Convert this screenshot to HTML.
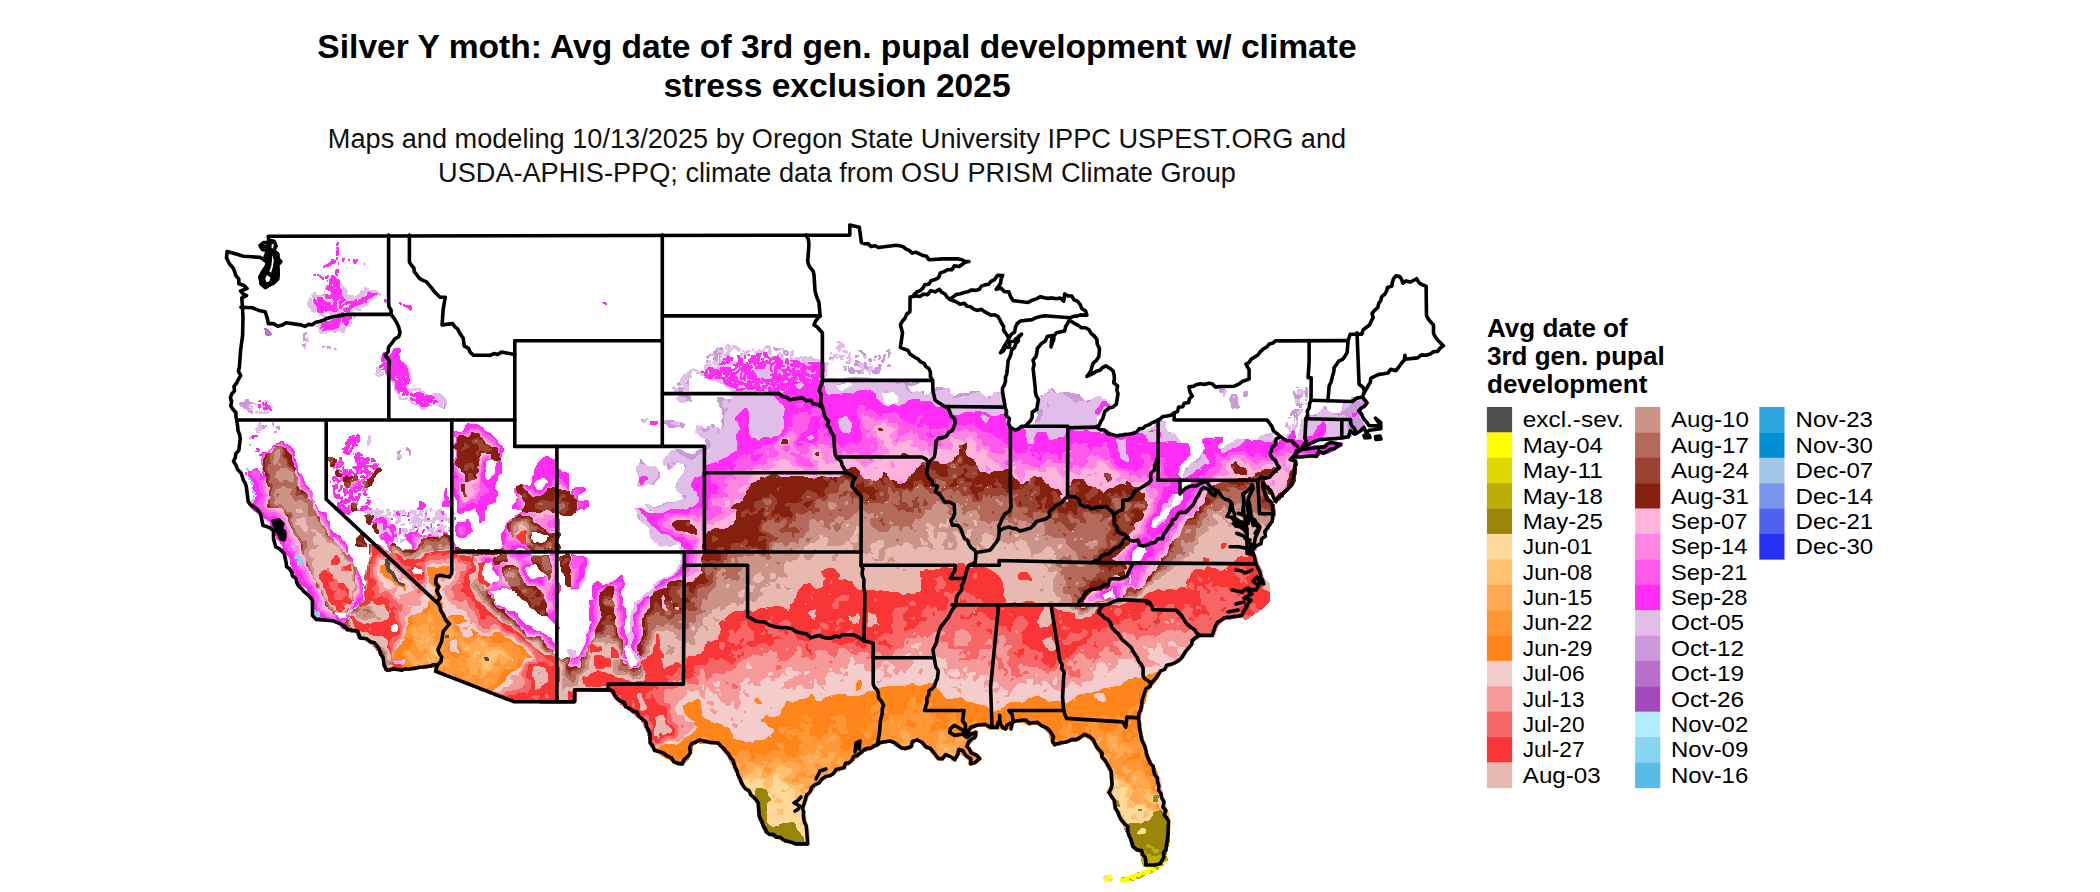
<!DOCTYPE html>
<html><head><meta charset="utf-8"><title>Silver Y moth</title>
<style>
html,body{margin:0;padding:0;background:#fff;}
body{width:2100px;height:892px;overflow:hidden;font-family:"Liberation Sans",sans-serif;}
svg{display:block;position:absolute;left:0;top:0}
text{font-family:"Liberation Sans",sans-serif;fill:#000}
.t{font-size:33.6px;font-weight:bold;text-anchor:middle}
.s{font-size:27.15px;text-anchor:middle;fill:#111}
.lt{font-size:26px;font-weight:bold}
.ll{font-size:21.4px}
.b{fill:none;stroke:#000;stroke-width:3.6;stroke-linejoin:round;stroke-linecap:round}
</style></head><body>
<svg width="2100" height="892" viewBox="0 0 2100 892">
<rect width="2100" height="892" fill="#fff"/>

<g transform="translate(0.5,0.5)" stroke-width="1.7" stroke-linejoin="round" shape-rendering="crispEdges">
<path fill="#CC98DB" stroke="#CC98DB" d="M638 514l-1 1l3 5zM401 510l2 0zM649 509l1 1l2 0zM675 502l-11 1l-2 2l-2 0l-4 2l-4 0l6 0l3 -2l2 0l2 -2zM682 494l1 3l1 -1l1 1l2 -1zM676 483l0 2zM658 471l0 5l-3 2l-3 6l1 0l1 -3l5 -5l-1 -1l1 -2zM1188 467l-3 2l0 2zM685 464l-1 1l1 1l0 2zM677 460l-1 0l-2 3l-2 -2l-3 2l-2 0l1 6l4 -3l-1 -1l1 -1l2 0zM669 463l1 -1l2 2l-2 1zM640 459l0 4l-1 1l3 -1l3 2l0 -1l-1 0zM397 456l1 2l-1 1l3 -1zM1200 455l0 2l-4 3l-1 2l2 0l3 -3zM400 450l-3 2l0 2l2 -1l0 -2zM406 447l0 2l3 2l0 4l1 -4zM711 444l-2 -2l0 -2l-4 -2l0 2l2 3l-1 1l1 2l-3 3l-6 1l-3 3l-4 2l-1 -1l-5 -1l-6 -4l-4 0l0 1l6 5l10 5l1 -1l2 0l9 -8l2 0l4 -3l0 -2l2 -1zM1271 433l-2 0l-1 2l-1 -1l-2 0l3 2l1 -2zM1168 432l1 1l1 0l-1 -1zM1358 432l-6 -1l0 1l-5 4l0 2l1 0l0 -1l2 -1l2 -3l3 2l2 -1zM275 431l-1 1l1 0l1 -1zM1364 429l-3 1l0 1zM718 428l-2 3l2 3l0 -3l1 -1zM1023 426l4 0zM700 426l2 2l0 3l5 0l3 -2l-2 -3l-2 3l-2 0zM276 426l0 2l2 0l1 1l0 -3zM265 425l1 1zM260 425l2 3l2 0l-1 -3zM261 426l1 -1l1 1l-1 1zM711 424l0 2l3 1l-1 -3zM1363 423l0 3l1 0zM1286 422l0 3l-1 1l2 -2zM1096 422l0 2zM272 422l0 1l1 1l0 2l0 -2l-1 -1zM1290 420zM1157 420l1 1l4 0zM663 421l0 1l3 1l3 4l4 0l1 -1l6 0l2 1l2 -3l-4 -2l0 2l-2 2l-1 -1l-3 0l-1 -1l3 -2l-2 0l-2 -2zM670 422l1 -1l2 0l1 2l-1 1l-2 0zM1288 419zM641 420l1 -1l2 0l-3 0zM1288 417l2 0zM1316 414l-5 2l-3 -1l-4 2l5 0l3 -2l4 1zM1302 409l-1 1l1 0zM1299 409l-4 0l-2 1l-3 4l0 1l1 -1l2 0l1 1l0 5l0 -3l1 -1l1 1l0 3l1 -1l0 -4l2 -1l-1 0l-2 -3zM1293 414l1 -1l2 0l1 1l-2 2zM1342 407l0 4l-4 3l-2 -1l-4 0l3 0l2 2l5 -1l-2 -1l2 -2zM1037 407l1 8l-3 6l0 4l0 -3l1 -1l3 0l1 -5l1 -1l2 0l0 -2l-1 -1l1 -2l-1 -1l-3 0zM1324 406l-1 2l2 0l1 1l0 -2zM1343 403l0 1l1 -1zM1305 403l1 0zM1296 405l3 -1l1 1l-1 2l2 0l-1 -2l1 -1l2 0l-4 0l-2 -1zM1365 402l0 4l1 -2zM1047 402l0 5l1 0l0 -4zM1038 402l0 3zM444 402l0 5l-1 1l2 -3zM1306 399l-1 1l1 0zM1092 399l-4 2l-1 -1l-1 2l2 0zM727 399l0 2l2 2l1 -4l-1 1zM240 402l-1 2l1 0l1 2l1 -1l3 3l1 -1l2 4l4 2l-1 -3l-1 1l-2 -1l1 -1l-2 -3l2 -1l0 -2l1 -1l1 1l2 0l-4 -1l-2 -2l1 -1l-2 0l-2 3zM244 404l1 -1l2 1l-1 1zM243 399zM717 397l1 2l-1 2l2 1l1 5l1 0l2 3l-1 3l2 3l0 1l-2 1l0 2l-1 1l1 1l0 4l-1 2l2 -1l1 -14l3 -3l0 -3l-1 0l-1 2l-4 -4l1 -1l0 -2l-1 -1l4 -2l-4 -2zM1360 397l-2 -1l-4 2l-1 -1l-1 1l-1 -1l0 2l3 1l3 -4l1 1zM991 396l-2 0l-2 3zM1042 395l-2 1l2 0zM681 395l0 1l2 0l3 3l-1 2l2 -1l3 0l1 1l-1 -1l-1 -5zM1231 394l0 2l-2 3l2 3l1 6l1 -1l3 0l1 1l-1 -1l1 -1l2 1l-2 -3l-1 -10zM1232 396l2 -1l1 2l-2 1zM1063 392l0 2l4 2l3 3l1 -1l1 2l3 2l2 0l1 -2l2 1l3 0l1 -1l-2 -1l-4 -5l-2 1l-3 -2l-1 1l-4 -2zM1001 392l-1 1l1 4l4 5l0 -2zM996 392l2 0zM1293 391l2 7l4 0l0 -1l3 -2l-6 0zM1296 397l1 -2l2 1l-2 2zM1247 391l-4 1l0 3l1 1l3 -1zM1047 392l3 0l-1 -1zM979 391l-8 0l-4 3l-7 -1l-1 1l-2 0l0 1l-3 2l-2 -1l0 2l10 -2l1 -1l6 0l2 -2zM922 391l-1 1l2 3l2 0l-2 0l-1 -1l1 -2zM887 391l-1 -1l-4 2l2 0l1 -1l2 1zM1051 388l0 2l4 3l-3 -5zM947 388l2 2l0 2l0 -3zM1305 387l1 1l0 2l-1 1l1 6l1 -1l0 -5l-1 -1l1 -2zM1296 387l2 0zM944 388l-2 0l-1 -1l-6 1l-3 2l-2 3l-1 0l3 0l1 -1l2 0l2 -2l6 -1zM683 387l-6 1l2 1l-1 2l5 -1l-1 -1zM1220 386l-1 5l3 1l2 -3l-1 -1l-2 0zM1303 385zM677 384l2 1l2 -1l-3 -2zM893 380l1 2l3 2l3 -2l3 0l2 3l0 2l4 5l3 0l-2 0l-4 -6l1 -1l4 0l8 -3l-9 1l-5 -2l-1 1l-3 0l-4 -2zM687 380l-2 4l2 -1l1 2l0 -5zM874 379l0 1l3 0l-1 -1zM868 379l1 -1l2 0l-3 0zM848 380l-2 0l-1 -1l1 -1l-1 0l-3 2l-3 0l2 0l1 1l-1 2l-5 1l3 0l1 -1l5 -1l1 -2zM851 377l2 1l5 -1zM871 374zM848 366l0 4l3 3l3 0l-1 -1l1 -1l3 0l2 2l2 0l-1 -1l1 -2l-4 1l-1 -1l-2 0l-3 -3l-2 2l-1 -1zM851 371l1 -1l2 1l-1 1zM845 366l-1 0l2 2l-2 1l0 1l2 -1l0 -2zM894 364zM887 365l0 1l3 0l-1 -2zM881 365l-3 -1l1 5l-2 1l-1 -1l1 -1l-1 -1l-2 1l1 1l-2 2l-1 -1l1 3l4 0l2 -1l0 -2l1 -1l-1 -3zM846 363l3 0zM864 362l0 5l-1 1l5 0l-3 -4l1 -1zM831 361zM704 361zM889 360zM855 360l1 1l-2 3l1 1l2 -1l1 2l0 -2l-1 -1l1 -1l2 0zM708 360l-2 0l0 2l0 -1zM869 358l-1 2l3 1l-1 -3zM829 359l4 -2l-4 0zM878 355l1 2l-1 2l2 -1l-1 -1l1 -1zM875 355l-1 2l2 0zM869 355zM855 357l3 -2l-3 0l1 1zM885 354l-1 0l-1 2l1 1l-1 2l-2 1l0 1l2 1l1 -7zM781 354l0 1l1 -1zM710 354l-4 3l2 1l0 -2l2 -1zM858 350l2 0l1 2l3 2l-1 1l2 0l0 -2l-2 0l-1 -2zM783 350l1 1l-1 1l1 2l2 1l2 -1l0 -3l-1 1l-1 -2l-2 1zM784 352l1 -1l2 2l-2 1zM889 349l-3 2l2 0l1 1l-1 5l0 -2l2 -3l-2 -1zM856 349zM716 348l0 2l-3 2l2 1l-1 1l1 2l-2 1l0 1l2 2l1 -1l1 1l-1 -5l3 -2l1 1l-1 1l0 6l0 -6l1 -1l-1 -2l1 -1l-3 2l-1 -1zM334 348l0 1l2 0zM304 348l1 0zM773 347l3 3l3 -2l-5 0zM718 349l5 -1l-2 0l-1 -1l0 1zM302 347zM327 346l0 2l1 -2l1 2l1 -1zM322 347l1 -1l2 0l-3 0zM305 343l-1 2l-1 -1l-1 1l3 1zM306 332l-3 2l0 2l1 1l-1 2l1 1l1 0l-2 -5zM322 294l0 1l1 -1z"/>
<path fill="#E1BEE7" stroke="#E1BEE7" d="M567 649l0 2l3 6l6 0l-1 -2l0 -5l-2 1l-3 -2zM587 557l-1 0l1 2l0 4l-2 5l-1 8l-1 2l-4 4l-1 0l1 2l-1 4l-1 1l-6 0l-1 -1l0 1l9 0l2 -4l-1 -2l5 -4l-1 -1l1 -1l0 -7l3 -6zM682 546l-1 1l-2 0l2 3l-1 4l2 4l-1 1l-1 5l-2 2l-2 5l-7 6l-4 0l-8 4l-1 2l-3 2l1 1l-5 6l-4 1l-1 2l-2 1l-2 4l-2 0l-3 3l-1 -1l1 1l-1 1l0 4l-3 4l-1 20l-2 1l-1 5l1 1l0 8l2 0l1 1l1 4l2 1l1 5l1 0l2 3l1 -1l-1 -5l-1 1l-1 -1l0 -2l-4 -3l-2 -5l2 -2l-1 -1l2 -3l0 -6l-2 -3l0 -3l2 -1l1 -4l-1 -1l-1 -6l4 -4l0 -6l5 -4l1 -3l2 -2l2 0l1 -1l1 1l3 0l2 -6l2 -1l-1 -2l2 -1l4 -5l4 -3l3 0l7 -3l1 -2l2 -1l0 -2l2 -1l1 -3l2 -2l1 -11l3 -4zM392 540l1 1l0 -1zM406 538l-3 2l-1 -1l-1 1l-1 -1l0 3zM396 537l0 4l1 0zM425 535l3 0zM394 530l0 4l2 -1l3 2l-1 -3zM402 528l0 3l2 1l0 2l-1 1l0 1l1 0l0 -2l2 -2l1 -3zM396 528l0 1l1 0l0 -1zM451 526l-1 1l-2 0l0 4l0 -2l1 -1l2 2zM453 523zM430 523l0 4l-3 2l1 2l3 0l1 1l-2 1l0 1l2 1l3 -1l3 2l3 0l1 -1l-4 0l-2 -2l1 -1l2 0l1 1l-3 -4l1 -1l4 4l2 -1l0 -2l-1 0l-1 -2l1 -1l1 1l2 -2l-1 0l-1 2l-1 -2l-3 -1l-2 4l-2 1l-1 3l-2 1l-1 -1l1 -1l-1 -1l2 -3l-2 2l-2 -2zM435 534l1 -1l1 1l-1 1zM423 523l0 2l2 0zM404 523l-4 2l3 0zM446 522zM453 520l0 1l1 0l0 -1zM1166 518l-1 1l-2 0l-4 3l-4 5l1 1l2 -3l2 -1l1 -2l3 -1zM1157 516l-5 3l0 2l0 -1l2 -2l2 0zM365 516l0 2zM432 510l1 0zM391 510zM451 520l-1 1l-1 -1l0 -2l-4 1l-1 -1l2 -2l-2 -3l-1 2l-3 -4l1 -1l-1 -1l-2 0l-1 2l-2 0l1 5l-3 2l-2 3l-1 -1l-2 0l-2 -2l0 -3l-2 1l0 3l-1 1l-3 -2l-3 4l-1 -1l2 -3l-1 -1l2 -3l3 2l0 -5l1 -1l-4 1l0 2l-2 2l-3 -2l2 -2l-1 -1l-2 0l-1 1l-2 -1l-1 6l1 -2l-1 -1l1 -1l2 0l2 2l0 2l-3 3l1 2l-3 2l2 -1l2 0l1 1l-2 3l0 2l-3 2l2 1l0 -2l1 -1l1 2l1 0l-1 -3l2 -1l-1 -2l2 -3l1 1l0 2l2 1l-2 1l0 2l1 1l0 2l-1 1l1 0l0 -6l1 -1l2 1l-1 -4l2 -2l10 1l1 2l1 0l-1 -2l2 -2l2 0l1 -1l2 2l0 2l0 -2l1 -1l1 1l2 -1l2 1l2 -1l1 1l-1 1l1 1l2 0zM441 517l1 -1l1 1l-1 1zM438 516l1 -1l1 2l-1 1zM414 516l1 -1l1 2l-1 1zM437 511l1 -1l1 1l-1 1zM427 509l-2 1l0 2l1 0l0 -2zM407 509zM404 509l-1 2l-4 -1l1 4l-2 2l-3 -2l1 -3l-1 -1l-2 0l1 1l0 3l-1 1l5 4l-2 1l-1 2l1 1l2 0l0 -1l2 -1l-1 -4l3 -3l3 0l1 -1l-2 -1zM395 516l1 -1l1 1l-1 1zM387 509l-1 1l2 2l-3 4l-2 -1l-3 1l2 0l4 3l1 2l-1 1l1 1l-1 2l2 1l-2 1l-2 3l-2 -1l1 -1l-1 -2l1 -1l-1 -3l-5 1l-1 3l1 1l0 2l2 2l0 3l4 -1l1 -2l3 0l1 1l0 2l2 2l2 0l-1 -1l0 -3l-2 -1l0 -3l-2 -1l2 -1l0 -3l-1 -1l2 -2l0 -2l-2 0l-3 -2l1 -1l3 0l1 -2l-3 -2l2 -2zM634 508l1 0l5 8l1 5l5 3l4 4l-1 1l1 1l-1 2l1 1l0 4l1 0l4 5l2 0l1 2l3 2l1 -1l6 0l1 1l6 -3l1 1l-1 -2l1 -1l2 0l-3 -1l-7 -6l-3 0l-1 -1l-2 1l-6 -6l-4 -2l-2 -3l-2 -1l-2 -3l0 -2l-6 -5l0 -2l-1 -1zM431 508l-2 0l1 1l0 2l0 -2zM364 512l5 1l1 2l2 0l0 -3l2 -1l1 2l-3 7l5 -5l1 1l2 -3l3 -1l0 -1l-1 -1l-2 1l-3 -2l1 -1l-2 0l1 1l-4 2l-2 -3l0 2l-1 1l-3 -2zM370 512l1 -1l1 2l-1 1zM375 511l1 -1l1 1l-1 1zM1173 493l-1 0l0 2l-2 1l-2 4l0 2l-1 1l-4 0l-1 1l0 4l-2 5l5 -6l4 -1l2 -2l0 -2l1 -1l-1 -1l3 -4l0 -2zM638 465l-2 3l0 2l2 3l1 4l5 -2l2 0l2 2l-6 8l-3 -2l-1 -2l1 -2l-2 4l1 3l3 0l6 -3l3 0l1 1l3 -6l3 -2l0 -7l-3 -3l-1 1l-2 0l-1 -1l-5 0l-3 -2zM398 454l-1 1l4 3l0 -3l-1 -1zM1205 454l-3 -2l-1 1l0 6l-4 4l-2 0l-1 -2l-3 2l-4 7l-3 2l-1 5l2 1l1 -2l2 0l2 -2l3 -1l3 -4l4 -1l5 -5l1 1l4 -1l-2 -2l0 -2l-2 -2zM1245 439l-7 0l-2 -1l2 1l-1 1l-2 0l-2 2l-7 3l-2 3l-2 0l-1 1l-1 5l2 -2l3 0l4 -3l2 0l1 -2l3 0l5 -2zM1115 439l3 7l0 4l1 1l1 7l8 4l0 -2l1 -1l-1 -1l0 -2l-3 -4l0 -12l1 -2l-5 1l-1 1l-1 -1zM370 435l-2 1l0 4l-1 1l0 3l1 1l2 -4zM812 434l-5 2l1 4l1 -1l5 -1zM1290 434l-1 -1l-3 2l1 1zM1272 431l0 2l-2 1l-2 3l-2 -2l-4 0l-2 1l-2 3l-1 0l3 0l4 2l8 0l1 -2l-1 -1zM1365 426l-2 1l2 2zM1287 425l0 2l2 2l0 2l1 0l0 -4zM1294 423zM671 422l0 1l2 0l1 1l3 0l1 1l1 -1l0 -2l-5 2l-1 -2zM259 422l-1 2l1 2l-4 3l2 1l-1 1l1 1l2 0l-2 -1l2 -2l2 1l0 -3l-2 -2l1 -2zM259 429l1 -1l1 1l-1 1zM1180 442l-6 -8l-2 -1l-3 1l-2 -2l-3 -6l1 -5l-2 0l-1 1l-4 0l-1 -1l-3 3l0 2l-9 5l-6 0l-1 1l-1 -1l-1 1l-11 0l-1 1l-4 0l-2 2l-6 0l4 1l1 -1l4 0l4 -2l8 0l1 -1l1 1l1 -1l5 0l5 4l0 2l2 2l-1 1l9 0l0 -3l2 -3l-1 -3l1 -1l1 1l1 -1l1 1l0 3l-2 3l0 3l1 1l3 0l5 -2l6 0l2 2zM1148 431l1 -1l2 0l1 1l-1 1l-2 0zM1151 430l1 -1l2 0l1 1l-1 1l-2 0zM1297 420l0 2l-3 4l-2 -2l1 2l-1 2l2 2l1 -3l2 -2zM647 418l-3 2l-2 0l0 2l3 0zM1359 416l0 2l1 1zM838 418l-1 2l1 1l1 7l3 4l2 1l2 -1l1 1l3 -1l2 -10l-2 -1l-3 -5l-4 0l-2 2zM981 414l-1 1l0 2l2 1l0 2l2 2l2 0l1 1l0 -2l3 -4l-2 0l-4 -3zM270 411zM1298 410l-1 2l1 1l2 0l1 -2l-1 -1zM255 413l2 -1l9 1l2 -1l0 -1l-1 1l-3 -2l1 1l-1 1l-2 0l-1 -2l-1 1l-5 1zM1352 430l-3 0l-2 -3l0 -2l-1 -1l1 -2l-1 -2l1 -1l-2 -4l-2 -1l-3 2l-3 0l-2 -2l-3 0l-1 -2l-2 0l-4 -3l-3 0l-2 3l-3 1l0 3l-1 1l-4 -1l-3 2l-5 0l-1 1l-2 0l0 5l-1 1l1 2l-3 8l0 2l1 1l-1 1l6 1l0 -1l-2 -1l1 -2l2 0l1 -1l1 1l1 -1l1 1l1 -1l3 0l0 -2l3 -4l0 -3l5 -3l2 -3l3 6l0 3l-1 1l1 1l-4 6l0 3l6 0l1 1l-1 1l1 2l10 -2l-3 0l-1 -1l1 -2l10 -1l0 -2l3 -2zM430 405l0 1l1 -1zM270 405l0 2l1 0l1 -1zM252 405l-2 0l0 4l-1 1l3 -2zM250 407l1 -1l1 1l-1 1zM434 403l-1 1l1 0zM254 403l1 1l2 0l-2 0zM408 400l2 1l1 2l1 -1l4 3l2 0l4 4l3 -1l0 -1l-3 0l-3 -3l-6 -1zM264 400l4 2l0 -1zM261 400zM1295 400l0 3l3 -2l1 2l2 0l-3 -2l1 -2l-3 0zM1295 400l2 -1l1 2l-2 1zM1363 398l-2 -1l-1 1l-2 0l-1 -1l-3 4l-4 -2l-1 2l-4 3l-3 1l1 2l0 4l0 -1l2 -1l1 -2l2 0l5 -6l7 -1l1 -1l2 1l1 2zM1233 396l0 1l1 0l0 -1zM676 398l1 0l1 2l3 2l3 0l1 -3l-2 -2l-2 0l-1 -2zM424 394l4 0zM431 395l3 0l2 4l1 -1l2 2l-1 2l2 1l-3 2l4 2l1 -1l0 -4l1 -1l3 2l-1 -4l-5 -5l-2 -1l-4 1l-1 -1l0 1zM440 401l1 -1l1 1l-1 1zM435 397l1 -1l1 1l-1 1zM439 396l1 -1l1 1l-1 1zM436 396l1 -1l1 1l-1 1zM1226 390l-2 0l-1 2l0 4l1 0l0 -3zM1297 390l1 1l-1 3l6 0l1 -3l-3 -2zM1011 428l0 2l4 0l4 -3l5 1l2 3l-1 5l2 3l-1 2l1 2l7 0l-1 -5l2 -5l2 -2l2 0l1 1l2 -1l2 1l1 -1l2 3l1 5l9 -1l2 -2l3 0l1 1l2 -3l2 -1l-1 -2l2 -2l4 0l1 1l11 0l1 -2l4 3l9 0l2 2l2 0l-1 -2l-5 -4l1 -1l-2 -2l0 -2l1 -1l0 -5l1 -2l-2 -1l-1 -2l4 -4l3 -6l5 -2l-4 0l-1 -2l-3 -1l-1 1l-3 0l-1 2l-5 4l-2 0l-1 -1l0 -2l-2 2l-5 -1l-1 2l-2 0l-2 -1l-2 -3l-1 1l-3 -3l-5 -3l0 -2l-8 2l-4 -4l0 -1l-1 0l-1 1l3 2l-1 1l-5 0l-2 3l-5 4l1 5l-2 1l2 2l3 0l2 2l-1 1l1 4l-1 1l-2 0l0 3l-2 3l-3 0l-1 5l-3 2l-4 -2l-5 0l-1 -1l-4 1l-3 2zM1047 401l2 2l0 4l-1 1l-2 -1l0 -5zM673 386l-1 2l1 -1l1 1l0 3l2 -1l1 1l1 -2l-3 -1zM1302 385zM790 385l-2 0l-1 3l-4 3l-2 0l-1 -2l-1 0l1 1l0 2l-1 1l4 -1l4 -3l0 -2l1 -1l2 0zM413 385l1 1zM393 384l1 1l0 4l1 2l2 1l2 6l1 1l1 -1l1 1l5 -1l-1 -1l-1 1l-5 0l-1 -1l1 -1l-1 1l-1 -1l0 -2l1 -1l-2 -1l0 -2l-1 0l-2 -3l1 -2zM736 382l0 2l2 4l2 0l1 -1l5 0l-4 -3l-5 1l-1 -1l1 -2zM814 381l-1 1l1 0l1 -1zM731 381l0 1l2 1l0 -1zM808 380l2 4l0 -2zM779 380l0 4zM788 381l-2 -2l-2 1l-1 3zM804 376l5 2l2 2l1 -1l-1 -2zM796 375l2 4l-1 1l-1 -1l-1 1l5 2l-4 2l-2 -1l0 1l2 1l-1 1l1 0l1 2l4 0l3 -4l-5 -4l-2 -5zM693 375zM793 376l-2 -1l1 -1l-2 0l0 1l-1 1l-2 0l0 1l4 0zM730 374l-1 0l-3 4l-2 -2l-2 0l0 1l1 -1l2 2l2 0zM385 373l0 2l2 1l0 2l6 4l1 -1l-4 -2l-3 -3l-1 -3zM786 371l1 2l1 -1l2 0l-1 -1zM734 374l0 1l4 2l-1 1l1 2l5 1l1 2l1 -1l2 1l-1 -2l6 -3l-5 1l-1 -1l1 -4l-2 1l1 2l0 3l-1 1l-3 -2l-2 1l-1 -1l0 -4l2 -5l1 1l0 6l1 -6l-2 -1l-2 0l0 2l-1 1zM806 369l0 3l4 2l2 -1l4 0l2 1l0 -1l2 -1l0 -1l-1 0l-2 3l-2 -2l1 -1l-2 0l-2 2l-1 -2zM702 370l-3 2l-2 -1l-1 -2l-1 1l-1 -2l-1 1l-2 0l-5 5l-2 0l-4 6l0 3l1 0l3 4l-1 2l1 1l4 0l0 -4l-1 -2l-2 1l-2 -2l1 -1l0 -2l2 -2l1 1l4 -3l-1 -2l1 -4l2 -1l4 3l-1 1l4 0l2 2l1 -1l-3 -2zM680 382l1 -2l2 1l-2 2zM686 375l1 -2l2 1l-2 2zM377 367l-1 1l0 5l-1 1l1 0l1 2l3 -2l2 1l1 -3l-1 0l-4 4l-1 -1l0 -2l3 -2l-1 -4zM872 366l-2 0l-1 1l1 1l-1 1l-4 1l3 -1l1 1l-1 1l2 3l-1 -2l2 -1l0 -2l1 -1l-1 -1zM868 371l1 -1l1 1l-1 1zM843 364l0 3l2 1l-2 -2zM776 373l1 1l0 -1l2 -1l1 2l2 1l1 -2l-1 -2l-2 -1l2 -2l4 0l2 -3l3 5l0 -2l1 -1l2 0l1 1l-1 1l4 0l2 2l-1 1l1 0l0 -2l-1 -1l3 -4l-1 -1l0 1l-3 2l-1 2l-1 -1l0 -2l-1 2l-1 -2l-1 1l-2 0l-2 -3l-1 1l-1 -1l-3 0l1 2l-1 1l-3 -1l-2 4l-2 -2l1 3zM760 364l0 2zM869 363l0 1l1 0zM858 363l1 1l0 2l2 1l0 2l2 1l-2 2l2 1l0 -4l-1 -1l1 -1l0 -4zM756 363l0 2l2 1zM404 363l0 1l2 1l1 4l2 2l-1 2l1 1l0 4l1 2l-1 2l-4 3l3 7l1 -1l2 1l1 -2l2 0l4 -2l1 1l0 2l5 1l-3 -1l-2 -3l-7 0l-1 2l-4 -2l-1 -2l4 -4l1 0l0 -4l-3 -8l0 -3zM843 362zM818 377l1 3l4 2l0 2l2 3l0 4l1 2l2 1l13 -1l1 -1l11 1l4 -3l2 0l1 -1l5 0l1 1l3 -1l4 2l3 3l-1 2l3 4l1 0l5 5l2 0l-2 0l-1 -1l0 -4l-3 -7l6 -4l2 3l1 -1l5 0l2 3l2 1l0 5l1 1l-2 3l-1 -1l-2 1l2 0l1 1l8 -2l4 -4l10 -1l1 1l0 2l2 0l1 -1l6 0l2 1l5 6l4 -1l0 -1l2 -1l2 4l5 3l1 2l3 2l2 0l1 -1l2 0l1 1l2 -2l5 -2l1 1l2 -1l5 1l2 -2l10 2l4 3l7 0l5 -2l4 0l1 1l0 3l-2 4l2 3l1 -1l-2 -1l3 -4l-1 -1l0 -3l-2 -5l0 -7l-1 1l-2 -3l-2 -1l-2 -7l-1 1l-2 0l-1 -1l-7 8l-2 -1l0 -2l-3 -1l-4 -4l-8 2l-2 2l-6 0l-1 1l-10 2l-1 -1l0 -2l1 -1l-4 -3l0 -2l-2 -2l-3 2l-6 1l-2 2l-7 1l-1 1l-1 -1l-1 2l-2 0l-3 -4l-2 0l-1 -1l-5 2l-3 0l-5 -6l-1 -4l-3 0l-3 2l-2 -1l-3 -4l-14 0l-1 1l-3 0l-1 -1l0 -2l-5 2l-1 -1l1 -2l-9 0l-4 2l-7 -2l-2 2l2 0l5 6l-1 1l-3 0l-1 2l-3 1l-4 3l-4 -3l-2 -4l1 -2l3 0l2 -1l0 -1l-5 0l-4 -3l-4 0l-3 3l-1 -1l0 -3l2 -3l0 -8l2 -3l-2 -1l-3 0l2 1l-1 2l1 1l0 4l-1 1l-1 9l-2 1l-1 -1l0 -3l-1 1zM776 363l-2 0l0 1l-2 1l0 4l1 1l-1 2l-3 -3l0 -4l1 -1l-5 0l1 1l-3 4l-2 0l-1 -1l-2 1l-1 -1l-1 2l-2 -5l-2 -1l1 -1l-1 -1l-6 6l2 0l-1 -1l2 -1l1 -2l3 2l-2 2l-1 3l1 0l1 -2l5 7l-1 1l3 0l1 1l-1 1l1 1l2 0l1 1l0 2l-2 1l-1 -2l-3 -2l-3 3l-1 -1l-2 1l0 1l3 0l2 -3l2 0l1 1l0 2l1 1l-1 1l1 1l2 0l-2 -1l3 -2l3 2l0 1l-3 2l2 1l-1 1l-4 0l-1 -1l-1 1l-2 0l-1 -1l1 -1l-1 -1l-3 2l-7 -1l-1 1l-7 1l-3 -4l-2 1l-6 -3l-4 -4l0 -2l-3 0l-1 -1l-1 1l-3 0l-1 -1l2 -3l2 0l-2 0l-4 4l-5 -1l10 2l3 2l4 1l3 3l4 2l5 6l-5 2l3 0l1 1l-1 1l-2 0l0 2l-2 4l-3 -3l0 -2l-4 2l1 1l0 2l-1 1l3 3l1 -2l2 1l0 3l-3 3l-1 14l-4 2l-1 5l-1 1l-3 -3l2 -4l-1 -1l-3 1l-4 -2l2 3l-4 3l-5 0l-1 -1l0 -3l-4 -3l-1 5l-1 1l7 6l2 1l1 -1l3 1l2 2l0 2l2 3l-2 1l0 2l-2 2l-8 4l-6 6l-4 1l-2 -2l-2 0l-2 -2l-3 -1l-7 -6l-4 1l-3 5l-2 0l0 2l-2 2l0 3l2 2l1 0l0 -2l1 -1l2 0l1 2l3 2l0 -1l-4 -3l3 -2l2 2l2 -3l1 0l2 3l6 1l1 1l0 4l-2 1l0 3l-6 8l-1 5l-2 1l2 4l6 4l3 0l2 2l-2 2l-2 0l-5 3l-1 -1l-2 1l-1 2l-10 1l-2 2l-2 0l-3 2l-6 0l-1 -2l-4 -2l-2 0l2 2l0 2l5 1l2 3l1 -1l1 1l7 0l9 -4l14 1l4 -3l3 0l5 -4l0 -6l-2 -2l1 -1l-7 -8l1 -1l0 -2l4 -6l1 1l5 -2l3 -8l3 -3l2 0l3 -2l5 -1l7 -4l2 0l6 -5l4 -1l0 -2l1 -1l0 -4l-1 -2l1 -1l-2 -3l0 -3l5 -7l-3 -5l0 -2l-2 -1l-1 -2l1 -2l10 -9l2 1l2 4l0 3l-1 1l0 3l1 1l-1 7l1 1l0 2l-1 1l1 1l1 5l4 0l3 3l2 0l1 -2l4 -2l2 1l1 -1l1 1l4 0l1 -1l6 -1l0 -1l2 -1l0 -2l2 -2l0 -2l1 -1l-1 -1l0 -6l-1 -1l2 -5l-1 -1l1 -1l0 -3l-2 -4l-3 -2l-5 -6l-3 0l-3 -2l3 -2l-1 -1l-1 2l-2 -3l0 -2l2 -3l5 6l-1 -3l1 -1l2 0l1 -5l-1 -1l-8 1l3 0l1 -1l1 1l2 -1l2 3l-2 1l-2 3l-1 -2l-3 -2l-3 2l-1 -1l1 -2l-1 0l-1 -2l-4 -3l1 -1l5 2l1 -1l4 0l1 -2l-2 0l-1 -2l5 -2l-1 -5zM712 362l6 4l-3 2l-2 -1l2 2l2 0l4 -3l10 0l2 -3l3 0l-1 -2l-1 2l-2 -1l-4 1l-2 3l-2 -1l1 -1l-4 2l-3 -2l2 -1l-4 -2l-1 1l-1 -1zM730 363l1 -1l2 1l-1 1zM709 360l-2 1l-1 2l1 1l-3 2l1 4l1 -2l5 -3l0 -1l-3 0l-1 -1l3 -2zM708 364l1 1l-3 2l-1 -1zM873 359l1 1l1 0l-1 -1zM833 358l-1 0l0 2zM783 358zM722 357l0 2l-1 1l-1 -1l0 2l2 -1zM866 356l-2 0l-1 1l2 1zM799 355zM783 355l-4 2l2 0zM833 354l2 3l2 1l-2 -2l1 -1l2 0l3 4l2 0l-1 0l-1 -2l1 -1l2 0l0 -1l-2 0l-1 1l-1 -1l-1 1l-1 -1zM711 353l0 2l1 -1l1 1l0 -2l-1 1zM831 352l-1 0l0 2zM785 352l0 1l1 0zM780 352l-2 2l2 0zM736 352zM850 351l-2 4l0 2l-1 1l-1 -1l1 1l2 -1l2 1l-3 3l-3 0l1 1l4 0l0 -2l1 -1l-2 -4zM835 351zM842 350l0 1l2 0l1 2l2 -2zM790 352l0 7l9 1l-1 -1l1 -1l2 0l1 1l-1 2l1 0l3 4l5 1l0 -2l-4 -3l1 -1l10 0l1 2l1 0l1 -2l-6 -1l-4 -3l-3 2l-1 -2l-2 0l-1 2l-1 -2l-1 0l-1 1l-5 0l-1 2l-2 0l-1 -1l0 -2l2 -2l0 -4zM750 351l-1 -1l-2 0l-2 1l-2 3l-1 -1l-1 1l-1 -1l0 1l1 1l1 -1l3 0l4 -4zM743 350l-1 1l1 0zM833 348zM778 350l4 -2l1 1l-1 -1l-2 0zM753 348l0 1l-1 1l1 -1zM831 347zM717 347l0 5l1 0l1 -2l3 2l-2 3l0 2l3 -4l0 -2l-1 -1l-4 0l-1 -1l1 -2zM833 345zM770 346l-4 -1l-3 5l-2 0l-1 1l-1 -2l-2 3l-1 -1l-2 0l0 1l10 -1l0 -3l1 -1l2 0l2 2l-1 3l1 0l1 1l-1 1l1 0l1 -2l-1 -1zM740 349l-6 -4l-2 0l1 1l-3 4l-1 -1l1 -4l-2 2l-1 5l-2 1l-1 2l1 1l2 -2l2 0l-1 -2l6 -5l1 0l4 4zM836 344zM728 344l-2 1l-1 4l0 -2zM836 342l3 0l1 2l-2 1l-2 3l-1 0l2 0l2 3l1 -2l-1 -1l2 -2l1 1l2 0l-1 -1l1 -2l-2 1l-1 -1l1 -1l-1 -1l-1 1l-1 -2zM839 346l1 -1l1 1l-1 1zM306 337l0 4l1 0l1 -1zM325 332l0 1l1 -1zM348 328zM346 326l-1 -1l-2 0l-1 2l-2 -3l-1 0l0 2l-4 3l-2 0l-2 2l-1 -1l-2 0l1 1l4 0l1 1l3 -2l3 0l1 2l1 -1l2 1l0 -2zM319 324l-3 2l1 -1l2 3l0 4l3 1l1 -2l-1 1l-2 -2l1 -1l-2 -1l2 -4zM324 321l-1 1l-2 0l3 0zM350 318l-2 4l0 4l1 0l2 -4zM349 320l1 -1l1 1l-1 1zM344 307l-2 0l-1 2l-1 -1l-1 1l-2 -1l1 1l-3 3l-7 -1l4 4l-3 2l-4 -1l-3 -3l-2 0l-1 2l4 0l2 2l4 1l1 1l-1 1l2 0l2 -3l0 -2l1 -1l4 1l2 -5zM361 309l-3 -1l-1 -1l1 -1l-1 1l-2 0l-1 2l-5 1l1 1l-1 1l-4 0l4 0l2 2l1 -2l1 1l0 5l2 -2l-1 -1l0 -2l-3 -2l2 -2l4 0l1 1zM355 308l1 -1l1 1l-1 1zM337 304l0 2l1 0zM339 300l-1 1l1 0zM369 299l-1 0l1 1l-3 3l-2 0l-1 1l-1 -1l-2 2l2 2l2 -2l2 0l2 -2zM325 298l2 2l-2 1l3 0l3 2l0 2l1 -2l1 2l1 0l-2 -2l1 -1l-1 -1l-3 0zM310 297l-3 6l1 1l0 2l4 3l-1 1l3 2l2 -4l0 -2l-2 -4l-2 3l-1 -1l0 -5zM329 294l1 1l0 -1zM311 294l2 4l3 -2l5 0l0 -1l-1 1l-4 -1l-2 -3l-1 0l0 2l-1 1zM324 290l0 4l-1 2l1 0zM325 285l0 2l1 0l0 -2zM340 283l3 6l-1 1l-1 5l1 1l1 -1l2 0l1 1l-1 1l2 1l-1 3l2 -3l2 0l1 1l-1 2l2 0l4 -3l2 0l1 1l5 -4l-1 -1l2 -2l1 1l3 -2l2 1l6 0l1 1l-2 2l-2 0l-3 2l4 -1l2 -2l2 0l1 1l0 -1l-3 -2l-1 -2l-1 1l-2 -1l-1 1l-1 -1l-3 1l-1 -1l1 -2l-2 1l-1 -2l-1 0l0 2l1 1l-1 1l-2 0l-1 -1l-2 4l-4 2l-2 0l-1 -1l-3 1l-4 -3l2 -3l-1 0zM352 298l1 -2l2 0l1 1l-2 2zM358 296l1 -1l1 1l-1 1z"/>
<path fill="#FF2CF5" stroke="#FF2CF5" d="M637 663l0 2l-1 1l-3 0l0 1l1 -1l2 0l1 -1zM626 661l1 1l0 -1zM577 657l-1 1l-4 0l2 1l1 -1l2 0zM638 653l-1 0l0 2zM624 650l0 6l1 2l1 0l-2 -3zM319 612l1 1l0 2l-3 2l2 3l3 -2l4 0l3 2l6 -1l4 4l2 4l3 2l0 -1l-1 0l-3 -4l1 -2l-1 -1l3 -2l2 1l2 -2l-7 1l-2 -1l-2 -3l0 2l-1 1l-6 1l-8 -7zM357 606zM497 606l5 1l1 2l2 0l2 3l3 2l2 -1l6 7l1 3l7 6l3 0l5 3l2 0l1 -1l3 1l9 9l0 2l5 3l1 3l1 -4l-1 0l-4 -4l0 -2l-2 -2l-2 0l-1 -2l-3 -1l-4 -3l-3 0l-4 -2l-2 -3l-5 -1l-8 -8l0 -3l-4 -3l-4 1l-6 -5l-2 0l-3 -2zM647 596l-1 1l-2 0l-2 4l-5 4l0 6l-4 4l1 6l1 1l-1 4l-2 1l0 3l2 3l0 6l-2 3l1 1l-2 2l2 5l0 -4l3 -6l0 -5l-1 -1l0 -2l-2 -2l3 -4l-1 -9l4 -4l0 -6l5 -4l-1 -1l2 -3l4 -2zM362 594l0 1l-2 2l-2 0l-1 1l0 2l-3 2l-1 6l0 -1l2 -1l3 -4l1 1l1 -1l-1 -1l1 -2l2 1zM358 602l1 -1l1 1l-1 1zM362 588l0 2zM497 589l2 0l2 -2l5 0l-6 0zM1118 586l-6 -1l-3 4l-7 2l-3 4l4 3l-3 -4l11 -5l0 -2l1 -1l1 1l0 6l2 1l0 2l2 2l1 -2l-1 -1l-1 -6zM496 582l-4 1l2 1zM1131 581l0 2zM621 575l-1 0l0 1l-4 4l-2 0l-1 2l-2 0l-2 2l-3 0l-3 2l-1 0l-1 -2l-4 -3l-4 3l-1 2l0 9l1 1l0 2l2 1l-1 1l-4 0l-1 1l0 2l1 1l0 3l-1 1l1 1l-1 2l1 2l-1 1l0 5l4 3l-3 3l-1 6l-3 4l1 2l-1 2l1 1l-7 14l2 -1l0 -2l2 -2l0 -2l3 -4l0 -2l1 -1l-1 -1l1 -1l-1 -4l3 -3l1 -2l0 -4l3 -4l-1 -8l-1 -1l1 -2l0 -6l-1 -2l4 -3l0 -8l3 -3l7 -2l1 -2l3 0l6 -3l3 0l3 3l0 1l-2 1l-2 3l0 3l2 2l-1 2l0 2l1 1l0 5l-1 1l0 2l1 1l0 2l3 2l-1 9l2 2l-3 4l-1 5l2 4l4 4l-2 5l2 0l1 -6l-4 -8l1 -1l-1 -1l0 -4l1 -1l0 -4l2 -4l-1 -1l0 -6l-4 -4l1 -7l-3 -5l2 -5l2 -1l0 -2l1 -1l-2 -5l0 -3zM595 586l2 -1l1 2l-1 1zM1132 571l-4 2l0 10l0 -4l1 -1l-1 -1l0 -2l2 -2l1 1l0 4l0 -3l2 -3zM356 569l2 4l-1 1l2 2l-1 1l0 2l2 2l0 3l2 1l1 -1l-2 -1l0 -3l-2 -2l1 -1zM524 564l-2 3l0 3l6 11l4 0l1 1l3 -1l3 2l3 0l0 -4l2 -2l-2 1l-1 -1l-3 0l-5 3l-1 -1l-2 0l-4 -4l-1 -4l-2 -2l2 -3l3 0l2 -2l3 0l-2 -1zM484 558l1 4l5 -1l1 -1l2 3l-1 1l1 2l-1 2l1 2l2 1l1 3l2 1l-1 -6l-2 0l-1 -1l0 -2l-1 -1l0 -2l1 -1l-2 -3l-2 -1zM571 554l0 1l3 0l3 2l3 0l4 2l-5 6l-1 12l-3 3l3 5l-4 3l-2 0l-1 -1l0 1l6 0l1 -2l-1 -4l2 -1l4 -5l1 -8l2 -5l0 -4l-1 -2l-9 -1zM348 554l0 2l2 4l2 1l-1 -2l1 -1l-1 0zM556 552l2 1l-2 2l0 7l-1 1l0 2l1 1l-1 2l1 2l0 8l-1 1l0 5l-1 1l0 2l-2 2l1 2l-2 2l3 4l1 12l-8 6l12 13l-3 -5l0 -5l1 -1l0 -5l1 -1l-1 -16l3 -6l0 -3l-3 -5l0 -6l-1 -1l0 -18l3 -4zM509 553l1 1l4 0l3 2l2 -1l5 0l1 -1l5 0l-5 -2zM508 550l3 0l7 -3l5 0l1 1l8 2l-1 -1l-3 0l-4 -3l-2 0l-3 -2l-2 0l-3 2l-2 0l-1 -1l-1 4zM428 534l1 1l2 0zM443 532l0 2l2 -1l2 1l0 -1zM418 533l-8 -1l-2 2l-2 0l-1 1l2 3l-1 1l1 0l6 7l-1 1l1 1l-1 1l-4 0l2 1l1 -1l2 0l0 -3l1 -1l-2 -2l-1 -9l1 -1l1 1l3 0l1 -1l2 2l2 0l-2 0zM449 530l0 1l2 1l0 -1zM438 530l1 1l1 0l-1 -1zM424 529l-1 0l-1 4zM417 529l0 1l-2 1l2 0zM400 528l-1 1l0 4l1 0zM434 526zM426 526l0 1l2 1l0 -1zM416 526l-2 1l2 0zM505 525l0 4l-4 5l1 1l-1 1l1 2l-1 1l2 3l-1 1l1 2l0 -2l2 -1l-1 -4l2 -4l-2 -3l2 -4zM437 525l2 -1l-2 0zM431 523l0 4zM441 520l0 1l1 0zM468 519l-1 0l-2 3l-6 0l-1 1l-1 -1l0 2l-2 3l0 3l1 1l0 3l2 2l5 1l2 -1l3 -4l2 1l-1 -1l2 -2l1 1l-3 -6l1 -1l-2 -3zM460 525l3 0l3 3l-2 3l0 2l1 1l-1 1l-5 -1l-1 -1l-1 -5zM408 519l0 1l1 -1zM450 518l0 1l1 -1zM427 518l1 1l1 0l-1 -1zM404 518zM391 518l0 1l1 0zM454 517l1 1l-1 1l1 -1zM379 517l-1 2l-1 -1l-3 3l-3 1l2 0l1 1l2 -3l3 -1l1 1l-2 2l4 -1l2 3l-1 2l1 2l-1 1l1 0l2 -3l4 2l0 3l2 1l0 3l1 1l-1 1l-2 0l-3 -3l0 -2l-3 0l-1 2l-2 0l3 2l-1 1l-3 0l2 2l2 0l3 5l0 -3l1 -1l3 0l2 -2l0 -2l1 -1l1 1l1 -1l0 -1l-1 1l-2 -1l0 -4l1 -1l1 1l-1 -5l-4 -1l0 2l-1 1l-3 -1l-1 -1l1 -2l-1 -1l1 -1l-1 -2l-3 -2zM389 539l1 -1l1 1l-1 1zM558 516l-1 5l-1 1l-3 -1l0 2l4 0l1 1l1 6zM429 516zM402 515l3 0zM518 514l-1 1l-2 0l3 0zM453 513l1 0zM426 513l-1 1l1 0zM408 512l0 3l-1 1l1 0zM441 511l2 3l0 -3zM397 511l-1 3l2 1l1 -1zM317 510l9 8l0 4l2 2l1 6l3 6l6 1l3 3l0 2l5 4l0 6l1 0l-1 -1l1 -1l-1 -5l-2 -3l-3 -2l-1 -3l-2 -2l-2 0l-1 -2l-1 1l-4 -4l-1 -2l0 -6l-3 -2l0 -4l-1 -1l1 -1l-1 -2l-5 0zM370 508l-2 0l-2 -3l-1 1l-3 0l-2 3l1 1l2 0l3 -2l3 0l1 1zM424 503l-4 -2l-1 1l1 1l-1 4l-2 2l4 0l4 -4zM367 499l0 3l-2 1l3 0l1 1l-1 -2l1 -1l1 1l0 -1zM367 500l1 -1l1 2l-1 1zM517 498l0 2l-2 3l-2 1l-1 4l5 0l1 1l2 0l-4 -4l1 -1l-1 -1zM367 497l2 0zM516 494l1 2l0 -2zM362 492zM365 490l-2 4l2 1l2 -1l-2 -1zM445 488l0 3l-1 1l1 8l-3 3l0 3l7 0l0 -5l-1 -1l0 -3l-2 -1l0 -8zM576 487l-4 3l-1 5l0 -2l4 -4l4 1l1 1l-3 2l-1 7l7 4l-1 2l-4 1l-2 3l3 -2l4 0l1 1l0 -1l4 -3l-1 -5l-2 0l-1 1l-6 0l-2 -4l2 -4l2 0l2 -2l2 0l1 -2l-3 -2l-2 1l-1 -1l-1 1zM578 488l1 -1l1 1l-1 1zM341 485l-1 1l0 3l-2 2l2 -1l2 -4zM359 481l-5 6l-2 0l1 1l0 2l-1 1l-2 -2l-2 3l-1 -2l-1 1l-2 -3l-1 1l1 1l-1 1l2 2l-1 2l2 -1l1 -2l2 1l0 4l-2 3l-1 -2l-3 3l-1 -1l0 -4l0 1l-2 1l-2 -2l1 -1l-1 -1l-2 1l-3 -4l0 -1l4 -3l0 -2l-1 -1l-3 2l-1 -1l1 2l0 4l1 1l-1 1l2 3l-1 1l7 1l1 1l-3 4l-2 -1l0 4l-2 2l0 2l1 -2l2 2l-1 1l5 -1l3 3l2 0l1 1l2 -3l-2 -3l0 -3l0 2l-1 1l-4 -3l0 -2l1 -1l1 1l1 -1l3 0l2 -4l2 1l-1 1l2 0l2 -2l1 1l0 2l3 -8l-2 0l0 2l1 1l-1 1l-2 -1l-2 3l-2 -3l0 -3l-1 -1l2 -2l1 2l1 0l2 -2l2 0l3 -4l-4 -3zM347 510l1 -1l1 1l-1 1zM341 504l2 2l0 2l-1 1l-3 -2zM340 502l2 -1l1 1l0 2l-1 1zM343 491l1 -1l1 1l-1 1zM354 489l2 -2l3 2l-1 1l-3 0zM356 484l1 -1l2 3l-2 1l-1 -1zM330 481l0 1zM1157 480l0 1l4 0l-1 -1zM646 476l-6 1l-1 1l1 1l-1 2l2 3l1 0l2 -4l3 -2zM333 476l-1 3l2 -1l2 1l-3 2l3 -2l2 4l-1 -2l1 -1l2 1l-4 -3l0 -2zM333 477l1 -1l1 1l-1 1zM364 476l-2 -1l-2 1l0 1zM246 472l-1 1l1 1l-1 -1zM1212 470l1 1l0 -1zM340 470l0 1l1 0zM249 471l-1 1l0 4l2 1l1 3l2 1l0 2l1 1l-2 4l1 0l2 3l2 1l-2 2l1 -1l1 1l0 2l-2 2l0 2l-5 6l5 5l3 1l4 5l2 0l6 4l1 7l2 3l2 1l0 2l2 2l-1 1l5 6l2 4l-1 2l1 1l0 2l1 1l2 0l4 5l1 7l2 4l-1 1l3 3l0 2l1 1l-1 1l2 2l-1 1l1 3l3 2l2 0l4 2l2 2l-1 1l4 5l3 7l0 6l-1 1l0 2l0 -2l1 -1l1 1l0 2l2 0l-1 -1l1 -1l-1 -2l0 -5l-2 -2l0 -7l-3 -3l0 -4l-3 -1l-4 -5l0 -2l-2 -2l0 -3l-4 -4l-1 -4l-3 -4l-1 -7l-2 -2l-3 -1l-2 -2l1 -1l-3 -3l0 -3l3 -3l-1 -5l-2 -2l1 -2l-3 -1l-2 -2l1 -1l-3 -3l-2 -7l-6 0l-2 1l-1 -2l-6 -5l0 -1l-6 -3l4 -8l3 -2l-1 -4l-3 -3l1 -6l-2 -2l1 -1l5 -1l2 -4l-2 -2l0 -2l-1 0l2 5l-2 1l-6 -9l-5 3zM300 579l2 -1l1 2l-2 1zM255 469l1 0l4 5l0 3l-3 4l-4 -4l0 -1l-3 -2l0 -1zM378 463l0 1zM500 460l-3 2l-1 2l0 2l-1 1l0 6l-1 2l-3 2l-1 2l-4 2l-2 -5l0 -5l1 -1l-1 -1l0 -2l1 -1l-1 -5l4 -2l-3 0l-2 2l0 9l-2 4l0 7l1 2l7 6l0 2l-2 2l-3 0l-1 2l-3 1l0 3l-2 1l0 3l-1 1l-3 -2l-4 0l-2 2l-3 0l0 1l-4 3l-3 -2l0 -12l-2 -2l0 -3l-3 -4l0 -5l2 -2l2 0l1 -1l-5 -7l0 -7l0 8l1 1l0 2l-2 5l0 7l1 1l0 6l4 7l0 12l2 0l1 1l5 -3l6 -1l3 -2l2 0l1 1l-1 2l3 6l0 5l1 1l2 -3l1 1l1 -1l0 -3l-1 -1l1 -1l0 -4l2 -2l0 -3l3 -2l2 0l4 -2l0 -3l2 -4l0 -2l-3 -3l0 -5l1 -1l0 -2l2 -2l-1 -2l2 -3l3 -2zM371 459l0 2l4 0l-3 -3zM340 457l-1 0l0 4l-1 1l3 2l-2 2l-4 1l4 0l4 -4l-2 -2l0 -3zM340 462l1 -1l1 1l-1 1zM339 461l1 -1l1 1l-1 1zM524 485l4 3l4 -1l2 4l2 0l1 1l5 0l2 -3l2 -1l0 -2l1 -1l4 0l1 -2l-1 -2l3 -4l4 0l4 2l0 2l4 4l2 4l0 -15l-1 -1l-6 -1l-2 -3l-2 -1l0 -2l-2 -1l0 -3l-1 -1l1 -1l-6 -2l-1 -2l-2 0l-1 1l-2 0l0 1l-6 6l-2 4l-1 7l-2 2l0 5l-2 4l-2 1l-2 -2zM544 476l5 6l-3 2l-5 7l-1 -1l-4 0l-3 -6l0 -2l5 -4zM353 453l0 1zM377 466l-2 -3l-4 3l-2 -1l-4 0l-1 -1l1 -1l3 0l-1 -2l2 -1l-1 -3l-2 0l2 2l-1 1l-5 -3l-3 0l-1 -2l1 -1l3 1l0 -1l-1 1l-1 -2l-2 -1l-3 2l0 2l-1 1l1 1l0 2l2 2l0 4l-1 1l-1 -1l-3 1l4 2l0 4l-2 1l-4 -5l-1 0l0 2l-1 1l-1 -1l0 -2l-1 1l-4 -2l1 -2l-1 2l1 1l0 3l-1 1l-2 0l1 0l1 2l1 -2l1 2l1 0l1 -2l1 2l4 1l1 -1l-2 0l-1 -1l2 -2l5 3l-1 -1l1 -1l4 0l2 -2l2 0l1 2l2 1l0 2l-2 2l-2 0l4 -1l1 -4l1 -1l1 1l0 -1l-5 -4l2 -2l3 0l4 3l2 -1zM344 471l1 -1l1 2l-1 1zM359 469l2 2l-3 2l-1 -2zM359 466l1 -1l1 2l-1 1zM364 464l1 1l-2 2l1 1l0 2l-2 1l-1 -1l0 -4zM362 461l2 -1l1 2l-2 1zM356 460l2 -1l2 2l-2 2zM359 459l1 -1l2 0l1 2l-1 1l-2 0zM268 452l-5 0l-2 2l-2 0l0 1l3 0l2 -3l1 2zM259 449l-2 -1l-1 1l2 1l-1 1l-2 0l2 0l2 -1zM859 447l0 2l1 0l1 -1zM274 445l-2 1l0 1l1 0zM865 441l2 0zM276 443l4 0l2 -1l2 3l5 2l2 2l2 4l0 7l3 4l0 3l1 1l0 6l5 4l0 3l2 5l2 2l3 1l-4 -4l-4 -10l-4 -3l-1 -9l-1 -1l0 -2l-2 -2l0 -3l1 -1l-1 -4l-5 -5l-4 -1l-2 -3l-2 0l-1 2zM456 439l0 2zM346 438zM251 437l2 1l1 -2l3 0l-1 -1l-4 0zM357 434l-2 5l-2 -2l1 -1l-1 -1l-1 0l-1 2l-1 -1l-2 1l2 1l-2 1l-2 3l-1 0l1 3l-1 2l-3 2l2 0l1 1l-2 2l5 2l7 -10l1 1l1 -1l-2 0l-1 -1l1 -1l-1 -1l2 -2l2 3l1 -2l0 -4zM352 443l1 1l-1 1l1 1l-2 1l-1 3l-2 2l-2 -3l2 -1l1 -4l1 -1zM347 442l1 -1l1 1l-1 1zM352 440l1 -1l1 1l-1 1zM937 433l2 3l-1 1l6 -1l0 -2l-3 1zM1152 430l-1 1l-2 0l2 0l1 -1l2 0zM454 431l0 4l1 2l0 -2l-1 -1l0 -2l1 -1l1 1l6 0l1 -1l5 -1l3 -3l6 0l6 5l10 5l1 2l2 1l-1 3l1 1l2 0l2 3l0 5l1 1l-1 4l1 -5l2 -1l0 -2l-2 -3l-4 -3l-1 -4l-1 0l-1 -2l-1 0l-4 -4l-5 -2l-2 -3l-6 -4l-7 0l-1 -1l-3 3l0 2l-3 4l-5 0l-1 -1zM650 424l1 -1l5 1l1 -3l-3 0l-1 1l-2 -1l-1 1zM1360 411l-4 0l-2 2l-2 -1l-1 1l1 1l-1 2l4 0l1 -2zM260 404l-2 0l1 4zM262 402l0 1l4 3l-1 2l-2 -1l0 2l3 0l2 -2l3 3l-2 -3l0 -2l-2 0l-1 -1l0 -2l-1 0l1 1l-2 2l-1 -1l0 -2zM266 407l1 -1l1 1l-1 1zM1106 401l-4 0l-3 6l-4 4l0 1l3 2l5 -9l3 0l1 1l1 -1l1 1l0 -1l-4 -3zM260 400l-1 1l-1 0l1 0zM410 394l3 2l3 0l1 2l-2 2l-5 -3l0 1l2 2l3 0l2 3l2 0l3 3l1 -1l3 1l3 -2l-2 -1l1 -2l3 1l1 -2l1 1l0 2l1 -1l3 0l-1 -2l-2 0l-1 1l-2 -2l1 -1l2 0l-1 -2l-8 -1l-1 2l-2 -3l1 -1l-2 1l-1 -2l-5 1l-2 2l-2 -2zM424 401l1 -1l1 1l-1 1zM416 401l1 -1l1 1l-1 1zM429 400l1 -1l2 1l-1 1zM420 400l1 -1l4 3l-2 1l-2 -1zM426 399l1 -1l1 1l-1 1zM425 398l1 -1l1 1l-1 1zM431 397l1 -1l1 1l-1 1zM702 371l-1 1l1 0l1 -1zM787 358l-2 1l1 1l-1 1l1 1l-1 1l2 0l1 1zM744 355l0 2l1 1l0 -3zM733 358l-4 -1l-2 -2l0 2l-1 1l-3 0l0 3l-4 3l4 0l3 -2l1 1l2 -3l3 0l-1 -1zM723 359l1 -1l3 3l-1 1l-2 0l-1 -1zM749 354l-2 1l2 0zM738 353zM736 353zM638 508l1 0l2 2l0 2l6 5l0 2l5 6l4 2l6 6l1 -1l5 1l7 6l5 2l1 1l0 3l6 4l-3 4l-1 11l-2 2l-1 3l-2 1l0 2l-2 1l-2 3l-7 3l-3 0l-4 3l-1 2l-4 3l1 2l3 -4l4 -1l2 -4l2 0l2 -2l7 -2l5 -4l2 0l6 -6l-1 -10l2 -1l1 -2l0 -9l-2 -2l-3 -1l-2 -3l-2 -1l-6 0l-6 -3l-1 -2l-4 0l-2 -2l-1 1l-2 -2l-1 -3l-3 -4l2 -5l5 0l0 -2l4 -3l3 0l1 1l2 0l1 -1l4 0l1 1l1 -1l2 1l6 0l4 -5l3 0l1 -1l1 1l4 -1l2 2l5 1l1 -1l-2 -3l1 -2l-1 -4l3 -3l0 -2l2 -2l2 1l1 -1l2 0l1 1l0 -2l-2 -2l3 -3l0 -1l-3 -2l-5 -1l-1 -1l1 -2l-2 -2l2 -4l2 -1l0 -3l2 -1l6 4l1 -1l3 0l2 -4l3 2l3 0l0 -2l3 -2l-3 -4l3 -2l4 -5l2 0l3 -3l2 4l2 -3l2 2l-1 3l1 0l1 2l6 1l0 -3l1 -1l2 0l2 -4l-1 -1l-2 2l-1 -1l-2 0l-2 2l-2 0l-1 -2l5 -5l2 0l1 1l2 -3l-1 -1l1 -1l2 1l4 -2l3 0l1 -2l5 -1l0 -2l6 -4l4 -4l0 -2l2 -2l3 0l1 -1l-1 -1l-1 -7l2 -1l-1 -2l1 -1l5 0l1 -1l6 -1l3 3l3 0l1 -3l-2 -2l4 -2l8 2l2 3l-1 2l-3 0l-2 2l-5 -1l-4 3l1 3l-2 3l0 4l-2 3l-6 2l-2 6l-2 1l0 5l6 0l0 -2l-3 0l-1 -1l1 -2l2 1l2 0l1 -1l5 3l5 -1l3 -2l2 -3l-2 -3l0 -4l1 -1l2 0l0 -4l1 -1l2 4l2 0l2 2l0 2l-4 2l0 2l3 -2l1 2l3 2l3 5l4 -1l3 5l3 0l7 -6l2 2l2 0l3 2l0 -1l3 -2l0 -2l1 -1l0 -8l-1 -1l-1 -12l-2 -2l-1 -7l4 -5l2 0l4 3l-1 1l0 2l2 0l2 -2l2 0l1 2l4 3l0 1l1 -1l2 1l0 3l1 0l2 -3l3 -2l5 0l2 1l2 -2l6 5l0 2l1 1l1 -2l1 1l0 2l2 0l3 3l3 0l1 1l2 0l1 -1l2 -6l4 -3l1 1l0 2l-2 1l0 4l-1 1l-2 0l0 2l-1 1l7 1l-1 -2l2 -2l2 1l3 3l0 4l-3 2l0 2l3 2l5 0l1 -1l0 -1l-2 0l-4 -5l2 -2l1 1l2 -1l4 0l2 1l2 -2l6 1l0 -3l-1 -1l2 -2l3 0l4 3l2 0l1 -1l7 1l1 -2l2 0l2 2l1 -1l-1 -1l3 -2l1 1l-1 1l0 2l3 4l2 -1l4 4l-2 1l0 1l4 -3l5 1l7 6l5 1l2 4l7 2l2 2l0 2l2 4l11 -1l1 -2l0 -4l1 -1l2 0l1 1l0 2l-2 1l0 2l3 2l-1 2l3 1l5 5l2 -1l0 -4l4 -3l1 -2l2 0l2 2l-2 2l2 0l1 -2l3 0l4 3l0 4l1 0l3 -2l-1 -3l3 -4l6 -1l0 -3l4 -6l4 3l8 -2l2 2l-2 2l4 4l2 0l-1 -2l2 -2l2 1l2 -1l4 1l2 -2l-1 -3l4 -2l1 1l-1 6l3 2l-1 3l2 1l-1 4l2 0l4 3l-1 2l1 2l3 3l2 0l1 1l5 0l1 1l4 0l4 3l3 -3l4 -1l2 -9l-2 -1l-2 -3l3 -3l2 1l4 0l1 1l-1 1l2 1l0 2l-2 2l6 0l2 -2l2 0l2 -2l2 0l2 2l-2 4l0 3l1 1l0 7l1 2l3 2l-1 4l1 0l2 3l-3 3l-2 0l-2 -2l-1 1l1 1l0 2l-1 1l0 6l-5 6l0 2l-1 1l0 3l1 1l-6 7l-5 9l0 2l1 1l0 6l4 3l-2 2l-3 -3l-5 2l0 1l-2 1l0 3l-1 1l-2 0l-4 3l0 2l-3 3l0 2l-1 1l0 2l2 2l0 5l3 2l7 0l3 -2l1 -3l4 -4l3 0l3 -2l-1 -3l2 -3l-2 0l-1 -1l0 -2l2 -2l0 -3l-2 0l-1 -1l0 -2l1 -1l2 0l0 -1l4 -3l4 0l2 1l-2 -2l2 -3l1 1l5 -1l1 -2l3 -2l0 -4l3 -6l3 -3l5 -1l2 -2l-2 -3l1 -5l5 -4l-1 -3l1 -2l3 -2l-1 -1l3 -3l3 0l2 -3l0 -2l-2 0l-1 -1l1 -2l-1 -3l1 -1l2 0l2 3l1 -1l0 -4l5 -3l3 -3l2 1l1 -1l0 -4l-1 -1l0 -2l2 -2l0 -1l-2 -1l0 -2l1 -1l3 0l2 4l6 0l4 -5l10 1l2 -2l2 0l4 5l2 0l1 1l3 0l4 -4l2 0l1 1l-1 2l3 2l4 0l-1 -2l1 -2l2 0l1 -1l5 0l3 -3l1 1l3 -1l3 -6l3 -3l2 0l1 1l1 6l2 1l7 0l3 4l4 0l5 4l3 0l4 -2l7 -1l6 -3l2 -2l5 -2l2 -2l-2 -2l-1 1l-3 0l-5 2l-2 0l-1 -2l-2 0l-3 2l-9 0l-1 1l-3 0l-1 -1l10 -5l2 0l0 -3l4 -6l-1 -1l1 -1l0 -3l-2 -5l-2 3l-4 2l0 3l-2 2l-2 5l-3 0l-1 1l-1 -1l-1 1l-1 -1l-1 1l-2 0l0 1l2 1l-1 2l-2 0l-1 -1l-7 0l-1 -1l2 -3l-1 -1l-1 -5l-2 1l0 3l-4 4l-7 2l-2 3l-4 0l-1 -1l0 -2l-1 2l-8 0l-4 -2l-9 1l-5 -2l-6 7l-5 2l-3 0l-1 2l-2 0l-4 3l-3 0l-2 2l-1 -1l1 -4l-3 -2l-1 -3l3 -3l2 0l1 -5l-7 0l-1 1l-12 1l0 2l3 3l-1 1l1 1l0 3l-2 1l0 2l3 2l1 3l2 2l0 2l2 2l-4 2l-2 -1l-5 5l-4 1l-3 4l-3 1l-2 2l-2 0l-1 2l-1 -1l-2 1l-5 -4l0 -2l2 -4l-1 -2l3 -5l4 -3l4 -5l1 0l-1 -2l0 -5l-2 -4l-11 0l-2 -2l-6 0l-1 1l-7 1l-2 -2l0 -3l2 -3l0 -3l-1 1l-1 -1l1 3l-2 3l0 3l-1 1l-9 0l-1 -1l1 -1l-2 -2l0 -2l-4 -3l-5 0l-1 1l-1 -1l-1 1l-8 0l-4 2l-7 1l-2 -1l-3 -5l-2 -1l-3 1l-2 3l-2 0l-2 -2l-9 0l-4 -3l-1 2l-11 0l-1 -1l-4 0l-1 1l1 2l-2 1l-3 4l-1 -1l-3 0l-2 2l-3 0l-1 1l-5 0l-3 -8l-1 1l-2 -1l-1 1l-4 -1l-3 6l1 5l-1 1l-7 0l-2 -2l1 -3l-2 -3l0 -2l1 -1l-1 -4l-5 -1l-4 3l-4 0l-1 -1l0 -4l-2 0l-4 -5l2 -4l0 -3l-4 0l-5 2l-7 0l-4 -3l-10 -2l-2 2l-2 0l-1 -1l-4 1l-1 -1l-5 2l-2 2l-1 -1l-5 1l-3 -2l-1 -2l-5 -3l-2 -4l-1 0l-1 2l-4 1l-5 -6l-2 -1l-6 0l-1 1l-2 0l-1 -1l0 -2l-10 1l-4 4l-2 0l-4 2l-2 0l-4 -2l-3 2l-6 0l-8 -7l-2 -3l1 -2l-6 -4l-2 1l-2 -1l-5 0l-1 1l-2 0l-4 3l-11 -1l-1 1l-13 1l-2 -1l-2 -3l0 -4l-2 -3l0 -2l-2 0l-3 -4l1 -2l1 1l1 -1l1 1l0 3l1 0l0 -4l1 -1l0 -4l1 -1l0 -4l-1 -1l1 -2l-1 0l-1 -2l-3 2l-2 -1l-9 0l3 2l0 2l-2 1l-1 -1l-3 0l-3 -3l-2 0l-1 -2l-9 -1l4 2l-2 2l-2 -1l1 3l2 0l1 -1l1 2l-1 1l-2 0l0 2l-1 1l-2 -2l-1 -3l-2 3l-4 0l-1 1l1 0l2 3l-1 2l-2 1l-2 -3l-1 0l-1 2l-2 -2l2 -2l-1 -2l1 -2l2 2l2 -4l3 1l-3 -2l1 -1l-1 -1l1 -2l-2 0l-1 -1l1 -1l-1 0l-2 -3l-1 2l-2 -1l-3 2l-2 0l-2 -2l-1 -3l-1 -1l-2 0l0 2l2 3l2 -1l3 4l-1 1l-2 0l-1 -1l-1 1l-2 0l-1 -1l1 -2l-1 1l-1 -1l1 2l-1 2l-2 1l-3 -4l1 -1l2 2l0 -4l2 -3l-2 0l-1 1l-2 -1l0 2l-1 1l-1 -1l-2 0l-1 1l1 1l-4 3l2 2l-1 1l-2 0l-1 -1l0 2l-2 1l-2 -2l0 -5l-2 0l-2 -3l-1 1l2 3l-1 1l0 2l-2 2l-3 0l0 1l1 -1l1 1l0 3l-1 1l-5 1l-1 -1l2 -2l-9 0l-2 2l-4 1l-4 -3l-1 1l-1 -1l-4 4l-1 4l2 1l-2 1l3 -1l2 2l2 0l3 -4l3 -1l1 2l-1 1l-2 0l-1 2l3 0l1 -1l1 1l3 0l1 1l0 2l3 3l6 3l2 -1l3 4l3 0l5 -2l7 1l2 -2l3 2l-1 1l2 0l1 -1l1 1l4 0l-2 -1l3 -2l2 -3l2 -1l3 2l3 6l-1 1l-5 -6l-1 2l0 2l2 3l-1 1l5 1l5 5l0 1l4 3l2 4l0 3l-1 1l1 1l-2 4l1 2l0 6l1 1l-1 1l0 2l-2 2l0 2l-2 1l-1 2l-6 1l-1 1l-4 0l-1 -1l-1 1l-2 -1l-4 2l-1 2l-2 0l-3 -3l-4 0l-3 -7l1 -1l0 -2l-1 -1l0 -4l1 -1l-1 -6l1 -1l0 -3l-2 -4l-1 0l-8 8l-1 0l-1 3l3 2l0 2l3 5l-5 7l0 3l2 3l-1 1l1 2l-1 7l-5 2l-6 5l-2 0l-7 4l-10 3l-2 2l-3 8l-3 2l-2 0l-1 1l-1 -1l-1 1l-3 7l3 4l3 2l1 2l-1 1l2 2l0 6l-6 5l-3 0l-4 3l-14 -1l-9 4l-8 0l-1 1l-7 -1l-5 -4zM1143 542l2 4l0 3l2 1l0 2l-3 2l-2 5l-4 4l-5 0l-2 1l-1 -1l0 -2l1 -1l0 -7l2 -4l4 -4l2 0zM1191 479l1 1l-1 1l0 5l-7 6l-1 7l-3 5l-6 3l-4 4l-1 4l-2 2l1 1l-4 4l-3 1l0 1l-2 1l-3 4l-1 -1l-2 0l-1 1l-3 -4l2 -2l0 -4l5 -4l2 0l1 -1l0 -2l2 -4l0 -4l2 -2l4 0l0 -2l2 -4l2 -1l0 -2l1 -1l2 1l4 -1l0 -7l2 -4l-1 -2l1 -1l2 1zM1164 464l1 -1l2 2l-2 1zM1039 452l2 -1l1 1l0 2l-1 1zM1032 452l1 -1l2 0l2 3l2 0l1 1l-2 2l-2 0l-4 -4zM1138 444l1 -2l2 1l-2 2zM1115 438l4 0l1 1l5 -2l2 1l-1 2l0 12l3 4l0 2l1 1l-2 4l-5 -2l-4 -3l0 -3l-2 -5l0 -4l-3 -7zM812 433l3 5l-3 2l-3 0l-1 1l-2 -3l0 -2zM823 417l1 2l-1 2l-3 2l-1 -1l0 -3l2 -2zM838 417l3 0l2 -2l4 0l4 6l2 1l-1 2l0 4l-1 1l1 1l-2 3l-2 1l-2 -1l-2 1l-3 -2l-3 -4l0 -3l-2 -5zM981 413l3 0l4 3l2 0l1 1l-2 2l-2 5l-1 -1l-2 0l-3 -3l0 -2l-2 -1l0 -2zM795 405l2 -3l1 1l3 0l1 -1l1 1l0 2l-2 3l-2 0zM809 402l2 -1l2 1l1 2l-1 1l-3 0l-1 -1zM802 402l0 -1l4 -3l3 2l-2 3l-4 0zM769 391l1 -1l2 2l-2 1zM788 387l0 2l-7 5l-2 0l-1 -1l1 -1l0 -2l-1 -1l1 -1l1 0l1 2l2 0l3 -2l1 -2zM787 385l1 -1l2 0l1 2l-1 1l-2 0zM775 384l2 1l0 2l-1 1l-2 0l-1 -1zM736 385l1 -1l5 -1l5 4l-1 1l-5 0l-1 1l-2 0zM767 382l1 -1l3 0l1 1l-1 1l-3 0zM750 384l0 -1l3 -2l1 1l1 -1l1 1l-2 3l-3 0zM737 381l1 1l-2 3l-1 -1l0 -2zM815 380l1 1l-3 2l-1 -1zM771 381l1 -1l4 0l2 2l0 2l-1 1l-2 -3l-2 1zM764 380l1 2l2 1l-2 3l-2 -1l-2 1l2 1l-1 1l-2 0l-2 -2l1 -1l-1 -1l0 -2l2 -1l1 2l1 0l0 -2zM730 381l2 -1l2 3l-2 1zM808 379l3 3l0 2l-1 1l-3 -4zM779 379l1 1l0 4l-1 1l-1 -1l0 -4zM755 381l2 -2l2 2l-1 1l-2 0zM786 378l3 3l-2 2l-3 0l-1 1l-1 -2l1 -2zM803 376l1 -1l4 0l1 1l2 0l2 3l-2 2l-2 -2l-4 -1zM709 376l1 -1l1 1l-1 1zM796 374l2 1l2 5l5 4l-4 5l-4 0l-1 -2l-2 -1l1 -1l-2 -1l1 -2l2 1l1 -1l2 0l-3 0l-2 -2l2 -2l1 1l-2 -3zM786 377l0 -1l1 -1l2 0l1 -2l2 0l1 1l-1 1l2 1l-3 2l-4 0zM818 372l1 2l-2 1l-1 -1zM717 373l1 -1l1 1l-1 1zM720 373l2 -2l1 2l3 2l-1 1l1 1l3 -4l2 1l-4 5l-2 0l-2 -2l-1 1l-1 -1l0 -3zM711 372l2 -1l1 2l-1 1zM818 371l2 -1l1 2l-2 1zM785 371l1 -1l3 0l2 2l-4 2zM743 370l1 1l0 3l-2 4l-1 -1l0 -6zM710 371l1 -1l1 1l-1 1zM733 374l5 -2l0 -2l1 -1l2 0l1 1l-2 5l0 4l2 -1l3 2l-1 -5l3 -2l1 1l-1 4l3 0l1 -1l2 1l-2 2l-4 1l1 1l-1 2l-1 -1l-2 1l-1 -2l-5 -1l-2 -2l1 -2l-3 -1zM805 369l2 -1l4 2l1 2l2 -2l2 0l1 1l-1 1l1 1l-1 1l-4 0l-2 1l-5 -3zM725 369l1 -1l1 1l-1 1zM708 368l2 4l-1 1l1 1l-1 1l-2 -1l0 -5zM745 368l2 -2l2 2l-1 1l-2 0zM743 366l-1 1l-2 0l-4 5l-3 0l-1 1l-2 -1l1 -2l3 0l1 -2l4 -3l3 0zM745 365l1 -1l1 1l-1 1zM801 363l2 3l-3 3l1 1l0 2l-2 1l-1 -1l1 -1l-1 -1l-4 0l-1 -1l3 -4l1 1l0 2l0 -1l2 -1zM760 363l1 1l0 2l-1 1l-1 -1l0 -2zM755 363l1 -1l3 4l-2 1l-2 -2zM796 362l1 -1l1 2l-1 1zM777 362l1 -1l1 1l-1 1zM747 364l5 -3l2 2l-1 1l2 1l1 4l1 -2l1 1l2 -1l1 1l2 0l2 -3l-1 -1l1 -1l5 0l1 1l-1 1l0 4l2 2l-1 -2l0 -4l2 -1l1 -2l2 0l1 1l-3 4l1 5l-3 2l-2 0l0 1l2 0l1 1l-2 3l-4 0l-1 1l-5 -2l2 2l-1 1l-2 0l-2 -2l1 -1l-3 0l-1 -1l1 -1l-4 -6l-1 2l-2 -1l1 -3l2 -2l-2 -1l0 1l-2 1l-1 -1l1 -1zM778 360l1 -1l1 1l-1 1zM776 360l-4 3l-2 0l-1 -1l0 -1l4 -3zM753 356l1 2l-2 1l-1 -1zM757 355l1 1l-2 3l-1 -1l0 -2zM383 352l-2 9l2 0l1 1l-3 3l-2 0l0 1l1 1l4 -3l1 1l-1 3l-1 1l-2 0l2 0l1 -1l1 1l0 3l2 1l1 3l5 4l2 0l1 1l-1 1l0 2l1 1l-1 2l1 2l2 1l0 2l4 -2l1 1l0 2l-1 1l1 1l2 -1l2 1l1 -2l-4 -8l4 -3l1 -3l-1 -1l-1 -8l-2 -5l-1 0l-1 -2l-5 -4l1 -1l-1 -1l1 -1l-1 -2l2 -4l-2 -2l-5 1l0 2l-4 5zM401 385l2 -1l1 1l0 2l-1 1zM403 379l1 1l0 3l-2 1l-1 -2zM402 377l1 -1l1 1l-1 1zM398 377l2 -1l3 3l-2 1zM407 374l1 2l-3 3l-2 -3zM400 375l1 -1l2 2l-2 1zM397 375l1 -1l1 1l-1 1zM395 374l3 5l-1 2l-1 0l-3 -4zM400 373l1 -1l1 1l-1 1zM398 373l1 -1l1 1l-1 1zM397 372l1 -1l1 1l-1 1zM402 371l1 -1l1 1l-1 1zM396 371l1 -1l1 1l-1 1zM402 366l1 -1l1 2l-1 1zM401 365l1 -1l1 1l-1 1zM387 364l1 2l-3 3l-1 -2zM384 364l1 -1l1 1l-1 1zM387 364l2 -2l2 0l1 1l-2 2l-2 0zM396 362l2 -1l1 2l-1 1zM387 362l1 -1l1 1l-1 1zM383 361l1 -1l2 0l1 1l-1 1l-2 0zM351 315l-3 -2l1 2l-2 2l-2 0l-1 -1l1 -2l-3 -2l-3 2l1 2l-2 2l-1 -2l-2 0l1 1l-1 2l-2 0l-2 2l-6 0l-1 2l-3 0l1 2l-2 3l1 -1l2 0l1 1l-2 1l0 1l1 -1l2 1l1 -1l6 0l1 -1l2 0l3 -2l0 -2l2 -3l0 -3l1 -1l1 1l0 5l1 -2l1 1l0 2l2 1l1 -1l1 -5l3 -2zM331 328l1 -1l1 1l-1 1zM344 321l1 -1l1 1l-1 1zM342 320l1 -2l2 1l-2 2zM403 304l6 4l1 2l1 -3l-2 -2l-4 1zM602 302l4 2l-1 -2zM400 302l-1 1l2 1zM384 299l1 3l1 -2zM327 280l0 1zM338 277zM313 300l4 6l0 5l5 1l2 -3l1 2l1 -1l6 0l1 1l2 0l2 -2l-2 -2l1 -2l0 -4l1 -2l3 -2l1 2l-1 2l-2 1l2 1l-1 1l0 4l1 -1l1 1l0 -2l2 -2l2 0l2 -2l1 1l2 -1l1 1l-3 5l-1 -1l-4 2l1 2l5 0l-1 -1l5 -4l3 -1l2 -2l1 1l5 -3l2 1l0 -3l1 -1l2 0l3 -3l5 -2l-6 0l-2 -1l-2 1l0 2l-3 3l-1 -1l-2 2l-3 1l-1 2l-2 -1l1 -2l-4 3l-5 -1l-6 5l-2 -2l6 -5l-1 0l-4 -4l1 -6l-1 0l-2 -3l1 -1l0 -4l-1 -2l-1 1l-4 -4l0 -1l-1 0l-1 1l0 2l-2 2l0 5l-1 1l-1 -1l0 2l-2 1l3 1l4 3l-2 4l-5 -2l0 3l5 1l-1 -1l2 -1l2 2l0 2l1 -1l1 1l-2 3l2 2l-1 1l-2 -1l-1 1l-1 -1l0 -2l-5 -1l-4 -5l-4 0l0 2l2 2l-2 2l-3 -5zM350 306l1 -1l1 1l-1 1zM327 306l1 -1l1 1l-1 1zM328 305l1 -1l1 1l-1 1zM322 305l1 -1l2 0l1 1l-1 1l-2 0zM355 304l1 -1l1 1l-1 1zM353 303l1 -1l1 1l-1 1zM319 301l1 -1l1 1l-1 1zM361 300l1 -1l1 1l-1 1zM317 299l2 -1l1 2l-1 1zM337 295l1 -1l1 1l-1 1zM334 291l2 -1l1 2l-1 1zM332 290l1 -1l1 1l-1 1zM331 289l1 -1l1 1l-1 1zM334 285l2 1l0 3l-1 1l-2 -3zM334 283l1 -1l1 2l-1 1zM332 282l1 1l0 3l-1 1l-1 -1l0 -3zM331 279l1 -1l1 2l-1 1zM328 275l-3 2l1 1zM317 274l6 5l0 -1zM313 274l1 0l1 1l-1 -1zM338 269l-2 0l-1 2l1 4l1 0l-2 -3l1 -1l1 1l1 -1zM364 263l0 1zM338 262l0 2zM346 260zM357 259l-2 1l-2 -1l1 1l-1 1l1 2l1 0zM348 259l0 1l1 -1zM335 261l-3 -2l-4 5l-5 2l0 1l1 -1l5 -1l2 -2l4 -1zM344 258l-1 1l-1 -1l0 3zM340 258zM336 257l0 1l1 1l0 -1zM340 256zM337 247l-1 1l2 1l-2 1l0 5l2 -2l0 -2l-1 -1l1 -2zM336 253l1 -1l1 1l-1 1zM338 242l-2 1l0 2l2 -1z"/>
<path fill="#FF59EC" stroke="#FF59EC" d="M638 662l0 3l-1 1l1 0zM624 660l0 1l3 2l1 3l1 0l-4 -6zM639 654l0 3l1 0zM343 620l-2 1l1 1l-1 2l2 0l-1 -1l2 -1zM349 614l-1 1l-2 0l0 1l2 1zM507 613l0 1l2 1l3 0l5 6l1 4l1 1l2 0l8 7l10 0l6 6l3 5l6 5l-1 1l1 0l-1 -4l-3 -1l-2 -2l0 -2l-8 -8l-2 -1l-4 1l-5 -3l-3 0l-8 -7l-1 -3l-5 -6l-2 1zM352 605l-1 1l0 2l1 0zM494 603l0 2l5 3l3 0l-5 -1zM648 598l-2 1l-2 3l1 1l-5 4l0 6l-4 4l1 9l-3 3l3 6l0 5l-3 6l0 4l2 2l-1 -5l-1 -1l5 -6l0 -4l-1 -1l0 -6l1 -2l-1 -1l-1 -8l3 -4l1 -6l4 -3l1 -3l2 -2zM1109 597l1 2l3 0l0 -1l-3 0zM654 590l-1 3l1 -1zM605 587l-1 1l-3 0l-4 3l0 8l-4 3l1 2l0 6l-1 2l1 1l1 8l-3 4l0 4l-1 2l-3 3l1 2l-1 7l-2 2l-1 4l-2 2l0 2l-2 2l-2 0l-2 4l-2 0l-1 1l-3 -2l0 4l1 1l-1 2l2 -2l5 0l-1 -3l2 -1l0 -3l1 -1l3 0l0 -3l2 -2l0 -2l2 -1l1 -2l2 -12l3 -3l0 -3l3 -5l0 -13l-1 -1l0 -3l1 -1l0 -3l2 -3l-1 -5l5 -5l3 0zM596 586l1 1l0 -1zM616 582l-3 2l-6 1l8 -1l2 2l-1 1l0 5l1 1l0 3l2 5l-1 5l-1 1l0 3l3 4l-1 4l2 5l-2 5l0 5l3 4l0 2l2 1l-1 9l-1 1l1 1l0 7l1 0l-1 -2l0 -12l2 -4l-4 -4l-2 -4l1 -5l3 -4l-2 -2l1 -9l-3 -2l0 -2l-1 -1l0 -2l1 -1l0 -5l-1 -1l0 -2l1 -2l-2 -2l0 -3l1 -2l3 -2l0 -1l-2 -2zM510 588l-2 -2l-3 0l-1 -1l-7 1l-1 -1l2 -4l-4 4l-1 -1l-2 0l3 3l-1 1l-3 0l-2 4l5 5l0 1l0 -3l-4 -3l0 -2l1 -1l1 1l5 0l0 -1l4 -3l6 0l1 2l2 0l1 1zM301 579l0 1l1 0l0 -1zM356 571l1 8l2 3l0 6l1 1l0 3l-4 4l0 4l0 -2l2 -2l2 0l2 -3l0 -2l-1 -1l0 -3l1 -1l-3 -2l0 -3l-2 -2l0 -2l1 -1l-2 -2zM299 565l-1 2l5 6l0 3l2 2l0 2l3 4l4 2l0 4l3 3l0 7l2 2l0 5l1 1l-1 2l4 1l8 7l6 -1l0 -3l-2 3l-5 -1l-4 -5l-3 0l-2 -2l-2 -4l0 -3l2 -2l-1 -5l-2 -4l-3 -3l0 -3l-5 -5l-1 -5l-2 -1l0 -4l-4 -2zM494 564l1 4l2 0l1 1l1 8l1 -2l0 -2l-1 -1l0 -5l1 -1l0 -2l-2 2l-2 0zM353 563l0 2zM297 558l-2 1l0 2l1 1l0 -1l2 -1zM481 560l3 2l0 -2l-1 -1l1 -2l6 0l1 1l0 -1l-9 0l-1 1zM574 556l-2 0l0 4l-3 4l4 5l1 0l1 -2l1 0l1 2l-2 3l0 4l-2 2l1 6l-2 2l-2 0l0 1l1 -1l1 1l2 0l3 -2l-3 -5l3 -3l1 -12l5 -6l-6 -1zM506 553l4 3l4 0l3 4l5 2l-1 1l0 8l1 1l0 2l3 3l1 4l3 2l7 0l2 2l3 0l1 1l3 -2l-1 -5l2 -3l-1 0l-2 3l0 4l-1 1l-3 0l-3 -2l-2 1l-2 -1l-4 0l-2 -2l-5 -10l0 -3l3 -4l6 -1l-3 -2l-2 0l-1 1l-3 -2l2 -2l2 0l3 -2l8 0l-11 0l-1 1l-5 0l-2 1l-3 -2l-4 0l-2 -2zM555 552l-6 3l3 0l2 2l-1 1l0 2l1 1l0 9l1 1l0 2l-1 1l0 7l-3 4l-1 4l-2 2l0 8l4 3l1 6l-2 2l-3 0l-1 1l1 2l6 -4l-1 -12l-3 -4l2 -2l-1 -2l2 -2l0 -2l1 -1l0 -5l1 -1l0 -8l-1 -1l1 -3l-1 -1l0 -2l1 -1l0 -7l2 -2zM405 549l-1 1l-2 0l2 0l1 -1l2 0zM391 541l1 1l0 -1zM389 541l-1 0l0 3l-1 1l1 1l0 2l1 -2l-1 -4zM452 539l0 2l2 3l0 7l0 -4l1 -2zM334 537l9 8l2 5l0 -4l-5 -4l0 -2l-2 -2zM437 536l0 1l3 0l-2 0zM379 535l1 1l3 0l-1 -1zM414 548l1 -2l0 -3l-2 -4l0 -2l1 -1l21 0l-10 0l-1 -1l-1 1l-4 0l-2 -2l-1 1l-3 0l-1 -1l1 9l2 2l-1 1zM330 533l0 3l1 0zM506 528l0 2l-1 1l2 2l-2 5l1 4l-2 1l0 2l-2 2l1 1l2 -3l1 1l0 2l-1 1l2 1l2 -1l2 -5l1 1l2 0l3 -2l2 0l3 2l2 0l4 3l2 0l-3 -1l-1 -2l-4 -1l-6 -4l-3 0l-1 1l-4 -1l-2 -2l2 -2l0 -3l-2 -3zM460 526l-2 2l1 5l5 1l-1 -1l0 -2l2 -3l-2 -2zM379 520l-3 1l-1 2zM511 519l-5 4l0 2l0 -1l4 -4l1 0zM559 531l-1 -1l-1 -6l-4 0l-1 -1l0 -2l1 -1l3 1l1 -5l-2 2l-3 0l-2 2l-2 0l-1 1l0 2l-3 2l2 0l2 3l6 -1l2 4zM514 517l3 -1l-3 0zM519 513l7 1l-1 0l-1 -2zM318 512l0 1l4 4l6 12l-1 -5l-2 -2l0 -4zM357 508l0 2l2 0l-1 0zM349 505l0 3l1 2l1 0l-2 -3zM315 504l0 3l1 2l1 0zM577 502l1 1l0 3l4 -1l0 -1zM356 502l1 2l0 -2zM352 503l2 -1l-2 0zM579 491l-4 -1l-3 3l0 1l1 -1l2 1l0 4l1 -5zM514 488l1 5l2 0l1 1l0 6l-1 1l0 2l1 1l-1 1l4 4l0 1l1 -1l-2 -5l1 -3l-2 -1l-2 -9l-2 -3zM362 490l5 -1l-2 0l-1 1l-1 -2zM347 488l-2 1l1 1zM522 484l2 3l3 2l4 1l2 4l1 -1l8 1l3 -2l0 -3l-3 4l-5 0l-1 -1l-2 0l-2 -2l0 -2l-4 1l-4 -3l-1 -2zM547 486l5 0l4 -2l2 -3l2 1l7 8l1 0l-2 -2l-1 -3l-4 -4l0 -2l-2 0l-1 -1l-4 0l-2 3l1 2l-2 3zM345 476l-5 1l1 3l2 0l-1 0l-1 -2l2 -2zM299 476l2 4l0 7l2 2l3 0l3 2l2 9l1 2l2 0l-3 -4l0 -2l1 -1l-1 -1l1 -1l-2 -3l-4 -1l-3 -3l-2 -5l0 -3zM372 472l-4 3l0 2l-3 2l-4 0l-1 2l-2 -2l-7 8l-1 -2l-1 2l2 1l1 -2l2 0l4 -6l2 1l-1 2l1 0l0 -2l1 -1l2 1l1 -2l2 0zM360 471l-1 -1l-1 2zM255 470l-2 1l-2 3l1 0l8 9l-1 6l4 5l0 2l-3 2l-4 8l2 0l3 2l1 2l6 5l0 1l2 -1l6 0l1 1l1 5l4 5l-1 1l5 3l-1 2l2 2l1 5l-3 3l0 3l3 3l-1 1l4 2l3 3l0 3l0 -4l1 -2l-3 -1l-1 -1l2 -1l-2 0l-1 -1l1 -1l-1 -2l2 -4l-4 -4l-2 -10l-2 -2l-1 -3l-3 -2l0 -3l-5 -5l-2 1l-4 -1l-1 2l-3 -3l0 -3l-2 -2l0 -3l1 -1l0 -3l2 -3l-3 -4l0 -5l-1 -1l0 -2l2 -4l2 -1l-1 -2l0 2l-2 2l-5 1l-1 -2l2 -2l0 -3l-2 -3zM336 468l0 1l2 0l1 1l0 2l0 -2zM377 467l3 0zM262 467l0 2l1 0zM1165 464l0 1l1 0zM340 464l-3 -2l-2 0l1 1l-4 4l2 1l-1 -2l1 -1l5 0zM864 461l-1 0l0 3l1 -1zM498 460l-2 1l2 0zM1242 458l0 1l2 0zM264 454l-1 0l0 2l-2 3l1 6l1 0l0 -1l-2 -2l0 -2l2 -1l0 -4zM1040 452l1 2l0 -2zM1033 452l3 4l2 0l1 -1l-2 0l-2 -3zM455 449l1 1l0 6l-2 4l0 10l5 7l-2 2l-2 0l-1 1l0 5l3 4l0 3l2 2l0 12l2 1l2 -1l2 -3l3 0l2 -2l4 0l3 2l0 -3l2 -1l0 -3l4 -2l1 -2l3 0l1 -1l0 -2l-2 -1l-6 -7l0 -7l2 -4l0 -9l3 -3l8 1l-3 0l-2 -3l-2 0l-4 3l0 4l-2 3l1 4l-2 3l0 2l1 1l-1 11l1 2l-2 2l-2 5l-3 3l-2 0l-6 4l-3 0l-3 -6l0 -4l-1 -1l0 -10l1 -1l3 0l0 -3l-5 -6l-3 -6l0 -4l2 -4l0 -5l1 -1l-1 -3zM272 448l-4 3l1 1zM879 446l0 1l2 1l0 -1zM285 446l0 2l2 0l5 6l0 7l3 4l1 7l-1 -8l-3 -4l0 -7l-2 -4zM790 446l-2 -1l-1 1l-4 0l-2 2l1 0l2 3l3 1l3 -3zM1139 443l0 1l1 -1zM282 443l-2 1l-5 0l0 1l2 -1l5 0zM456 442l-1 0l-1 2l1 0zM455 432l1 6l1 -1l-1 -1l0 -2l1 -1l11 0l3 -4l6 0l4 3l0 2l1 1l1 0l6 6l3 0l1 1l0 2l1 1l2 0l3 3l0 2l-1 1l2 3l-1 1l0 2l0 -2l1 -1l-1 -2l0 -5l-1 -2l-2 0l-2 -2l1 -3l-1 0l-1 -2l-10 -5l-4 -4l-2 -1l-6 0l-5 4l-3 0l-1 1l-6 0zM823 418l-2 0l-1 1l0 3l2 -1zM657 588l3 -2l4 -1l2 -4l6 -3l6 -1l4 -3l4 0l3 -3l1 -4l2 -2l1 -9l2 -2l0 -2l-2 -2l0 -2l1 -1l0 -2l3 -4l0 -1l-2 0l-1 -1l-5 1l-4 -3l-2 -3l-2 -1l-1 1l-2 0l-1 -2l-2 1l-3 -4l-3 0l-1 -1l-5 -1l-1 -1l0 -3l2 -2l2 0l1 -1l0 -3l1 -1l4 0l3 -2l2 1l7 0l1 1l3 0l2 -2l4 0l2 3l3 0l2 -2l4 0l1 1l-1 3l3 2l5 -4l2 0l1 -2l2 0l2 -2l2 0l-2 -3l2 -1l0 -1l-1 -1l-2 0l-1 -2l-1 1l-2 0l-4 -3l0 -3l2 -2l6 0l1 -1l4 0l1 -1l2 1l1 -1l-1 -1l0 -3l-3 0l-2 -2l5 -5l1 0l-1 -2l-2 0l-1 -1l0 -2l3 -3l2 0l1 -1l2 0l1 1l0 2l2 0l1 -2l-2 0l-1 -1l0 -2l4 -4l2 1l0 2l2 0l1 1l5 -6l2 0l2 3l1 -4l2 -2l2 0l3 -2l2 2l2 0l1 -2l3 0l1 -1l-2 -1l0 -2l1 -1l2 0l1 -1l3 1l2 -2l2 0l1 -1l0 -4l-2 0l-2 -2l0 -2l-1 -1l5 -5l3 -5l2 0l4 -2l3 -4l1 0l2 3l2 0l2 2l0 1l-5 5l1 1l-1 2l5 7l2 -1l1 2l-3 2l-5 -3l-2 1l-1 2l5 2l2 2l0 3l-1 1l5 4l2 -1l3 0l3 2l5 0l1 -1l0 -2l-5 -4l0 -2l-1 -1l-1 1l-3 0l-1 -1l5 -6l0 -3l4 -4l3 2l2 0l2 -3l5 1l1 1l2 -1l2 3l3 0l4 4l-1 1l1 4l5 -1l0 -4l1 -1l3 0l1 1l0 2l2 1l1 -1l3 1l2 -3l2 0l1 2l2 0l1 1l0 2l1 1l3 -2l2 0l3 4l0 1l-3 2l1 1l2 -3l2 1l1 -2l-2 -4l4 -4l3 -1l0 -5l2 -3l-3 -2l0 -2l-2 0l-2 -2l0 -2l-3 -3l2 -2l-1 -2l-2 3l-2 0l-3 -3l-1 -6l-1 -1l1 -1l-1 -2l0 -2l1 -1l3 2l2 -1l2 2l5 1l1 1l0 2l2 0l2 -2l5 0l1 -1l2 0l2 5l6 -1l4 5l-1 2l0 7l-1 2l-2 1l0 2l1 1l2 -2l0 -2l2 -3l2 0l4 -3l3 0l2 -3l2 2l-2 4l5 -3l2 4l-1 1l3 3l2 -1l3 1l3 3l0 3l2 0l1 -1l3 2l0 -3l1 -1l1 0l1 2l5 1l1 -1l-3 -3l4 -4l1 0l5 -6l4 1l2 -3l7 1l0 -2l1 -1l3 0l1 1l0 2l3 0l1 1l2 -1l3 3l0 3l-1 1l3 0l3 3l1 5l1 -1l3 0l3 3l0 3l1 1l4 0l2 2l2 -1l3 1l3 -2l-2 -4l1 -1l2 0l6 6l0 2l-4 4l-3 1l-2 2l0 1l3 2l7 -3l2 -2l1 1l4 -3l2 4l-3 3l4 -2l3 0l3 2l2 0l2 2l2 0l1 -1l2 1l1 2l0 -4l1 -1l3 0l2 -2l1 -3l2 -1l2 1l2 3l4 0l1 1l3 0l1 -1l1 1l1 -1l2 0l1 2l3 2l0 2l3 0l0 -3l1 -1l5 0l1 1l0 2l2 0l1 -1l2 0l4 -4l-2 -4l2 -1l2 -3l2 0l1 2l4 -2l6 5l6 0l1 1l-1 2l6 7l2 0l3 2l5 -1l4 3l0 3l1 0l1 -2l4 0l3 4l2 0l2 -3l2 -1l2 3l3 2l-2 3l1 4l1 1l4 0l2 1l3 4l0 2l-1 2l-2 1l0 3l-2 2l1 7l-2 4l-2 1l-4 5l0 2l-2 3l0 7l-1 2l-3 2l-3 0l-1 1l1 2l-1 4l-6 5l-3 4l0 2l-2 2l0 2l-1 1l2 3l2 1l0 2l1 1l0 4l-2 2l0 2l-2 4l0 4l-4 2l-2 0l-1 -1l-7 1l-3 5l-6 1l-3 3l-4 2l0 3l4 0l4 3l2 0l-1 -1l-2 0l-4 -4l1 -2l3 -3l7 -2l3 -4l6 1l1 1l-2 3l1 6l1 1l-2 3l2 1l0 -9l1 -1l0 -4l2 -3l2 1l7 0l4 3l2 -3l0 -3l2 -2l0 -4l3 -4l2 1l0 -3l2 -2l-1 -3l1 -1l3 0l2 -2l5 -1l-2 -2l2 -2l0 -2l5 -4l2 0l1 -6l3 -2l2 -3l-1 -2l0 -2l2 -1l-1 -2l1 -1l2 0l0 -1l5 -5l0 -2l4 -5l0 -3l1 -1l4 0l3 -2l0 -2l2 -2l-2 -2l2 -2l2 0l0 -2l2 -1l-1 -6l4 -2l-1 -3l1 -1l5 -1l1 -5l1 -1l2 2l1 -1l0 -3l6 -6l1 0l1 -2l3 0l2 -5l2 0l-3 -5l2 -3l7 0l0 -2l3 -3l2 0l1 1l9 -1l2 4l2 0l6 5l3 0l1 -1l3 0l-1 -2l1 -1l2 0l4 2l2 -1l2 1l2 -4l3 1l2 -3l6 1l-1 -3l3 -2l4 2l2 0l1 -1l4 3l3 -2l2 2l4 -1l4 3l2 0l0 -1l-4 -3l-4 0l-3 -4l-7 0l-2 -1l-2 -4l0 -3l-2 0l-2 2l-2 5l-4 3l-2 -1l-3 3l-5 0l-1 1l-2 0l1 2l-1 2l-4 0l-4 -3l1 -2l-2 0l-4 4l-3 0l-1 -1l-2 0l-4 -5l-2 0l-2 2l-10 -1l-4 5l-6 0l-2 -4l-3 0l0 2l2 1l-2 3l1 7l-2 2l-2 -1l-3 3l-4 2l0 4l-2 2l-2 -3l-2 0l1 2l-1 3l2 0l1 1l0 2l-3 4l-3 0l-2 2l1 1l-3 2l-1 2l1 3l-3 2l-1 2l-1 0l-1 5l2 3l-3 3l-5 1l-2 2l-3 6l0 4l-3 2l-2 3l-2 0l-1 1l-2 0l-1 -1l-1 2l2 2l-1 1l-2 -1l-4 0l-2 1l-2 3l-2 0l0 2l2 0l1 1l0 3l-2 2l0 2l2 0l1 1l-2 3l1 3l-4 3l-3 0l-6 8l-2 1l-7 0l-4 -3l0 -5l-2 -2l1 -5l3 -3l0 -2l5 -4l2 0l0 -3l2 -1l1 -2l4 -2l4 3l1 -1l-4 -3l0 -6l-1 -1l0 -2l5 -9l6 -7l-1 -1l1 -6l5 -6l0 -6l1 -1l0 -2l-1 -1l2 -2l2 2l2 0l2 -2l0 -1l-3 -2l1 -4l-2 -1l-2 -3l0 -7l-1 -1l0 -3l2 -3l-1 -2l-2 0l-6 4l-6 0l-1 -1l2 -2l0 -2l-2 -1l1 -1l-4 0l-2 -1l-2 2l1 2l3 2l-2 9l-5 2l-3 3l-4 -3l-4 0l-1 -1l-5 0l-1 -1l-2 0l-4 -4l-1 -2l1 -2l-6 -3l1 -2l0 -2l-2 -1l1 -3l-3 -2l1 -6l-3 1l1 3l-3 3l-2 0l-1 -1l-3 1l-2 -1l-1 1l1 2l-1 1l-2 0l-5 -5l2 -2l-1 -1l-8 2l-4 -3l-3 5l0 3l-1 1l-6 1l-2 3l1 3l-4 3l-2 -1l0 -4l-3 -2l-3 0l-1 2l-2 0l-1 -1l2 -2l-1 -1l-2 0l0 1l-4 3l0 4l-3 2l-5 -5l-4 -2l1 -2l-3 -2l0 -2l2 -1l0 -2l-2 0l0 4l-2 3l-11 1l-3 -5l0 -2l-8 -3l-2 -2l0 -2l-5 -1l-7 -6l-3 0l-1 -1l-3 1l-4 -4l-2 1l-4 -5l0 -2l1 -1l-2 1l1 1l-2 2l-2 -2l-2 0l-1 2l-4 0l-1 -1l-5 1l-4 -3l-3 0l-1 1l1 1l0 3l-1 1l-3 0l-1 -1l-2 0l-2 2l-2 -1l-4 0l-2 1l-1 -1l-1 1l3 4l2 0l1 2l-2 2l-5 0l-4 -3l0 -2l3 -2l0 -4l-4 -3l-1 1l1 1l-1 2l-7 -1l-1 -1l1 -1l0 -2l1 -1l2 0l0 -4l2 -1l0 -2l-3 2l-2 6l-2 2l-2 0l-1 -1l-3 0l-3 -3l-2 0l-1 -1l0 -2l-1 2l-2 -2l0 -2l-1 0l-4 -4l-2 2l-2 -1l-5 0l-2 1l-3 4l-1 0l-1 -1l0 -3l-2 1l-1 -2l-4 -3l0 -1l-2 0l-2 2l-2 0l-1 -1l0 -2l1 -1l-3 -2l-2 0l-3 4l1 7l2 2l1 12l1 1l0 8l-1 1l0 2l-3 2l-1 2l-3 -2l-2 0l-2 -2l-7 6l-3 0l-3 -5l-4 1l-4 -6l-3 -2l0 -1l-1 0l-1 2l-2 -1l0 -2l4 -2l0 -2l-1 -1l-2 0l-2 -4l0 4l-1 1l-2 0l0 4l2 3l-3 4l-3 2l-3 0l-1 1l-6 -3l-1 1l-4 -1l0 1l3 0l1 1l0 2l-1 1l-6 0l-1 -1l0 -5l2 -1l1 -4l2 -3l6 -2l1 -2l0 -4l2 -3l-1 -3l5 -4l5 1l2 -2l3 0l-1 -3l-8 -2l-1 1l-2 0l2 2l-2 4l-3 0l-3 -3l-6 1l-1 1l-5 0l1 2l-2 1l0 3l2 5l-2 2l-3 0l-1 1l0 2l-5 5l-5 3l0 2l-1 1l-5 1l-1 2l-3 0l-4 2l-2 -1l1 1l-3 4l-1 -1l-2 0l-4 4l0 1l2 0l2 -2l2 0l1 1l2 -2l2 2l-1 3l-2 2l-2 0l0 3l-1 1l-6 -1l-1 -2l-2 -1l1 -3l-1 -1l-2 3l-2 -2l0 -2l-3 3l-2 0l0 1l-6 5l3 4l-3 2l0 2l-1 1l-3 0l-3 -2l-2 4l-3 0l-1 1l-7 -4l0 3l-2 1l-2 4l2 2l-1 2l3 0l6 4l-3 4l2 2l0 2l-1 1l-1 -1l-2 0l-1 1l-2 -1l-1 1l0 2l-3 3l0 2l1 1l-1 3l2 3l-2 2l-5 -1l-2 -2l-2 1l-2 0l-1 -1l-1 1l-3 0l-4 5l-6 0l-1 -1l-2 1l-1 -1l-7 1l-1 -1l-3 0l-3 2l0 2l-1 1l-5 0l0 3l-1 1l5 8l1 -1l2 2l4 0l1 2l6 3l6 0l2 1l2 3l3 1l3 3l0 9l-1 2l-2 1l1 10l-7 7l-2 0l-5 4l-2 0l-3 2l-2 0l-2 2l-2 0l-2 4l-4 1zM1132 570l2 2l-2 3l0 3l-1 1l1 4l-1 1l-3 0l-1 -1l0 -10l2 -2l2 0zM1156 480l1 -1l3 0l2 2l-1 1l-4 0zM1211 470l2 -1l1 2l-1 1zM1152 465l5 -1l4 4l0 2l-3 6l-6 -1l-3 -2l-1 -3zM1068 457l2 -1l4 3l-3 2zM800 455l2 -2l2 1l-1 2l-2 0zM767 450l2 1l0 4l-1 1l-2 -1l0 -2l-1 -1zM858 449l0 -2l1 -1l3 2l-2 2zM871 444l2 1l0 3l-1 1l-2 -2l0 -2zM864 441l1 -1l2 0l1 1l-1 1l-2 0zM980 434l1 -2l2 1l-2 2zM936 433l1 -1l4 2l3 -1l1 1l0 2l-1 1l-6 1l-1 -1l1 -1zM867 432l4 3l0 1l-3 2l-2 0l-1 -1l0 -3zM810 402l0 2l3 0l0 -1zM808 400l-2 -1l-2 1l-3 4l-3 0l-1 -1l-1 2l3 2l2 0l1 -4l1 -1l4 0z"/>
<path fill="#FF85E2" stroke="#FF85E2" d="M629 667l0 1l3 0l0 -1zM639 661l0 5l-1 1l-4 0l5 0l0 -2l1 -1zM401 662l-1 -1l-2 1l-5 0l1 1l1 -1zM568 666l6 0l1 -2l4 0l0 -4l-1 0l1 2l-1 2l-5 0l-2 2l-1 -1l1 -2l-1 -1l0 -4l0 5zM622 653l0 5l1 1l0 2l1 -2l-2 -1zM586 648l0 2l-2 2l0 3l-1 1l-3 0l0 2l1 -2l3 0l1 -1l0 -2l2 -2l-1 -1zM623 640l0 3zM520 627l0 1l2 1l2 3l2 0l2 3l11 -1l5 6l0 3l2 1l0 2l2 0l2 3l3 0l-6 -5l-3 -5l-5 -5l-10 0l-8 -7zM505 610l0 3l4 4l3 0l3 3l2 4l-1 -3l-4 -5l-3 0l-3 -2l0 -3zM353 603l-3 2l0 5l-1 2l-3 2l4 -1l-1 -2l2 -2l2 0l-2 0l-1 -1l0 -2l3 -2zM1114 599l1 2l1 -1l2 0zM649 598l0 2l-2 2l-1 3l-4 3l-1 6l-3 4l1 8l1 1l-1 2l1 11l-5 6l1 1l1 5l1 0l0 -1l-2 -2l1 -1l-1 -2l3 -3l2 -5l0 -4l-1 -1l1 -2l0 -2l-1 -1l1 -2l-2 -5l2 -2l-1 -2l2 -1l-1 -1l0 -3l5 -5l1 -4l2 -3zM491 596l0 1l1 1l0 -1zM488 593l0 1l1 0zM1099 591l-1 -1l-2 2l-3 1l0 2l-1 1l-4 0l-1 5l1 -1l4 1l5 -3l1 1l3 0l-2 -1l-4 0l-1 -1l0 -3zM603 589l-1 0l-4 4l1 5l-2 3l0 3l-1 1l0 3l1 1l0 13l-3 5l0 3l-3 3l-2 11l1 0l0 -6l2 -2l0 -3l3 -2l0 -3l2 -3l0 -5l1 -1l-1 -1l2 -3l0 -4l-2 -5l0 -5l2 -2l0 -6zM611 585l2 0l1 1l-1 2l2 1l-2 1l0 1l2 1l0 2l-1 1l3 6l0 4l-2 5l2 3l0 3l1 1l-1 5l2 3l-1 2l0 4l-1 1l1 2l-1 1l4 3l-3 -5l0 -5l2 -5l-2 -5l1 -4l-3 -4l0 -3l2 -5l-1 -5l-1 -1l0 -3l-1 -1l0 -5l1 -1l-1 -1zM490 584l1 2l-1 1l3 0zM356 575l0 4l2 4l0 5l1 2l-4 6l0 5l0 -5l4 -4l-1 -10l-2 -3zM569 565l0 2l2 4l-1 1l0 3l2 1l0 7l-1 1l0 1l1 0l1 -1l-1 -6l2 -2l0 -4l2 -4l-3 2l-2 -3l-2 -1zM500 562l-4 3l2 0l2 -2l1 1l0 2l-1 1l0 5l1 1l0 2l-2 4l0 3l-2 3l2 0l1 -1l7 1l-4 -2l-2 -4l1 -2l-1 -10l2 -1l2 -3l1 0l-5 0zM552 556l-3 0l2 0l1 1l0 4l1 1l0 8l1 1l-1 2l0 4l-1 1l0 4l-1 1l-3 0l-2 -3l1 -4l-2 3l1 5l-3 3l-5 -1l-2 -2l-7 0l-4 -3l-2 -5l2 6l3 2l2 0l1 1l1 -1l2 0l2 2l2 0l8 4l0 10l1 0l4 4l-1 1l0 2l-4 3l0 2l1 1l-1 -2l2 -2l3 0l1 -1l-1 -6l-4 -3l0 -8l2 -2l1 -4l3 -4l0 -7l1 -1l0 -2l-1 -1l0 -9l-1 -1l0 -2l1 -1zM522 559l2 1l1 -1l2 0l5 4l-1 -3l-2 -1l0 -2l1 -1l3 0l-5 0zM537 555l6 0zM508 555l0 1l6 3l1 2l3 2l2 4l0 5l1 2l0 -2l-1 -1l0 -8l1 -1l-4 -1l-3 -4l-4 0zM477 557l3 3l1 3l1 -2l-2 -1l0 -2l2 -2l9 0l1 2l2 -1l0 -1l-1 -1l-5 1l-1 -2l-5 0zM500 553l-1 1l1 0l1 -1zM505 546l-1 1l0 2l1 -1zM341 545l1 1l0 -1zM390 541l-1 1l0 2l2 -1zM335 539l3 3l0 -1zM426 537l-12 0l0 2l2 4l0 3l-2 3l2 0l-1 -2l1 -1l0 -4l1 -1l-1 -2l1 -1l2 1l2 -2zM436 536l-1 1l-3 0l4 0zM328 530l1 6l0 -5zM507 528l0 2l2 3l0 3l-2 2l3 2l6 -1l4 3l-3 -4l-4 -1l-2 -2l-1 -3l-3 -2zM318 515l3 3l0 2l4 5l-4 -8zM521 514l0 1l10 0l2 1l2 3l0 2l1 1l2 0l2 2l0 2l5 1l1 1l0 3l1 1l4 -2l3 1l2 2l2 -1l-2 0l-2 -4l-6 1l-2 -3l-2 0l-1 -1l3 -2l0 -2l2 -2l2 0l2 -2l3 0l3 -2l0 -1l-2 1l-2 -1l-1 1l-4 0l-3 -2l-3 2l1 1l-1 2l-6 -1l-1 2l-2 -2l1 -1l-1 -4l-2 1l-3 0l-1 -1l-2 1l-1 -1l0 1l2 1l-1 1l-4 0zM350 504l0 3zM577 503l-1 5l1 -1zM573 494l1 1l0 3l0 -4zM1272 493l0 1l2 0zM518 493l1 1l1 6l2 1l-1 2l1 5l2 -2l-1 -1l0 -3l1 -1l-3 -4l-2 -1l0 -3zM523 487l0 1l7 5l0 2l2 2l4 -2l5 0l-3 0l-1 -1l-3 0l-1 1l-2 -2l0 -2l-4 -1zM344 487l2 1l0 -1zM363 486l0 1l4 1l-1 -1l-1 1zM1286 484l-1 0l-1 4l2 -1zM1103 483l-1 -1l-2 0l-2 3l2 1zM567 491l-2 -3l-7 -6l-2 3l-4 2l-5 0l-1 3l1 0l-1 -1l2 -2l4 0l1 -1l2 1l2 -2l3 -1l2 3l2 1l2 3zM354 482l-4 2l1 2zM300 480l-1 7l3 2l1 2l4 0l2 3l0 3l0 -4l-1 -2l-5 -1l-3 -3zM1275 479l-2 1l-1 -1l-1 1l1 1l-2 2l0 2l1 1l3 -1l0 -4zM265 479l-2 4l0 2l1 1l0 5l3 4l-2 3l0 3l-1 1l0 3l2 2l0 3l2 2l1 -2l2 0l1 1l3 -1l6 6l0 3l3 2l1 3l2 2l2 10l4 4l-2 5l2 -1l2 1l0 3l-1 1l-2 0l4 2l0 3l1 1l1 -1l3 5l-2 2l2 2l-1 3l6 4l0 4l2 1l1 5l5 5l0 3l3 3l2 4l1 5l-2 2l0 3l3 5l3 0l4 4l0 1l5 1l1 -2l-3 0l-2 -2l-2 0l-1 -2l-5 -3l1 -5l-1 -1l0 -3l-2 -3l0 -2l-2 -3l1 -2l-2 -1l-1 -4l-1 0l-2 -3l-2 -1l-2 -7l-3 -6l-2 -2l0 -2l-1 1l-2 -1l1 -4l-3 -4l1 -5l-1 -1l0 -2l-4 -3l1 -1l0 -2l-2 -3l-4 -3l0 -4l-4 -9l0 -4l-1 0l-2 -3l-8 -5l-6 0l-1 -1l0 -2l-2 -1l0 -5l2 -3l0 -4l-2 -3l0 -3l1 -1l-1 -1l0 -5l1 -1zM901 478l-1 0l-2 6l2 0l2 -2zM370 476l-1 0l-2 3l1 0zM1091 474l-3 -1l-2 4l3 -2l2 1zM1093 472l0 1l3 2l1 -2zM264 471l0 2zM899 470l0 1l1 0l0 -1zM876 466l-2 1l0 2l1 0zM1152 466l-3 4l1 3l8 2l2 -7l-3 -3zM985 465l0 3l1 1l0 2l-1 1l1 0l1 -2l4 0l0 -1l-4 -4zM294 465l0 2zM913 460l-1 0l-1 2l2 -1zM889 460l2 2l-1 5l5 0l-2 -3l1 -2zM262 460l0 2zM1069 457l2 3l2 -1zM490 455l-7 0l-1 1l-2 7l-2 3l1 4l-2 2l0 2l2 4l-4 5l-2 0l-3 2l0 1l5 5l-1 1l0 2l-10 8l-4 -6l0 -4l-1 -1l0 -2l2 -2l-1 -1l0 -2l4 -2l0 -4l-2 -4l-3 -2l-3 -4l1 -2l-1 0l-1 -2l1 5l7 9l0 3l-1 1l-3 0l0 10l1 1l0 4l2 3l0 2l3 0l2 -2l4 -2l2 0l2 -2l2 -5l2 -2l-1 -2l0 -4l1 -1l0 -6l-1 -1l0 -2l2 -3l-1 -4l2 -3l0 -4l5 -4l2 0l2 3zM265 455l-1 0l0 2zM803 454l-2 1l2 0zM1309 457l-3 -2l-4 1l-2 -2l-3 2l-4 -3l-1 1l-2 0l-4 -2l-2 1l1 2l-1 2l-6 -1l-2 3l-3 -1l0 2l-2 2l-2 -1l-2 1l-1 -1l-5 -1l1 2l-5 2l-3 0l-6 -5l-2 0l-2 -4l-4 0l-1 1l-7 -1l-2 2l0 2l-1 1l-7 0l-1 2l3 5l-1 1l-2 0l0 2l-2 3l-3 0l0 1l-7 6l0 3l-2 2l-2 -2l-1 5l-1 1l-5 1l1 3l-4 2l1 6l-2 1l0 2l-1 1l-2 0l-1 1l2 2l-2 2l0 2l-4 3l-4 0l0 3l-4 5l0 2l-6 7l-2 0l1 2l-2 1l1 4l-1 2l-4 3l-1 6l-1 1l-2 0l-4 3l0 2l-2 2l2 2l-1 1l-5 1l-2 2l-3 0l1 3l-2 2l0 3l-1 1l-2 -1l-2 3l0 4l-2 2l0 3l-3 4l-4 -3l-7 0l-2 -1l-1 2l0 4l-1 1l0 8l0 -3l1 -1l1 -7l3 -2l7 0l2 3l2 0l1 -2l2 0l0 -3l4 -3l-1 -4l3 -2l1 -5l5 -6l2 0l1 2l1 0l1 -2l3 -2l-1 -7l1 -1l3 0l5 -8l2 -1l1 -5l3 -4l-1 -2l4 -2l0 -4l2 -2l0 -2l6 -5l0 -2l1 -1l3 0l1 -1l2 0l1 1l0 -4l1 -1l3 0l2 -3l0 -2l-2 -2l1 -1l0 -2l2 -2l0 -2l2 -2l-1 -3l2 -2l5 0l2 -2l1 -7l2 -2l2 1l0 -3l1 -1l2 0l2 -2l2 2l1 -1l4 0l2 -1l0 -3l-3 -2l0 -5l6 -3l0 -2l2 -2l2 0l1 1l2 -1l2 3l5 4l2 -2l2 2l0 2l2 3l2 0l1 1l3 -2l3 2l2 0l-1 -4l1 -1l3 0l1 -2l6 1l2 -2l2 1l2 0l1 -1l4 5l0 2l4 4l2 0l0 -5l-2 0l-2 -2l0 -2l1 -1l0 -4l3 -3l3 -1l7 3l2 -1zM1241 458l2 -1l2 2l-1 1l-2 0zM767 451l-1 1l1 1l0 2l1 0l0 -4zM287 449l0 2l4 4zM871 445l0 2l1 1l0 -3zM281 445l3 2l-1 -2zM866 434l0 3l4 -1l-2 -3zM457 434l0 2l3 -2l1 1l1 -1l1 1l4 0l2 1l2 -5l5 0l4 3l-1 2l4 1l3 4l3 1l2 3l5 1l2 3l-1 2l1 2l-1 -2l1 -1l0 -2l-2 -2l-2 0l-2 -2l0 -2l-3 0l-6 -6l-1 0l-2 -2l0 -2l-3 -2l-6 0l-3 4zM655 590l2 0l3 -2l3 0l0 -1l2 -1l0 -2l7 -5l4 0l1 -1l2 0l2 -2l1 1l2 -1l4 0l4 -3l2 1l2 -3l3 0l-1 -1l0 -2l-3 -4l2 -8l4 -3l-1 -1l0 -2l-3 0l-1 -1l1 -1l0 -4l1 -1l1 -5l-3 -1l-4 -3l-1 1l-3 0l-6 -4l-6 -1l-4 -4l0 -1l-3 -2l2 -1l0 -2l-1 -1l1 -1l2 0l1 -1l10 0l1 1l5 0l2 2l2 0l1 2l2 0l3 -2l1 1l-1 9l2 1l1 -4l2 -1l2 -3l5 1l1 1l3 -5l1 1l2 0l2 -2l1 1l1 -2l2 0l3 -3l2 0l2 -3l2 0l0 -3l-3 0l-1 -1l5 -5l1 0l-1 -1l-1 1l-2 -1l3 -4l3 0l2 2l2 -1l3 -5l-2 -3l-4 2l-2 -4l1 -1l2 0l1 -2l2 0l1 -2l3 0l1 1l-3 4l1 2l2 -2l2 -5l2 -1l-3 0l-2 -3l3 -4l2 0l2 -2l-1 -3l3 -3l4 0l2 1l2 3l0 -2l1 -1l5 0l3 -3l2 0l1 -1l0 -1l-3 0l-1 -1l2 -3l5 0l2 -2l4 0l1 2l2 0l2 2l0 2l1 1l9 2l5 5l7 0l2 5l-1 1l1 0l1 -5l4 -3l-2 -2l0 -4l2 -3l-5 -1l-3 -4l0 -2l1 -1l-1 -1l0 -3l1 -1l8 0l1 1l0 4l2 2l-2 3l4 3l1 4l6 -4l4 1l3 -4l5 0l4 -2l8 4l8 7l2 0l4 -4l2 0l1 -1l0 -4l2 -2l1 0l4 4l3 -2l0 -2l3 -3l3 1l0 -2l-1 -1l1 -2l-2 -2l-2 0l-1 -1l0 -2l-1 -1l1 -3l-3 0l-2 -3l-3 -2l0 -4l-2 0l-1 -1l0 -2l3 -3l5 -1l2 -2l5 4l2 0l5 3l-1 2l-2 0l-1 1l1 1l-1 1l-2 0l0 3l3 2l1 7l4 -1l3 -4l6 1l2 -3l2 0l3 2l-2 3l-2 0l1 2l6 0l4 5l5 -1l1 -1l2 2l2 5l2 -5l1 -1l2 1l2 -3l2 1l2 -1l4 0l1 1l4 0l1 1l0 -2l1 -1l0 -5l-3 -3l0 -2l1 -1l2 0l1 2l4 0l3 2l1 -1l4 4l1 -1l-1 -4l1 -1l2 1l0 -1l2 -1l4 4l0 1l2 1l0 3l-1 1l1 5l2 1l2 -1l2 -3l1 1l4 0l1 1l0 2l-3 3l3 3l2 0l4 4l4 0l1 1l0 3l4 4l3 -2l4 0l4 -3l2 2l-2 2l0 4l4 2l-1 2l3 2l0 2l2 0l0 -3l2 -1l0 -3l1 -1l-1 -2l2 -2l9 0l4 3l1 -1l5 1l0 -3l3 -3l1 1l5 -1l3 2l0 2l3 5l4 2l5 -6l2 0l2 2l2 0l3 2l2 -1l1 -5l1 -1l5 -1l5 3l0 -1l4 -3l0 -2l1 -1l-1 -1l3 -3l6 4l4 6l6 1l5 5l-5 4l1 2l4 0l2 -3l3 0l2 3l5 0l1 1l9 -1l4 3l-2 3l2 2l0 3l3 2l-1 1l0 2l5 2l-3 3l0 3l1 1l-1 1l0 4l-3 2l0 2l-4 4l1 1l-3 4l-1 7l-2 2l-2 0l-3 2l0 6l-5 4l1 2l-3 2l-6 7l-4 2l1 1l2 0l5 4l2 0l2 3l0 2l-2 2l0 2l-2 4l-4 4l-2 0l-1 -1l-4 1l-1 2l-2 0l0 2l1 -2l3 0l1 -1l3 0l1 1l5 -1l0 -4l1 -1l1 -5l2 -2l-1 -7l-1 0l-3 -4l1 -1l0 -2l2 -2l0 -2l3 -4l6 -5l0 -2l1 -1l-1 -3l2 -2l5 -1l1 -2l0 -7l2 -3l0 -2l2 -3l4 -3l2 -4l-1 -7l2 -2l0 -3l2 -1l1 -4l-2 -3l-2 -1l-4 0l-2 -2l-1 -4l2 -3l-1 0l-3 -4l-1 0l-3 4l-2 0l-3 -4l-4 0l0 1l-2 1l-1 -1l0 -3l-3 -2l-5 1l-3 -2l-2 0l-7 -8l1 -2l-6 0l-6 -5l-3 2l-1 0l-1 -2l-2 0l0 1l-3 2l2 4l-5 5l-2 0l-1 1l-2 0l-1 -1l0 -2l-5 0l0 3l-1 1l-3 0l-1 -1l0 -2l-1 0l-2 -3l-2 0l-1 1l-1 -1l-1 1l-8 -1l-1 -2l-3 -2l-1 0l-1 3l-3 3l-3 0l0 4l-1 1l-1 -2l-2 -1l-1 1l-2 0l-2 -2l-2 0l-3 -2l-3 0l-4 2l-1 -1l3 -3l-1 -3l-1 0l-1 2l-2 1l-1 -1l-2 2l-7 3l-3 -2l-1 -2l9 -7l0 -2l-5 -5l-2 0l2 4l-4 3l-2 -1l-3 1l-2 -2l-4 0l-2 -2l0 -3l-2 -2l-3 0l-1 1l-2 -3l0 -3l-2 -2l-3 0l-1 -1l1 -1l0 -3l-2 -2l-2 1l-1 -1l-3 0l-1 -1l0 -2l-3 0l0 2l-1 1l-7 -1l-2 3l-4 -1l0 1l-9 8l3 3l-2 2l-5 -1l-1 -2l-1 0l0 3l-2 1l-2 -2l-1 1l-2 0l-1 -1l0 -3l-4 -3l-3 1l-4 -4l1 -1l-1 -1l0 -2l-5 3l-1 -1l2 -3l-1 -2l-2 3l-3 0l-4 3l-2 0l-1 4l-3 3l-2 -2l0 -2l2 -1l1 -2l0 -7l1 -2l-3 -4l-6 1l-2 -2l0 -3l-2 0l-1 1l-5 0l-2 2l-2 0l-1 -1l0 -2l-5 -1l-2 -2l-2 1l-3 -2l0 2l1 1l-1 2l1 1l1 6l2 2l2 0l2 -3l2 2l-2 3l3 3l0 2l1 1l2 0l1 1l0 2l3 2l-2 3l0 5l-4 2l-3 3l2 4l-2 3l-3 -2l-2 -4l-2 0l-3 2l-2 -2l0 -2l-2 0l-1 -2l-2 0l-2 3l-2 -1l-2 1l-3 -2l0 -2l-3 0l0 4l-3 2l-3 0l-2 -3l0 -2l1 -1l-3 -3l-3 0l-2 -3l-2 1l-1 -1l-5 -1l-2 3l-2 0l-3 -2l-3 3l0 3l-5 6l3 0l1 -1l2 2l0 2l5 4l0 2l-2 2l-5 0l-3 -2l-5 1l-6 -5l1 -1l0 -3l-7 -4l0 -1l4 -3l5 3l2 -1l0 -1l-2 1l-6 -8l1 -2l-1 -1l5 -5l0 -1l-1 -1l-2 0l-2 -3l-1 0l-3 4l-4 2l-2 0l-2 4l-5 5l1 1l0 2l4 2l0 4l-2 2l-2 0l-2 2l-2 -1l-4 1l0 2l2 1l-2 2l-3 0l-1 2l-2 0l-2 -2l-3 2l-2 0l-3 6l-2 -3l-2 0l0 1l-5 5l-1 -1l-2 0l-1 -1l0 -2l-1 0l-3 3l0 2l2 0l1 1l-2 3l-2 0l-1 -1l0 -2l-5 1l-2 2l0 2l2 0l2 3l-6 5l1 1l3 0l2 5l-2 2l-2 -1l-1 1l-11 1l-1 1l0 3l3 2l2 0l1 -1l1 2l2 0l2 2l0 1l-2 1l2 2l-1 2l-2 0l-2 2l-2 0l-1 2l-2 0l-5 4l-4 -3l1 -3l-4 0l-2 2l-3 0l-2 -3l-4 0l-2 2l-3 0l-1 -1l-7 0l-1 -1l-4 2l-4 0l0 3l-2 2l-2 0l-1 1l0 3l5 1l1 1l3 0l3 4l1 -1l1 0l1 2l2 0l1 -1l8 7l5 -1l4 2l-4 8l0 2l2 2l0 2l-2 2l-1 9l-2 2l-1 4l-4 4l-4 0l-4 3l-6 1l-6 3l-2 4l-4 1l-2 2zM728 499l2 2l0 2l-3 4l-2 0l-1 -1l1 -2l-1 -2zM1062 468l2 -1l2 2l-2 1zM868 460l1 2l-2 2l-2 -2zM864 460l1 1l0 2l-2 2l-1 -1l0 -3zM830 453l2 -1l1 1l0 2l-1 1zM878 446l2 -1l2 3l-1 1l-2 -1zM788 444l3 2l0 3l-4 4l-1 0l-6 -5l3 -3l4 0zM790 438l-1 1l0 3l-2 2l-4 0l-1 1l-2 0l-1 -1l1 -5l2 -2l5 0l1 -1z"/>
<path fill="#FFB3DD" stroke="#FFB3DD" d="M623 662l1 2l2 -1zM580 660l0 4l-1 1l-4 0l3 2l2 0zM569 660l0 2l-1 1l0 2l0 -1l1 -1zM404 664l0 -5l-1 1l-10 1l5 0l2 -1l2 2l-1 1l-6 0zM621 654l0 3l-1 1l2 1l-1 -1zM587 648l0 2zM547 647l1 1l0 -1zM541 638l0 1l1 0zM525 633l2 3l2 0l1 1l3 0l3 -2l3 0l-11 1l-2 -3zM594 632l-1 1l0 3l-2 2l0 3l3 -4zM641 620l-1 1l2 5l-1 2l1 1l0 2l-1 1l1 3l0 -5l1 -1l-2 -5l1 -2zM512 618l0 1l1 0zM675 606l0 3l2 0l1 1l0 -2l1 -1zM349 605l-1 6l-2 2l1 0l2 -3l1 2l2 -2l-2 1l-1 -1zM649 601l-2 6l-5 5l0 3l1 1l-2 1l0 1l2 -1l0 -2l7 -9zM598 601l0 5l2 5l0 4l-2 3l1 1l-1 1l0 3l0 -2l3 -5zM663 594l-2 3l1 11l2 1l0 2l1 -1l1 1l1 -1l0 -2l-2 -1l0 -3l-2 -2l1 -2zM614 592l-2 7l3 5l0 2l-1 1l0 6l2 4l-2 3l1 1l-1 2l3 4l0 4l0 -4l1 -2l-2 -3l1 -5l-1 -1l0 -3l-2 -3l2 -5l0 -4l-3 -6l1 -1zM1102 600l-4 0l-1 -1l-5 3l-2 -1l-2 0l-1 1l-1 -1l1 -5l1 -1l4 0l0 -2l4 -2l-1 -1l-1 1l-3 0l0 1l-4 3l-4 7l0 2l-3 3l4 0l7 -4l3 0l1 -2zM318 589l5 13l-1 5l4 2l1 2l2 0l3 2l-1 -3l-2 0l-1 -1l0 -2l-4 -3l0 -5l-3 -4l-1 -6zM1131 587l1 1l1 0l-1 -1zM1129 587l-4 0l-2 1l0 4l-2 4l0 3l1 -3l3 -2l0 -3l2 -3zM536 587l1 0l4 4l0 1l2 1l2 8l2 3l-1 5l2 -1l2 -4l-5 -4l0 -10l-4 -1l-3 -2zM532 585l2 0zM489 585l-1 3l1 0l1 -2zM667 583l-1 1l0 2l-2 1l2 1zM571 576l0 7zM503 576l-1 2l1 4l3 1l3 3l-2 -3l0 -2l-3 -2l1 -1l-1 0zM1123 575l-2 2l-2 -2l-5 -1l-4 7l-1 -1l-1 2l1 2l0 -2l1 -1l2 0l1 -2l2 -1l5 1zM355 574l-1 5l1 1l0 3l1 1l1 5l-3 2l-1 2l0 3l1 1l-1 1l1 2l-2 1l0 1l2 -1l0 -5l4 -6l-1 -2l0 -5l-2 -4zM1126 564l-2 0l3 2l0 2l-3 2l1 2l0 -2l2 -2zM530 557l0 2zM548 556l0 1l2 1l0 4l2 4l0 3l-1 1l1 1l-1 1l-1 7l-1 1l-2 -2l0 2l1 2l3 0l0 -4l1 -1l0 -4l1 -1l-1 -2l0 -8l-1 -1l0 -4l-2 0zM507 555l1 6l-1 1l-1 -1l-1 1l-1 -1l-2 0l-1 1l5 0l1 1l-2 1l-1 2l2 -2l1 1l1 -1l4 0l7 4l-1 2l2 3l0 2l2 2l1 4l3 4l2 1l2 -1l-2 0l-4 -3l-2 -7l-1 0l-2 -3l0 -5l-2 -4l-1 0l-2 -3l-6 -3zM488 555l2 0zM473 556l5 5l0 1l2 1l-1 -3l-3 -3l3 -2zM498 554l-4 1l2 1l2 -1zM437 550l4 0l1 1l2 -1zM1168 546l-4 7l-2 2l-3 0l1 7l-2 1l-3 4l-1 0l-1 -2l-2 0l-4 5l-1 5l-3 2l1 4l-4 3l0 3l-1 1l-2 0l5 -1l2 -2l3 -8l3 -2l3 -5l2 0l5 -8l0 -3l6 -5l2 -5zM1127 545l-2 1l-1 2l-10 9l-3 1l3 2l5 0l1 2l2 0l-3 -2l-2 0l-2 -2l2 -2l3 -1l3 -4l5 -4zM423 538l-2 0l-2 2l-2 -1l1 2l-1 1l0 4l-1 1l2 -1l-1 -1l2 -1l1 -4zM331 537l3 4l6 5l0 2l3 2l1 3l1 1l2 0l0 -1l-2 -1l-2 -5l-1 0l-9 -10zM549 532l4 0l2 1l-3 -2zM543 528l2 1l0 -1zM320 518l0 4l2 3l3 2l3 6l0 2l-1 -7l-7 -8zM529 516l4 2l0 2l-1 1l1 1l4 1l2 2l-1 -2l-2 0l-2 -2l-1 -4zM1195 512l-2 0l0 4l-1 1l-1 -1l-6 1l0 2l-6 5l0 2l-2 2l0 4l-4 2l1 2l-2 2l-2 6l1 -1l0 -2l4 -3l3 -1l2 -3l0 -2l2 -2l-1 -1l2 -2l-1 -1l2 -4l2 -1l2 -3l5 -1zM529 512l3 0zM535 517l1 1l1 -2l6 1l-1 -2l4 -3l3 2l4 0l1 -1l2 1l-8 -4l-4 0l-5 3l-4 -1l1 2l0 2zM736 509l-1 0l0 3l-1 1l-2 0l-2 3l-2 0l-3 3l-2 0l-1 2l-1 -1l-2 2l-2 0l-1 -1l-1 3l-2 2l-1 -1l-5 -1l-1 2l-2 1l0 2l-2 3l-3 -2l1 -9l-3 2l-2 0l-1 -2l-2 0l-2 -2l-5 0l-1 -1l-10 0l-1 1l-2 0l1 1l0 2l-2 1l1 1l2 -3l5 -2l10 0l2 2l0 2l7 6l0 5l-1 1l-3 -2l-2 1l-3 -2l-5 -1l5 3l3 0l1 -1l8 5l0 2l-2 4l0 4l-1 1l3 0l2 4l-4 3l-1 5l-1 1l0 2l3 4l0 2l1 1l-1 1l-3 0l-2 3l-2 -1l-4 3l-4 0l-1 1l-2 -1l-2 2l-7 1l-1 1l9 -2l6 3l2 -1l2 0l1 1l2 -1l7 -8l2 0l0 -2l-2 -2l0 -3l1 -1l0 -4l-1 -2l2 -5l0 -6l-1 -1l1 -7l2 -1l0 -2l4 -7l1 1l6 -4l9 2l2 -2l2 0l3 -3l2 0l0 -2l2 -2l0 -8l1 -1zM268 508l6 0l8 5l2 3l2 1l0 4l4 9l0 4l3 2l3 4l0 2l-1 1l4 3l0 2l1 1l-1 5l2 2l1 4l2 2l0 2l2 2l3 6l2 7l4 3l0 -2l-3 -2l-2 -7l-2 -1l0 -2l-3 -4l0 -7l-1 -2l-2 -1l-2 -4l0 -8l-7 -9l-2 -4l0 -2l-3 -4l-1 -7l-1 0l-3 -4l-1 -4l-1 -1l-1 1zM312 503l1 6l2 1l2 5l1 -1l-1 -1l0 -2l-3 -4l0 -4zM524 502l0 3l1 -1zM728 500l-3 2l1 1l-1 3l2 0l2 -3l0 -2zM733 502l2 -1l1 1l4 0l0 -1l1 -1l1 1l0 -1l-2 1l-2 -2l-3 0zM520 494l0 2l1 0zM528 492l0 1l1 1l0 -1zM306 492l2 3l0 3l2 1l0 -1l-2 -1l-1 -5zM747 485l-3 0l-1 2l-2 0l-1 2l-2 0l1 1l0 2l4 -2l2 3l0 -3l-1 -1zM556 487l0 1l8 1l-1 0l-3 -4zM1142 482l-3 0l-1 1l-9 -1l2 3l2 1l4 0l2 2l1 4l2 1l1 -1l2 2l-1 4l3 4l0 2l1 1l-2 4l-3 2l0 3l1 1l-1 2l-4 4l-4 1l0 1l-2 1l2 4l-6 5l0 3l1 1l0 5l-1 1l3 -2l0 -6l4 -3l2 0l1 -1l1 -7l3 -4l-1 -1l4 -4l0 -2l3 -2l0 -4l1 -1l-1 -1l0 -3l3 -3l-2 0l-3 -2l0 -2l1 -1l-3 -2l0 -3l-2 -2l2 -3zM266 482l0 3l1 1l-1 1l0 3l2 3l0 4l-2 3l0 5l1 -1l0 -3l2 -2l0 -5l-1 -2l2 -5l-2 0l-1 -1zM353 481l-1 1l-1 0l2 0l1 -1l1 0zM476 473l-1 1l0 1l2 1l0 2l-3 2l-4 0l-3 2l-4 1l2 1l-1 4l3 8l-1 1l-2 0l-1 -1l1 -1l-2 -1l-1 -6l-1 1l1 7l3 5l9 -7l0 -2l1 -1l-5 -5l0 -1l2 -2l4 -1l2 -2l1 -3zM295 470l0 4l3 4l-1 1l1 1l-2 1l2 1l-1 1l1 2l-1 1l1 2l2 1l-2 -2l1 -9l-3 -4zM1063 468l1 1l1 0l-1 -1zM457 467l2 4l4 3l1 3l1 -1l-1 -1l0 -2l-4 -3l0 -2l-2 0zM477 466l0 2zM1279 463l-1 1l-4 -1l-2 2l-6 -1l-1 2l-3 0l0 2l1 1l2 -1l1 1l1 -1l1 1l1 -1l1 1l3 -3l3 0l2 2l0 4l-1 1l-4 0l-4 2l-1 -1l-4 5l2 5l1 0l4 5l-1 1l1 1l-1 1l3 8l1 0l0 -2l3 -4l7 -5l-1 -1l0 -2l2 -3l2 0l-1 -2l2 -3l0 -4l-1 0l-5 -5l0 -2zM1271 493l2 -1l2 2l-1 1l-2 0zM1275 478l1 1l-1 2l0 4l-4 2l-2 -2l0 -2l2 -2l-1 -1l2 -2l1 1zM1126 480l-1 -1l-3 0l-2 3l-4 0l-2 -3l5 -4l-4 -4l-6 -1l-2 -2l-1 -3l-7 -5l-2 2l1 1l-1 1l0 2l-4 3l-1 2l-5 -3l-2 0l-1 1l-2 0l-1 5l-3 2l-3 -2l-2 0l-2 -2l-2 0l0 1l-5 5l-1 -1l-2 0l-2 -2l-3 -5l0 -2l-2 -1l-3 0l-1 1l-2 -1l-2 2l0 3l-1 1l-2 -1l-3 0l-1 1l-4 -3l-9 0l-1 1l1 1l-1 5l-2 1l0 3l-1 1l-2 0l-1 -1l0 -2l-3 -2l1 -2l-2 0l-2 -2l0 -4l2 -2l-1 -1l-3 2l1 1l-1 1l1 1l0 4l2 3l4 2l2 4l4 -1l1 -2l3 -1l4 -3l1 -2l7 1l5 7l2 0l3 4l2 0l3 2l1 -1l3 1l3 4l-1 2l-1 -1l1 5l1 0l1 2l1 -1l4 2l-1 -2l0 -5l1 -2l-3 -5l2 -3l3 0l0 -3l3 -4l9 0l5 7l7 1l4 2l5 5l5 -5l6 -1l1 -2l2 0l1 -1l7 -1l0 -2zM1097 485l3 -4l2 0l2 2l-4 4zM1103 473l1 -1l5 1l2 2l0 2l1 1l-4 4l-3 -3l0 -2l-2 -1zM1092 474l0 2l-1 1l-2 -1l-2 2l-2 -1l1 -3l2 -2zM1092 472l2 -1l4 2l-2 3l-3 -2zM813 477l-1 -1l0 -3l-7 0l-5 -5l-9 -2l-2 -2l0 -2l-1 -1l-2 0l-1 -2l-4 0l-2 2l-5 0l-1 2l3 0l1 2l-2 2l-2 0l-3 3l-5 0l0 2l-1 1l-2 -3l-2 -1l-4 0l-2 2l1 3l-3 3l-2 0l-2 4l1 1l4 0l1 -1l2 0l1 -2l2 1l0 -3l1 -1l4 1l8 -4l2 1l2 -1l3 2l1 2l2 -1l4 0l1 1l5 -2l5 0l1 1l4 -1l1 1l3 0l3 2l2 -1l1 1zM1261 471l-3 -2l-3 2l-4 -1l-3 -4l0 -2l-1 -1l-2 2l-4 -3l-3 -4l-1 1l-4 -1l-2 4l-5 2l0 5l3 2l0 3l-3 2l-4 0l-1 1l-2 -2l-2 2l-2 0l0 3l-1 1l-1 -1l-2 1l-1 7l-3 3l-5 0l-1 1l1 3l-4 6l0 2l-1 1l2 2l0 2l-2 2l1 1l1 -5l1 -1l2 0l3 -3l0 -2l-1 -1l1 -5l9 -10l7 -2l5 -3l2 0l1 1l1 -1l1 1l4 0l4 -3l9 0l1 -1l4 0l1 -2l4 -3l1 1zM1230 465l4 -3l1 -2l2 2l0 2l4 3l1 -1l4 3l1 4l-2 2l-10 -1zM1298 458l-7 -2l-4 3l-1 7l4 2l0 3l2 -3l1 -4l4 -3l-1 -2zM831 453l1 2l0 -2zM490 453l-1 1l-3 0l-3 -2l-1 1l-2 0l1 1l-2 3l1 2l-2 3l1 1l1 -5l3 -4l7 0zM275 447l-1 0l-4 5l1 0zM277 445l3 0zM482 438l4 6l3 0l1 2l2 0l-1 0l-2 -3l-3 -1l-3 -4zM966 438l1 2l0 7l-2 4l1 4l3 2l2 0l5 6l3 8l2 1l1 -1l3 0l0 -2l-1 -1l0 -3l1 -1l2 0l5 5l-1 2l-4 0l1 2l2 0l1 -2l2 0l1 -1l2 1l2 -1l4 0l-4 -4l0 -3l-4 0l-4 -4l-2 0l-4 -4l3 -3l0 -2l-4 0l-1 -1l-2 3l-3 1l-2 -2l0 -3l-1 -1l1 -5l-1 0l-4 -5l-1 0l-1 2zM789 438l-1 -1l-1 1l-5 0l-1 1l-1 5l2 0l-2 -1l2 -5l4 0l2 4l0 -3zM465 436l3 1l-1 -1zM473 432l3 0zM964 443l-3 -3l-1 1l-3 -2l-4 0l-1 -2l-2 0l0 2l3 3l0 5l-1 1l0 2l-1 1l-1 -1l-4 0l-1 -1l-4 0l-1 1l-3 -1l-2 3l-2 -1l-1 4l-2 2l-2 -2l0 -2l-2 -3l-1 1l-5 1l-4 -4l0 -1l-6 0l-2 -2l1 -2l2 0l1 -1l0 -1l-2 -1l-2 0l-2 3l-6 -1l-3 4l-4 1l-2 -4l0 -4l-3 -2l0 -3l1 -1l2 0l-1 -1l2 -2l2 0l0 -1l-4 -2l-2 0l-5 -4l-2 2l-5 1l-2 2l0 2l2 0l1 1l0 4l2 1l2 3l3 0l1 1l-1 2l1 4l2 0l3 3l-1 2l1 1l0 2l-1 1l-3 -1l-2 2l0 2l-4 3l-4 -4l-1 0l-1 1l0 4l-2 2l-2 0l-4 4l-2 0l-8 -7l-8 -4l-4 2l-5 0l-3 4l-4 -1l-6 4l-2 -3l0 -2l-4 -3l2 -3l-2 -2l0 -4l-8 0l0 3l1 1l-1 1l0 2l2 3l3 0l3 2l-2 3l0 4l2 2l-4 3l-1 4l2 0l4 -2l9 1l1 1l2 0l1 -1l6 0l1 -2l1 1l4 -3l-1 -2l2 -2l2 0l3 -2l2 1l1 -1l5 6l1 4l3 2l6 0l2 2l1 -1l1 2l1 -1l2 0l2 -3l2 1l1 -2l0 -4l2 -1l6 8l5 1l2 3l2 -5l2 -1l2 4l-1 2l1 0l4 -3l1 -2l-1 -1l2 -2l3 -1l2 -2l1 -3l5 -4l0 -2l3 -2l5 3l6 -4l1 1l1 -1l5 4l2 -1l1 1l6 -3l2 0l2 -3l-1 -1l1 -1l2 0l1 -2l1 1l0 -2l1 -1l-1 -2l1 -1l-1 -4l1 -1zM898 470l2 -1l1 2l-2 1zM876 465l1 2l-1 2l-2 1l-1 -1l0 -2zM913 459l1 2l-3 2l-1 -2zM888 460l1 -1l4 1l2 2l-1 2l2 3l-1 1l-5 0l-1 -1l1 -5zM900 455l3 -3l5 2l1 1l0 2l-1 1l-4 0l-1 -1l-2 0zM817 451l2 2l0 2l-1 1l-2 0l-2 -3zM877 428l1 -1l3 0l2 3l-1 1l-2 0z"/>
<path fill="#86200E" stroke="#86200E" d="M631 669l7 -1l-5 0zM567 664l0 5l1 1l2 0l7 -3l-2 -1l-1 1l-6 0l-1 -1zM581 658l1 -1l2 0l-3 0zM379 654l1 2l1 0l0 -1zM543 642l1 4l2 1l-1 -1l0 -2l-1 0zM621 640l1 2l0 4l0 -6zM538 636l2 2l0 -1zM522 630l1 3l1 0zM616 627l-1 2l1 1l0 6l2 0l-2 -1l1 -1l-1 -1zM1082 608l2 0zM684 607l-1 -1l-2 2l-2 0l0 2l3 -1zM678 602l-3 0l-4 2l2 2l-1 3l1 0l2 -4l2 1zM491 602l4 6l5 3l2 0l3 5l2 2l2 0l-5 -5l0 -3l-5 -1l-4 -2l-2 -2l0 -4zM543 598l-3 4l-1 3l-2 1l-3 -2l0 3l-1 1l2 1l3 4l1 0l0 -2l3 -2l3 4l-4 2l3 0l1 -1l1 1l1 -1l-2 -2l0 -5l1 -1l0 -2zM686 597l-1 1l0 3l1 1l3 0l0 -2l-2 -3zM531 597l0 1l2 1l0 -2zM487 593l0 3l1 1l2 0l0 -2l-2 0zM1137 589l-1 1l-2 0l3 0l1 -1l1 0zM511 587l2 3l1 -1l2 2l-1 1l1 -1l1 1l0 2l3 2l1 2l3 1l4 3l2 5l0 -4l1 -1l-4 -4l0 -2l-3 0l-1 -2l-2 0l-1 -1l0 -3l-2 -1l-1 -2zM613 586l-6 0l-1 2l-6 5l-1 11l1 1l0 4l1 1l1 6l-6 12l-1 5l3 -2l3 0l1 -1l0 -2l2 -3l-2 0l-2 -3l1 -1l2 0l1 -2l2 1l-1 -3l2 -2l2 0l1 -1l2 1l0 2l-2 2l-1 -1l2 4l0 -1l2 -1l2 -3l-2 -4l0 -6l-1 1l-1 -1l-4 0l-3 -2l-3 -4l3 -6l2 1l2 -1l4 2l0 -3l1 -1l-1 -3l2 -1l-2 -1zM524 583l0 3l2 1l6 0l1 1l-1 3l3 -2l2 1l-2 3l0 3l6 0l-1 -5l-4 -3l-1 -2l-6 0l-1 1l-2 -1zM1107 582l-1 1l-1 -1l0 -2l-4 0l-1 -1l0 -2l-1 0l-3 4l-5 0l-3 3l1 3l-2 3l-3 -2l-2 1l0 4l1 1l-1 10l0 -2l2 -4l7 -8l3 0l1 -1l1 1l2 -1l2 1l2 -2l6 -1l1 -2zM1087 590l1 -1l2 2l-2 1zM546 573l0 1l2 1l0 -1zM1154 571l-1 0l-2 4l-3 2l-2 4l0 2l4 -3l1 -2l0 -4l2 -1zM1123 571l-5 1l0 2l3 2l3 -2l0 -2zM701 566l0 3l2 2l0 2l-1 1l-2 0l0 1l-2 1l0 1l-2 1l-3 4l-2 1l-1 -1l-4 1l-6 -3l-11 2l-2 3l1 1l-2 3l-2 -1l-1 1l-3 0l-3 2l-2 0l-3 5l-2 1l0 7l1 2l-7 9l0 2l-2 1l0 2l1 1l-1 3l2 5l-1 1l0 5l-3 8l-3 3l1 2l-1 1l2 2l1 4l1 0l0 -10l-1 -2l2 -3l2 -1l-1 -2l2 -1l0 -5l1 -1l-3 -2l1 -2l1 -10l2 -2l2 0l5 -6l-1 -1l0 -4l3 -2l3 3l0 2l2 1l-1 -10l3 -4l2 4l0 3l-1 1l7 -1l0 -3l-3 -3l0 -2l2 -3l0 -3l1 -1l2 0l1 1l4 -1l0 -3l1 -1l6 4l2 0l2 2l0 4l5 2l-1 -2l3 -6l4 -2l5 0l4 -3l-1 0l-4 -5l0 -2l-3 -5zM502 572l0 -2l2 -2l2 0l4 -2l5 1l-3 -2l-4 0l-1 1l-1 -1l-2 2l-2 0zM531 558l2 5l3 0l4 7l2 1l-2 -4l0 -3l-3 -2l-3 0zM493 558l0 2l2 2l-1 1l1 1l2 0l5 -4l2 0l1 1l1 -1l-1 -1l1 -1l-1 0l-2 2l-8 1l-1 -1l1 -3zM1165 556l-4 3l0 3l-4 6l2 -1l3 -8zM501 554l-2 1l2 0zM567 553l-4 3l-4 1l2 0l1 1l-2 3l0 2l1 1l-1 1l1 1l0 4l4 5l0 3l1 1l-1 4l1 2l3 1l1 -1l0 -9l-1 -1l0 -3l1 -1l-3 -7l2 -3l-2 -1l0 1l-2 1l-2 3l-2 -2l2 -2l0 -2l3 -2l4 2l0 -2l-2 -4zM402 551l11 1l2 -1l0 -1l-4 0l-1 1l-1 -1l-4 0l-1 1zM736 548l0 1l1 0l0 -1zM455 551l5 -1l1 -1l16 1l1 1l6 -1l2 2l-1 1l-5 0l1 1l1 -1l12 1l-5 0l-1 -1l1 -2l4 0l1 1l3 -2l1 1l0 2l1 0l1 -1l-1 -2l3 -2l-2 1l-5 0l-3 2l-5 -2l-2 1l-1 -1l-2 1l-1 -1l-2 1l-1 -1l-2 1l-7 0l-1 -1l-8 0l-3 -2l-2 0zM527 546l3 1l3 4l0 -2l-2 -2zM301 545l0 2zM391 544l4 1l-2 -2zM1173 541l-1 0l0 2l-3 3l0 3l2 -2l1 -5zM1129 541l-1 1l-5 0l-1 -1l-2 1l-1 -1l-3 5l-5 1l-2 2l-5 0l-1 1l0 2l-3 3l0 2l-4 4l0 2l6 4l4 -1l2 2l0 3l2 0l0 -2l1 -1l2 1l-1 1l0 1l1 0l0 -2l-1 -1l1 -2l5 0l1 -1l2 0l3 4l2 -1l0 -2l-2 -1l-1 -2l-3 0l-1 -2l-5 0l-4 -3l4 -2l8 -8l1 0l2 -3l3 -1zM427 537l1 2l1 0l1 -2l5 1l1 1l2 0l1 -1zM531 534l-1 1l0 3l0 -3zM443 535l1 1l2 0l7 8l0 5l0 -5l-2 -3l1 -4l-3 -2l-3 0l-1 -1zM361 534l-5 5l0 4l-1 2l9 1l-3 -1l-2 -2l-1 1l-2 -2l0 -1l2 -1l5 3l2 0l1 1l0 2l0 -2l-3 -4l0 -6zM1068 524l0 1l2 1l0 -1zM373 524l-1 2l2 2l1 4l3 1l0 -2l-2 -2l0 -2l-1 -1l1 -3l-1 1zM511 521l-4 3l0 3l2 4l-1 -2l1 -1l-1 -4zM672 524l4 5l12 2l3 2l2 -1l3 2l0 -5l-1 0l-1 -2l-4 -3l-2 2l-2 0l-1 -1l0 -3l1 -1l3 0l-1 -1l-10 0l-5 2zM530 521l3 3l4 1l2 3l2 0l3 3l-1 1l-4 -2l-2 0l-1 1l5 1l3 2l4 0l2 2l-3 2l0 2l-4 3l-5 0l-1 -1l-3 2l-2 -2l0 -2l0 3l2 1l2 -1l2 2l3 0l5 -4l4 -1l0 -2l1 -1l3 0l1 1l-1 9l2 2l4 -1l-1 -3l-3 -4l4 -7l-1 -2l-2 2l-5 -1l-3 2l-1 -1l1 -1l-2 0l-3 -4l-4 -2l-3 -3l-4 -1l-2 -2l1 -1zM556 535l1 2l-2 1l-1 -1zM1121 516l0 1l1 -1zM778 516l-2 2l0 2l2 0zM364 515l2 1l1 7l3 1l0 -2l3 -7l-1 1l-2 0l-1 -1l-2 2l-1 -2zM286 515l1 0l1 2l0 -2zM1117 514l-1 3l-2 1l-3 4l1 5l2 2l0 2l-3 3l3 2l3 -3l2 1l4 -1l1 2l-1 2l-2 1l1 1l1 -2l4 -1l1 -2l-2 -2l-3 -1l-5 -6l-4 -2l2 -2l1 1l1 -1l0 -1l-2 -1l1 -1l2 0l0 -3zM515 518l10 -1l1 -1l3 2l3 0l-4 -2l-7 0l-1 -2l-1 0l0 1zM1141 510l-4 -2l-2 1l-4 0l-1 1l0 2l-2 2l1 1l0 -2l1 -1l3 0l1 1l0 3l-1 1l-2 -1l0 3l1 1l-3 3l0 2l1 1l3 -1l-1 -1l2 -1l1 -2l4 -1l3 -3l1 -2zM1114 508l-1 0l-2 3l2 0l1 -1zM909 508l-2 2l2 0zM551 508l0 3l6 2l-3 -3l0 -2zM802 507l-2 3l2 -1zM351 505l1 6l1 -1l3 0l0 -2l-3 0zM1146 504l0 1l1 0zM268 504l-1 1l1 2l2 0zM1027 503l-1 1l1 1zM1033 502l-1 2l1 0zM1019 499l-1 1l1 4l-2 1l1 1l4 -2l-2 -2zM813 499l-4 2l-3 0l-4 3l4 3l2 0l2 -2zM1211 499l-3 -1l-2 -2l-1 2l1 4l-4 4l-2 0l-1 5l-1 1l-1 -1l-2 2l-1 4l-1 1l-5 1l-3 4l2 -1l0 -2l1 -1l2 1l2 -2l2 1l2 -2l0 -3l2 -2l3 0l1 -2l-1 -1l0 -2l4 -3l3 0l2 -2zM1272 502l-3 -3l-2 -4l-5 4l0 2l-2 3l2 -2l2 0l1 -1l4 0l1 1l-1 1l1 1l1 0zM1027 494l-1 1l-2 0l0 1l1 1zM998 490l1 1l1 -1zM994 490l0 1l1 -1zM1032 489l-2 0l-1 2l2 0zM297 487l0 3l2 0l2 3l4 0l0 -1l-2 0l-1 -2l-3 0zM1220 487l-3 2l-1 2l-1 -1l-1 -5l-7 8l2 0l1 -1l3 0l1 2l1 -1l2 0zM935 485l0 1l1 0l0 -1zM516 487l0 2l2 3l3 2l4 -2l1 1l-1 2l2 1l-1 2l-4 -1l4 6l-1 3l-3 4l1 1l2 0l1 1l1 -1l9 0l1 1l2 0l3 -2l-3 0l-5 -4l0 -2l2 -2l3 -1l2 -2l5 0l1 2l2 -1l3 2l3 -4l4 -1l3 -4l2 0l2 3l-2 2l-3 0l-1 1l1 1l7 1l1 1l-2 4l2 3l-1 1l-2 0l0 2l-3 2l-2 -2l-2 1l4 2l7 0l5 -4l1 -10l-1 -2l-2 -1l0 -3l-2 1l-2 -2l0 -2l-1 -1l-2 1l-1 -2l-5 0l-1 -1l-3 0l-3 -2l-1 1l-4 0l-1 1l1 1l-7 6l-5 0l-4 2l-5 -5l0 -1l-5 -4l-1 -4zM461 484l1 7l2 1l0 -3l-1 -1l1 -4zM855 484l1 1l0 2l-2 2l0 3l2 3l4 1l1 -2l3 -2l1 1l2 0l2 2l-1 3l-2 1l-1 2l3 -1l2 -2l3 2l2 0l1 -2l-2 -4l4 -3l1 -3l-3 2l-2 -3l-3 0l-1 -1l-6 1l-1 -1l1 -2l-1 -3l-2 0l-3 3zM1106 478l2 3l-1 -3zM1252 477l-3 0l-1 1l-9 0l-4 3l-4 0l-1 -1l-1 1l-1 -1l-2 0l0 2l4 2l4 -1l3 2l1 2l1 0l2 -3l3 2l-1 -2l2 -2l2 1l2 -1l1 -4zM1033 481l2 3l-1 2l2 -1l3 0l1 1l-1 9l-1 1l-1 -1l-2 1l-1 3l2 0l1 1l0 3l3 3l-1 1l-2 0l-1 2l2 -1l4 0l-1 -1l0 -5l-1 -1l5 -5l1 0l1 1l-2 2l1 1l0 2l-1 1l0 4l-1 1l3 0l2 2l3 0l1 -2l2 -1l3 3l0 2l1 1l5 -1l1 1l-1 2l1 0l4 -5l3 1l2 4l1 -1l2 0l1 -2l-2 -2l0 -2l4 -2l-1 -2l0 -2l1 -1l3 2l0 2l2 0l2 -3l2 4l-2 2l3 0l1 1l2 -1l2 3l5 0l0 -2l2 -2l6 1l3 -4l-2 -8l1 -1l3 0l0 -2l1 -1l4 2l1 2l2 0l1 -1l-1 -2l0 -2l1 -1l2 1l3 5l2 -2l2 0l1 -2l2 0l1 1l-1 1l0 3l-4 2l0 1l10 0l1 1l3 -1l-1 -2l1 -4l-1 -1l-1 1l-2 -1l-3 -6l-4 0l-2 -1l-2 -3l-3 -2l0 2l-1 1l-7 1l-1 1l-2 0l-1 2l-6 1l-5 5l-5 -5l-1 0l1 2l-2 3l-2 1l-1 2l-3 0l0 1l-3 2l-3 -6l1 -1l2 0l5 -6l-5 -1l-5 -7l-9 0l-2 4l3 0l3 -2l2 0l1 1l-1 2l-4 1l0 1l3 2l1 3l-2 1l-1 -2l-1 1l1 1l-2 2l0 1l2 0l4 4l0 2l-1 1l-5 -1l-2 -3l0 -3l-3 -2l-1 2l0 5l1 2l-1 1l-2 -1l0 3l-3 3l-2 -4l-3 0l-1 -2l-2 0l-1 1l-2 -3l0 -6l-2 -1l4 -3l1 2l3 2l-1 3l2 -1l0 -2l1 -1l1 1l-2 -4l-2 -1l-2 1l-3 -2l-2 0l-3 -4l-2 0l-5 -7l-4 0l-2 -1l1 1l0 2zM1097 509l1 -2l2 1l-2 2zM1099 499l3 2l-2 3l-2 -1l0 -3zM1108 492l2 0l1 1l-2 3l-2 0l-1 -1zM343 477l0 2l1 1l-1 1l5 0l1 1l1 0l0 -1l-2 -1l4 -2l0 -2l-1 1l-4 0l-1 -2l-1 2zM836 477l-2 0l-1 1l-2 0l-1 -1l0 2l-2 2l-4 -1l-2 -4l-8 3l-2 0l-1 -1l-2 1l-3 -2l-3 0l-1 -1l-2 0l-1 1l-2 -1l-5 0l-5 2l-1 -1l-4 0l-2 1l-1 -2l-3 2l-1 -1l1 -3l-2 1l-2 -1l-8 4l-4 -1l0 3l-1 1l-2 -1l-1 2l-2 0l-3 2l-2 5l-3 3l0 2l-3 5l0 2l-1 1l-1 -1l-1 2l-5 1l-4 4l5 0l1 1l0 2l-1 1l0 8l-2 2l0 2l-1 1l-2 0l-3 3l-2 0l-2 2l-9 -2l-6 4l-1 -1l-3 6l0 2l-2 1l0 4l-1 1l0 2l1 1l0 6l-2 5l4 1l2 2l4 -3l2 0l1 1l6 0l1 -2l0 -3l-1 -1l1 -3l-1 -1l-3 0l-1 -1l1 -2l5 -1l2 2l0 2l1 1l1 -1l2 0l1 2l2 -1l-2 -2l2 -2l-1 -1l0 -2l1 -1l10 -1l2 -1l0 -2l1 -1l4 3l-3 5l2 1l2 -2l3 2l2 0l1 -1l3 2l2 0l3 4l2 -2l0 -3l1 -1l0 -2l-1 -1l1 -4l-2 -1l-2 2l-2 0l-1 1l-2 -2l3 -4l6 0l3 2l0 -1l-2 0l-1 -2l-2 0l-6 -4l1 -5l1 -1l0 -3l2 -2l1 1l2 0l1 -1l0 -2l-4 -2l0 -2l2 -3l0 -2l-1 -1l-4 2l-3 5l-4 0l-1 1l-2 0l-1 -1l0 -2l1 -1l1 1l3 0l2 -2l0 -2l-2 -1l0 -4l3 -3l3 0l5 -4l4 1l1 -1l-1 -1l3 -2l5 6l1 5l-1 1l-2 0l1 3l-3 2l0 2l-2 3l1 1l2 0l1 -2l4 -1l3 4l7 -1l3 2l2 -4l-4 -5l0 -2l1 -1l-4 1l-2 -2l1 -2l2 -1l4 0l1 1l7 -1l4 -3l-3 -2l7 -8l4 1l1 2l3 -1l3 5l5 1l2 -2l-2 -4l5 -5l1 -5l2 -2l2 0l1 1l0 2l2 0zM710 540l2 -1l-1 -2l1 -2l2 0l2 2l2 0l1 1l-6 4zM747 508l2 3l-4 3l0 2l-1 1l-3 0l-1 -1l0 -3l3 -3l2 0l0 -1zM779 486l1 2l-3 3l-1 -1l0 -2zM883 472l0 4l-2 3l-2 -1l0 1l2 1l-1 1l3 4l2 0l1 -1l-4 -3l1 -2l-1 -1l2 -2l3 2l1 0l0 -1l-1 0l-1 -1l0 -2zM954 470l0 1l1 0l0 -1zM336 470l-1 4l1 0l1 2l4 0l0 -1l-3 -2l0 -3zM948 485l2 2l7 -2l-1 -5l3 -3l5 1l1 1l-1 2l3 0l1 1l2 -1l2 2l-3 3l0 3l2 2l-1 1l4 2l0 2l2 3l3 0l-2 -5l3 -3l2 1l2 -5l3 -1l2 -2l2 0l1 1l0 2l-1 1l2 -1l4 1l0 -2l-4 -2l0 -1l2 -1l0 -3l1 -1l2 2l0 2l4 3l0 3l2 1l2 3l2 0l4 -3l5 0l1 -1l1 1l2 0l4 -5l2 0l0 -3l-2 1l-1 2l-4 1l-3 -5l-3 -1l-3 -4l0 -4l-1 -1l1 -1l-5 0l-3 2l-5 0l-1 1l-3 -1l-1 1l-2 0l-1 2l-2 0l-4 -2l-2 0l-1 1l-2 -1l-2 -4l0 5l1 1l-3 2l-2 3l-1 0l-2 -2l-2 1l-4 -2l0 -2l3 -2l0 -3l-1 -1l-3 0l0 2l1 1l-9 8l-2 0l-1 1l1 1zM1019 486l2 -1l1 2l-1 1zM974 485l1 -1l6 -1l2 3l-1 1l-7 0zM380 468l-2 0l-4 4l-3 5l-4 3l1 1l0 5l3 -2l2 -4l0 -2l3 -5l2 -2l3 -1zM1274 467l-4 3l-1 -1l-1 1l-1 -1l-1 1l-1 -1l-6 4l-1 -1l-3 2l0 2l2 -1l2 1l0 2l-1 1l7 5l1 3l2 2l0 3l2 2l-1 -2l1 -1l-1 -1l1 -1l-2 -3l-3 -2l-2 -5l5 -6l1 1l4 -2zM855 467l-1 1l-2 -1l-3 2l-2 0l-1 1l1 2l-4 3l0 1l2 2l3 0l3 3l1 -1l3 0l4 -4l0 -4l-4 -4zM1297 462l-3 2l-1 4l-4 6l0 4l-2 3l1 1l-1 5l-5 5l-3 1l-4 6l1 -2l3 -2l1 0l1 2l12 -13l2 -5l-2 -2l2 -1l0 -2l-1 -1l2 -2l0 -3l-1 0l-1 -2l1 -1l2 0zM1231 465l3 0l1 1l-2 3l2 4l5 0l1 1l4 0l1 -1l-1 -4l-3 -2l-1 1l-4 -3l-2 -4l0 1zM949 468l-3 -4l-5 1l-5 -4l-1 1l-1 -1l-2 2l-2 0l-1 2l-5 -2l1 1l-2 1l-2 -2l0 2l-5 4l-1 3l-4 3l0 2l-3 2l-3 4l-7 2l-3 -4l-5 -1l3 2l0 2l2 2l0 2l2 0l1 -1l7 1l2 -1l3 3l4 -5l-2 -3l2 -2l4 0l1 -1l3 2l3 6l3 0l4 -3l-1 -2l0 -4l-2 -3l-3 -2l0 -3l2 -2l7 2l2 4l6 3l3 0l1 -1l1 -4l-2 -3l1 -1l2 1zM924 465l2 -1l3 3l-1 1l-3 0l-1 -1zM333 458l-1 1l2 3l-1 1l-2 0l-1 3l2 0l2 -2l0 -2l2 -2zM266 454l-3 6l0 3l1 1l-1 2l0 2l1 1l-1 1l2 1l0 3l2 4l-1 3l2 3l0 2l1 0l-2 -3l0 -7l1 -1l0 -2l-1 0l-3 -4l0 -2l1 -1l-1 -1l0 -6l3 -4l0 -1zM901 455l0 1l2 0l1 1l4 0l0 -2l-5 -2zM817 452l-2 1l1 2l2 0l0 -2zM282 447l3 4l0 2l-2 2l4 3l1 6l3 2l3 4l1 -2l-2 -1l0 -3l-2 -3l0 -5l-5 -5l0 -2zM489 445l0 2l2 1l1 2l-1 1l-3 0l-2 1l0 1l3 0l1 -1l1 1l0 5l2 0l1 2l2 0l1 -1l2 1l1 -2l-2 -1l0 -2l1 -1l-3 -2l1 -2l-1 -3l-6 0zM966 443l-4 2l0 3l-3 2l1 1l-1 4l-1 1l-1 -1l-1 2l-2 0l1 1l-3 4l4 -1l3 -6l3 1l1 1l0 6l-1 1l-4 0l2 3l3 -3l2 0l1 -1l2 2l3 0l1 1l1 -1l2 0l0 -2l-3 -4l-5 -2l-2 -2l-1 -4l2 -4zM782 439l0 3l-1 1l6 0l-1 -4zM472 432l-1 0l0 3l-3 3l-6 -3l-1 1l-1 -1l-2 1l-1 2l0 5l-2 2l-2 0l1 3l2 0l2 3l-1 2l0 5l-2 5l1 2l1 0l1 2l2 0l1 1l0 2l4 3l0 2l1 1l-1 1l0 4l2 0l1 -1l-1 -1l0 -6l1 -1l2 0l3 3l0 2l3 1l0 -2l-1 0l-1 -2l4 -4l0 -1l-2 -1l0 -2l2 -1l0 -2l-1 -1l1 -1l-1 -2l3 -5l-1 -1l4 -2l1 1l-1 -2l-4 1l-1 -1l0 -5l-1 -1l-4 0l-2 -3l1 -2l5 -2l2 3l2 -1l2 2l-1 2l2 0l1 1l-3 -5l-4 -3l1 -2l-2 -1l-4 0zM463 466l5 -4l5 1l1 1l0 5l-1 1l-3 -4l0 1l-4 4l-3 -3zM476 450l2 0l1 1l0 4l-1 1l-3 -3l0 -2zM464 442l5 4l-2 2l-2 0l-4 3l-1 -2l3 -2l0 -4zM878 428l2 2l2 0l-1 -2z"/>
<path fill="#9B4331" stroke="#9B4331" d="M640 665l0 2l-2 2l-4 0l-1 1l-5 -1l3 2l3 0l5 -2l1 -1zM622 660l0 5l5 1l-1 -2l-2 1l-2 -2zM585 656l-1 2l-4 1l1 1l0 7l-1 1l-4 0l-6 3l-2 0l-2 -2l0 -5l2 -2l1 -5l-4 1l-3 2l3 -2l2 0l1 1l0 2l-2 2l0 8l5 6l-1 -5l3 -2l3 0l3 -2l2 0l0 -2l1 -1l-1 -4l4 -3zM378 651l0 1l4 3l0 6l1 -7l-2 -2zM542 643l0 2l3 4l8 2l-6 -3l-2 0l-2 -2zM543 641l0 -1l-2 0l-4 -4l-4 2l-6 -1l2 1l5 0l1 -1l2 0l4 4zM524 634l1 1l0 -1zM347 620l-3 4l2 0l1 1l0 2l0 -3l-2 -1l2 -1zM508 619l4 1l2 4l3 3l2 0l-4 -4l-1 -3l-2 0l-1 -2zM607 616l-1 1l1 3l-1 1l-2 -1l-1 2l-2 0l1 2l2 0l1 1l-2 3l0 2l-2 2l-3 0l-3 2l0 2l4 -3l1 1l3 0l0 -2l2 -2l0 -5l1 -1l5 0l2 2l1 7l1 1l-3 2l0 1l3 0l6 6l0 4l1 2l-1 -7l-1 -1l1 -2l-6 -3l0 -6l-1 -1l1 -1l0 -2l-2 -3l1 -2l-2 0l-1 2l-3 -4l1 -2l1 1l1 -1l0 -2zM334 612l-1 1l1 0zM544 612l-2 -2l-2 1l0 2l-1 1l3 0l2 -1zM495 609l2 2l2 0l4 3l-1 -2l-2 0zM357 608l-4 2l2 0zM1096 602l-1 0l-1 2l-2 0l3 0zM611 601l0 1l2 1l0 -1zM325 601l0 3l2 2l-2 -3zM604 596l0 2l-2 2l1 3l4 3l4 0l1 1l2 -1l0 -1l-1 1l-7 -1l-3 -3l3 -4l3 2l2 -1l0 -1l-3 -2l-1 1zM486 591l0 3l-1 1l1 1l0 2l4 3l0 3l2 2l-2 -4l2 -2l2 0l-3 -2l-3 0l-2 -2l0 -3l1 -1l0 -1zM1141 588l-4 3l-3 0l-1 -2l-3 -2l-2 1l-2 3l0 3l-3 2l3 -1l2 -4l2 0l3 2l3 0l2 -3l3 0zM1070 586l-2 0l0 2l1 1l1 -1zM316 582l1 5l0 -4zM1068 577l0 2l3 0l0 -2zM309 569l0 1l1 0zM504 569l-1 1l0 5l0 -3l4 -3l3 0l1 -1l4 1l3 3l-1 1l0 3l2 2l1 5l-3 3l-4 -1l-1 1l-2 0l0 1l1 -1l6 0l1 2l3 2l0 3l2 0l1 2l3 0l1 1l0 2l4 4l-1 1l0 4l1 1l2 -5l4 2l1 -3l4 -5l-1 -4l-1 0l1 2l-1 2l-6 0l-1 -1l0 -3l2 -3l-4 2l-1 -1l1 -3l-6 0l-3 -2l0 -4l-6 -12l1 -2l-2 -1l-1 1l-5 -1l-1 1zM530 597l1 -1l2 0l1 1l0 2l-1 1l-2 -1zM521 590l2 -2l2 0l2 2l0 2l-1 1l-2 0zM306 563l1 3l0 -2zM506 559l1 2l0 -2zM570 560l-4 -2l-2 1l0 2l-2 2l1 1l0 -1l3 -2l1 -2l1 1zM561 558l-2 0l0 2l1 0zM1082 555l0 2l1 1l3 0l1 -1l0 -1l-2 1zM531 557l3 4l3 0l4 3l0 3l2 3l0 2l2 1l2 -1l2 2l-1 2l0 2l1 1l1 -7l1 -1l-2 -2l-1 0l-1 2l-4 -3l0 -2l1 -1l2 0l3 -3l2 5l-2 -5l0 -4l-2 -1l1 -2l-4 0l-1 1l-9 0l-1 1zM546 555l3 5l-2 3l-4 3l-2 -3l0 -5l2 -2zM402 552l5 0l2 2l2 -1l-2 0l-1 -1zM497 551l-3 2l-1 -1l-4 0l0 1l5 0l2 1l1 -1zM461 550l16 1l1 1l-3 3l-2 0l7 -1l-1 -1l1 -1l5 0l-1 -1l-6 1l-1 -1zM503 549l-3 1l0 1l2 0l1 1l-1 1l0 2l-1 1l-4 0l-2 4l8 -1l3 -2l0 -3l-4 -3l2 -1zM1177 548l0 1l1 0l0 -1zM1077 547l0 2l1 0zM390 545l0 1l1 -1l2 0l8 5l-1 -2l-4 -2zM370 544l-1 0l0 10l0 -9zM357 541l1 2l1 -1l6 4l0 -2l-2 0zM1175 539l-2 3l-1 5l-4 3l0 2l-2 4l-3 3l-3 8l-3 2l-4 5l-1 0l0 2l0 -1l2 -1l2 -3l4 -2l2 -3l1 1l1 -1l-1 -1l0 -4l2 -3l3 -2l0 -4l1 -1l2 0l2 2l-2 -4l4 -4l-2 -2zM298 538l0 1l2 1l2 5l-1 5l1 -1l0 -6zM711 540l2 1l5 -3l-2 0l-2 -2l-2 0l1 3zM556 536l-2 2l-3 0l0 2l-1 1l-4 1l-5 4l-3 0l-2 -2l-1 1l-3 -1l-1 -1l0 -4l0 4l2 2l-1 1l-5 -1l4 1l3 3l0 2l2 1l15 -1l4 -2l-2 -2l0 -5l1 -1l0 -3l2 -1zM534 547l2 -2l2 1l5 0l1 1l0 2l-2 2l-4 1zM550 541l2 2l0 2l-2 2l-4 1l-1 -1l1 -3zM452 544l-6 -7l-2 0l-1 -1l-1 0l-4 4l-6 -1l-1 -1l-3 2l-2 -2l-2 0l-3 2l0 2l-1 2l-2 1l1 1l-3 4l1 0l0 -1l6 -5l2 -5l2 0l2 2l1 -1l1 1l2 0l1 -1l5 1l4 -4l3 0l2 3l0 2l4 3l0 3zM529 535l0 3zM1061 534l2 1l3 0l1 -1l-2 0l-1 -1l-2 0zM550 533l-1 1l1 0l1 -1zM327 533l0 2zM1061 528l-3 1l0 2l1 0zM1054 528l0 1l1 -1zM1106 527l-2 2l2 0zM1093 524l0 1l1 0l0 -1zM686 522l0 3l2 0l1 -1l0 -2zM882 518l-1 1l-2 0l0 2l3 2l0 2l1 1l2 -3l-1 -1l-1 1l-1 -1l0 -2l1 -1l0 -1zM509 524l0 2l1 1l-1 2l1 2l0 -6l4 -5l4 0l1 -1l7 -1l3 2l0 3l1 1l7 3l-2 3l-4 0l0 1l1 -1l3 1l2 -2l2 0l4 2l-2 -2l-2 0l-2 -3l-4 -1l-4 -4l3 -2l-3 0l-2 -2l-2 1l-5 0l-1 1l-7 -1l0 3zM317 516l2 4l0 -3zM367 514l0 2l2 -2zM830 512l0 4zM845 511l-1 1l1 0zM284 511l2 3l2 0l1 1l-1 5l5 10l-5 -10l2 -4l0 -2l-3 0zM992 510l-1 3l2 1l0 -4zM1007 509l-2 2l-2 5l3 -1l4 4l1 -7l2 -2zM1098 508l0 1l1 -1zM843 508l-5 1l-1 1l4 0zM351 503l2 4l3 0l-1 -4l-2 0l-1 1zM1123 501l1 2l0 6l2 -4l-2 -2l0 -2zM1099 500l0 3l1 0l1 -2zM268 501l0 2l3 4l7 0l-7 -1l-2 -4l1 -1l0 -2zM1280 496l-3 1l0 1l-4 3l1 1l2 -2l2 0l2 -2zM922 496l0 1l2 1l0 2l-2 2l1 1l-1 1l0 2l5 -1l0 -2l1 -1l-1 0l-2 -4zM1229 495l0 2l1 0l0 -2zM950 494l0 3l2 0zM568 502l-4 0l-1 -1l-2 0l-2 -2l2 -2l3 0l1 -1l-1 -2l-2 0l-3 4l-4 1l-3 4l-3 -2l-2 1l-1 -2l-5 0l-2 2l-3 1l-1 1l0 2l2 2l5 1l1 1l1 -1l4 0l2 1l0 -2l1 -1l3 0l1 1l0 2l3 3l2 -2l3 2l2 -1l0 -2l1 -1l2 0l-2 -3zM565 504l0 2l-3 3l-2 0l-1 2l-2 0l-1 -1l0 -5l2 -2l3 0l1 -1zM537 504l2 -2l3 0l1 1l-2 2l-3 0zM521 495l5 2l0 -1l-2 -1l1 -2zM463 493l0 1l2 1l-1 1l2 0l-1 -1l0 -2zM1051 493l2 1l0 6l1 2l1 -1l2 0l1 2l3 0l2 4l2 -2l0 -3l-1 -1l-1 1l-1 -2l-2 -1l0 -2l-2 0l-1 1l-1 -1l1 -3l-2 -1l-1 -2zM1096 488l-3 -1l-6 7l-2 0l2 3l0 2l1 0l2 -3l3 0l0 -1l2 -1l2 -3zM779 487l-2 1l0 2zM1020 486l1 1l0 -1zM296 485l0 2l-1 1l1 2l-1 5l2 1l2 -2l2 0l3 3l2 0l1 1l-1 -5l-1 1l-4 0l-2 -3l-2 0l-1 -1l0 -4l1 -1zM982 485l-1 -1l-2 0l-1 1l-3 0l0 1l7 0zM344 482l0 2l3 3l2 -1l-1 -1l2 -2l-2 -1zM364 481l2 2l0 2l-2 1l1 1l1 -1l1 1l0 -6zM1294 477l1 1l0 -1zM1274 505l-1 -1l-3 1l-2 -2l1 -1l-4 0l-1 1l-2 0l-2 2l-1 -1l2 -3l0 -2l5 -4l1 -6l-2 -2l-1 -3l-7 -5l1 -1l0 -2l-2 1l-2 -1l-3 2l0 2l-2 3l-2 1l-2 -1l-1 1l1 1l-1 2l-3 -2l-2 3l-1 0l-1 -2l-3 -2l-4 1l-6 -4l-3 2l-2 0l-4 2l1 5l0 -1l4 -3l1 1l-2 5l-2 2l-2 0l-1 1l-1 -2l-7 1l2 3l4 2l-1 3l-3 3l-3 0l-3 2l0 2l1 1l-2 3l-3 0l-1 1l0 3l-3 3l-1 -1l-3 2l-2 -1l0 2l-4 2l0 1l1 1l3 -2l2 1l3 0l1 -1l2 1l1 -1l-1 -1l0 -3l1 -1l1 2l0 -4l1 -2l4 -3l1 -2l-1 -1l4 -4l4 -1l5 -6l2 0l2 -4l0 -3l1 -1l3 0l3 2l3 -1l-1 -2l-2 0l-1 -1l1 -2l2 1l2 -1l5 1l1 1l-1 2l2 -1l5 1l1 -2l2 0l0 -3l1 -1l2 1l3 -2l-1 -1l2 -2l2 1l0 2l4 -1l8 9l-1 1l-2 0l-1 1l0 2l-4 2l0 3l-2 4l0 5l1 1l2 0l2 -3l1 1l3 0l4 3l4 -3zM910 476l-2 1l1 1zM823 476l1 3l2 0l1 1l2 -1l0 -2l-4 0zM778 476l-1 -1l-1 2zM357 477l-2 -2l-2 1l0 2l-1 1l-3 1l2 1l6 -2zM1104 473l0 3l3 1l2 3l2 -2l-1 -1l0 -2l-1 -1zM468 473l0 6l1 1l1 -1l4 0l0 -1l-2 -1l0 -2l-2 -2zM1296 472l-1 1l1 1zM1275 467l-1 5l3 0l0 -4zM1295 466l0 1l1 0l0 -1zM1231 466l2 2l1 -1l0 -1zM464 466l0 2l2 2l4 -5l3 4l0 -5l-5 -1zM922 463l3 2l0 2l3 0l-3 -2l-2 -3zM478 459l0 1l1 -1zM329 457l-1 1l0 2l2 1l0 2l1 -1l2 0l-2 -3l1 -2l-1 1zM1146 502l-1 -1l-2 0l-1 1l-2 -1l-10 0l-1 -2l4 -2l0 -3l1 -1l-2 0l-1 2l-2 0l-2 2l-4 -6l-1 0l1 4l-2 2l-2 0l-1 -2l-3 -2l-1 0l0 2l-1 1l-3 0l-1 -1l1 -2l-2 0l-1 2l2 0l2 3l0 4l1 1l-2 4l-2 2l-6 -1l-2 4l-5 0l-2 -3l-2 1l-5 -2l2 -2l-1 -1l0 -2l-2 3l-2 0l-1 -1l0 -2l-3 -2l0 -2l-3 -3l-2 0l-1 -1l2 -3l-1 -1l2 -2l1 2l1 0l-1 -3l-3 -2l1 -2l4 -1l0 -1l-2 0l-3 2l-3 0l-1 2l-3 0l-1 2l2 4l5 3l1 5l2 0l4 2l1 4l-4 2l0 2l2 2l-2 3l-2 0l-1 1l-2 -2l0 -2l-3 -1l-2 3l-3 2l-1 -1l1 -2l-5 1l-4 -6l-1 0l-2 3l-3 0l-2 -2l-3 0l-1 -1l1 -1l0 -4l1 -1l0 -2l-1 -1l2 -2l-1 0l-4 4l1 1l0 5l1 1l-1 1l-4 0l-2 1l-1 -2l2 -2l2 0l-3 -3l0 -3l-2 0l-1 -2l2 -3l2 -1l1 1l1 -9l-3 0l-1 1l-2 -1l1 -1l-2 -3l2 -3l0 -2l-1 -1l0 1l-3 2l1 1l0 4l-1 1l-2 -2l0 -2l0 3l-1 1l-2 0l-4 5l-2 0l-1 -1l-1 1l-5 0l-4 3l-2 0l-2 -3l-3 -2l0 -3l-4 -3l0 -2l-1 -1l0 3l-2 1l0 1l2 0l2 2l0 2l-1 1l-2 -1l-4 1l-1 -1l1 -1l0 -2l-2 0l-2 2l-3 1l0 3l-2 2l-2 -1l-2 2l2 5l-1 1l-3 0l-2 -2l-1 -4l-4 -2l1 -1l-2 -2l0 -3l3 -3l-1 -1l-1 1l-5 -1l-1 -1l1 -2l-5 -1l-2 2l0 2l1 1l0 2l-1 1l-7 2l-3 -3l5 -4l-1 -1l2 -2l2 0l8 -7l-1 -1l0 -2l1 -1l3 0l2 2l0 3l-3 2l0 2l2 0l1 1l2 -1l3 2l1 -2l3 -2l-1 -1l0 -5l1 -1l-1 -2l-4 2l-1 -1l-3 0l-2 -2l-1 1l-2 0l-3 3l-3 -3l1 -2l4 0l0 -6l-3 -1l-3 6l-2 1l-4 -1l-3 2l2 2l1 3l-1 1l-2 -1l2 4l-1 1l0 2l-2 2l-6 -1l-5 -4l0 -2l-7 -2l-1 1l0 3l1 0l4 5l0 4l1 2l-3 3l-5 1l-2 -2l0 -2l-3 -4l-2 1l-4 0l-1 1l2 3l-5 6l-3 -3l-2 1l-4 0l-1 -1l-5 1l-1 -1l0 -2l-2 -2l0 -2l-2 -1l-1 -2l-2 0l-2 -2l-2 1l1 1l-1 2l4 3l-2 2l-2 0l-4 -5l1 -1l-2 0l-4 2l-1 -2l0 2l-2 1l-1 -2l-2 0l-1 -1l1 -1l2 0l-6 0l-2 -1l-2 -3l0 1l-5 5l-3 0l-1 1l-3 -3l-3 0l-4 -4l-1 2l-3 0l0 5l-1 1l-2 0l-1 -1l0 -2l-2 0l-1 1l-1 5l-5 5l2 4l-3 3l-5 -1l-2 -2l-1 -3l-3 1l-1 -2l-4 -1l-6 7l3 2l-5 4l-3 0l-1 1l-8 -1l-2 1l1 2l2 -1l2 0l1 1l-1 1l0 2l4 5l-3 5l-3 -2l-7 1l-3 -4l-4 1l-1 2l-2 0l-2 -2l2 -3l0 -2l3 -2l-1 -3l1 -1l2 0l-1 -5l-4 -4l0 -1l-1 0l-1 1l1 1l-2 2l-4 -1l-5 4l-3 0l-2 2l0 4l2 1l0 2l-3 3l-3 0l-3 -4l-6 4l0 3l3 0l0 -2l2 -1l1 -2l2 1l0 2l2 0l1 -1l4 0l1 -3l5 -4l3 2l-2 7l3 1l1 1l0 2l-2 2l-2 0l-1 -1l-1 1l0 3l-1 1l-1 5l5 3l2 0l1 2l-1 1l-6 0l-2 3l1 1l1 -1l2 0l2 -2l3 2l0 2l-1 1l1 2l-1 6l-3 3l-3 -4l-2 0l-3 -2l-1 1l-2 0l-3 -2l-2 2l-3 -2l3 -4l0 -1l-3 -2l0 2l-3 2l-10 1l0 2l1 1l-2 2l2 2l-3 2l-1 -2l-2 0l-1 1l-2 -2l0 -2l-1 -1l-5 1l0 1l3 0l2 2l-1 2l1 5l-2 3l-6 0l-1 -1l-2 0l-4 3l-2 -2l-4 -1l1 1l0 7l3 5l0 2l2 3l3 2l-5 4l-5 0l-4 2l0 2l-2 3l1 2l-1 1l-4 -1l-2 -2l0 -4l-1 -1l-2 0l-5 -4l-1 0l0 3l-1 1l-2 0l-1 1l-4 -1l0 3l-2 3l0 2l3 3l0 3l-1 1l-7 1l2 2l0 3l1 0l1 2l3 2l0 2l-2 2l-4 0l-1 -1l-1 -5l-3 -1l-4 -6l-2 1l0 4l1 1l-6 7l-2 0l-1 1l0 4l-1 1l0 5l-1 2l3 2l-1 1l0 5l-2 1l1 2l-2 1l-2 3l1 2l0 9l2 -2l-1 -1l1 -10l2 -2l0 -2l1 -1l1 -14l-2 -2l0 -2l2 -2l2 0l2 -2l2 0l3 -3l2 0l1 1l-1 3l2 1l1 -1l2 0l4 5l4 -2l3 -5l4 0l2 1l4 -4l1 0l1 -2l1 1l0 2l2 -1l3 0l1 1l4 -3l-4 -3l1 -4l-3 1l-2 -2l4 -4l3 2l-1 -2l0 -2l1 -1l-1 -1l0 -2l2 -2l5 -2l2 2l2 -3l2 1l3 -3l0 -7l1 -1l-1 -5l1 -1l4 0l-1 -3l-3 -2l1 -1l5 -1l1 2l2 0l0 -2l3 -3l1 1l1 -1l-1 -2l3 -4l5 0l3 -2l3 0l1 -2l1 0l1 2l3 1l5 -4l4 0l4 3l2 3l4 0l1 -2l3 -2l-1 -7l5 -3l3 0l2 -2l0 -2l-3 1l-3 -3l-2 0l-1 -2l-6 -1l-2 -2l1 -5l2 -2l2 0l3 -3l2 1l1 -2l2 1l0 3l2 0l1 1l1 -1l2 0l4 -4l3 4l-2 1l0 2l-5 4l-2 0l1 2l3 2l1 -1l6 -1l3 2l0 4l2 0l-1 -4l1 -1l4 0l1 1l1 -1l-2 -3l1 -1l3 0l-1 -2l-3 3l-1 0l-2 -3l-5 1l-1 1l-1 -1l0 -3l1 -1l2 0l2 -3l1 1l2 0l0 -1l-2 -1l2 -1l-1 -5l1 -1l3 2l2 0l1 -1l3 0l3 -3l6 4l0 -2l1 -1l1 1l2 0l1 -1l0 -3l-1 -1l-2 0l-1 1l-1 -1l0 -2l1 -1l-1 -3l2 -1l1 -2l3 0l1 2l5 0l2 -3l-1 -2l1 -2l4 1l1 -2l5 0l0 -4l2 -2l-1 -2l1 -1l2 0l1 1l0 -3l2 -2l2 0l2 4l2 2l2 0l1 1l-1 1l0 2l-2 3l-3 -2l-2 0l-1 1l-1 -1l-3 4l-2 0l-1 5l1 0l2 -3l5 -1l2 -3l2 2l0 3l2 2l-1 2l1 4l1 -1l-1 -5l2 -2l4 1l3 3l0 2l1 -1l3 3l1 0l2 -3l11 0l4 3l-1 -2l6 -4l0 -5l-1 -1l1 -3l-1 -1l0 -2l2 -1l2 2l1 4l3 0l1 -2l3 2l0 1l-2 1l3 3l-2 4l2 3l-1 1l-3 0l-5 -2l4 3l2 3l0 2l-1 1l-2 -2l1 2l6 -3l2 0l3 3l2 0l1 -1l4 1l0 -3l2 -2l2 0l1 1l0 4l2 1l0 -2l1 -1l-1 -2l-2 -1l0 -2l2 -1l0 -1l-1 0l-3 -4l2 -1l0 -2l-2 0l-3 4l-1 -1l-1 1l2 4l0 2l-1 1l-2 0l-2 -3l-3 -2l0 -1l-2 1l-2 -1l1 -11l1 -1l4 0l1 2l4 1l1 -4l4 -2l0 -2l2 -1l2 1l4 5l2 0l2 4l3 0l0 -3l1 -1l3 0l2 -2l0 -3l-3 -2l0 -3l2 -1l3 2l3 0l3 3l0 2l-2 2l-3 1l-2 3l-3 0l-2 2l3 3l1 0l0 -1l3 -2l3 -4l3 0l1 -1l3 0l2 2l0 2l5 -3l4 7l1 -1l2 0l1 1l2 -2l2 0l3 8l1 -1l7 0l0 -2l2 -2l-1 -1l1 -2l2 1l0 2l4 -3l1 1l0 3l1 0l2 -3l6 0l2 -1l3 2l2 0l0 -1l3 -2l1 1l7 -1l1 1l-3 2l-3 4l2 0l1 1l1 5l4 2l3 -2l2 0l3 3l-1 1l0 2l-1 1l-3 -1l0 2l3 1l2 2l2 0l2 2l2 0l-2 -2l0 -5l1 -1l5 0l1 -1l2 3l1 -1l3 0l3 2l1 -1l1 1l0 4l2 0l2 3l-1 2l3 0l1 -2l3 0l9 10l3 -1l4 -6l0 -2l-5 1l-2 -2l0 -2l-2 -2l2 -4l1 2l4 3l3 0l3 3l0 2l1 -1l2 0l2 2l0 -4l1 -1l-4 -4l2 -4l4 0l2 2l6 0l1 1l3 -1l3 4l-2 1l-3 4l3 -1l4 -3l4 -1l2 -2l1 1l0 2l-4 4l0 2l3 4l-3 3l0 2l-2 1l0 5l-1 1l2 5l-4 3l-2 0l-1 -1l0 1l-3 2l1 1l0 3l-1 1l-4 0l0 4l2 3l0 2l4 4l1 3l-4 2l0 2l-6 5l-3 0l-3 -4l-1 1l-2 0l2 3l2 0l1 1l0 4l-1 1l-3 0l-5 2l0 1l3 2l0 3l1 1l-2 2l-4 -4l-2 1l0 1l4 3l0 2l2 0l2 3l-2 4l1 2l5 0l2 -2l0 -1l-2 1l-1 2l-2 0l-3 -2l2 -2l0 -6l1 -1l-1 -9l2 -2l6 4l-2 -2l1 -2l-1 -3l4 -4l5 0l0 -1l4 -3l1 1l0 2l4 0l1 1l0 2l2 -1l1 -2l1 1l2 -3l0 -2l2 -2l3 1l0 -2l1 -1l5 -1l0 -2l-1 0l-1 -2l-2 0l-1 1l-5 0l0 1l-2 1l0 2l-1 1l-2 0l-2 -5l-4 1l-7 -5l0 -2l4 -4l0 -2l3 -3l0 -2l2 -2l5 0l2 -2l5 -1l1 -3l2 -2l1 1l1 -1l2 1l5 0l1 -1l0 -3l-1 -1l-5 2l-1 -1l1 -3l-2 1l-4 -1l-4 3l-1 -2l-2 -1l3 -3l0 -2l-2 -2l-1 -5l2 -3l3 -2l1 -3l2 -1l2 2l0 3l-1 1l-2 0l1 0l1 2l-2 2l-1 -1l-1 1l3 1l5 5l0 1l3 1l2 2l6 -5l-1 -2l-3 1l-2 -2l0 -2l3 -3l-1 -1l0 -3l1 -1l2 1l0 -3l-3 0l-1 -1l0 -2l2 -2l4 0l1 -1l7 3l2 -1l1 -2l-1 -2zM666 605l2 -1l1 2l-1 1zM670 604l2 -2l6 -1l1 1l-1 4l3 1l2 -2l2 2l-5 4l-5 -1l-1 -2l0 1l-2 1l-1 -1l1 -3zM686 596l1 0l3 4l0 2l-1 1l-3 0l-2 -2l0 -3zM684 588l2 -1l1 2l-2 1zM681 585l2 2l-1 1l3 2l0 2l2 0l1 1l-1 1l-4 0l0 2l1 1l-1 2l-4 -3l0 -2l-2 0l-1 -1l0 -2l4 -3l0 -2zM1100 570l1 -1l2 0l1 1l-2 2zM1113 568l1 1l0 2l-2 1l-1 -2zM706 563l3 0l4 4l0 2l-5 6l-1 0l-3 -4l0 -3zM735 548l2 -1l1 2l-2 1zM739 545l1 -1l2 0l1 2l-1 1zM1109 540l2 -1l3 2l1 -2l1 1l0 2l-5 4l-1 -1l1 -2zM1120 538l2 -1l1 2l-1 1zM766 536l1 -1l2 0l1 2l-2 1zM1067 524l1 -1l2 1l1 2l-2 1zM1120 517l1 -2l2 1l-2 2zM778 515l1 1l0 4l-1 1l-2 0l-1 -1l0 -2zM1125 513l2 3l3 2l0 2l-1 1l-5 -2l0 -3l-1 -1zM1129 512l1 1l0 2l-1 1l-2 -2zM1052 514l4 -2l2 3l0 2l-1 1l-5 0l-1 -1zM766 511l2 0l1 1l-2 3l-2 0l-1 -1zM1114 507l1 1l0 2l-2 2l-2 0l-1 -2zM909 507l1 1l0 2l-1 1l-2 0l-1 -1zM802 506l1 1l0 2l-3 2l-1 -2zM765 507l2 -1l1 1l0 2l-1 1zM1133 505l2 -2l3 -1l1 1l4 0l2 3l-2 2l-3 0l-2 -2l-4 1zM1027 502l1 1l0 2l-1 1l-2 -2zM1033 501l1 1l0 2l-2 1l-1 -2zM1019 498l4 6l-5 3l-2 -2l2 -1l-1 -4zM814 499l-3 6l-3 3l-2 0l-5 -4l5 -4l3 0l3 -2zM762 500l2 -2l2 1l1 -1l2 0l2 1l1 2l-4 4l-2 0l-4 -4zM1111 500l3 -3l3 0l3 2l5 -1l3 4l2 0l1 1l0 2l-5 6l-6 0l-1 1l-2 0l-2 -5l-2 -2l1 -1zM1029 498l1 -1l2 2l-2 1zM806 497l2 -2l3 2l-1 1l-3 0zM1027 493l1 2l-3 3l-2 -3zM1032 492l2 2l-3 2l-1 -2zM881 491l3 2l-2 3l-2 0l-1 -1l0 -2zM1033 491l2 -1l2 2l-1 1l-2 0zM997 490l1 -1l2 0l1 1l-2 2zM993 491l1 -2l2 1l-2 2zM1030 488l2 0l1 1l-2 3l-2 0l-1 -1zM1067 490l2 -3l2 1l-2 3zM962 487l1 -1l2 0l2 3l-3 2l-2 -2zM934 485l2 -1l1 2l-2 1zM868 484l1 -2l2 1l-2 2zM959 482l2 -2l2 2l-1 1l-2 0zM854 484l1 -1l3 0l3 -3l2 0l2 3l-1 3l6 -1l1 1l3 0l2 3l3 -2l1 1l-1 3l-4 3l2 4l-2 3l-2 0l-3 -2l-2 2l-3 1l-1 -2l3 -2l1 -3l-5 -2l-3 4l-4 -1l-3 -4l0 -3l2 -2l0 -2zM951 477l3 -4l3 2l-3 3l-2 0zM972 473l1 -1l2 0l1 1l-1 1l-2 0zM953 470l2 -1l1 2l-2 1zM955 463l1 2l-2 2l-3 1l-2 -2l3 -3zM960 457l1 1l0 3l-1 1l-2 0l-1 -1zM268 453l0 2l-3 4l0 6l1 1l-1 1l0 2l1 2l3 2l0 2l-1 1l0 7l3 4l-2 5l1 4l1 -8l3 -4l2 0l-2 0l-1 1l-5 -4l1 -1l0 -7l-2 -2l-1 -3l1 -1l0 -3l1 -1l2 1l-1 -8l2 -3zM275 446l5 0l3 4l0 2l-2 3l1 2l4 3l1 2l0 4l1 1l2 0l2 3l1 0l-1 -2l-5 -4l-1 -6l-4 -3l2 -2l0 -2l-2 -2l-1 -3zM959 445l0 2l2 1l0 -3zM468 446l-4 -3l0 4l-2 1l-1 2l4 -3l2 0zM473 439l-1 2l1 2l4 0l2 2l0 5l-1 1l-2 0l0 2l2 2l0 -4l1 -1l4 -1l2 3l3 -2l3 0l0 -1l-3 -2l0 -2l-6 -1l-1 -1l1 -2l-1 -1l-2 1l-2 -3l-1 1zM474 440l1 -1l2 2l-2 1z"/>
<path fill="#B46A5B" stroke="#B46A5B" d="M393 664l-1 -3l-4 2zM617 665l1 2l-1 2l1 0l1 2l2 -1l4 2l3 -1l2 3l3 2l5 -1l3 -3l0 -6l0 2l-2 2l-5 2l-3 0l-4 -3l1 -2l-6 -1l-1 -1l0 -5l-1 -1l0 4zM372 645l2 1l3 4l4 1l3 3l0 4l-1 2l1 -1l0 -4l1 -1l-1 -3l-3 -2l-4 -1l-1 -2zM345 629l2 2zM622 652l-2 -5l0 -4l-5 -5l-3 0l-1 -1l0 -1l3 -2l-1 -1l-1 -7l-1 -1l-5 0l0 5l-2 2l0 2l-1 1l-3 0l-1 -1l-2 1l-6 7l0 2l-3 2l0 5l-2 2l0 5l-4 3l0 2l1 1l-1 4l-6 3l-5 1l0 2l1 1l0 2l-1 1l-6 -7l0 -8l2 -2l0 -2l-2 0l-2 2l-3 -1l-5 -5l0 -1l-2 0l-2 -3l-6 -1l-4 -5l0 -2l1 -1l-1 0l-4 -4l-2 0l-1 1l-5 0l-7 -6l-1 -3l-2 -2l-2 0l10 11l10 0l4 4l0 3l3 4l2 1l4 0l2 3l2 0l1 2l4 3l0 1l4 1l2 2l-1 11l3 4l6 5l1 0l1 -7l3 -3l3 -1l2 -3l3 -2l0 -1l-2 -1l0 -3l3 -3l0 -7l1 -1l0 -3l7 -10l2 -1l3 1l2 -2l2 1l4 -3l2 2l0 2l1 0l2 3l2 -1l4 3l0 4l2 4l-1 4zM348 619l0 3l-2 1l2 1l0 3l-1 1l2 3l4 1l-4 -5l0 -3l-1 -1l1 -2zM670 611l-2 -1l-2 2l-1 -1l0 3l4 0l1 -1zM362 608l0 2l3 0l2 2l-1 2l-2 0l-1 1l1 2l1 -2l4 -3l3 1l0 -1l-4 -4l-2 0l-1 1zM359 608l-1 -1l-3 4l-3 0l-1 2l3 -2l1 1l2 0l2 -2zM348 606l0 2l-1 1l0 2l0 -2l1 -1zM667 605l1 1l0 -1zM326 601l0 2l2 2l1 4l2 0l2 3l1 -1l2 0l-3 0l-1 -1l0 -2l-2 1l-1 -1l-2 -7zM604 602l2 2l4 0l1 1l2 0l1 -1l-4 -2l0 -1l2 -1l-4 1l-2 -2zM353 599l-1 1l1 0zM1114 601l-1 -1l-3 0l-2 -2l-2 1l-1 2l-7 0l-2 2l2 0l2 -2l5 0l1 -1l4 0l3 2l1 0zM1140 591l-2 0l-2 3l-3 0l-3 -2l-2 0l0 2l-2 2l-3 1l-2 3l-5 1l0 1l5 -1l2 -3l3 -2l2 0l1 -1l8 0zM321 590l0 2l2 4zM522 590l2 2l2 0l0 -2l-1 -1l-2 0zM681 586l0 2l-4 3l0 2l2 0l1 1l0 2l3 2l-1 -4l1 -1l4 0l-2 0l-1 -1l0 -2l2 -1l0 -1l-3 2l-2 -2l1 -1zM365 585l-1 2l1 1l0 3zM474 584l6 8l1 3l3 3l0 2l4 3l0 1l7 7l0 1l4 1l2 2l0 2l3 2l2 0l4 2l4 4l0 1l1 0l-2 -2l-1 -3l-4 -1l-4 -4l0 -1l-2 0l-1 -2l-4 -1l-3 -4l-5 -4l0 -3l-4 -3l0 -2l-1 -1l1 -1l0 -3l1 -1l2 0l0 -1l-4 2l-3 0l-5 -7zM318 584l0 3zM1060 582l-1 2l2 1l0 -2zM743 578l-1 1l1 1zM313 576l0 2zM747 576l2 -1l-2 0zM364 575l0 3l2 2zM1101 570l1 1l1 -1zM504 572l0 5l2 1l-1 1l3 2l0 2l2 2l2 0l1 -1l4 1l2 -2l-1 -5l-2 -2l0 -3l1 -1l-2 -2l-4 -1l-1 1l-3 0zM504 574l1 -1l2 0l1 -2l4 0l3 2l-2 5l-3 -2l-1 1l-3 0zM367 565l0 4l1 -1l0 -2zM352 565l2 4l0 4l-1 1l0 6l1 2l-1 -5l1 -1l1 -7l1 -1zM774 560l2 3l2 1l2 -1l0 -1l-3 0zM306 560l0 2l2 2l0 3l3 3l0 3l0 -4l-2 -2l-1 -4zM543 557l-1 1l0 5l2 3l0 2l3 2l1 -2l3 1l-2 -3l0 -3l-3 3l-2 0l-1 -1l3 -2l2 -3l-2 -4zM787 552l-1 1l0 2l1 -1zM343 552l0 2l2 3l4 3l-2 -5l-2 0zM454 553l3 1l4 -3l9 1l1 1l1 5l2 1l-2 -4l1 -1l2 0l2 -2l-20 -1l-1 1l-2 0zM790 547l-1 1l1 2l1 0l0 -3zM535 547l3 4l2 0l3 -2l0 -2l-5 0l-1 -1zM740 545l2 1l0 -1zM380 545l-9 -1l-1 1l0 8l0 -8l1 -1zM862 542l-2 0l-2 4l3 0zM551 543l-2 -1l-2 2l-1 3l4 -1l1 -1zM1110 540l2 3l-1 2l4 -3l0 -2l-1 2zM1044 538l1 1l2 0l1 -1zM896 538l0 3l2 0l1 -2l-1 -1zM451 545l-4 -3l-1 -4l-3 0l-4 4l-3 0l-1 -1l-2 1l-2 0l-1 -1l-1 1l-2 -2l-2 0l-1 4l-4 3l-3 4l-8 4l-2 -2l-5 0l-1 -2l-8 -5l-4 1l0 2l3 2l-1 -3l2 -2l2 2l3 1l5 6l8 0l2 -2l4 -1l4 -4l3 0l2 -4l4 0l3 4l1 3l3 -2l6 0l-4 0l-2 -2l2 -4l2 0l1 1l-1 1l1 2l1 -1l2 0l2 -2l4 4zM975 537l1 2l2 0zM805 541l4 0l3 -4l-2 1l-3 0l-1 -1zM845 536l0 1l1 0l0 -1zM906 534l0 1l1 0l0 -1zM1203 527l0 2zM991 526l-1 0l-1 2l2 0zM963 522l-1 2l1 1l5 1l0 -2l-2 0zM957 519l-2 0l0 3l1 0zM514 521l-3 4l0 8l2 3l0 -2l-1 -1l0 -7l2 -1l2 -3l8 -2l3 2l2 4l0 3l-1 1l1 1l-1 2l0 6l2 2l-1 2l-4 0l0 1l5 0l2 1l-2 -2l0 -4l-2 -1l0 -3l3 -2l-1 -1l0 -2l1 -1l4 0l1 -2l-2 0l-4 -2l-2 -2l0 -3l-2 -1l-3 0l-5 2zM864 516l0 2l2 0l1 -1l-1 -1zM1125 514l-1 1l1 1l0 3l4 1l0 -2l-2 -1zM1056 513l-3 1l-1 3l5 0zM768 512l-2 0l-1 2l2 0zM1240 508l-2 0l0 2l1 0zM766 507l1 2l0 -2zM1134 505l0 1l4 -1l2 2l3 0l1 -1l-1 -2l-4 0l-1 -1zM564 504l-2 -1l-1 1l-3 0l-1 1l0 5l2 0l1 -2l2 0l2 -2zM538 504l3 0l1 -1l-3 0zM1277 501l-1 0l-1 2zM763 500l3 4l2 0l3 -3l0 -1l-2 -1l-2 0l-1 1l-2 -1zM1112 500l3 4l-1 1l2 2l1 4l2 0l1 -1l6 0l4 -5l0 -2l-2 0l-3 -4l-5 1l-3 -2l-3 0zM1123 500l2 1l0 2l2 2l-1 3l-2 2l-1 -1l0 -6l-1 -1zM1030 498l0 1l1 0zM807 497l3 0l-2 -1zM1033 494l-1 -1l-1 2zM883 493l-2 -1l-1 1l0 2l2 0zM1034 491l0 1l2 0zM1070 488l-1 0l-1 2l1 0zM963 487l0 2l2 1l1 -2l-1 -1zM362 482l1 2l2 1l0 -2l-1 -1zM1265 489l-2 -1l-4 -4l0 -1l-4 1l-1 -1l0 -2l-1 0l-1 1l1 1l-4 3l-2 -1l0 3l-1 1l-2 0l-1 2l-2 -1l-5 1l-1 -1l1 -2l-3 0l-1 -1l-2 1l-3 -1l0 1l2 0l2 2l0 1l-3 2l-4 -2l-3 0l0 3l-3 5l-2 0l0 1l-5 5l-4 1l-3 3l1 1l-1 2l-3 2l-2 3l0 4l-1 1l-1 -2l0 3l1 1l-2 2l-2 -1l-1 1l-5 -1l-2 2l-3 -1l1 1l-2 2l1 1l-2 2l0 2l-2 3l-3 2l-2 4l2 2l-4 4l2 4l-1 1l-2 -2l-2 0l0 4l-2 1l-3 4l0 4l1 1l-2 2l-1 -1l-2 3l-4 2l-1 2l-2 1l-2 5l-6 4l-3 5l9 -8l0 -2l6 -7l4 -1l3 -2l2 0l1 -2l5 -4l-1 -1l0 -2l3 -2l2 0l-1 -2l3 -3l2 0l2 2l2 0l1 -4l-1 1l-2 -1l1 -4l-3 -3l0 -3l2 -2l3 4l1 0l3 -2l4 0l1 -1l0 -3l1 -1l0 -7l2 -2l2 1l0 -1l3 -2l0 -2l-1 -1l1 -3l4 -2l1 1l0 2l2 0l0 -1l-3 -2l2 -2l-2 -3l0 -2l2 -2l8 3l1 -1l3 0l0 -2l2 -1l0 -2l2 -1l2 4l3 2l0 -2l5 -4l2 1l1 -2l5 -1l1 -1l3 3l0 3l2 2l4 2l2 0l1 2l5 -1l1 1l0 2l2 0l1 2l4 -3l6 1l1 -1l0 -4l-1 -1l-4 3l-4 -3l-3 0l-1 -1l-2 3l-2 0l-2 -2l0 -5l2 -4l0 -3l4 -2l0 -2l3 -2zM1176 548l2 -1l1 2l-2 1zM1191 529l0 2l-1 1l-3 0l-1 1l-2 -1l3 -4l3 0zM1222 495l2 0l2 2l0 2l-2 2l-4 -4zM1228 495l2 -1l1 1l0 2l-2 1l-1 -1zM1246 491l2 1l0 3l-1 1l-2 -2l0 -2zM961 481l-1 1l2 0zM1029 480l0 3l1 1l0 -4zM868 480l2 0l1 1l-2 3l3 -2l-1 -2zM1111 516l-2 2l-4 1l-4 3l-3 1l-1 -2l4 -4l1 0l-2 -3l-3 1l-1 -1l-6 0l-2 -2l-4 0l-1 3l4 4l-1 1l0 4l-1 1l-2 -2l-2 0l-1 1l-1 -1l0 -2l-2 -2l-3 0l-3 -2l-2 -3l-1 3l2 2l0 2l1 1l2 0l1 -1l2 0l1 1l0 2l-2 4l-3 3l-3 1l-4 -4l0 -1l-1 0l-1 -2l-3 -2l0 -1l-3 0l-1 2l-3 0l-1 -1l1 -2l-1 -2l-2 0l-1 -1l0 -4l-1 1l-3 -2l-3 0l-1 1l-2 -3l-1 1l-5 0l0 5l2 2l-1 1l-2 0l-2 -2l-2 0l-2 -2l-3 -1l-1 -1l0 -2l1 -1l3 1l0 -2l1 -1l-2 -2l-2 0l-2 2l-5 -2l-2 -3l0 -3l-2 0l-1 -1l0 -1l6 -5l-2 0l-1 1l-4 0l-1 -1l-2 1l-1 2l-2 0l-3 -2l-2 1l-6 0l-2 3l-2 -1l0 -3l-4 3l-1 -1l0 -2l-1 0l1 2l-2 2l0 2l-1 1l-7 0l-1 1l-2 -2l-1 -6l-2 0l-2 2l-1 -1l-2 0l-1 1l-2 -2l-2 -5l-5 3l-2 -4l-3 0l-1 1l-3 0l-1 2l-3 2l-2 3l-1 0l-4 -4l3 -3l3 0l2 -3l4 -2l0 -2l-2 -2l-3 0l-3 -2l-1 0l0 3l3 2l0 3l-3 3l-3 0l0 3l-1 1l-3 0l-2 -4l-2 0l-4 -4l0 -1l-3 -1l0 2l-1 1l-3 1l-2 5l-4 -1l-1 -2l-4 0l-1 11l3 -1l5 6l2 0l0 -2l-2 -4l2 -2l1 1l3 -4l2 0l1 1l0 2l-2 1l2 3l2 1l0 1l-2 1l0 2l1 0l2 3l-2 4l-3 -2l0 -4l-2 0l-1 1l0 3l-1 1l-2 0l-1 -1l-4 1l-3 -3l-2 0l-4 2l-2 -5l-1 0l-4 -4l2 -1l4 2l3 0l0 -1l-2 -1l2 -5l-3 -3l2 -1l0 -1l-2 -1l-1 2l-3 0l-3 -6l-1 0l0 2l1 1l-1 2l1 2l0 5l-3 3l-3 1l1 2l-1 1l-4 -3l-11 0l-1 2l-2 1l-3 -3l-1 1l-1 -1l0 -2l-4 -3l-2 0l-1 1l1 5l-2 2l-2 -3l1 -4l-2 -2l0 -3l-1 -1l-2 3l-5 1l-2 3l-2 -1l1 -5l1 -1l2 0l3 -4l1 1l1 -1l2 0l2 2l1 0l1 -2l0 -2l1 -1l-2 0l-3 -3l-1 -3l-2 0l-2 5l-1 -1l-2 0l1 2l-2 2l0 4l-1 1l-5 0l-1 2l-4 -1l1 3l-3 4l-5 0l-1 -2l-3 0l0 1l-2 1l1 2l-1 4l1 -1l2 0l2 2l0 3l-2 2l-2 0l-1 -1l0 2l-1 1l-5 -4l-4 3l-3 0l-1 1l-2 0l-3 -2l1 5l-2 1l1 0l1 2l-1 1l-2 0l-1 -1l-2 3l-2 0l0 3l1 -1l5 -1l6 7l-2 2l-1 -1l-4 0l0 2l1 1l-1 2l-2 0l-1 -1l0 -4l-2 -1l-6 1l-1 1l-4 -3l-1 -2l7 -4l0 -2l2 -1l-2 -3l-4 4l-2 0l-1 1l-1 -1l-2 0l-1 -1l0 -3l-1 0l-1 2l-2 -1l-3 3l-2 0l-2 3l0 3l4 2l3 0l1 2l2 0l3 3l3 -1l1 1l0 2l-3 3l-3 0l-4 2l1 7l-3 2l-2 3l-4 0l-1 -2l-5 -4l-4 0l-5 4l-3 -1l-1 -2l-1 0l-1 2l-3 0l-3 2l-5 0l-2 3l1 2l-2 2l-1 -1l-2 2l0 2l-1 1l-2 0l-1 -2l-5 1l3 2l1 2l-1 2l-4 0l-1 -1l0 -2l-3 -3l-3 0l-1 7l2 3l1 0l4 -5l1 1l0 2l1 1l0 2l-1 1l0 7l-4 4l-2 -1l-2 3l-2 -2l-5 2l-1 1l0 2l1 1l-1 1l0 2l1 2l-2 1l-2 -2l-3 3l1 1l3 -1l1 1l-1 4l4 3l-5 4l-1 -1l-5 1l-1 -1l0 -2l0 1l-6 5l-2 -1l-4 0l-2 4l-5 3l-4 -5l-2 0l-1 1l-3 -2l1 -3l-2 0l-3 3l-2 0l-2 2l-2 0l-1 1l0 2l2 2l-1 14l-1 1l0 2l-2 2l0 3l-1 1l0 6l1 1l-4 4l0 1l5 -5l-1 -5l3 -3l0 -3l3 -4l-1 -2l1 -4l4 -3l0 -2l2 -2l1 1l3 0l1 2l1 0l1 -2l4 -3l1 1l0 2l4 -1l1 1l0 3l2 -1l1 2l4 0l0 -2l2 -1l4 3l1 -1l0 -3l1 -1l-1 -2l1 -1l5 2l1 -1l0 -7l1 -1l2 1l2 -2l2 0l2 -2l2 0l-1 -1l-3 0l-2 -2l0 -2l2 -3l-1 -1l0 -2l2 -2l3 2l1 -5l5 -5l0 -1l3 -2l1 -2l-1 -5l3 -2l-3 -3l1 -1l0 -2l2 -2l2 0l2 3l-1 3l3 -2l2 1l-1 2l-2 0l1 2l2 0l3 -2l2 3l2 -1l3 2l3 -2l0 -4l-1 0l-1 -2l4 -3l0 -2l1 -1l-1 0l-3 -4l0 -2l-2 -3l1 -2l6 0l1 -2l2 1l7 0l3 -3l4 4l3 0l3 3l4 0l-1 -5l4 -3l0 -2l-2 -2l3 -2l-2 -2l1 -1l7 0l1 -1l2 2l0 2l2 0l1 1l1 0l3 -5l3 0l3 2l2 0l0 -4l2 -2l3 0l2 -4l4 -3l0 -2l-1 -1l0 -5l4 -4l1 0l4 4l1 0l2 -3l2 0l1 1l1 5l-1 1l-2 0l0 1l2 -1l3 2l1 -1l1 2l2 0l2 -3l4 6l4 -4l1 0l-1 -3l5 -6l3 0l13 -11l5 5l2 0l1 1l3 -2l2 2l0 2l-2 2l-3 0l0 2l1 1l1 5l4 2l3 3l10 0l1 -3l3 -3l6 0l1 1l0 4l2 1l0 -3l6 -3l3 4l3 0l1 1l0 2l1 0l1 -2l-1 -1l-1 1l-3 -5l3 -5l2 -2l2 3l0 -2l1 -1l2 0l3 -4l0 -3l2 -2l5 1l0 -3l3 -4l1 1l0 -3l1 -1l2 0l2 3l4 1l4 3l1 2l-2 2l0 2l4 3l1 -1l0 -2l-1 -1l1 -4l-1 -2l2 -1l1 -2l4 -1l2 2l-2 1l1 1l2 -2l2 1l0 1l-2 1l0 2l2 1l-2 2l2 3l1 0l1 -2l4 -3l2 0l1 1l2 -2l2 0l1 1l0 2l3 4l-2 3l1 1l6 1l3 3l1 0l3 -4l2 1l2 -1l2 1l4 0l2 -2l2 0l2 3l3 0l3 3l0 1l-2 1l0 2l-4 3l1 3l2 0l0 -4l2 -2l0 -2l1 -1l3 0l0 -2l1 -1l-1 -1l0 -2l1 -1l3 2l1 -1l4 0l1 1l-2 3l2 2l1 -1l-1 -1l1 -2l6 5l1 0l0 -2l4 -6l5 5l0 2l1 1l-1 2l1 3l-2 2l0 2l4 -2l6 3l12 1l1 1l0 5l6 6l3 1l2 3l1 4l-4 4l-2 -1l0 -2l-2 -2l0 -3l-1 0l-2 3l-2 -2l-3 1l-3 2l0 2l-5 4l1 1l2 0l1 2l3 0l1 1l0 1l-3 2l2 3l-1 2l3 -2l1 1l0 3l-1 1l3 2l0 3l-3 2l-1 6l3 2l1 -1l2 0l3 3l1 2l-1 8l4 2l2 0l4 4l3 -2l3 0l1 -3l2 -2l4 0l-2 0l-1 -1l-2 1l-4 5l-5 0l-2 -2l2 -5l-1 -2l-2 0l-1 -1l0 -2l-1 0l-3 -4l3 -2l4 4l1 -1l-1 -1l0 -3l-1 0l-2 -3l2 -2l7 -1l0 -4l-2 0l-3 -3l1 -2l2 0l1 -1l3 4l3 0l5 -4l0 -2l1 -1l3 -1l-1 -3l-4 -4l0 -2l-2 -3l0 -4l1 -1l4 0l0 -3l-1 -1l3 -2l1 -2l1 1l2 0l3 -2l-2 -5l1 -1l0 -5l2 -1l0 -2l3 -3l-3 -4l0 -2l4 -4zM683 621l1 -1l2 0l1 1l-1 1l-2 0zM677 622l2 -2l3 0l1 1l-4 2zM1067 586l1 -1l2 0l1 1l0 2l-2 2l-2 -2zM1075 582l1 -1l2 0l1 2l-2 2zM1067 577l1 -1l3 0l1 1l0 2l-1 1l-3 0l-1 -1zM720 569l3 -2l3 4l-2 1l-1 -1l-2 0zM1061 565l2 -2l2 0l3 3l-1 1l-2 -1l-2 1zM728 563l2 -1l1 1l0 2l-2 1l-1 -1zM1085 564l-3 3l-4 0l-3 -4l1 -1l5 0l2 -1zM734 557l1 1l0 3l-3 2l-2 -2l0 -2l2 -2zM1081 555l1 -1l3 2l2 -1l1 2l-2 2l-3 0l-2 -2zM1076 547l1 -1l2 3l-2 1l-1 -1zM1098 541l-1 4l-1 1l-3 -1l1 2l-2 2l-2 0l-2 -2l1 -2l-3 1l-2 -2l1 -2l2 1l1 -2l6 -1l1 -1zM1082 537l1 1l-3 2l-1 -1zM1073 538l1 -1l2 0l1 1l0 2l-1 1l-2 0l-1 -1zM1060 534l2 -2l2 0l4 2l-2 2l-3 0zM1061 527l1 1l-2 3l-2 1l-1 -1l0 -2zM1053 529l1 -2l2 1l-2 2zM1106 526l1 1l0 2l-1 1l-2 0l-1 -1zM801 525l2 3l-1 1l-3 0l-1 -1zM1092 524l2 -1l1 2l-2 1zM829 526l0 -2l2 -3l1 1l2 -1l1 1l0 2l-1 1l-2 0l-2 2zM888 521l2 -1l3 4l-2 1zM1013 518l2 -1l2 3l-3 2l-1 -1zM882 517l2 1l-1 4l1 -1l2 2l-3 4l-2 -2l0 -2l-3 -2l0 -2zM839 515l2 2l1 -1l2 1l0 2l-3 2l-2 3l-3 -3l-1 1l-1 -1l0 -2zM875 517l0 -2l1 -1l2 2l-2 2zM879 512l1 -1l2 0l1 2l-1 1l-2 0zM830 511l1 1l0 4l-1 1l-1 -1l0 -4zM845 510l1 2l-2 1l-1 -1zM992 509l2 1l0 4l-1 1l-3 -2zM893 510l1 -1l3 3l-2 1zM1007 508l6 1l1 1l-2 2l0 3l-2 5l-4 -4l-2 1l-2 -1l2 -5zM844 508l-3 3l-4 0l-1 -1l2 -2l3 0l1 -1zM977 506l2 -1l1 1l0 2l-1 1zM964 503l2 -1l1 2l-2 1zM998 502l1 -1l3 0l1 1l0 2l-3 2zM827 503l4 -2l1 1l2 0l3 4l-6 4l-3 -3zM847 500l1 2l-1 2l-2 1l-1 -1l0 -2zM994 499l2 -1l2 1l1 2l-1 1l-2 0zM965 499l2 -1l1 2l-2 1zM925 497l2 4l2 1l-2 4l-5 1l-1 -1l0 -2l1 -1l-1 -1l2 -2l0 -2zM921 496l2 -1l1 2l-2 1zM949 494l1 -1l3 4l-1 1l-2 0l-1 -1zM956 475l-2 -1l-2 3l2 0zM973 473l2 0zM955 464l-3 0l-2 2l2 1l2 -1zM960 458l-2 3l2 0zM276 447l-3 3l-3 6l1 8l-1 1l-2 -1l0 3l-1 1l1 3l2 2l0 7l-1 1l5 4l-2 3l0 3l-1 1l0 4l-1 1l1 4l-1 1l1 1l0 2l7 1l1 1l2 -1l6 7l3 0l1 1l0 2l-2 4l5 9l-1 2l1 2l9 10l0 6l-1 1l1 4l1 -5l2 -1l1 -5l-1 -1l0 -2l-3 1l-1 -2l-5 -4l-2 -4l0 -2l-3 -4l0 -2l-2 -3l2 -3l0 -5l-2 -1l-1 1l-2 0l-2 -3l-2 -1l-1 -3l-1 0l-1 -2l-4 2l-3 -3l1 -3l5 -4l0 -2l-2 -1l-1 1l0 4l-1 1l-2 -3l1 -4l3 -3l2 0l4 -3l4 3l2 0l1 -1l2 2l0 1l-2 1l0 4l3 3l1 3l7 -2l2 3l2 0l3 2l-1 1l0 2l1 1l0 8l2 1l2 -2l2 0l2 2l1 4l4 4l0 2l2 0l2 2l0 2l-1 1l1 4l7 5l1 0l0 -1l-3 -3l-4 -2l0 -4l-2 -4l-3 -2l-5 -8l0 -3l-2 -4l-2 -1l-1 -8l-5 -3l-2 0l-3 -3l-2 0l-2 2l-3 -2l0 -3l1 -1l-1 -3l3 -6l-2 -1l2 -1l-1 -1l1 -1l-3 -4l0 -3l-2 0l-2 -3l-2 0l-2 -2l0 -4l-1 -2l-4 -3l-1 -2l2 -3l0 -2l-2 -3zM273 484l1 -1l2 0l1 1l-1 1l-2 0zM274 476l2 -5l1 -1l2 0l0 -2l1 -1l5 0l8 6l1 7l-2 2l-2 0l-2 -2l-5 -1l-2 3l-2 0l-1 -1l0 -2l-1 -1l-2 0zM279 462l2 2l-1 2l-3 -2zM279 448l1 1l-1 10l-2 4l-3 2l-2 -3l1 -2l0 -6l1 -1l0 -2l2 -2l2 0zM475 440l0 1l1 0z"/>
<path fill="#CC9488" stroke="#CC9488" d="M539 681l0 2l1 0l1 -1zM540 672l-2 0l0 2l1 0zM398 664l2 0zM588 652l0 7l-3 3l0 3l1 0l1 2l-3 2l-3 4l-3 1l-2 2l0 3l-2 5l-4 -2l-7 -8l1 -11l-5 -2l-1 -2l-1 0l1 2l5 4l0 3l-1 1l0 6l1 1l-1 2l0 11l1 2l0 -2l4 -3l5 1l2 -2l3 0l0 -3l2 -1l-1 -1l1 -4l4 -4l6 -4l-1 -2l0 -2l1 -1l-1 -2l1 -1l1 -5l-2 -1zM589 648l0 2zM680 646l0 1l2 0l0 -1zM667 645l-1 1l4 2l-1 1l-2 0l-1 2l0 4l1 -2l4 2l0 -2l1 -1l2 0l-1 -1l0 -2l2 -1l0 -1l-1 -1l-2 1l-2 -2zM699 641l2 2l0 -1zM528 640l1 1l7 0l3 3l1 4l3 3l4 2l2 0l6 4l-1 -2l-2 0l-2 -3l-4 0l-2 -1l-3 -3l-1 -5l-3 -3zM366 640l5 4l5 1l1 2l4 1l4 3l1 2l-1 2l0 4l-3 3l1 5l1 -1l1 1l2 -2l3 0l1 -1l-3 0l-1 -1l4 -3l12 -1l-7 0l-1 1l-6 0l-3 -2l0 -4l1 -2l-4 -5l-4 -1l-2 -2l-3 0l-2 -2l-2 0zM359 639l4 0zM593 642l9 -1l3 3l2 0l2 -2l1 1l5 0l5 9l-2 -5l0 -4l-3 -2l-2 1l-2 -3l-2 -1l0 -2l-1 -1l-4 3l-1 -1l-3 2l-3 -1l-2 1zM520 632l0 2l4 4l1 0zM684 621l2 0zM678 622l4 -1l-3 0zM349 618l0 2l1 1l-1 2l1 1l0 3l1 2l5 4l0 2l0 -2l-5 -6l0 -3l-1 -1zM712 617l3 4l2 0l3 -2l-2 -1l-2 1l-2 -3zM351 614l0 1l3 -2l2 2l-1 1l1 1l3 0l2 2l2 0l1 1l2 0l3 -2l2 1l1 -2l2 0l6 3l0 -3l-2 0l-3 -3l-1 -3l-3 -3l0 -2l-7 0l-1 -1l-3 2l-1 -2l-1 0l2 3l0 2l-3 3l-2 0l-1 -1zM361 608l1 -1l2 1l4 -1l5 5l0 1l-1 1l-3 -1l-3 2l-2 3l-2 -3l2 -2l2 0l0 -1l-1 -1l-3 0l-1 -1zM329 604l1 4l2 -1l1 1l0 2l3 0l2 2l8 0l0 -3l0 1l-3 2l-5 0l-1 -2l-2 0l-1 -2zM349 604l2 -1l-2 0zM1054 600l-2 1l-4 0l0 3l4 -1zM364 600l-3 2l2 0zM322 590l2 5l0 3l1 2l1 0l-2 -3l-1 -6zM1043 588l-4 1l1 2l2 0l1 -1zM783 586l3 4l2 0l3 -2l0 -1l-4 1l-2 -2zM1040 584l-2 1l1 1zM776 583l-1 4l1 1l5 1l0 -1l-2 -1l0 -4zM1078 582l-2 0l0 1l1 1zM887 581l-1 0l0 2zM316 581l3 3l0 4l0 -4l-1 -2zM367 579l-1 2l1 1l-1 1l0 7l0 -5l2 -2zM474 579l-3 4l0 3l5 6l6 10l2 0l2 3l3 2l5 7l4 1l4 6l5 2l3 0l3 4l2 1l0 1l3 1l-2 -3l-2 0l-4 -5l-4 -2l-2 0l-4 -3l0 -2l-1 -1l-4 -1l-8 -9l0 -1l-4 -3l0 -2l-3 -3l-1 -3l-6 -8l1 -1l2 0l5 7l3 0l3 -2l-3 1l-1 -1l1 -4l-1 -1l-5 -1l-1 -1l0 -3zM1043 575l0 2l1 1l0 -3zM1173 573l2 1l0 -1zM1011 573l-3 3l2 0zM1040 572l0 1l1 0l0 -1zM505 574l1 2l3 0l1 -1l3 2l1 -4l-2 -1l-4 0l-1 2zM477 570l-2 4l1 0zM366 570l-1 1l0 2l1 0zM1043 569l2 0zM353 569l0 4l-2 3l1 1l-1 2l3 4l1 3l-3 5l0 8l1 -2l-1 -1l0 -3l1 -2l3 -2l-1 -5l-3 -4zM905 568l-3 1l0 1l2 1zM898 565l-2 3l1 1l3 -2zM1062 565l1 1l2 -1l2 1l-2 -2l-2 0zM729 563l0 2l1 0l0 -2zM1084 564l-1 -2l-2 1l-5 0l2 3l4 0zM368 562l0 3l1 -2zM473 559l1 2l2 -1l-1 -1l-1 1zM734 558l-2 0l-1 1l0 2l1 1l2 -1zM893 557l-2 0l-1 -1l-2 2l0 2l-2 3l2 0l0 -1l3 -2l2 3l1 -1zM370 556l-1 4l1 0zM838 554l-4 0l-3 2l1 2l-1 2l4 1l1 -1l-1 -2l3 -2zM458 554l2 0l3 -2l1 1l5 1l2 3l-1 -4l-9 -1zM901 549l1 1l0 -1zM815 548l-6 4l-1 2l-1 0l-1 -2l-3 1l1 5l2 2l2 -1l2 1l1 -2l3 -2l-1 -3l3 -2l0 -2zM845 547l2 3l1 -1zM371 547l0 5zM1006 546l-3 1l0 1l2 0zM380 546l3 4l4 2l2 0l-3 -1l-3 -2l-2 -3zM433 551l-3 -6l-4 0l-2 4l-3 0l-4 4l-2 0l-4 3l-8 0l-5 -5l0 -1l-3 -1l-2 -2l-1 1l1 4l2 -2l2 0l4 6l8 3l1 -1l5 1l0 -1l8 -7l6 0l1 -1l2 0zM438 546l1 2l4 0l2 3l2 -3l2 0l2 2l2 0l-6 -5l-2 2l-2 0l-1 1l-2 -2l1 -2l-2 0zM1097 541l-2 -1l-1 1l-6 1l-1 2l-2 -1l0 1l1 1l3 -1l1 1l-1 2l1 1l2 0l1 -1l-1 -2l1 -1l3 1zM1081 538l-1 1l1 0l1 -1zM1074 538l0 2l2 0l0 -2zM1190 529l-3 0l-2 3l5 -1zM889 521l0 1l3 2l0 -1zM516 523l-1 2l-2 1l0 7l1 1l0 2l0 -3l1 -1l2 0l2 -2l-2 -5l2 -2l2 0l3 2l3 4l0 3l-1 1l1 2l0 6l-2 1l4 0l-2 -3l0 -6l1 -1l-1 -2l1 -1l0 -3l-2 -4l-4 -1l-1 1zM1014 518l0 3l1 0l1 -1l-1 -2zM843 517l-2 1l-2 -2l-4 3l0 2l-2 2l-2 -1l-1 4l2 -2l2 0l0 -2l2 -2l3 3l1 -2l3 -2zM876 515l0 2l1 -1zM880 512l0 1l2 0l0 -1zM978 506l1 2l0 -2zM965 503l0 1l1 0l0 -1zM1274 516l-6 -1l-4 3l-1 -2l-2 0l-1 -1l0 -2l-5 1l-1 -2l-2 0l-4 -2l-3 -3l0 -3l-2 -2l-1 1l-5 1l-1 2l-2 -1l-4 3l0 2l-1 1l-4 -3l-1 -3l-1 0l0 2l-2 1l0 2l-1 1l-5 1l-7 -3l-1 1l0 2l2 3l-3 3l-3 1l-1 2l1 4l-3 2l-1 2l-2 -1l-1 1l0 7l-1 1l0 3l-2 2l-4 0l-3 2l-1 0l-3 -4l-1 1l0 3l3 3l-1 4l2 -1l1 1l0 2l-2 3l-2 0l-2 -2l-2 0l-2 2l1 2l-5 2l0 2l1 1l-4 4l-1 0l-2 3l-2 0l-3 2l-4 1l-5 6l0 2l-3 2l-11 11l-1 2l-8 0l-1 1l-2 0l-7 6l-3 0l-1 -1l-2 1l-3 -2l-7 1l5 -1l3 2l10 0l7 -5l4 0l1 2l1 -1l2 0l0 -1l4 -3l6 -8l4 -3l2 0l1 -1l0 -3l1 -1l4 0l2 -1l0 -2l1 -1l3 0l4 -4l3 -1l3 -4l7 -1l0 -2l2 -3l-1 -1l5 -3l2 0l2 -3l2 0l1 -1l-1 -5l2 -1l1 -2l2 0l1 -1l-2 -3l0 -2l2 -1l3 -4l2 0l1 -2l2 1l1 -1l0 -3l-1 -1l2 -2l3 1l3 -2l2 0l0 -4l-5 -4l0 -2l1 -1l3 0l2 2l3 0l1 1l0 3l2 1l1 2l2 0l1 1l-1 2l1 1l3 0l1 -1l0 -3l-3 0l-4 -4l0 -4l2 -2l2 1l1 -1l1 1l1 3l-1 1l-1 -1l0 2l2 0l1 -1l3 0l1 -1l0 -2l1 -1l2 0l2 -2l5 0l4 3l0 3l-4 2l2 3l4 -5l2 1l3 4l4 1l2 3l2 0l1 -2l3 2zM1188 552l2 -1l1 2l-2 1zM1203 526l1 1l0 2l-1 1l-1 -1l0 -2zM1206 518l2 -1l2 3l-1 1l-2 0l-1 -1zM1237 510l0 -2l1 -1l2 0l1 1l-2 3zM828 503l1 4l2 2l5 -3l-2 -3l-2 0l-1 -1zM1097 604l-3 2l-4 0l-3 5l-3 0l-3 2l-4 -4l-2 0l-5 -3l0 -4l1 -1l-1 -5l-2 -2l-2 0l-1 1l-4 -3l1 -6l3 -2l0 -3l-3 -2l1 -1l0 -3l-2 2l-2 -1l1 -2l-2 -3l2 -1l1 -2l-3 0l-1 -2l-2 0l-2 -2l5 -4l0 -2l6 -4l3 2l2 -3l2 1l0 3l2 2l0 2l1 0l3 -3l-2 -6l-3 -1l-7 -7l0 -5l-12 -1l-6 -3l-4 2l-1 -1l0 -2l2 -2l-1 -2l1 -3l-1 -1l0 -2l-4 -4l-4 8l-3 -1l-2 -3l-2 -1l1 2l-2 2l-3 -3l2 -3l-4 0l-1 1l-2 -2l-1 0l0 2l1 1l-2 4l-3 0l-3 -4l-3 0l-2 -3l-2 0l-2 2l-4 0l-1 -1l-3 1l-2 -1l0 1l-4 3l-3 -3l-6 -1l-2 -2l2 -3l-3 -4l0 -2l-2 0l-2 2l-1 -1l-2 0l-2 1l-3 4l-1 0l-3 -4l2 -2l-2 -1l0 -2l2 -1l0 -1l-3 2l-2 -2l2 -1l-2 -1l-1 1l-2 0l0 1l-2 1l1 2l0 2l-1 1l1 4l-2 2l-5 -4l0 -2l2 -2l-1 -2l-3 -2l-4 -1l-2 -3l-2 0l0 3l-1 1l-1 -1l-2 3l0 3l-1 1l-5 -1l-1 1l0 3l-4 5l-2 0l0 2l-1 1l-2 -3l-4 6l2 3l-1 2l-3 0l-2 -3l-2 -1l-4 2l0 3l-2 1l-2 -2l0 -4l-6 0l-4 6l-10 0l-3 -3l-3 -1l-3 -4l-1 -6l1 -1l3 0l1 -1l0 -2l-1 -1l-3 2l-1 -1l-2 0l-5 -5l-13 11l-3 0l-4 5l1 3l-6 5l-3 -3l0 -2l-1 -1l-2 3l-2 0l-1 -2l-1 1l-3 -2l-2 1l-1 -2l1 -1l2 0l-1 -5l-2 0l0 1l-3 2l-4 -4l-1 0l-3 3l0 5l1 1l0 2l-4 3l-1 3l-2 2l-3 0l-1 1l0 4l-1 1l-2 0l-3 -2l-3 0l-2 4l-2 1l-1 -1l-2 0l-2 -4l-1 1l-7 0l2 2l-3 2l2 2l0 2l-4 3l1 2l0 3l-1 1l-4 0l-3 -3l-3 0l-4 -4l-3 3l-7 0l-2 -1l-1 2l-6 0l3 8l3 2l-1 1l0 2l-4 3l0 1l2 1l0 4l-4 3l-2 -2l-3 1l-2 -3l-3 2l-2 0l-2 -3l1 -1l2 0l0 -1l-4 2l-1 -1l1 -2l-1 -3l1 -1l4 1l-1 -2l-2 -1l-2 3l-2 0l-2 4l3 3l-3 2l1 2l-1 5l-2 1l-6 7l0 3l-2 3l-3 -2l-1 1l0 2l1 1l-2 3l0 2l1 1l3 0l2 2l-1 1l-2 0l-2 2l-2 0l-2 2l-2 -1l0 7l-2 2l-5 -2l1 2l-1 1l0 3l-2 2l-4 -3l-1 0l0 2l-1 1l-4 0l-1 -2l-2 1l-1 -1l0 -3l-4 1l-1 -1l0 -2l-1 0l0 1l-2 1l-2 3l-1 0l-1 -2l-3 0l-1 -1l-1 1l0 2l-4 3l0 2l-1 1l1 3l-3 4l0 3l-3 3l1 5l-6 6l-1 0l0 4l2 4l0 6l-4 4l-5 1l-2 -1l-3 -4l-2 1l-4 -2l-3 1l-1 -2l-2 -1l1 -1l-1 -3l3 -2l0 -5l-2 2l-4 0l-1 1l0 3l1 1l-1 5l3 4l6 0l1 1l1 -1l4 0l4 3l1 2l9 -1l2 -4l0 -7l-3 -5l0 -3l5 -2l0 -1l5 -5l-2 -3l3 -4l0 -2l2 -3l0 -5l4 -4l5 1l4 -2l3 2l4 0l1 1l0 2l2 0l1 1l-2 1l0 2l4 2l3 0l3 3l3 -2l1 1l0 2l6 0l1 -1l-2 -2l1 -2l-2 -2l3 -3l-1 -2l1 -1l2 0l-1 -2l4 -4l1 0l4 4l0 2l2 -1l-1 -1l0 -3l-2 0l-3 -2l1 -2l-1 -1l0 -2l3 -3l2 0l2 -3l2 0l1 -1l-1 -1l3 -3l2 1l0 -1l3 -2l1 1l0 2l-2 2l1 0l3 -2l2 0l0 -1l2 -2l3 -1l2 -3l5 1l1 1l0 2l1 0l2 -3l2 1l1 -1l0 -2l2 -1l1 -2l6 3l4 0l4 -6l2 0l0 -3l-2 0l-1 -1l2 -4l2 -1l4 1l2 -2l0 -2l-1 -1l1 -1l5 1l2 -2l0 -2l3 -2l2 1l2 0l1 -1l1 1l2 0l0 -2l-2 -3l-2 -1l0 -5l2 -5l1 -1l2 1l4 0l2 -2l3 0l3 -6l4 -4l-1 -2l6 -3l2 -2l1 1l4 -2l1 -2l2 0l1 -1l-2 -2l1 -2l2 0l2 2l0 2l2 -2l3 3l0 2l-2 4l14 0l1 -1l2 1l0 -1l5 -4l1 2l4 3l0 3l-1 1l4 3l4 -1l6 3l3 -2l3 2l0 -2l-2 -2l0 -3l-1 -1l3 -4l3 1l2 -3l5 -1l1 1l1 5l-4 4l-1 0l-1 2l1 1l0 2l-2 3l2 1l-1 1l-3 0l-4 -2l3 4l1 -1l2 0l1 1l1 -1l4 0l1 -4l2 -2l-2 -2l2 -4l2 0l3 -2l2 1l4 -3l4 2l1 -1l0 -2l4 -2l6 4l2 4l2 0l3 -3l3 1l2 -2l2 0l1 2l3 0l1 1l-1 1l0 2l3 -3l2 0l-3 -2l0 -3l-1 0l-4 -5l1 -1l0 -3l-1 -1l0 -2l-2 -2l1 -1l3 1l0 -1l-4 -3l0 -2l1 -1l2 0l3 3l3 0l1 1l-2 4l0 2l1 1l0 5l1 1l1 0l0 -3l2 -5l7 1l2 2l0 2l-3 3l-2 6l2 1l0 4l2 -1l2 0l1 1l1 -1l2 0l2 1l2 -2l0 -3l2 -1l0 -1l-2 -2l0 -3l-4 -6l2 -2l1 0l4 4l3 0l1 -1l4 1l-1 -1l0 -2l4 -3l2 0l1 1l-3 2l1 4l-2 1l0 2l1 1l-1 2l1 1l0 2l3 0l2 3l-2 2l2 3l-2 1l0 2l2 0l2 -3l0 -3l1 -1l2 0l1 1l4 -1l0 -1l-6 -4l0 -1l2 -1l1 -7l3 -2l2 0l1 2l2 0l4 2l0 1l-4 2l0 1l2 -1l5 0l1 1l2 0l2 2l3 0l2 2l4 -2l3 3l0 2l4 3l2 0l-6 -5l0 -2l2 -3l3 0l-1 -1l2 -1l3 2l2 0l2 2l0 3l3 4l0 2l1 1l0 2l-1 1l2 3l0 -3l2 -2l3 0l1 1l4 -4l1 0l4 -5l1 1l2 0l2 3l3 2l-2 3l3 2l0 2l-2 2l-3 -2l-3 0l2 2l1 6l-2 1l-4 -4l-2 0l5 6l-1 1l0 2l2 -1l3 1l3 -2l2 2l-4 6l0 7l-1 1l1 5l2 2l1 3l3 0l2 2l0 1l-2 1l-2 3l2 1l3 0l1 -1l4 2l4 4l4 0l3 3l0 3l1 -1l4 0l3 -2l2 0l3 -4l2 0zM692 625l3 3l0 2l-1 1l-4 -2l0 -2zM744 588l1 1l0 3l-2 1l1 3l-2 2l-4 -1l-1 -1l0 -3l3 -2l1 -2l2 0zM765 584l2 -1l1 2l-2 1zM744 584l1 -1l3 2l4 -1l2 1l1 2l-2 1l0 2l-2 2l-2 0l-1 -1l1 -1l0 -2l-4 -1l-1 -1zM729 583l1 1l-3 4l-2 -2l2 -3zM1060 581l2 2l0 2l-1 1l-3 -2zM743 577l1 1l0 2l-1 1l-2 -2zM746 576l1 -2l2 0l1 1l-2 2zM769 573l1 -1l3 0l3 3l0 2l-5 2l-2 -2zM760 571l1 1l0 3l2 1l1 2l-6 5l-4 -1l-2 -3l2 -3l0 -2l1 -1l3 0l0 -1zM765 564l2 -1l1 2l-2 1zM773 560l2 -1l2 2l3 0l1 2l-3 2l-2 -1zM787 551l1 1l0 2l-2 2l-1 -1l0 -2zM798 548l1 2l-3 2l-1 -2zM790 546l2 1l0 3l-1 1l-1 0l-2 -3zM977 544l1 1l0 3l-1 1l-1 -1l0 -3zM1061 543l1 1l0 2l-4 3l-1 -1l0 -2l2 -3zM948 541l3 2l1 -1l1 1l-1 3l-2 2l-1 0l-2 -3l0 -3zM862 541l1 1l-1 4l-1 1l-3 0l-1 -1l1 -3l2 -2zM1043 538l1 -1l4 0l1 1l-2 2l-2 0zM921 537l2 2l0 2l2 0l3 2l-2 2l-4 0l-2 -2l1 -2l-2 -2zM895 538l1 -1l2 0l2 3l-2 2l-2 0l-1 -1zM1034 537l1 -1l1 1l2 0l1 2l-1 1l-3 0l-1 -1zM974 537l2 -1l3 3l-1 1l-2 0zM804 541l0 -2l2 -3l1 1l3 0l1 -1l2 1l0 1l-2 1l-2 3l-4 0zM844 536l2 -1l1 2l-2 1zM1036 534l2 -1l1 2l-2 1zM1013 535l1 -2l4 0l1 1l-3 3zM905 534l2 -1l1 2l-2 1zM915 528l2 2l-1 2l-2 1l-1 -1l0 -2zM1013 526l1 1l0 2l-2 2l0 4l-1 1l-2 0l-2 -4l4 -3l0 -2zM990 525l2 1l0 2l-1 1l-2 0l-1 -1zM861 526l1 2l-3 4l-3 2l0 1l2 1l0 5l-3 2l-4 -1l-2 -3l4 -5l0 -3l2 -1l0 -4l1 -1l1 0l1 2zM845 526l0 -2l1 -1l2 0l1 1l-3 3zM961 524l1 -2l2 -1l2 2l2 0l1 1l0 2l-1 1l-2 0l-1 -1l-2 0zM973 519l2 0l2 4l-2 3l-1 -1l0 -2l-2 -2zM955 518l2 0l1 1l-2 4l-2 -1l0 -3zM952 519l-1 4l-3 2l0 2l-1 1l-2 -1l-4 0l-2 1l-1 -1l0 -2l3 -3l4 2l1 -1l0 -4l1 -1l4 0zM863 518l0 -2l1 -1l2 0l2 2l-2 2l-2 0zM971 513l1 2l-2 1l-1 -1zM847 501l-2 1l0 2l1 0zM995 499l1 2l2 0l1 1l1 3l2 -1l0 -2l-3 0l-1 -2zM966 499l0 1l1 0l0 -1zM1222 496l-1 1l3 3l1 -1l0 -2l-1 -1zM1246 492l0 2l1 1l0 -3zM277 489l-2 2l0 2l-1 1l2 4l-2 4l2 2l4 -2l7 9l2 0l1 -1l3 2l0 5l-2 2l2 4l0 2l3 4l0 2l2 4l2 1l3 4l2 -1l2 1l1 5l-1 1l0 2l-2 1l-1 5l2 3l0 2l3 4l1 4l2 2l0 6l2 1l0 3l-1 -11l-2 -4l0 -2l3 -4l-2 0l-1 -2l-3 -2l0 -2l2 -3l6 -1l0 -1l2 -1l0 -2l-1 1l-2 0l-3 -4l0 -4l4 -2l-1 -2l1 -2l4 1l2 2l0 3l3 2l1 3l3 0l7 3l4 4l1 5l3 3l0 2l3 2l3 0l1 1l0 3l1 -1l0 -2l-4 -1l-4 -4l-2 -3l0 -4l-3 -2l0 -2l-5 -4l-2 0l-2 -2l-3 -1l-3 -3l0 -2l-1 -1l1 -4l-4 -2l0 -2l-4 -4l-1 -4l-1 -1l-2 0l-3 2l-2 -2l0 -8l-1 -1l0 -2l1 -1l-4 -1l-2 -3l-7 2l-2 -4l-3 -3l0 -4l2 -1l-1 -2l-1 1l-2 0l-4 -3l-4 3zM310 530l2 -2l3 0l1 1l0 2l-1 1l-2 0zM296 518l4 0l3 -2l3 3l0 6l2 2l0 2l-3 3l-3 -2l-3 -6l-2 1l-2 0l-1 -1l0 -1l3 -2l-2 -2zM295 509l1 -1l4 0l3 4l-1 1l-4 0l-3 -2zM278 491l2 2l0 2l-4 3l-1 -1l0 -4zM277 471l-2 6l2 0l2 2l0 2l2 0l2 -3l5 1l2 2l2 0l1 -1l-1 -7l-7 -5l-5 0l0 2l-1 1zM279 463l-1 1l2 1zM279 449l-4 2l0 2l-1 1l0 6l-1 1l1 3l2 -1l2 -4z"/>
<path fill="#E8B9B0" stroke="#E8B9B0" d="M664 715l-5 0l-5 2l2 4l0 3l-2 3l0 9l1 -1l3 2l0 3l0 -3l1 -1l-1 -2l2 -2l2 3l1 0l5 -3l3 0l1 -1l-2 -4l-1 0l-1 -2l-3 -2l-1 -2l1 -1zM637 693l-1 2l3 6l1 9l1 1l3 -2l2 0l0 -3l-5 -10l0 -3zM543 666l-2 1l-1 -1l-7 0l-1 6l-1 1l0 3l3 2l0 2l1 1l0 5l-1 1l1 1l-2 2l7 -2l2 -3l5 -3l0 -5l1 -1l-1 -1l0 -3zM538 683l0 -2l1 -1l3 2l-2 2zM537 674l0 -2l1 -1l2 0l1 1l-2 3zM393 665l-6 1l-2 2l-1 -1l-1 1l7 -1zM590 647l0 2zM644 670l0 4l-1 1l0 2l-2 2l-9 1l-1 -2l-4 -3l-4 0l-1 1l-1 -1l-6 0l-4 -5l1 -2l-1 -7l2 -2l4 0l3 -2l-2 -8l-2 -2l-1 -3l-5 0l-1 -1l-2 2l-2 0l-3 -3l-10 1l4 3l3 0l1 -1l2 3l0 2l-4 2l-6 0l-1 1l-1 0l-1 -2l0 3l2 1l0 2l-2 4l1 2l-1 1l1 4l-10 8l-1 2l0 2l1 1l-2 1l0 3l-1 1l-3 0l-2 2l-5 -1l-3 2l0 2l-1 1l-2 -3l0 -11l1 -1l-1 -2l0 -6l1 -1l0 -3l-5 -4l-1 -3l-1 0l3 4l1 5l1 1l0 12l-1 1l-1 10l-1 1l1 8l1 2l8 0l0 -11l1 -1l5 2l3 0l1 -1l11 0l4 -2l10 0l1 -1l4 0l0 -3l-7 1l-1 1l-6 0l-1 -1l-6 1l-2 -4l-1 1l-1 -1l0 -4l-1 -2l2 -2l1 1l4 0l1 -2l5 -3l2 0l1 -2l3 2l4 0l1 1l5 1l6 4l7 1l2 2l2 -1l4 2l13 -1l0 -2l1 -1l-1 -1l1 -1zM593 656l3 -2l4 0l5 3l5 1l1 1l0 6l-2 2l-5 0l-2 2l-6 0l-3 -6l0 -2l1 -1zM611 646l3 1l1 2l2 1l2 5l0 2l-1 1l-7 0l-1 -1l0 -10zM524 639l4 3l2 0l3 4l5 3l1 2l3 2l9 2l-8 -3l-4 -4l0 -2l-3 -4l-7 0l-3 -3zM1051 636l-6 3l-5 1l3 2l0 2l2 1l0 2l1 0l3 4l1 -1l2 1l4 -3l1 -2l-6 -8zM692 626l-1 1l0 2l2 0l1 1l0 -2zM350 617l2 10l5 6l0 4l1 1l9 1l3 2l2 0l2 2l3 0l2 2l4 1l5 6l-1 2l0 4l3 1l0 -4l1 -1l-2 -1l0 -3l-3 -4l1 -1l0 -6l-4 -2l-1 -2l-2 1l-1 -1l-1 1l-1 -1l-1 1l-2 0l-1 -1l-2 0l-5 -4l-5 1l-1 -2l-1 1l-2 -1l-3 -3l0 -2zM867 612l1 2l-1 12l5 0l1 -2l5 -1l-2 -2l-1 -7zM858 612l-1 0l-1 2l-4 3l-3 -2l-2 1l2 2l0 2l1 0l3 4l5 -2l0 -2l2 -2l-2 -4zM815 608l-2 2l-5 1l0 3l2 1l1 4l4 -2l0 -3l-1 -1l1 -1zM348 604l-2 0l0 1l-2 1l1 2l-2 1l-1 2l3 -1l0 -1l2 -1zM352 615l2 1l1 3l8 4l3 0l1 -1l1 1l2 0l4 -2l3 1l1 -1l3 0l1 -1l5 -1l2 -2l-1 -5l-3 -4l-1 -4l-2 -1l-2 2l-1 -1l-2 1l-2 -1l-2 -3l-3 0l-2 3l-3 1l6 0l1 1l0 2l3 3l1 3l2 2l2 0l1 1l0 3l-1 1l-6 -3l-2 0l-1 2l-2 -1l-3 2l-2 0l-1 -1l-2 0l-2 -2l-3 0l-2 -2l1 -1l-1 -1zM744 589l-1 1l-2 0l0 1l-3 2l0 3l2 0l1 1l2 -1l-1 -3l2 -1zM766 584l0 1l1 0l0 -1zM745 584l0 2l2 0l3 2l0 2l-1 1l2 0l1 -1l0 -2l2 -1l0 -1l-2 -1l-4 1zM729 584l-2 0l-1 2l1 1zM485 584l-1 4l3 -1zM770 573l0 4l1 1l4 -1l0 -2l-2 -2zM760 572l-1 0l-1 2l-3 0l0 2l-2 2l1 3l4 1l5 -4l0 -1l-3 -2zM766 564l0 1l1 0l0 -1zM473 561l0 2l3 4l0 3l-4 3l-3 1l0 2l-1 1l1 1l-1 1l2 2l0 4l-1 1l5 9l1 4l4 2l2 3l2 0l4 6l4 2l1 2l5 4l0 1l4 3l2 0l3 2l4 1l4 4l0 1l3 1l2 2l0 -2l-4 -1l-5 -6l-3 0l-5 -2l-4 -6l-4 -1l-6 -8l-1 0l-3 -4l-2 0l-7 -11l-5 -6l0 -3l4 -5l3 -1l1 1l0 3l0 -3l-1 -1l1 -2l-1 -2l1 -1l1 -7l-2 -2l0 -2l-2 0l-1 1zM477 569l1 1l0 2l-1 2l-2 1l-1 -2zM401 557l3 2l4 0l-3 0zM458 555l5 -1l1 1l4 0l1 1l0 -1l-2 0l-4 -2l-3 2zM387 553l3 0zM371 553l-1 1l1 3zM432 551l-2 0l-1 1l-6 0l-7 6l3 1l5 -4l-1 -1l1 -1zM394 552l3 1l2 2l-2 -4l-2 0zM798 549l-1 0l-1 2l1 0zM446 550l3 -1l-2 0zM1061 544l-2 0l-1 4l3 -2zM948 542l0 3l1 2l1 0l2 -4l-1 1zM921 538l-1 1l2 2l-1 2l1 1l4 0l1 -1l-4 -1zM1035 537l0 2l3 0l0 -1l-2 0zM526 535l0 6zM1037 534l0 1l1 0l0 -1zM1014 535l2 1l2 -2l-4 0zM312 529l-1 1l4 1l2 3l-1 2l-3 1l0 4l2 3l2 0l1 -1l1 1l0 2l-2 1l-1 2l-6 1l-1 2l0 2l1 0l2 3l2 0l1 1l-3 4l0 2l2 4l1 11l4 3l1 2l0 4l4 3l1 6l2 2l1 3l4 4l1 0l2 3l1 -1l-1 -1l1 -1l-4 -1l-4 -4l-3 -11l-3 -4l1 -2l-5 -7l0 -2l4 -5l4 -1l1 -2l2 2l0 2l4 4l-1 1l1 1l0 2l2 -1l3 4l6 1l3 3l2 4l0 2l-1 1l1 1l0 3l2 1l0 2l0 -9l3 -5l-1 -3l-3 -4l1 -1l-1 -2l2 -3l0 -6l-1 -1l0 3l1 1l-1 1l-2 -1l-1 1l-6 0l-2 -2l1 -1l-1 -1l4 -2l3 0l3 -2l0 -1l-3 0l-4 -3l0 -2l-3 -3l-1 -5l-3 -3l-7 -3l-3 0l-2 -4l-3 -2l0 -3l-5 -2l-1 -1l0 -2zM335 554l1 0l4 5l0 2l-4 4l-4 0l-2 -2l0 -3l2 -1zM861 527l-3 1l-1 -2l-1 0l0 4l-2 1l0 3l-4 5l1 2l2 1l4 -1l0 -5l-1 0l-1 -2l3 -2zM846 524l0 2l2 -2zM525 527l-4 -3l-2 0l-1 2l2 4l-3 3l-2 0l0 3l1 -2l2 0l4 -4l2 0l1 -1l1 2zM1102 602l-2 0l-7 7l-2 0l-3 4l-2 0l-3 2l-4 0l-1 1l-1 -1l0 -3l-2 -2l-4 0l-4 -4l-4 -2l-1 1l-5 -1l-1 -1l1 -2l3 -2l0 -1l-5 -2l-1 -3l-2 -2l0 -3l-1 -1l1 -2l0 -7l4 -6l-1 -1l-3 2l-2 -1l-3 1l-1 -1l0 -2l1 -1l-5 -6l1 -1l2 0l4 4l1 0l-1 -6l-2 -2l1 -1l3 0l3 2l1 -1l0 -2l-3 -2l2 -3l-1 0l-3 -4l-2 0l-1 -1l0 1l-9 8l-1 -1l-3 0l-2 5l-3 -4l1 -1l0 -2l-1 -1l0 -2l-3 -4l0 -3l-7 -3l1 1l-1 1l-3 0l-1 2l0 2l6 5l-1 1l-2 0l-5 -4l0 -2l-2 -2l-4 2l-2 -2l-3 0l-2 -2l-2 0l-1 -1l-5 0l-2 1l-1 -2l4 -2l0 -1l-5 -1l-1 -2l-2 0l-2 1l-1 7l-2 1l0 1l5 3l1 2l-3 2l-2 0l-4 -2l0 -3l1 7l-3 4l-2 0l-1 -1l0 -2l2 -1l-2 -3l2 -2l-1 -2l-3 0l-2 -4l1 -2l-1 -1l0 -2l2 -1l-1 -4l3 -2l-2 0l-3 2l0 2l1 1l-1 1l-2 -1l-6 1l-4 -4l-1 0l-1 1l3 4l1 5l2 3l-2 1l0 3l-3 3l-2 -1l-2 0l-1 1l-1 -1l-2 0l-2 1l-1 -1l0 -4l-1 0l-1 -2l2 -5l3 -3l0 -2l-1 -1l-7 -1l-1 7l-2 1l-2 -2l0 -5l-1 -1l0 -2l2 -4l-3 0l-3 -3l-2 0l0 2l4 3l-1 2l-3 -1l2 2l0 2l1 1l0 3l-1 1l3 4l2 1l0 3l3 2l-1 1l-2 0l-3 3l-1 -1l0 -2l1 -1l-3 0l-1 -2l-2 0l-2 2l-3 -1l-3 3l-2 0l-2 -2l0 -2l-6 -4l-1 1l-2 0l0 2l-2 2l-4 -2l-4 3l-2 -1l-3 2l-2 0l-1 3l2 2l-2 2l-1 4l-1 1l-4 0l-1 1l-1 -1l-2 0l-1 1l-1 -2l-3 -2l0 -1l1 -1l4 2l3 0l-2 -1l2 -3l0 -2l-1 -1l1 -2l5 -4l-1 -5l-5 1l-2 3l-3 -1l-2 3l1 1l0 3l2 2l0 2l-2 1l-1 -2l-1 0l-3 2l-6 -3l-4 1l-5 -4l1 -1l0 -3l-2 -1l-2 -3l-2 1l-3 4l-1 -1l-2 1l-14 0l-1 -2l2 -3l0 -2l-2 -2l-2 2l-1 -1l0 -2l-1 -1l-2 0l2 3l-2 2l-2 0l-1 2l-4 2l-1 -1l-2 2l-5 2l1 2l-4 4l-2 5l-2 2l-3 0l-2 2l-4 0l-2 -1l-2 5l0 5l2 1l2 3l0 2l-1 1l-2 0l-1 -1l-1 1l-2 0l-2 -1l-2 1l0 2l-3 3l-5 -1l1 1l0 2l-3 3l-2 -1l-4 1l-1 3l2 0l1 1l0 3l-1 1l-2 0l-4 6l-4 0l-6 -3l0 1l-2 1l0 2l-2 2l-2 -1l-2 3l-2 -1l0 -2l-5 -1l0 1l-2 2l-3 1l-2 3l-2 0l-3 2l-2 -1l2 -2l0 -2l-2 1l-1 2l-2 -1l-2 2l1 1l-2 2l-2 0l-2 3l-2 0l-2 2l0 2l1 1l-1 2l4 1l2 5l-3 2l-1 -1l0 -2l-3 -3l-4 3l1 2l-1 1l-2 0l1 2l-3 3l2 2l-1 2l2 2l-2 2l-6 0l-1 -1l0 -2l-3 2l-3 -3l-3 0l-5 -3l0 -2l2 -1l-2 0l-1 -1l0 -2l-4 0l-3 -2l-4 2l-5 -1l-3 3l0 5l-2 3l0 2l-3 4l2 3l-6 7l-4 1l0 1l5 -2l1 -2l4 -2l1 -2l0 -4l3 -5l0 -3l1 -1l-1 -1l0 -3l2 -2l2 2l0 4l1 1l-1 8l5 7l0 2l-1 1l-3 0l2 3l1 7l8 -4l2 0l0 -1l3 -2l6 4l3 0l0 -5l-1 -2l4 -3l4 1l1 -1l3 0l2 -2l1 1l2 -1l0 -1l3 -2l-1 -1l1 -4l3 -2l-1 -1l2 -2l1 1l2 0l4 -2l2 1l1 -2l-1 -1l2 -3l0 -2l2 -2l-3 -8l6 -3l5 -5l6 -4l9 0l1 -1l3 0l1 1l5 1l4 -3l8 -1l1 -1l6 0l1 -1l5 0l1 1l2 0l2 1l3 4l1 0l1 -2l0 -4l4 -3l0 -2l2 -2l2 -7l7 -8l4 0l1 -1l6 7l1 -1l6 -1l0 -2l1 -1l-1 -2l3 -3l0 -2l-3 -2l-2 -4l8 -4l4 0l2 1l1 2l1 0l1 2l3 2l-1 3l-1 1l-1 -1l0 1l3 2l4 -2l3 2l3 0l7 9l5 0l1 -1l1 1l4 0l1 1l2 0l1 -1l2 1l5 0l1 -1l1 1l6 0l1 1l9 0l4 3l4 0l3 -2l4 2l1 -1l2 0l2 -2l3 0l0 -5l1 -1l0 -8l-2 -2l0 -4l1 -1l4 0l1 -2l8 2l3 -2l4 0l1 -2l2 0l1 1l2 -1l4 2l1 -1l3 0l0 -1l5 -4l3 0l2 2l4 0l2 4l6 -3l2 0l1 1l2 -1l9 4l11 9l0 2l2 3l-1 3l2 3l-1 5l3 6l-3 4l5 0l6 -3l1 1l7 0l1 -1l7 -1l1 1l7 1l6 6l0 1l-3 2l-4 10l0 2l2 2l0 2l1 1l3 -2l2 0l1 1l1 0l1 -2l1 1l2 -4l0 -8l2 -5l-2 -1l2 -2l4 3l5 1l1 2l1 -1l10 1l1 1l-1 1l1 2l-1 1l2 2l1 -1l1 1l1 -1l1 1l6 -3l5 0l0 -1l3 -2l4 -8zM679 646l1 -1l2 0l1 2l-1 1l-2 0zM667 644l3 0l2 2l2 -1l2 2l0 1l-2 1l0 2l1 1l-1 1l-2 0l0 2l-1 1l-3 -2l-1 0l-1 2l-1 -1l0 -4l2 -3l2 0l-4 -2zM698 641l2 -1l2 3l-1 1zM711 617l3 -2l2 3l2 -1l3 2l-4 3l-2 0zM1055 600l-3 4l-2 1l-2 0l-1 -1l0 -3l1 -1l4 0l1 -1zM1038 589l3 -2l2 0l1 1l0 2l-2 2l-2 0zM782 586l1 -1l2 0l2 2l4 -1l1 2l-2 2l-4 1l-2 -3l-2 -1zM1040 583l1 2l-2 2l-2 -2zM775 583l1 -1l3 0l1 1l0 4l1 0l1 2l-1 1l-5 -1l-2 -2zM885 583l0 -2l2 -1l1 2l-2 2zM1043 574l2 1l0 3l-1 1l-2 -2l0 -2zM1011 572l1 1l-1 3l-1 1l-2 0l-1 -1zM1039 572l2 -1l1 2l-2 1zM1017 576l2 -4l7 -1l6 8l-2 2l-1 -1l-4 0l-1 -1l-2 1l-1 -1l-1 1zM1042 569l1 -1l2 0l1 1l-1 1l-2 0zM905 567l1 2l-1 2l-2 1l-2 -3zM898 564l3 3l-4 3l-2 -2zM893 556l2 3l0 3l-2 2l-2 -3l-2 1l-1 2l-2 0l-1 -2l2 -2l0 -2l3 -3l1 1zM838 553l1 1l0 2l-3 2l1 2l-2 2l-4 -1l-1 -1l1 -2l-1 -2l4 -3zM900 549l2 -1l1 2l-1 1zM815 547l2 2l0 2l-3 2l1 3l-3 2l-2 3l-2 -1l-2 1l-3 -3l-1 -5l3 -2l3 2l1 -2zM844 547l2 -1l3 3l-2 2zM1002 548l0 -1l3 -2l2 1l-2 3l-2 0zM973 520l2 3l0 2l1 -1l-1 -4zM951 519l-4 0l0 4l-2 2l-4 -2l-2 2l0 2l2 -1l4 0l2 1l0 -2l3 -2zM296 519l2 2l-3 2l0 1l4 -1l2 2l2 5l2 1l2 -2l0 -2l-2 -2l0 -6l-2 -2l-3 2zM971 514l-1 1l1 0zM1269 526l-2 -1l-1 2l-2 0l-2 -3l-4 -1l-2 -3l-3 -2l-4 5l-3 -4l2 -2l2 0l0 -3l-3 -2l-5 0l-2 2l-2 0l0 2l-2 2l-3 0l-1 1l-2 0l-1 -1l0 -2l-1 -1l1 -1l-1 -1l-2 1l0 4l3 3l3 0l1 1l0 3l-2 2l-3 0l-2 -2l1 -2l-2 0l-1 -2l-3 -2l0 -3l-3 0l-2 -2l-3 0l0 2l5 4l0 4l-6 3l-3 -1l-1 1l1 1l0 3l-2 2l-2 -1l-1 2l-2 0l-1 2l-3 2l0 2l2 3l-6 4l1 5l-2 2l-2 0l-1 -2l-1 0l2 3l-2 2l-2 0l-4 2l1 1l-3 6l-7 1l-3 4l-3 1l-4 4l-3 0l0 2l-3 2l-4 0l0 3l-2 2l-2 0l-4 3l-5 7l-3 2l-2 3l-2 0l-1 1l-1 -2l-4 0l-7 5l-10 0l-3 -2l-2 0l8 3l2 -1l1 1l2 0l1 -1l5 -1l3 -2l6 1l3 -2l2 0l9 -8l5 -1l5 -3l3 2l4 0l3 -2l3 0l4 2l4 -3l7 -1l0 -3l-1 -1l2 -3l2 -1l1 -4l4 -5l2 0l1 -1l2 1l1 -1l4 2l3 -5l3 2l6 1l2 2l3 0l5 -2l4 -4l1 0l7 -8l2 0l1 -1l1 1l6 0l1 -1l4 0l1 1l1 5l3 4l-1 3l2 3l0 3l2 2l0 5l2 1l-1 2l1 2l-1 1l0 2l3 0l4 2l0 -7l-6 -6l-2 -9l-3 -5l-2 -8l-3 -4l3 -3l0 -2l8 -10l2 -5l3 -4zM1172 573l1 -1l2 0l1 2l-2 1zM1202 557l1 -1l1 1l4 0l1 1l0 3l-2 2l-4 -1l-1 -1zM1226 542l1 1l-1 3l-4 3l-2 -2l0 -2l3 -3zM296 509l0 2l2 1l4 0l-2 -3z"/>
<path fill="#FA3535" stroke="#FA3535" d="M646 730l0 1l1 0zM384 670l3 0l1 1l5 -2l2 -2l4 0l1 1l6 1l-5 -1l-1 -1l1 -2l-7 -1l0 1l-4 3l-3 0l-1 1l-2 0zM594 656l0 2l1 1l-1 4l2 5l6 0l2 -2l5 0l1 -1l0 -6l-5 -1l-5 -3l-4 0zM1037 654l-1 0l-2 3l0 2l2 1zM746 650l0 1l1 0l0 -1zM505 697l0 2l1 1l1 -1l3 0l1 1l11 -1l3 2l9 0l1 -1l2 0l4 3l33 0l-1 -1l0 -5l1 -1l2 0l0 -3l-3 0l-5 -2l0 11l-1 1l-8 0l-1 -1l-1 -5l-1 -1l1 -10l1 -1l0 -4l1 -1l0 -12l-1 -1l0 -3l-4 -5l-1 -3l-9 -1l-5 -3l-1 -2l0 2l6 4l1 2l4 1l2 3l2 0l1 2l-2 2l-4 0l-1 -1l1 -1l-4 -3l-4 0l-1 1l-2 0l-2 2l-7 0l0 4l-2 3l0 6l4 3l1 -1l1 1l-1 2l0 5l-1 2l-2 1l0 3l-1 1l-2 -2l-3 -1l-1 2l-1 -1l-2 0l-4 3l-4 0l-2 -1zM531 696l2 -2l2 1l4 -1l1 1l0 1l-2 1l-2 3zM544 696l2 -3l3 2l0 2l-1 1l-2 0zM543 665l1 2l2 1l0 2l2 2l0 3l1 1l-1 1l0 5l-6 4l-2 3l-7 2l-1 -1l2 -2l-1 -1l1 -1l0 -5l-1 -1l0 -2l-3 -2l2 -10l1 -1l7 0l1 1zM1023 647l-1 0l-1 2l-3 -1l0 4l-1 1l-3 -2l0 3l1 0l2 3l2 0l0 -2l1 -1l3 0zM611 647l0 10l7 0l-2 -7l-1 0l-1 -2zM591 645l-1 7l2 -1l6 0l1 -1l2 0l-1 -4l-1 1l-3 0l-4 -3zM806 643l-1 5l1 2l4 3l0 2l1 0l1 -1l0 -1l-2 -1l1 -3l-1 -1l-1 1l-2 -1l1 -3l-1 -2zM1095 640l0 3l-2 1l0 2l4 1l1 -1l-3 -2l1 -2l0 -2zM878 641l0 3l5 0l1 1l2 0l3 4l1 0l0 -2l1 -1l2 0l0 -1l-3 0l-5 -6l-2 0l-2 2zM731 639l-1 1l1 0zM1097 636l0 1l1 0l0 -1zM976 634l1 2l0 -2zM975 628l-2 3l2 -1zM986 628l0 3l2 0l2 3l1 0l1 -1l-1 -5l-1 -1l-2 2zM918 627l-1 1l1 1zM1195 624l0 1l1 -1zM973 624l-1 2l1 0zM1136 623l0 1l3 2l-2 2l2 2l2 -1l5 1l5 -5l-2 -1l-1 2l-4 3l-4 -4l-1 0l-1 -2zM990 623l0 1l1 0zM1184 621l-1 1l2 0zM944 621l0 1l1 0zM979 620l-3 2l1 4l2 0l0 -1l3 -2zM1212 616l-4 3l2 1zM1190 616l-2 3l2 0l3 2l0 -2l-2 -3zM932 612l0 2l2 3l1 0l-1 -1l0 -4zM1225 606l-4 2l0 3l2 0l3 -3zM1219 597l1 3l4 0l3 3l1 -1l-3 -2l-2 -4l-1 1zM961 595l-2 3l0 2l1 1l0 2l-1 1l3 1l1 -1l2 0l1 -2l-2 -4l-2 2l-2 -2l0 -1l2 -1l0 -1zM1241 574l1 1l2 0l1 -2l-3 0zM1019 573l-1 4l2 2l1 -1l1 1l2 -1l1 1l4 0l1 1l1 -1l-5 -7zM324 570l-2 1l-3 4l0 2l5 7l-1 2l3 4l0 2l2 4l0 3l4 5l2 0l3 2l-1 1l1 1l-1 1l1 0l1 2l3 0l1 -2l2 -1l-2 -4l2 -2l2 1l5 -1l-1 -3l-2 0l-1 -1l0 -5l1 -1l0 -2l-1 -2l-2 0l-1 -1l0 -3l-6 -1l-1 4l4 2l3 0l2 2l0 2l1 1l-3 2l-3 4l-2 0l-1 -1l-2 1l-3 -2l0 -3l2 -3l2 -1l-6 -1l-2 -2l0 -3l-1 -1l3 -3l2 0l-2 -5l1 -1l-6 -5zM339 608l2 -1l1 2l-1 1zM351 570l-1 -1l0 -5l-3 2l-3 0l-1 1l2 3l1 -1zM478 563l2 2l-1 7l-1 1l1 2l-1 1l1 5l1 1l5 1l2 3l1 0l1 -2l-6 -4l0 -3l-2 -2l0 -5l1 -1l-1 -1l3 -5l-1 -1l-2 2zM1203 557l0 4l4 1l1 -1l0 -3l-4 0zM1269 592l-8 -3l0 -2l1 -1l-1 -2l1 -2l-2 -1l0 -5l-2 -2l0 -3l-2 -3l1 -3l-3 -4l-1 -5l-4 0l-1 1l-6 0l-1 -1l-1 1l-2 0l-4 5l1 2l-1 2l-2 1l-1 -2l-1 0l-4 4l-5 2l-3 0l-2 -2l-6 -1l-3 -2l-3 5l-4 -2l-1 1l-1 -1l-4 1l-3 4l-1 4l-2 1l-2 3l1 1l0 3l-1 1l-7 1l-4 3l-4 -2l-3 0l-3 2l-4 0l-3 -2l-5 3l-5 1l-9 8l-2 0l-3 2l-6 -1l-3 2l-2 0l-4 2l-2 0l-1 -1l-2 1l-1 -1l-3 0l-3 -2l-6 0l-4 5l-2 5l-3 2l-1 2l-5 0l-6 3l-1 -1l-1 1l-1 -1l-1 1l-3 -3l1 -1l-1 -1l1 -2l-4 0l-1 -1l-5 0l-1 1l-1 -2l-5 -1l-4 -3l-1 1l2 1l-2 5l0 8l-3 5l-1 -1l-1 2l-4 -1l-3 2l-2 -2l0 -2l-2 -2l0 -2l4 -10l2 -1l1 -2l-5 -5l-3 0l-5 -2l-3 0l-5 2l-7 0l-1 -1l-6 3l-5 0l-1 -1l3 -4l-3 -6l1 -5l-2 -3l1 -3l-2 -3l0 -2l-1 0l-1 -2l-8 -6l-9 -4l-2 1l-1 -1l-2 0l-6 3l-2 -2l0 -2l-4 0l-2 -2l-3 0l-2 1l-3 4l-3 0l-1 1l-4 -2l-1 1l-4 -1l-1 2l-4 0l-3 2l-6 -1l-1 -1l-1 0l-1 2l-4 0l0 4l2 2l-1 14l-1 1l-3 0l-2 2l-2 0l-1 1l-4 -2l-3 2l-4 0l-4 -3l-9 0l-1 -1l-6 0l-1 -1l-1 1l-5 0l-1 -1l-4 1l-1 -1l-4 0l-1 -1l-1 1l-5 0l-4 -4l-1 -3l-2 -2l-3 0l-3 -2l-4 2l-3 -2l-1 -2l1 -1l1 1l1 -3l-2 -1l-3 -4l-2 -1l-4 0l-1 1l-2 0l-2 2l-2 0l2 4l3 2l0 2l-3 3l1 2l-1 1l0 2l-8 3l-6 -7l-1 1l-4 0l-6 7l-2 7l-2 2l0 2l-4 3l0 4l-2 3l-1 0l-1 -2l-4 -3l-2 0l-1 -1l-5 0l-1 1l-6 0l-1 1l-8 1l-4 3l-2 0l-4 -2l-3 0l-1 1l-9 0l-6 4l-5 5l-5 2l3 8l-2 2l0 2l-2 3l1 1l-2 3l-2 -1l-4 2l-2 0l-1 -1l-1 1l1 1l-3 2l0 2l-1 1l1 2l-3 2l-1 2l-2 1l-1 -1l-2 2l-3 0l-1 1l-4 -1l0 2l-1 1l-2 -1l1 2l0 5l-1 1l-3 0l-6 -4l-2 1l-1 2l-2 0l-7 4l-2 -1l-1 -7l-2 -3l1 -1l3 0l0 -2l-5 -7l1 -8l-1 -1l0 -4l-1 -1l-1 1l0 3l1 1l-1 1l0 3l-3 5l0 4l-1 2l-5 3l-1 2l-5 2l5 12l0 2l-1 1l1 1l-2 4l-7 0l-1 1l-5 0l-4 -2l-2 1l-2 -2l-7 -1l-6 -4l-2 0l-4 -2l-4 0l-3 -2l-1 2l-4 1l-3 2l-1 2l-4 0l-1 -1l-1 2l1 1l0 4l1 -1l2 4l3 0l1 -1l2 0l1 1l6 0l1 -1l7 -1l1 1l0 3l-1 1l-4 0l-1 1l-10 0l-1 1l-2 0l21 0l2 2l3 6l1 0l1 -3l3 -2l1 1l-2 3l2 2l0 2l-1 1l20 15l2 4l0 -4l2 -3l3 -2l2 4l0 4l3 2l0 2l1 1l0 1l-4 4l0 2l-1 1l0 5l2 -1l2 2l2 -1l1 1l0 2l4 0l2 -3l5 -4l5 0l2 1l0 -2l1 -1l0 -6l-2 -2l-3 -1l-3 -4l0 -8l1 -1l-1 -4l-6 -3l-2 0l-4 -5l0 -2l-2 -3l-2 0l1 2l-2 3l-4 0l-1 -1l1 -1l0 -3l2 -1l2 -3l3 0l2 -3l3 2l0 -2l6 -5l3 2l1 -1l0 -3l2 -1l-2 -2l-2 0l-1 -1l3 -2l2 1l4 0l3 -4l1 -3l3 -2l3 2l0 3l2 2l-1 4l4 2l2 -2l3 -1l-1 -2l2 -2l2 0l0 -1l-1 1l-2 -1l1 -6l1 -1l9 0l1 1l3 -3l0 -4l1 -1l3 0l2 3l1 -1l4 0l2 -2l3 3l5 1l2 4l6 -8l3 0l1 -2l2 0l1 -1l0 -2l-2 -1l-2 4l-3 -1l0 3l-1 1l-3 0l-1 -2l1 -1l2 0l0 -1l-2 0l-3 -2l0 -3l1 -1l5 3l3 -3l1 1l6 -5l2 0l1 2l6 0l6 -4l3 0l4 4l2 0l3 -2l0 -3l3 -3l4 0l2 1l1 -1l-2 0l-2 -2l-4 0l-3 2l-1 -1l1 -3l-1 -1l-2 1l-2 -1l1 -3l-4 -3l0 -2l1 -1l0 -3l4 -2l3 2l0 2l-1 1l5 1l2 2l1 4l2 0l1 -1l3 4l2 0l1 -1l0 -2l-4 -4l0 -1l-4 0l-2 -3l2 -2l2 0l1 -2l5 1l3 3l-1 6l3 0l1 1l0 3l3 6l5 0l1 1l4 0l2 1l3 -4l-2 -2l0 -1l2 -1l-1 -4l2 -1l4 2l2 -3l2 2l0 4l1 1l-1 2l-2 0l0 2l1 1l6 -4l3 4l3 2l0 1l3 0l2 3l2 -1l2 1l1 -1l11 -2l3 4l3 -1l2 3l3 0l3 -2l-1 -2l1 -2l5 1l0 -2l1 -1l2 0l4 -4l2 0l4 -4l2 0l4 3l1 -1l0 -6l-2 -2l0 -1l2 -1l0 -8l-1 -2l2 -3l0 -2l2 -2l3 1l2 -2l4 0l1 -1l3 2l0 2l-5 4l0 3l-1 1l5 6l-1 2l-3 2l1 4l2 0l1 -2l2 1l2 -2l3 0l4 -4l0 -2l1 -1l2 0l1 -1l1 1l2 0l1 -1l1 -3l-6 0l-1 -1l0 -2l2 -1l-1 -2l4 -3l2 -4l1 0l2 3l3 1l-1 -2l2 -1l3 3l0 3l3 -2l2 1l1 -1l3 0l0 -3l3 -6l-2 -4l-3 0l-1 -1l0 -2l2 -2l2 0l2 2l2 0l4 -3l5 2l2 0l2 -2l1 2l2 0l3 2l3 0l4 6l2 -2l4 4l-2 2l0 2l-1 1l-3 -1l-1 4l-2 2l-5 2l-2 3l-2 0l-2 -2l-3 0l0 3l-1 1l2 -1l2 0l1 1l6 -1l2 -4l3 2l2 -1l0 -2l3 -2l2 2l2 0l5 6l2 1l4 -1l1 1l0 4l1 1l2 -1l2 3l3 -2l3 3l0 2l3 2l1 -1l-1 -4l2 -1l0 -3l2 -3l5 -5l3 0l4 4l0 1l2 1l0 2l-3 5l-4 3l0 3l1 1l0 8l2 0l3 2l3 4l7 1l1 2l4 -1l1 1l0 4l-3 3l5 5l0 1l2 -1l2 3l3 1l3 -4l0 -3l2 -2l7 1l2 -3l3 0l1 -2l2 -1l2 -3l1 0l1 -3l3 -3l3 0l3 -2l2 0l2 3l1 0l-1 -2l-3 -2l0 -2l6 -5l-1 -5l2 -2l3 0l2 5l5 -6l4 -1l2 2l4 -4l2 1l2 -2l2 0l1 1l-1 -3l1 -1l3 0l2 -2l3 0l1 -1l4 4l4 -1l2 -2l2 0l-1 -5l4 -2l0 -3l3 -2l2 0l1 1l5 -1l3 4l-2 2l0 2l1 1l-1 4l-2 2l-2 0l0 1l2 0l1 1l0 3l2 -3l2 0l0 -4l-1 -2l5 -6l0 -3l6 -5l4 0l1 1l0 2l-2 3l7 8l0 2l1 0l0 -7l2 -3l3 -2l0 -1l-3 -2l1 -1l3 0l3 2l1 2l2 0l1 1l-1 2l1 6l5 0l0 -1l3 -2l2 2l1 0l1 -2l2 2l2 0l1 -2l-5 -4l1 -2l-1 -2l-4 0l-1 -1l0 -3l1 -1l0 -1l-2 -1l1 -2l-1 -4l1 -1l-1 -1l-2 1l-1 -1l0 -3l2 -2l4 1l1 1l0 2l2 0l2 2l-1 1l1 2l4 -3l-5 -5l-1 0l-1 -2l1 -1l4 0l2 -2l1 1l-1 5l2 1l2 3l2 0l-1 -2l-2 0l-1 -2l2 -2l1 1l2 -1l1 1l7 0l3 4l3 0l2 2l2 -1l2 5l3 -2l2 0l1 1l-3 3l2 0l3 4l-2 1l-1 2l-4 1l-1 4l1 1l2 0l2 2l-1 1l3 0l1 1l2 0l1 -1l2 1l2 -1l0 -3l-4 -4l0 -2l4 -3l3 2l-1 3l2 2l3 0l9 -9zM664 714l2 5l-1 2l1 2l5 4l2 4l-2 2l-3 0l-5 3l-1 0l-2 -3l-1 1l1 2l-2 5l-1 -1l0 -3l-2 -1l-1 1l-1 -1l0 -9l2 -3l0 -3l-2 -4l6 -3zM632 699l2 1l0 3l1 1l-2 4l-1 -1l0 -4l-1 -1l0 -2zM637 692l4 0l1 1l0 3l5 10l0 3l-6 3l-2 -2l-1 -9l-3 -6zM728 654l2 -1l1 2l-2 1zM720 641l2 0l3 3l-1 1l0 3l-2 2l-3 -2l0 -3l-1 -1zM856 639l1 2l-3 2l-1 -2zM1060 636l1 1l0 2l-2 1l-1 -2zM837 637l1 -1l2 2l-2 1zM1039 640l12 -5l1 1l0 2l6 8l-1 2l-5 4l-1 -1l-2 1l-3 -4l-2 -1l0 -2l-2 -1l0 -2zM873 631l1 -1l3 0l1 1l0 2l-1 1l-3 0l-1 -1zM802 630l2 4l-1 1l-3 -2zM764 630l1 1l-1 3l-1 1l-2 0l-1 -2zM1088 632l-3 5l-2 -1l-4 5l-6 -1l-5 5l-3 0l-4 -4l1 -2l3 1l2 -3l1 -4l2 -2l1 1l9 1l1 -1l0 -2l2 -2zM845 632l6 -4l2 2l0 3l2 1l0 2l-1 1l-2 -2l-5 0l-1 1l-1 -1zM1060 626l1 -1l3 0l2 2l2 0l1 -1l1 1l0 2l-1 1l-7 0zM839 625l2 2l-6 4l-1 -1l1 -2zM821 621l3 1l5 4l-3 4l-2 -2l-2 0l-3 -3zM828 621l1 -1l2 0l2 2l-1 1l-3 0zM1060 619l2 2l-3 3l-1 -2zM746 619l1 1l-1 4l4 4l0 1l4 3l-1 1l0 2l1 1l-1 4l-1 1l-4 0l-2 1l0 1l-4 3l-2 -2l4 -4l-1 -1l0 -2l-3 2l0 3l-3 2l-1 2l-3 -4l-2 1l-4 -2l-1 -2l3 -5l0 -2l-1 -1l2 -2l2 0l2 3l2 0l2 -2l0 -2l1 -1l2 0l-1 -2l0 -4l1 -1l4 0zM842 618l2 3l-1 1l-4 0l-2 3l-2 -3l4 -5zM909 618l3 -2l3 2l-2 2zM770 618l0 -2l2 -1l1 2l-2 2zM1127 614l2 -1l1 1l0 2l-1 1zM1060 613l1 1l0 2l-2 2l-1 -1l1 -2l-1 -1zM1008 613l2 -1l2 3l-2 1zM866 612l1 -1l2 0l1 1l5 1l2 4l0 4l2 2l-1 1l-5 1l-1 2l-5 0l-1 -1l0 -4l1 -1l0 -7zM858 611l3 7l-2 2l0 2l-1 1l-5 2l-3 -4l-2 -1l0 -2l-2 -2l3 -2l3 2l2 -1l3 -4zM1127 610l2 -1l1 2l-2 1zM1199 608l2 -1l1 2l-2 1zM1113 613l0 -2l2 -4l4 0l3 4l0 1l-4 4l-2 -2l-2 0zM1109 608l2 -1l1 2l-2 1zM1000 608l1 -1l2 0l1 2l-1 1l-2 0zM815 607l1 1l0 4l-1 1l1 1l0 3l-2 2l-3 1l-2 -5l-2 -1l0 -3l3 -2l3 0zM1195 608l0 -2l1 -1l3 0l1 1l0 1l-3 2zM804 603l2 -1l1 2l-2 1zM908 603l4 -3l2 1l2 3l-2 2l-3 0l-2 -1zM907 599l1 2l-2 1l-1 -1zM873 600l1 -2l2 1l-2 2zM809 596l2 -1l2 2l0 2l-1 1zM848 594l1 1l0 3l-2 1l-1 2l-5 0l-2 -1l0 5l-2 4l-3 0l-2 -2l-1 -3l3 -2l0 -3l1 -1l5 -2l1 -2l3 0l1 1zM827 593l1 -1l2 0l1 2l-2 1zM813 590l1 1l0 2l-1 1l-2 -2zM1190 581l1 0l3 4l0 3l-2 2l-1 0l-4 -4l1 -3zM830 579l2 1l0 3l-1 1l-2 -2l0 -2zM966 578l1 2l-3 4l-2 -2zM1209 576l1 2l-2 2l-1 -2zM1197 577l2 -1l2 2l1 3l-1 1l-3 -1l-1 -1zM940 575l3 3l0 2l2 0l1 1l0 3l-4 5l-3 0l0 2l-2 1l-3 -4l3 -5l-3 -5l1 -1l3 0l0 -1zM974 572l2 0l1 1l0 2l-2 4l-1 0l-2 -3zM1238 566l2 1l4 -1l1 1l0 2l4 4l0 1l-2 1l-2 3l3 4l-1 2l-4 -3l-2 2l-2 -2l0 -4l-4 -2l-2 -5l1 -1l2 2l0 -3zM336 555l-1 0l-2 4l-2 1l0 3l1 1l4 0l3 -3l0 -2zM395 553l2 4l0 2l1 0l5 6l4 0l4 2l-1 2l-4 0l0 1l2 0l3 6l2 0l4 4l2 0l1 -1l2 1l1 -1l0 -8l-1 2l1 2l-2 1l-1 -2l-7 0l-2 -2l0 -2l3 -5l3 2l5 1l-2 -2l-2 0l-3 -2l4 -3l5 0l4 -6l3 0l1 -1l2 0l1 1l3 -3l2 0l2 2l0 2l1 -1l2 0l2 -2l2 0l3 3l5 0l2 1l2 3l6 0l1 1l2 0l1 1l0 2l-1 1l2 2l-4 2l-5 8l1 3l-2 2l0 3l1 1l-3 3l0 2l3 0l3 5l3 0l3 3l0 2l3 2l0 4l4 3l-1 3l2 1l0 5l4 1l2 -5l2 -1l12 9l2 4l3 3l5 1l1 1l4 0l5 6l7 5l4 1l-6 -3l-2 -3l-6 -6l-3 -1l-4 -5l-4 -1l-3 -2l-2 0l-4 -3l-1 -2l-5 -4l0 -1l-3 -1l-2 -2l-3 -5l-2 0l-2 -3l-3 -1l-2 -2l-1 -4l-5 -9l1 -1l0 -4l-2 -2l1 -1l-1 -1l1 -1l0 -2l7 -4l0 -3l-3 -4l0 -4l-4 -3l-4 0l-1 -1l-5 1l-5 -3l0 -2l-5 -1l-3 2l-1 -1l-1 1l-2 -1l-5 0l-1 1l-4 0l-1 1l-6 1l1 1l-6 5l-2 -1l-2 1l-2 -1l-9 1l-2 -1l-2 -3zM371 545l1 2l0 10l-1 1l0 2l-2 1l1 2l-1 1l0 4l-2 2l0 3l-2 1l0 2l1 2l2 1l0 2l1 1l-2 3l0 5l-3 2l0 3l2 4l-3 4l-3 0l-1 1l1 2l3 -2l1 1l4 -2l2 -3l3 0l1 2l3 2l1 -1l2 1l3 -2l2 2l0 2l3 5l0 -2l1 -1l2 2l-2 3l1 4l-3 3l-2 0l-4 2l-3 0l-1 1l-3 -1l-4 2l-2 0l-1 -1l-1 1l-3 0l-8 -4l-2 -4l-3 0l3 4l2 7l4 3l1 -1l1 2l5 -1l5 4l2 0l1 1l2 0l1 -1l1 1l1 -1l1 1l2 -1l1 2l3 1l2 2l0 6l-1 1l3 4l0 3l0 -5l-2 -5l2 -4l3 -3l6 -2l0 -2l1 -1l-2 -4l0 -4l-4 -6l0 -5l-2 -1l0 -2l1 -1l3 2l2 -1l-2 -1l-2 -3l-1 0l-2 3l-2 -1l0 -2l-1 -1l1 -4l-2 -1l0 -2l-1 -1l-1 2l-2 -2l-3 0l-1 1l-2 0l-2 2l-3 -2l2 -1l1 -2l-2 -1l0 -3l-2 -2l4 -3l1 -2l-1 -1l0 -2l-4 -3l-1 1l-1 -1l0 -6l1 -1l-1 -5l3 -2l0 -4l6 -6l8 1l0 -2l-3 -1l-2 -3l-2 -1l0 -1l-2 0l-1 -1zM368 629l1 -2l2 1l-2 2zM396 622l2 2l1 6l-2 2l-6 0l-1 -1l0 -6zM1226 543l-3 0l-2 2l0 2l1 1l2 -1zM525 530l-1 1l-2 0l-4 4l-2 0l0 2l1 0l5 6l2 0l1 -2l0 -8l1 -1z"/>
<path fill="#F66666" stroke="#F66666" d="M681 722l-1 4l1 1l2 0l1 -1l-3 -2l1 -1l0 -1zM646 714l-3 4l0 6l2 4l3 3l-1 1l0 3l1 -4l4 -4l0 -1l-1 -1l0 -2l-3 -2l0 -4l-1 -1l0 -2zM632 700l1 7l1 -3l-1 -1l0 -3zM576 697l-2 0l0 5l2 -1zM619 695l-3 5l4 2l0 -2l-2 -2l2 -2l0 -1zM532 696l4 3l3 -4l-2 1l-4 -1zM546 694l-1 2l1 1l2 0l0 -2zM732 683l-1 4l1 1l5 0l0 -3l-3 -2zM725 682l0 1l3 0l1 1l-1 -2zM1062 680l0 2l2 0l0 -1zM990 670l1 1l0 2l2 0l1 1l-1 -4zM407 669l3 0zM986 667l0 1l1 0l0 -1zM815 665l0 3l-1 1l2 -1l0 -2zM402 665l-1 2l2 0zM780 664l-5 1l-1 1l2 1l0 3l3 -2l3 0zM991 660l-2 0l-2 2l2 4l3 -2l0 -3zM829 660l0 2l1 1l2 0l0 -2l-1 -1zM843 659l0 2zM686 657l1 1l0 -1zM1109 656l0 1l1 0l0 -1zM986 656l-4 0l-1 4l1 0l0 -2l1 -1l3 0zM729 654l0 1l1 0l0 -1zM995 652l-2 3l0 2l2 2l1 -1l1 1l0 2l1 1l0 7l2 0l1 -1l4 4l-2 4l1 1l3 -3l0 -5l-4 -2l1 -4l-3 -2l1 -3l-4 0l-2 -4l1 -1zM1129 650l-1 2l1 1l2 0l-1 -3zM720 642l-1 1l1 5l2 1l2 -5l-2 -2zM1060 637l-1 2l1 0zM838 637l0 1l1 0zM874 631l0 2l3 0l0 -2zM802 631l-1 2l2 1l-1 -1zM764 631l-2 1l-1 2l2 0zM1087 632l-4 -3l-1 1l0 2l-2 2l-4 0l-1 -1l-4 0l-1 -1l-5 9l-3 -1l0 1l3 3l3 0l5 -5l6 1l0 -1l2 -1l2 -3l2 1zM854 636l0 -2l-2 -1l0 -3l-1 -1l-2 2l-3 1l0 3l1 -1l5 0zM369 628l0 1l1 -1zM1061 626l1 3l7 0l0 -2l-1 1l-2 0l-2 -2zM840 627l-2 -1l-3 4zM821 622l-1 3l6 4l2 -3l-4 -3zM829 621l0 1l3 0l-1 -1zM1060 620l-1 3l2 -2zM746 620l-1 1l-4 0l0 4l1 2l-1 1l-2 0l0 2l-3 3l-2 0l-2 -3l-2 0l-1 1l1 1l0 2l-3 6l4 2l2 -1l3 4l0 -1l3 -2l0 -3l3 -3l2 1l0 2l1 1l-4 4l1 1l2 -1l2 -3l2 -1l4 0l1 -2l-1 -5l1 -1l-3 -2l-5 -6zM731 638l1 2l-2 1l-1 -1zM842 619l-3 -1l-3 5l1 1l2 -3l4 0zM914 618l-1 -1l-3 1l2 0l1 1zM772 616l-1 0l0 2zM1128 614l1 2l0 -2zM1060 614l-1 0l1 1l-1 2l1 -1zM1009 613l0 1l2 1l0 -1zM405 611l-1 0l-1 2l1 0zM1128 610l0 1l1 0l0 -1zM389 609l0 3l1 -1zM1115 608l-1 5l2 0l2 2l3 -4l-2 -3zM1110 608l0 1l1 0l0 -1zM1001 608l0 1l2 0l0 -1zM340 608l1 1l0 -1zM1196 606l0 2l3 -1l1 2l1 0l-2 -3zM1253 603l-3 2l0 2l4 4l0 2l5 -3l-2 0l-3 -3l1 -3zM805 603l0 1l1 0l0 -1zM344 603l-1 1l2 1l0 -2zM909 603l0 1l2 1l3 0l1 -1l0 -1l-3 -2zM907 600l-1 1l1 0zM874 599l0 1l1 -1zM810 596l2 3l0 -2zM848 595l-2 1l-5 -1l-1 2l-5 2l0 3l-3 2l1 3l1 1l3 0l0 -2l1 -1l0 -5l1 -1l2 1l5 0l0 -1l2 -1zM348 594l0 4l2 0l-2 -1zM828 593l2 1l0 -1zM813 591l-1 1l1 1zM345 585l0 2l1 0zM1250 615l-2 1l-6 -1l-1 -1l1 -1l-1 -1l-2 0l-2 -2l1 -4l5 -2l0 -1l2 -1l-2 -3l-2 0l-1 -1l3 -3l-2 0l-3 2l-2 -2l0 -3l-2 1l-2 -2l-3 0l-3 -4l-7 0l-1 -1l-2 1l-1 -1l-1 2l-2 1l-2 -2l1 -5l-2 2l-4 0l0 1l1 0l6 6l-4 4l-3 -2l1 -2l-1 -1l-2 0l-1 -1l0 -2l-2 -1l-2 0l-1 1l0 3l2 -1l2 2l-1 1l0 2l1 1l-1 3l2 1l-1 5l4 0l2 3l-1 2l1 0l4 4l-2 3l-2 0l-2 -2l0 1l-2 1l-2 -2l-2 1l-1 2l-5 0l-2 -5l1 -4l-2 0l-1 -2l-3 -2l-3 0l2 1l1 2l-3 2l-2 3l0 7l-2 1l-1 -1l0 -2l-7 -8l2 -3l0 -2l-4 0l-3 2l-1 2l-1 0l0 3l-5 6l1 2l0 4l-1 1l-2 0l-2 3l-1 -1l0 -3l-2 0l-1 -2l4 -2l1 -2l-1 -5l2 -2l-2 -3l-3 0l-1 1l-4 -1l-2 1l0 3l-4 2l1 5l-1 1l-2 0l-2 2l-4 1l-4 -4l-1 1l-3 0l-2 2l-3 0l1 2l-1 2l-1 -1l-2 0l-2 2l-2 -1l-4 4l-2 -2l-2 0l-2 1l-5 6l-2 -3l0 -2l-3 0l-1 1l1 5l-6 5l0 2l1 1l-1 1l-2 0l-3 2l-3 0l-2 2l-1 3l-2 1l0 1l-3 2l-2 3l-3 0l-2 3l-7 -1l-1 1l0 3l-4 5l-3 -1l-2 -3l-2 1l-6 -7l3 -3l0 -4l-4 1l-1 -2l-7 -1l-3 -4l-6 -3l0 -8l-1 -1l0 -3l4 -3l3 -5l0 -2l-1 0l-4 -5l-3 0l-4 4l-2 3l0 3l-2 1l1 4l-2 2l-4 -3l0 -2l-2 -2l-1 0l-1 2l-1 0l-2 -3l-2 1l-2 -2l0 -4l-2 1l-4 -1l-5 -6l-2 0l-2 -2l-1 0l-1 1l0 2l-3 2l-3 -2l0 2l-2 2l-2 0l-1 1l-6 -1l-2 1l-1 -1l2 -5l3 0l2 2l2 0l2 -3l6 -3l2 -5l3 1l0 -2l2 -2l-3 -3l-2 2l-3 -3l-1 -3l-3 0l-3 -2l-2 0l-1 -2l-2 2l-7 -2l-4 3l-2 0l-2 -2l-2 0l-1 1l0 2l3 0l3 5l-2 3l-1 6l-5 2l-2 -1l-3 2l-1 -1l0 -3l-2 -2l-1 0l1 2l-2 1l-2 -1l-2 -3l-1 0l-1 3l-4 3l1 2l-2 1l0 2l6 0l1 1l-1 3l-2 2l-2 0l-1 -1l-1 1l-2 0l0 2l-5 5l-3 0l-2 2l-2 -1l-1 2l-2 0l-2 -3l0 -2l3 -2l1 -2l-5 -6l1 -1l0 -3l4 -4l1 0l0 -2l-1 -1l-2 1l-4 0l-2 2l-3 -1l-3 6l1 2l0 8l-2 1l2 3l0 6l-2 2l-2 -2l-4 -1l-4 4l-2 0l-4 4l-2 0l0 2l-1 1l-5 -1l1 3l-4 3l-3 0l-2 -3l-3 1l-3 -3l3 -4l-2 1l-1 2l-7 1l-5 2l-2 -1l-2 1l-2 -3l-3 0l-6 -7l-6 4l-2 -2l0 -2l1 -1l2 0l-1 -2l0 -4l-1 -1l-2 3l-5 -2l1 4l-2 1l0 1l2 2l-4 5l-2 -1l-4 0l-1 -1l-5 0l-4 -7l0 -3l-3 0l-1 -1l1 -6l-2 -2l-5 -1l-1 2l-2 0l-1 1l1 2l4 0l5 6l0 2l-2 2l-2 0l-3 -4l-1 1l-2 0l-3 -6l-5 -1l-1 -1l1 -1l0 -2l-2 -1l-1 1l-2 0l0 3l-1 1l0 2l4 3l-1 3l3 -1l2 2l-1 3l3 -2l4 0l2 2l2 0l1 1l-2 2l-2 -1l-4 0l-2 2l0 3l-4 3l-2 0l-4 -4l-3 0l-6 4l-6 0l-1 -2l-2 0l-6 5l-1 -1l-3 3l-5 -3l0 3l5 2l0 1l-1 1l-2 0l0 1l3 0l1 1l-2 4l-4 4l-2 -2l0 -2l-3 0l-5 -4l-2 2l-4 0l-1 1l-2 -3l-3 0l0 4l-4 4l-1 -1l-9 0l-1 6l2 -1l1 2l-1 1l-2 0l-1 1l1 2l-6 4l-3 -1l-2 -2l1 -4l-2 -2l0 -3l-2 -1l-2 1l-1 3l-4 5l-4 0l-1 -1l-3 1l2 0l3 3l-2 1l0 3l-2 2l-3 -2l-5 4l0 2l-1 1l-3 -2l-2 3l-3 0l0 1l-3 2l0 3l-1 1l4 0l1 -2l-1 -2l1 -1l2 0l6 10l7 2l2 2l0 2l1 1l-1 2l0 8l2 3l3 1l3 3l0 6l-2 4l-2 -1l-5 0l-4 3l-3 4l-4 0l-1 -1l0 -2l-2 1l-2 -2l-1 1l0 3l2 2l10 -2l7 -6l2 1l5 0l2 -2l0 -2l1 -1l-1 -9l-3 -1l-3 -3l1 -1l0 -2l-2 -2l1 -2l-2 -2l1 -2l0 -5l-1 -1l-4 0l-2 -2l0 -9l3 -4l3 0l1 1l4 -2l3 1l1 -1l-1 -5l2 -3l3 0l7 5l4 -1l4 2l1 -1l0 -5l-2 -2l4 -3l0 -3l-1 -1l1 -2l4 2l1 7l1 1l-1 2l2 1l1 -2l3 -2l0 -2l4 -3l3 2l2 -1l2 1l1 -1l2 0l2 -3l2 1l3 -1l3 -2l3 -6l2 0l4 -4l3 0l2 -2l2 0l0 -2l1 -1l1 1l6 1l2 2l1 -1l0 -2l2 -2l3 1l3 -4l1 0l1 2l4 0l1 1l0 3l-2 2l3 0l1 1l0 1l-3 2l1 1l3 -2l5 1l6 -4l3 -4l4 -3l-2 -2l0 -2l1 -1l1 0l4 5l-1 7l6 -1l2 3l2 0l1 2l1 0l-1 -2l1 -1l2 0l0 -2l1 -1l-2 -3l4 -3l2 0l1 1l3 -1l3 2l1 3l3 1l2 2l2 0l2 -3l0 -4l3 -3l5 1l5 5l2 0l3 2l5 -4l2 0l1 1l3 -1l4 3l-3 3l-2 -1l0 1l3 2l1 -2l2 0l1 -1l0 -2l2 -2l2 0l1 -1l2 0l1 1l1 4l4 0l1 -1l5 1l2 -3l0 -2l2 -2l2 0l1 -2l1 1l3 0l1 -1l1 -8l3 -2l2 2l-1 1l-2 0l0 4l1 0l1 -4l3 -3l1 1l4 -1l0 -2l1 -1l1 0l2 3l3 0l1 -2l2 2l2 0l6 -6l5 0l1 -1l2 0l2 1l1 2l-6 3l0 1l-3 2l0 2l-3 2l0 2l-2 3l4 0l0 -1l3 -2l-1 -2l2 -3l2 1l-1 3l3 -3l3 0l2 4l0 3l12 0l3 2l-1 2l-3 0l0 3l1 0l2 -3l3 2l1 3l-1 1l-4 0l-1 -1l-2 3l1 1l2 -2l4 0l1 1l4 0l1 -2l5 0l1 1l0 -3l2 -1l-1 -4l2 -3l4 0l1 1l4 0l2 -1l0 -3l1 -1l2 1l3 -2l2 0l-1 -1l0 -4l-1 -1l2 -2l4 -1l2 3l1 5l-2 1l0 2l-2 1l2 1l3 -3l2 0l3 3l-1 1l-2 0l-3 4l0 3l3 2l0 2l-2 1l-1 -2l-1 0l0 1l2 1l0 4l4 5l0 6l3 0l1 1l-1 2l-3 -1l-1 2l1 2l4 -4l3 0l1 -1l1 1l5 -4l3 1l1 -2l-3 -2l-3 1l-2 3l-2 -2l0 -4l-2 -1l3 -4l1 0l2 3l2 -1l2 1l5 0l1 1l2 0l1 -1l2 2l3 0l1 2l2 0l1 2l3 2l2 -4l5 0l3 -4l0 -2l2 -1l1 1l-1 1l4 4l5 2l0 1l-2 1l0 1l3 2l-2 2l1 1l3 -3l4 0l3 2l0 -2l1 -1l0 -2l-1 -1l1 -1l0 -2l-1 -1l-5 3l-3 -3l1 -3l1 -1l2 0l2 -2l-1 -2l-2 1l-2 -2l6 -7l1 1l3 0l1 2l5 4l2 0l3 -2l1 1l0 1l-2 1l1 3l2 -4l2 0l4 -3l-1 0l-2 -3l2 -2l2 0l1 -1l0 -2l3 -2l2 0l1 1l0 4l4 0l1 1l0 2l7 0l0 -2l-2 -1l-1 -4l-1 -1l-2 0l-3 -4l2 -2l2 1l4 -2l1 1l0 2l1 0l0 -4l1 -1l-2 -4l1 -2l2 0l2 2l6 0l1 2l3 2l0 3l1 0l4 -5l4 0l1 -1l5 1l2 -1l1 1l-2 2l6 -2l9 -6l2 0l1 1l2 -1l1 1l6 -1l4 4l3 -1l4 -3l3 2l3 4l2 0l1 -1l4 1l2 -2l4 1l2 -3l4 0l2 -6l7 -6l5 0l1 -1l5 0l1 -1l7 0l2 2l5 -3zM672 680l1 -1l3 3l-3 2l-1 -1zM1066 663l3 -4l4 3l0 2l-3 2l-2 0zM1037 653l1 1l0 3l-2 4l-3 -2l0 -2l2 -3zM969 650l1 1l0 2l-2 2l-2 -3zM743 650l2 2l0 2l-2 2l-2 0l-1 2l-3 0l-1 -1l0 -3l1 -1l3 1l1 -3zM745 650l2 -1l1 2l-2 1zM1080 649l1 -1l3 2l-1 1l-2 0zM849 650l1 -2l2 1l-2 2zM785 648l1 -1l2 3l-1 1zM760 648l2 -1l1 2l-1 1zM1023 646l1 1l0 7l-1 1l-3 0l0 2l-1 1l-2 0l-1 -2l-3 -2l0 -3l1 -1l3 2l0 -4l1 -1l3 1l0 -1zM1087 644l2 -1l2 3l-2 1zM806 642l1 0l2 3l-1 3l2 -1l2 2l-1 3l1 0l1 2l-2 2l-2 -1l0 -2l-2 -1l-3 -4l0 -2zM1095 639l2 1l-1 4l3 2l-2 2l-2 0l-3 -2l0 -2l2 -1l0 -3zM988 638l4 2l0 3l-2 2l-2 -1l-2 1l-2 -2l3 -2l0 -2zM877 641l1 -1l3 0l2 -2l2 0l5 5l0 1l3 0l1 2l-1 1l-2 0l0 2l-2 1l-3 -4l-2 0l-1 -1l-5 0l-1 -1zM1096 636l2 -1l1 2l-2 1zM975 634l2 -1l1 1l0 2l-1 1zM914 631l2 2l-3 2l-1 -2zM1014 630l2 -1l2 3l-2 1zM966 630l4 4l1 5l-3 3l-1 -1l1 2l-2 2l-9 1l-2 1l-2 -4l0 -4l3 -2l-2 -2l0 -4l6 -3zM975 627l1 1l0 2l-3 2l-1 -2zM986 627l2 1l2 -2l2 2l1 5l-2 2l-1 0l-2 -3l-2 0l-1 -1l0 -3zM918 626l1 1l0 2l-1 1l-2 -2zM1194 625l1 -2l2 1l-2 2zM973 623l1 1l0 2l-2 1l-1 -1zM1176 623l2 -1l1 2l-1 1zM1135 623l1 -1l2 0l1 2l1 0l4 4l3 -2l2 -3l3 2l-6 6l-2 0l-1 -1l-4 1l-3 -3l2 -2l-2 -1zM989 623l1 -1l2 2l-2 1zM1182 622l2 -2l2 2l-1 1l-2 0zM1166 620l3 2l-2 2l-3 -2zM943 621l1 -1l2 2l-2 1zM979 619l4 4l-2 1l-2 3l-2 0l-2 -3l0 -2zM1169 619l1 -1l2 0l2 2l0 2l-2 1zM1212 615l1 1l-2 4l-2 1l-2 -2l3 -2l1 -2zM1190 615l1 0l3 4l0 2l-1 1l-6 -3zM932 611l2 0l1 1l0 4l1 1l-1 1l-1 0l-3 -4l0 -2zM1228 610l2 1l0 2l-1 1l-3 -2zM1225 605l2 3l-4 4l-2 0l-1 -1l0 -3zM960 596l2 3l2 -2l2 2l1 4l-2 2l-4 1l-3 -2l1 -1l-1 -5zM1218 597l5 -2l3 5l3 2l-2 2l-3 -3l-4 0zM960 595l2 -1l1 2l-2 1zM1213 589l1 -1l2 0l2 3l-1 1l-2 0zM1190 582l-2 4l4 3l1 -1l0 -3l-1 -2zM830 580l0 2l1 1l0 -3zM966 579l-3 3l1 1zM335 579l-2 3l-2 0l-2 2l1 1l0 3l8 3l-2 1l-2 3l0 3l2 1l2 -1l1 1l2 0l2 -3l3 -2l-2 -4l-3 0l-5 -3l1 -5zM1209 577l-1 1l0 1l1 -1zM1198 577l0 3l3 1l-1 -3zM940 576l-1 0l-1 2l-3 0l3 4l-3 6l2 3l1 0l0 -2l1 -1l3 0l3 -4l0 -3l-2 0l-1 -1l0 -2zM976 573l-2 0l-1 2l1 3l1 0zM346 570l2 0zM327 568l0 2l1 1l0 -2zM1234 570l2 5l4 2l0 4l1 1l2 -2l4 3l-3 -5l1 -2l3 -2l0 -1l-4 -4l0 -2l-2 0l-1 1l-3 -1l-2 5zM1240 574l2 -2l3 0l1 1l-2 3l-2 0zM341 567l1 1l-1 1l1 1l2 0l-2 -3zM1233 563l-1 1l0 2l2 -1zM373 559l0 4l-3 2l0 2l1 1l0 2l-1 1l0 6l1 -1l2 1l3 3l0 2l1 1l0 1l-5 4l2 2l0 3l2 1l0 1l-3 2l2 1l2 -2l2 0l1 -1l3 0l2 2l1 -2l2 2l0 2l2 1l0 2l-1 1l1 4l4 -3l2 3l3 2l-3 2l-3 -2l0 2l2 1l0 5l4 6l0 4l2 4l-1 1l0 2l-3 2l-4 1l-4 6l2 5l0 5l1 1l-1 1l0 4l1 0l-1 -1l0 -2l1 -1l0 -8l1 -1l0 -2l1 -2l6 -5l0 -2l1 -1l1 -8l-4 -8l0 -2l1 -1l-1 -2l3 -2l2 -3l-1 -1l0 -3l-2 0l-5 -5l-1 0l-2 -2l0 -2l-3 -3l-2 -1l-4 0l-3 2l-2 -2l1 -2l-1 -6l-1 -1l0 -2l-5 -7l0 -5l3 -4l0 -4l4 -4l2 1l2 0l1 -1l5 1l2 2l3 1l5 6l0 3l2 1l2 3l1 0l5 5l0 1l3 1l2 4l1 -1l4 2l-2 5l0 3l2 0l2 -1l-1 -2l1 -2l-1 -4l1 -1l2 0l2 -4l-1 -16l2 -2l2 0l1 -2l7 0l2 1l3 -2l2 2l2 0l1 -2l5 -1l1 1l3 0l4 5l3 -1l1 1l2 0l2 2l-1 1l0 3l-2 2l-2 -1l-2 1l-1 7l-2 2l-1 3l-4 2l-2 3l0 1l3 2l0 2l1 1l0 2l-3 2l1 1l3 0l3 2l3 0l4 -2l2 3l0 2l3 5l2 0l3 3l0 3l2 2l1 7l4 4l7 1l2 -4l3 -2l4 2l3 3l0 2l1 1l2 0l3 3l2 -1l4 1l6 7l4 1l4 4l2 0l1 2l3 2l0 3l3 5l0 2l-2 2l-7 0l-6 10l0 3l4 5l0 2l-2 2l0 2l-2 2l-2 0l-1 1l-3 0l-1 1l-2 -1l-2 2l-3 -1l-9 7l2 0l4 2l0 -2l4 -4l2 1l4 0l4 -3l2 0l1 1l1 -2l3 1l2 2l0 -3l2 -1l1 -2l0 -5l1 -1l0 -1l-1 1l-5 -4l0 -6l2 -3l0 -4l1 -1l7 0l2 -2l7 -1l5 4l-1 1l4 0l1 -1l0 -1l-2 0l-2 -3l-4 -1l-1 -2l-5 -3l-2 -2l0 -2l-6 -5l-4 -1l-7 -5l-5 -5l0 -1l-4 0l-1 -1l-5 -1l-4 -4l-1 -3l-1 0l-6 -6l-6 -3l-1 4l-2 2l-5 -2l0 -5l-2 -1l1 -3l-4 -3l0 -4l-3 -2l0 -2l-2 -2l-3 0l-2 -2l-1 -3l-3 0l-1 -1l0 -2l3 -3l-1 -1l0 -3l2 -2l-1 -3l5 -8l4 -2l-2 -2l1 -1l0 -2l-2 0l-1 -1l-6 0l-2 -3l-2 -1l-5 0l-3 -3l-2 0l-2 2l-2 0l-1 1l-2 -4l-2 0l-3 3l-1 -1l-6 1l-4 6l-5 0l-3 2l4 1l3 3l-1 2l2 1l0 8l-2 2l-2 -1l-1 1l-2 0l-4 -4l-2 0l-1 -1l-2 -5l-2 0l-1 -1l1 -2l4 0l0 -1l-7 -1l-4 -4l0 -1l-3 -2l0 -2l-2 -4l-3 -1l-1 2l-3 0l-1 1l-8 -1zM459 581l1 2l-2 1l-1 -1z"/>
<path fill="#F59999" stroke="#F59999" d="M741 718l-1 4l2 -1l0 -2zM730 717l1 4l2 1l-2 3l2 2l4 0l1 -3l-3 0l-1 -2l-2 -1l0 -2l1 -1l-1 -1zM722 715l0 1l1 0l0 -1zM722 711l-1 1l1 0zM743 711l0 1l3 0l-1 -2zM709 707l1 1l-1 2l3 3l4 0l2 -2l0 -1l-1 1l-2 0l-1 -2l-3 0l-1 -2zM770 706l0 2l1 1l1 -2zM999 701l-2 -1l-1 1l0 2l2 0zM705 702l6 3l2 0l1 -1l2 3l-4 -7zM981 695l-2 1l0 1l2 -1zM820 693l0 1l2 0l0 -1zM745 689l-3 2l0 1l2 1l0 2l1 1l2 0l1 1l1 -3l-1 -1l-2 0l-2 -2l2 -1l0 -1zM1070 688l-1 1l1 0zM1046 688l-4 3l1 1l2 0l1 -1zM961 691l0 -2l-2 -2l1 -1l0 -3l-1 0l1 3l-2 2l-3 -3l-2 2l-2 -1l-1 2l5 -1l2 2l0 2l3 2zM673 680l0 3l1 0l1 -1zM841 678l-1 1l0 2l2 1l1 -2l-1 -2zM1104 675l0 2l1 0l1 -1zM922 668l-2 0l-2 3l0 2l1 1l2 0l1 -2zM403 665l2 3l4 0l-3 0zM969 651l-2 1l1 2l1 -1zM1081 649l0 1l2 0zM850 649l0 1l1 -1zM786 648l0 1l1 1l0 -1zM761 648l1 1l0 -1zM991 640l-3 -1l0 2l-3 2l1 1l2 -1l2 1l1 -1zM915 633l-1 -1l-1 2zM1215 632l-4 0l-2 3l-4 -1l-2 2l-2 -1l-5 1l-1 -2l-5 -4l-6 4l-1 0l-4 -4l-2 0l-1 1l-3 0l-1 -1l-2 1l-1 -1l-2 0l-2 2l-2 0l-5 4l-5 2l-2 -1l2 -2l-2 1l-3 0l-1 -1l-2 1l-4 0l0 1l-4 4l-2 -1l0 -3l-1 0l-2 -3l-6 0l-2 -2l-2 0l2 5l-1 1l0 4l-2 1l-1 -1l0 -2l-4 2l-2 -1l-1 1l2 3l2 0l2 2l1 4l2 1l0 2l-1 1l-7 0l-1 -1l0 -2l-4 0l-1 -1l0 -4l-2 0l-2 1l0 2l-2 2l-2 0l-1 1l0 1l3 2l-3 3l-4 1l0 2l-2 2l-2 -3l2 -3l-3 2l-2 0l-4 -3l-2 -3l-3 0l-1 -1l0 1l-2 1l-3 4l1 1l2 -1l2 3l-3 3l-2 0l-1 -1l0 -2l-3 -2l-2 4l1 1l4 -1l1 1l-1 3l2 2l5 -3l2 2l0 2l-1 1l1 1l0 2l-2 4l-3 -2l-4 0l-3 3l-2 -2l2 -2l-3 -2l2 -3l-4 -1l-5 -5l1 -1l-1 0l0 2l-4 5l-5 0l-2 4l-2 -1l-2 -3l-2 0l-1 -2l-3 0l-2 -2l-1 1l-2 0l-1 -1l-5 0l-1 -1l-3 1l-2 -3l-1 0l-2 3l2 1l0 4l1 1l2 -3l3 -1l4 3l-2 3l-3 -1l-5 4l-1 -1l-1 1l-3 0l-1 -2l-3 0l-1 -1l0 -6l-4 -5l0 -4l2 -1l0 -2l-3 -2l1 -5l3 -3l2 0l-2 -2l-2 0l-3 3l-3 -2l2 -1l0 -2l2 -1l-2 -7l-2 0l-3 2l1 1l0 4l1 1l-6 3l-2 -1l0 3l-3 2l-9 -1l-1 2l1 4l-2 1l0 3l-1 1l-1 -1l-5 0l-1 2l-9 -1l-2 2l-2 -2l3 -4l1 1l4 0l-1 -3l-2 -1l-2 3l-2 -1l0 -3l1 -1l3 0l0 -1l-2 -1l-12 0l-1 -1l-1 -6l-3 0l-3 3l-1 -1l1 -3l-1 0l-1 2l1 2l-3 2l-1 2l-4 0l-1 -1l2 -3l0 -2l3 -2l0 -2l2 -1l2 -3l5 -2l0 -1l-2 -1l-2 0l-1 1l-5 0l-6 6l-2 0l-2 -2l-1 2l-3 0l-2 -3l-1 0l0 2l-3 2l-2 0l-1 -1l-2 2l-2 -2l-2 1l-1 8l-2 2l-3 0l-1 -1l-1 2l-2 0l-2 5l-2 2l-2 -1l-8 1l-2 -5l-2 0l-1 1l-2 0l-1 1l0 2l-2 2l-2 0l-1 2l-4 -3l1 -2l2 1l2 -2l-3 -2l-2 1l-4 -1l-5 4l-3 -2l-2 0l-5 -5l-5 -1l-2 2l0 4l-3 4l-2 0l-2 -2l-3 -1l-2 -4l-2 -1l-2 1l-4 -1l-3 2l2 3l-1 1l0 2l-1 1l-2 0l1 2l-2 1l-1 -2l-2 0l-2 -3l-2 0l-1 1l-3 0l-1 -1l1 -7l-1 -2l-3 -2l0 2l2 2l-3 2l-5 6l-6 4l-5 -1l-3 2l-2 -2l3 -2l0 -1l-3 0l-1 -1l2 -2l0 -3l-4 0l-1 -2l-1 0l-3 4l-3 -1l-1 1l0 2l-2 2l-2 -2l-6 -1l-1 -1l0 2l-1 1l-2 0l-2 2l-3 0l-4 4l-2 0l-2 5l-6 4l-3 -1l-2 3l-2 0l-1 1l-1 -1l-3 1l-3 -2l-3 2l0 2l-3 2l-2 3l-3 -2l1 -2l-1 -1l-1 -7l-3 -1l1 5l-4 3l2 2l0 5l-2 2l-4 -2l-4 1l-5 -4l-5 -1l-1 2l1 5l-2 2l-2 -1l-4 2l-5 -1l-2 3l0 9l1 1l4 0l2 2l0 5l-1 2l2 2l-1 2l2 2l0 2l-1 1l6 4l1 9l-1 1l0 2l-3 3l-5 0l-2 -1l-7 6l-6 1l-1 1l-3 0l-1 -1l0 1l1 1l9 -1l2 -1l3 -4l2 1l2 -2l2 0l1 1l2 -1l2 2l4 -2l1 -2l2 0l0 -3l6 -3l6 -7l0 -2l-3 -2l-2 1l-4 -1l-2 -2l1 -1l-3 -4l-4 1l-4 -6l1 -3l3 -4l8 -7l0 -5l1 -1l4 2l3 0l1 -2l2 0l4 8l3 2l1 -1l-1 -2l0 -5l1 -1l0 -2l2 -2l2 4l3 3l4 0l1 1l-1 1l1 2l4 4l0 1l2 0l3 4l4 -1l0 -3l3 -2l1 1l-1 6l4 3l0 -2l4 -6l-3 -6l2 -3l-1 -1l1 -2l0 -6l-1 -1l1 -1l2 0l2 -2l0 -2l1 -1l1 1l2 -1l2 2l0 1l-3 2l0 2l2 0l2 -2l2 3l7 1l1 -1l-2 -3l3 -3l3 -1l1 -2l4 1l1 1l0 3l1 -1l3 0l-1 -1l2 -2l4 0l0 -3l2 -2l3 4l1 0l0 -2l-2 -1l0 -4l2 -2l2 0l1 -1l2 0l1 1l0 3l4 0l5 2l-2 2l-1 -1l-2 3l-3 0l-1 2l-4 1l-2 2l-2 0l0 4l-3 2l0 2l3 -2l1 1l5 0l1 1l0 2l2 -2l2 0l0 -2l4 -3l2 0l3 4l4 0l2 1l4 -2l-1 -1l0 -6l2 -2l2 2l-1 3l1 0l4 4l0 1l3 0l1 1l-1 2l1 0l1 -2l-1 0l-1 -2l-3 -2l1 -1l4 1l-1 -2l1 -3l-2 -1l2 -3l0 -2l2 -2l4 -1l3 2l5 0l3 3l2 -1l2 1l0 -5l-2 0l-2 3l-1 -2l-3 -2l0 -1l2 -3l2 3l4 -1l0 -3l3 -3l-1 -4l2 -2l3 2l0 2l1 1l-1 1l0 3l3 -2l5 0l2 2l0 4l1 1l-1 1l2 0l1 -1l2 1l2 0l1 -1l1 1l2 0l0 -1l2 -2l2 0l2 -3l2 1l1 2l-1 1l-2 0l0 2l1 -1l2 1l-1 5l-4 4l-3 1l1 2l2 0l4 -6l2 0l1 -1l5 1l1 -3l-2 0l-4 -4l5 -7l2 1l2 3l-3 2l1 3l2 2l3 0l2 -5l2 1l0 2l3 1l0 -3l1 -1l2 0l3 -3l0 -2l1 -1l2 0l0 -1l-2 -1l0 -3l3 -3l3 0l2 2l4 -2l2 0l2 2l0 2l1 1l2 -2l2 0l1 -2l2 -1l1 2l3 0l2 2l2 -2l2 1l0 4l1 1l-1 2l1 1l0 2l-1 1l-4 -2l-1 1l3 2l0 3l1 1l2 0l2 4l2 0l1 1l3 0l1 -1l2 1l4 -2l1 2l2 0l2 -2l0 -2l-2 -1l1 -2l1 1l2 0l2 -2l3 0l2 2l-3 2l-1 2l1 1l0 3l2 0l6 -7l6 0l1 2l2 0l1 1l0 2l-1 1l-2 0l-2 -2l-3 5l1 1l0 2l-1 1l2 2l0 2l3 2l-1 -3l-3 -2l0 -2l1 -1l5 0l3 -4l3 0l2 2l0 3l1 1l-1 1l-4 -1l-2 3l4 3l3 -4l0 -2l2 -1l2 3l4 0l1 1l0 3l-2 2l-2 0l-1 1l5 1l2 -5l8 -9l5 -1l3 2l0 -4l-1 -1l1 -1l5 0l2 2l-1 5l7 -2l1 1l0 2l2 -1l-1 -1l0 -3l1 -1l3 0l7 8l8 3l0 -2l1 -1l6 -1l1 -3l2 -1l1 -2l2 0l3 4l2 -1l1 2l2 0l0 -4l1 -1l4 0l1 -1l1 1l2 0l3 -2l1 -4l-2 -1l0 -2l4 -3l-1 -2l1 -4l4 -2l3 1l4 4l0 2l1 1l-1 3l1 1l0 -1l2 -1l2 -3l2 0l1 -1l0 -2l1 -1l2 0l-1 -4l2 -2l7 1l1 -1l4 0l2 -1l1 1l-1 2l1 2l1 0l0 -2l1 -1l2 0l1 2l3 2l-1 2l-4 0l1 3l2 -1l6 0l1 -1l2 0l1 1l4 -3l2 0l4 3l-1 -4l-4 -1l-2 -2l-2 0l-4 -3l2 -3l0 -2l-2 -1l0 -2l2 -2l3 0l1 1l0 2l1 0l1 -1l0 -2l2 -2l-1 -2l1 -1l2 0l2 2l-1 2l3 3l0 4l6 3l3 0l1 1l0 2l1 -1l3 2l3 0l4 -4l2 -5l-1 -1l-3 4l-3 0l-3 -4l3 -4l3 0l5 2l2 -3l-1 -1l2 -2l2 1l2 -3l5 -3l13 0l2 -2zM681 721l2 1l-1 2l3 2l-2 2l-2 0l-2 -2zM718 693l2 -1l1 2l-1 1zM715 689l1 -1l3 0l1 2l-1 1l-3 0zM792 686l1 2l-2 1l-1 -1zM703 683l1 1l0 5l-2 1l-1 -2zM731 683l1 -1l2 0l4 3l0 3l-1 1l-5 0l-2 -2zM724 682l1 -1l3 0l2 3l-1 1l-1 -1l-3 0zM808 682l2 -2l2 1l-1 2l-2 0zM719 680l1 1l0 2l-3 4l-2 0l-3 -5l2 -1l2 2l0 -1zM1061 680l2 -1l2 3l-1 1l-2 0l-1 -1zM1056 676l1 1l0 5l-3 3l-2 -2l0 -2zM1009 680l2 -4l4 2l-4 4zM1036 673l1 1l0 2l-1 1l-1 -1l0 -2zM960 674l2 -1l1 2l-2 1zM767 675l2 -4l3 0l1 1l-2 4l-3 0zM803 674l2 -4l3 0l2 2l-6 3zM989 670l1 -1l3 0l2 3l0 2l-1 1l-1 -1l-2 0zM946 672l5 -4l1 1l5 -1l2 2l1 4l-3 2l-1 2l-1 0l-2 -2l-4 -1zM828 668l1 -1l2 0l1 1l0 2l-2 1zM1091 666l1 1l0 2l-2 1l-1 -2zM985 667l2 -1l1 2l-2 1zM966 666l1 1l0 2l-1 2l-2 1l-2 -3zM815 664l2 2l0 2l-3 2l-1 -1zM780 663l3 5l-1 1l-3 0l-3 2l-1 -1l0 -3l-2 -1l2 -2zM1110 662l1 1l-3 2l-1 -1zM748 662l1 1l0 2l3 2l-2 2l-2 0l-3 -3zM881 664l0 -1l4 -3l2 0l1 2l2 1l-2 2l-1 0l-1 -2l-3 2zM989 659l2 0l2 2l0 3l-3 3l-1 0l-3 -4zM828 660l1 -1l2 0l2 2l0 2l-1 1l-2 0l-2 -2zM843 658l1 1l0 2l-1 1l-1 -1l0 -2zM1004 658l2 -1l1 2l-2 1zM1176 656l1 -1l2 0l1 1l-2 2zM1108 656l2 -1l1 2l-2 1zM980 660l0 -2l2 -3l4 0l1 1l-1 2l-3 0l0 2l-1 1zM910 652l1 1l-4 3l0 1l3 2l-1 1l-4 0l-2 -3l4 -4zM995 651l3 2l-1 1l1 1l0 2l4 0l1 1l-1 3l3 2l-1 4l2 0l2 2l0 5l-4 4l-2 -2l2 -4l-3 -3l-1 1l-2 0l-1 -1l0 -7l-1 -1l0 -2l-1 1l-3 -3l0 -2zM920 650l2 3l-1 2l-3 -2zM1129 649l1 0l2 3l-1 2l-2 0l-2 -2zM1142 646l1 -1l2 0l2 2l-3 2zM921 643l-3 2l1 1l0 2l-1 1l-2 -1l-5 0l-1 -1l0 -2l1 -1l3 0l2 -2l4 0zM1167 643l4 -3l5 3l0 2l2 1l-1 1l-2 0l-3 -2l-4 1l-1 -1zM906 639l2 0l1 1l0 2l-2 3l-2 -1l0 -4zM1015 630l0 1l2 1l-1 -2zM966 631l-5 -2l-4 2l-2 0l0 4l2 2l-3 2l1 7l2 -1l9 -1l1 -1l-1 -2l1 -1l1 1l2 -2l0 -3zM1177 623l1 1l0 -1zM1166 621l-1 1l2 1l1 -1zM1170 619l2 3l1 0l0 -2l-1 -1zM1228 611l-1 1l2 1l0 -2zM459 582l-1 1l1 0zM440 576l-1 2l2 1l0 2l3 0l1 -1l0 -2zM376 560l0 4l-3 4l0 5l5 7l1 6l1 1l-1 4l1 1l3 -2l4 0l2 1l4 4l0 2l1 1l1 0l5 5l2 0l1 1l0 3l1 1l-1 2l-4 3l1 2l-1 1l0 2l4 8l-1 8l-1 1l0 2l-5 5l-1 0l-1 2l-2 14l1 -1l1 -8l2 -2l0 -2l3 -2l0 -2l3 -3l0 -7l4 -6l-2 -8l5 -4l0 -2l2 -1l-1 -1l3 -4l5 1l3 -2l-2 -7l6 -3l-1 -5l2 -2l-1 -2l1 -2l0 -11l-1 -1l1 -5l2 -2l2 0l1 -2l2 0l2 2l2 -1l4 1l3 -2l1 1l4 0l3 -2l3 3l0 4l-2 1l0 1l2 1l1 2l-2 2l0 3l-5 5l0 1l-1 1l-2 -1l-5 5l0 1l3 2l3 6l0 2l6 5l1 -1l2 1l0 3l7 1l4 3l-1 6l2 -2l1 1l1 6l-4 4l-4 0l0 2l1 -1l1 1l3 0l5 -7l4 3l1 4l7 4l2 -1l4 0l2 -3l6 -1l2 3l0 2l2 2l4 0l1 1l4 0l2 1l2 3l11 7l2 3l3 2l2 4l0 2l-4 3l-2 -1l-5 4l0 2l-1 1l0 2l-2 2l0 4l-1 1l-1 -1l-4 0l-1 -1l-2 1l1 1l-1 1l0 2l3 2l-2 3l-5 3l-3 -1l-1 3l-4 3l-4 0l0 2l-1 1l5 1l9 -7l3 1l2 -2l2 1l8 -3l0 -2l2 -2l0 -2l-4 -5l0 -3l3 -4l0 -2l4 -5l7 0l1 -1l0 -2l-3 -5l0 -3l-2 -1l-1 -2l-2 0l-4 -4l-4 -1l-6 -7l-2 0l-1 -1l-3 1l-3 -3l-2 0l-2 -2l0 -2l-6 -4l-2 1l-3 5l-7 -1l-5 -5l-1 -7l-2 -2l0 -3l-6 -4l-3 -8l-4 2l-3 0l-3 -2l-3 0l-2 -2l3 -2l0 -2l-1 -1l0 -2l-2 -1l-1 -2l3 -4l3 -1l1 -3l2 -2l1 -7l2 -2l2 1l2 -1l0 -3l1 -1l-1 -1l-2 0l-1 -1l-3 1l-4 -5l-3 0l-1 -1l-5 1l-1 2l-2 0l-2 -2l-3 2l-2 -1l-7 0l-1 2l-2 0l-1 1l1 16l-1 1l0 2l-2 2l-2 0l1 2l0 2l-1 1l1 3l-3 2l-2 0l-1 -1l0 -3l2 -5l-2 0l-1 -1l-1 1l-2 -4l-3 -1l-1 -2l-10 -9l0 -3l-4 -5l-3 -1l-2 -2l-3 0l-1 -1l-2 1l-4 -1zM405 610l1 1l-1 2l-2 1l-1 -2zM407 605l2 -1l1 2l-2 1zM381 559l7 -1l1 1l-1 1l2 4l2 0l1 1l0 2l8 8l-1 2l-2 0l0 2l3 2l0 -3l1 -1l3 1l6 5l1 4l1 0l1 2l-10 5l-2 -1l-3 2l-1 -2l0 2l2 2l-1 2l-5 -4l0 -2l2 -2l1 -6l-4 3l-2 -1l1 1l-1 1l-4 0l-2 -1l-3 -4l2 -1l0 -1l-1 1l-5 -5l0 -2l-2 -2l0 -7l2 -2l0 -3z"/>
<path fill="#F5CCCC" stroke="#F5CCCC" d="M1157 775l1 7l-3 5l0 2l2 2l2 5l-1 1l0 4l-1 2l2 4l4 0l1 -1l2 0l-1 -1l0 -3l-3 -8l-2 -14l-2 -5zM656 747l-1 1l-3 0l4 0l1 -1l2 0zM683 739l-2 0l-1 2l-4 2l-2 -2l-1 1l-4 -1l-2 2l-2 -1l-2 2l2 -1l2 0l1 1l2 -1l7 1l2 -1l3 -4zM696 727l-1 -1l-6 7l-3 2l-2 0l0 2l5 -2l4 -4l1 0zM719 693l1 1l0 -1zM716 689l0 1l3 0l0 -1zM703 684l-1 5l1 0zM811 681l-2 1l2 0zM719 681l-1 0l-2 3l-3 -2l2 4l2 0l2 -3zM1056 677l-3 4l0 2l1 1l2 -2zM1036 674l0 2zM961 674l0 1l1 0l0 -1zM445 673l3 0zM769 672l-1 3l3 0l1 -3zM804 674l5 -2l-1 -1l-3 0zM947 672l2 2l4 1l2 2l4 -3l-2 -5l-2 0l-1 1l-2 0l-1 -1zM829 668l1 2l1 0l0 -2zM423 668l2 0zM1091 667l-1 2l1 0zM966 667l-3 2l1 2l1 0zM406 667l3 0l2 2l6 0l1 -1l-2 0l-1 -1zM1109 663l-1 1l1 0l1 -1zM748 663l-2 3l2 2l2 0l1 -1l-3 -2zM882 664l3 -2l1 0l1 2l2 -1l-1 0l-1 -2l-2 0l-2 1zM1177 656l1 1l1 -1zM910 653l-3 1l-3 3l1 2l4 0l-2 -1l-1 -2zM920 651l-1 2l2 1zM1143 646l1 2l2 -1l-1 -1zM1191 644l-1 -1l-1 1l1 1l-3 4l-5 -2l-3 0l-2 2l1 3l1 1l3 0l3 -4l2 2zM1178 661l-4 -2l-1 1l-1 -1l0 -2l-3 0l-7 -4l0 -4l-3 -3l1 -2l-1 -1l-2 0l1 2l-4 6l-2 -1l0 -2l-3 0l-1 1l0 2l2 1l0 2l-2 3l3 2l2 0l2 2l4 1l2 4l-1 2l-2 -2l-4 -1l-4 3l-1 -1l-2 0l-1 1l-6 0l-2 1l-2 -4l1 -1l4 0l-3 -4l-2 0l0 2l-2 1l-2 -2l1 -3l-2 1l-4 0l-1 1l-7 -1l-1 1l1 4l-1 1l-2 0l0 2l-2 2l-2 0l0 1l-3 2l-1 2l-2 -2l1 -2l-1 -4l-3 -3l-3 -1l-1 1l-2 0l-1 2l1 4l-4 3l0 2l2 1l-1 4l-4 3l-2 0l-1 -1l-1 1l-4 0l0 4l-1 1l-2 0l-1 -2l-2 1l-3 -4l-2 0l-4 6l-6 1l0 2l-1 1l-8 -3l-7 -8l-3 0l0 3l1 1l-3 2l-1 -1l0 -2l-7 2l-1 -1l1 -5l-1 -1l-5 0l1 1l0 4l-1 1l-3 -2l-5 1l-7 8l-1 4l-3 2l-5 -2l2 -2l2 0l1 -1l0 -3l-4 0l-1 -2l-2 -1l0 2l-4 5l-1 0l-4 -4l3 -4l4 1l-2 -5l-3 0l-3 4l-5 0l0 2l-1 1l-2 -2l1 -1l0 -2l-1 -1l2 -4l2 -2l2 2l2 0l0 -2l-2 0l-1 -2l-6 0l-6 7l-2 0l-1 -1l0 -3l-1 -1l0 -1l4 -3l-1 -1l-3 0l-2 2l-2 0l-1 -1l0 1l2 1l0 2l-3 3l-2 0l-1 -2l-4 2l-2 -1l-1 1l-6 -1l-2 -2l0 -2l-2 0l-2 -2l0 -3l-3 -2l2 -2l4 2l0 -2l-1 -1l1 -2l-1 -1l0 -4l-3 2l-2 -2l-3 0l-1 -2l-1 0l-2 3l-2 0l-2 2l-2 -2l0 -2l-1 -1l-2 0l-3 2l-3 -2l-3 0l-2 2l0 3l1 0l1 2l-1 1l-2 0l0 2l-4 4l-2 0l0 3l-1 1l-3 -1l-1 -1l0 -2l-1 0l0 2l-2 3l-3 0l-3 -3l-1 -3l3 -2l-1 -2l-2 -1l-4 6l3 3l2 0l1 1l-1 3l-1 1l-3 0l-1 -1l-4 1l-2 4l-2 2l-2 0l-2 -3l4 -2l3 -3l1 -5l-2 1l-1 -1l0 -2l1 -1l2 0l0 -1l-2 -1l0 1l-2 2l-2 0l-2 3l-2 0l-1 -1l-1 1l-2 0l-1 -1l-4 1l-1 -1l1 -1l-1 -1l0 -4l-1 -1l-5 0l-3 2l-1 -1l0 -3l1 -1l-1 -1l0 -2l-2 -1l-1 1l1 4l-3 3l0 3l-3 2l-2 0l-2 -3l-1 2l3 4l2 -3l2 0l1 1l0 5l-1 1l-1 -1l-3 1l-3 -3l-5 0l-3 -2l-4 1l-1 1l0 2l-2 2l0 1l2 1l-1 2l1 3l-1 1l-4 -1l3 2l-1 2l-3 0l-1 -2l-5 -4l1 -2l-1 -2l-1 1l0 6l1 1l-2 2l-2 0l-1 1l-2 -1l-4 0l-3 -4l-4 1l-1 1l0 2l-1 1l-2 0l-2 2l-1 -1l0 -2l2 -1l0 -1l-2 2l-5 0l-1 -1l-3 2l-1 -1l0 -2l3 -2l0 -4l1 -1l2 0l2 -2l4 -1l1 -2l3 0l2 -3l1 1l1 -1l-8 -1l-1 -1l0 -3l-2 0l-4 2l0 4l2 1l0 2l-1 1l-1 0l-3 -4l-2 5l-4 0l-1 1l1 1l-1 1l-3 0l-1 1l-1 -1l0 -3l-4 -1l-1 2l-3 1l-2 2l2 3l-2 2l-7 -1l-2 -3l-2 2l-2 0l-1 -1l0 -2l2 -1l1 -2l-1 -1l-1 1l-2 -1l0 2l-3 3l-2 0l1 1l0 6l-1 1l1 2l-2 3l3 6l-5 9l-5 -4l1 -6l-2 1l0 3l-1 1l-4 1l-3 -4l-2 0l-6 -8l1 -1l-4 0l-4 -4l-1 -3l-2 4l0 5l1 2l-2 2l-4 -3l-2 -3l-1 -4l-2 0l-1 2l-3 0l-4 -2l0 5l-8 7l-3 4l-1 3l2 2l0 2l1 1l4 -1l4 5l-1 1l1 1l2 0l1 1l2 -1l4 1l-6 -3l-5 -5l-2 -7l5 -4l6 -1l1 -2l2 0l1 -1l4 4l0 6l1 1l-1 2l1 1l0 4l1 0l1 2l4 1l4 3l8 1l3 3l5 1l2 2l0 2l3 4l-1 1l1 2l2 1l7 1l4 2l2 0l1 -1l4 1l1 -2l3 0l1 -1l2 0l1 1l5 -2l0 -1l4 -2l3 -4l0 -3l-2 0l-3 -2l-1 -2l-4 -3l-2 1l-1 -1l0 -1l3 -2l3 -4l4 3l2 -1l1 1l1 -1l5 -1l1 -1l1 -5l3 -3l0 -2l3 -4l5 2l1 -1l5 -1l2 -2l5 0l1 -1l2 0l3 -4l4 5l0 2l2 1l1 -1l1 1l1 -1l2 0l0 -1l4 -3l2 0l4 -2l2 1l3 -2l7 0l2 2l4 0l2 1l1 -1l7 0l1 -1l2 0l3 -2l1 -2l9 0l6 -4l23 -1l1 -1l3 0l3 -2l4 3l6 0l3 -2l1 1l3 -2l3 0l3 2l1 3l5 5l0 1l2 1l0 2l1 0l1 2l7 1l2 -2l5 0l1 -1l3 3l4 2l4 0l4 2l10 2l4 4l5 2l5 -2l1 1l2 -3l3 -1l1 -2l5 -3l5 0l1 1l2 -1l1 1l3 0l6 -5l1 1l5 -3l5 1l4 2l4 4l5 -2l6 0l2 2l7 0l1 -2l1 1l1 -2l3 -1l4 -4l6 -1l1 -1l7 0l2 3l0 2l1 0l2 3l7 2l1 -1l0 -4l-2 -5l-1 1l-6 0l-1 1l-3 -2l1 -1l6 -1l3 -2l3 0l5 -2l4 0l1 -1l2 0l1 1l4 -2l1 -2l4 -2l1 -2l5 0l2 -2l2 1l4 0l1 -1l4 0l1 -2l3 0l6 -3l4 0l1 1l5 -4l5 -2zM730 724l4 -3l1 2l3 0l1 2l-2 3l-4 0zM741 717l2 2l0 2l-3 2l-1 -1l0 -2zM730 716l2 0l2 2l-2 4l-1 0l-2 -3l0 -2zM721 715l2 -1l1 2l-2 1zM722 710l1 2l-2 1l-1 -1zM742 711l3 -2l2 3l-1 1l-3 0zM708 707l2 -1l1 2l3 0l1 2l2 0l1 -1l1 2l-3 3l-4 0l-4 -4l1 -1zM769 706l2 -1l2 3l-2 2l-2 -2zM714 705l1 -1l2 3l-1 1zM997 699l3 2l-2 3l-2 0l-1 -1l0 -2zM704 702l3 -2l5 -1l2 2l1 3l-2 2l-2 0l-5 -2zM753 699l4 -2l1 2l4 3l0 1l-1 1l-1 -1l-2 1zM981 694l1 2l-3 2l-1 -2zM819 693l1 -1l2 0l1 2l-1 1l-2 0zM985 688l1 0l3 4l0 2l-1 1l-1 -2l-3 -2l0 -2zM823 691l2 -3l2 1l-2 3zM745 688l2 1l0 1l-2 1l1 1l2 0l2 2l-2 4l-1 -1l-2 0l-2 -2l0 -2l-2 -1l0 -1zM1070 687l1 2l-2 1l-1 -1zM1046 687l1 1l0 3l-2 2l-2 0l-2 -2zM951 685l2 1l2 -2l3 3l1 -1l3 3l-1 4l-1 1l-4 -3l0 -2l-1 -1l-5 1l-1 -1zM959 682l2 1l0 3l-1 1l-2 -3zM860 679l2 3l-1 6l-5 3l-1 -1l1 -2l-1 -1l0 -3l1 -2zM841 677l1 0l2 3l-2 3l-3 -2l0 -2zM1103 677l0 -2l1 -1l3 2l-2 2zM920 667l2 0l1 1l0 4l-2 3l-2 0l-2 -2l0 -2zM920 643l-4 0l-2 2l-3 0l0 2l5 0l2 1l0 -2l-1 -1zM1168 643l0 2l4 -1l3 2l2 0l-2 -1l0 -2l-4 -2zM450 640l-1 1l1 2l0 8l2 1l2 -1l3 2l2 0l0 -2l-3 -4l0 -8zM511 637l-8 -1l6 2l4 4l4 2l2 0l3 2l6 8l4 3l-1 1l-6 0l-2 2l-2 5l-3 3l-9 5l-3 3l-1 4l-2 1l-3 4l-3 1l-6 6l-1 0l-1 1l1 1l3 0l0 -2l1 -1l4 0l2 -1l3 -5l3 1l5 -3l1 -2l-3 -2l0 -2l1 -1l-1 -1l2 -2l2 1l4 0l1 1l0 -4l2 -2l1 -5l6 -5l2 1l3 -2l0 -2l-2 -4l-2 -1l-2 -3l-4 -3l-3 -1zM408 605l0 1l1 0l0 -1zM437 578l1 1l-1 1l4 6l-1 1l0 2l-1 1l1 1l-1 1l3 6l-1 2l2 3l0 2l-1 1l1 1l-2 2l0 2l-1 1l2 2l1 4l4 -1l1 -2l12 -1l4 3l0 2l2 0l1 1l-2 2l-3 0l-1 1l-5 1l4 5l0 2l2 1l1 5l1 -1l3 1l1 -1l5 -1l-1 -3l-2 -2l1 -2l6 4l2 3l6 0l1 1l2 0l4 -2l3 -3l3 0l1 1l-1 -3l-3 0l-1 1l-2 0l-2 3l-4 0l-2 1l-7 -4l-2 -3l0 -2l-2 -2l-2 1l-4 6l-3 0l-1 -1l-1 1l-1 -1l0 -2l1 -1l4 0l3 -3l-1 -6l-2 2l-1 -1l1 -6l-6 -3l-4 0l-1 -1l0 -3l-2 1l-7 -6l0 -2l-3 -6l-3 -2l0 -1l6 -6l2 1l0 -1l5 -5l0 -3l2 -3l-3 -2l-3 5l-3 -2l-1 1l-2 -1l-3 2l6 3l0 2l-2 2l-3 0l-1 -1l0 -2l-1 0l-1 -2zM390 565l0 4l4 3l4 9l4 1l4 5l0 3l-1 1l-3 -4l-4 -1l-1 5l-2 2l0 2l4 3l-2 -3l0 -2l1 -1l1 2l3 -2l2 1l3 -2l2 0l4 -2l0 -1l-2 -1l-1 -4l-7 -5l-1 0l0 3l-2 1l-3 -3l0 -2l1 -1l2 0l0 -1l-8 -8l0 -2zM452 562l-3 2l-4 0l-1 -1l-3 2l-2 0l-1 -1l-3 1l-2 -2l-2 0l-1 2l-2 0l-2 3l0 3l1 1l0 11l-1 2l1 2l-2 2l1 5l-6 3l2 7l-4 3l-5 -1l-2 3l1 1l-2 1l0 2l-5 4l2 8l-4 6l0 7l-3 3l0 2l-3 2l0 2l-2 3l3 -4l3 -2l0 -2l3 -2l0 -2l-1 -1l2 -4l0 -5l3 -4l0 -2l-1 -1l1 -1l-1 -2l5 -4l2 1l2 -2l4 -1l4 -4l3 -1l1 -6l6 -8l0 -3l1 -1l-1 -2l-6 -5l0 -4l1 -2l-2 -2l-1 -6l2 -2l11 1l3 -2l6 0l1 -1l1 0l4 4l0 -4zM381 560l-2 2l0 3l-2 2l0 7l2 2l0 2l4 4l1 -1l1 1l0 1l-2 1l1 2l3 2l4 0l-1 -1l1 -1l2 1l2 -2l-5 -6l-2 0l-4 -2l-2 -2l0 -2l-3 -2l1 -1l-1 -1l0 -2l3 -3l2 0l1 -1l-1 -3z"/>
<path fill="#FF8419" stroke="#FF8419" d="M1157 804l0 2l1 1zM1128 764l1 1l0 -1zM1148 757l1 1l0 -1zM1143 757l-3 5l4 0l2 2l0 3l2 3l-2 1l-2 -3l1 6l2 0l2 2l1 -1l3 0l1 1l0 6l1 1l-3 3l0 2l2 3l2 1l-2 -3l0 -2l3 -5l0 -2l-1 -1l0 -4l1 -2l-5 -10l-4 0l-5 -4l1 -1zM1139 752l-6 1l-2 3l-3 0l-3 3l0 2l-1 1l-1 -2l-2 1l2 2l2 0l3 -4l3 2l2 -3l3 1l3 -2zM924 744l0 1l1 0l0 -1zM810 743l-1 1l3 2l-1 -3zM931 740l0 2l2 0l1 -1l-1 -1zM971 739l-1 0l-1 3l-2 1l0 2l-1 1l1 0l5 -6zM930 736l-1 1l2 1l0 -2zM922 735l1 3l0 -3zM922 720l0 1l3 0l1 2l1 0l0 -1l-3 -2zM907 719l0 2l-3 4l10 3l2 -2l0 -3l-1 -1l-4 0l-2 -3zM906 713l1 3l1 0l0 -2zM1142 710l-1 0l-1 2l1 0zM1136 709l-2 0l-1 2l-2 0l1 1l-2 3l2 3l-2 1l1 4l-1 1l-3 0l-3 2l-2 -1l0 2l2 1l-2 3l0 3l-1 1l2 3l-1 2l6 3l4 -5l4 -2l0 -2l1 -1l-2 0l-4 -4l0 -1l2 -1l2 3l4 0l1 -2l0 -4l-2 1l-2 -1l1 -4l3 -2l0 -4l-2 0l-2 -2zM1127 731l4 0l1 1l0 2l-3 6l-1 0l-2 -3l1 -1l-1 -2l0 -2zM913 709l0 3l4 0l3 4l0 -1l-2 -1l0 -3zM754 699l4 4l2 -1l1 1l0 -1l-1 0l-3 -4zM465 681l5 1l-1 -1zM860 680l-1 0l-3 4l0 3l1 1l-1 2l4 -2l0 -3l1 -1zM452 674l8 4l0 -1l-3 -2zM1160 672l-4 0l-3 2l-6 1l-1 2l-4 0l-1 1l-4 0l-2 -1l-2 2l-5 0l-1 2l-3 1l-2 3l-4 2l-1 -1l-2 0l-1 1l-4 0l-1 1l-7 1l-3 2l-3 0l-4 2l-7 0l-1 1l-6 1l-4 4l-3 1l-1 2l-1 -1l-1 2l-7 0l-2 -2l-6 0l-5 2l-4 -4l-4 -2l-5 -1l-5 3l-1 -1l-6 5l-3 0l-1 -1l-2 1l-1 -1l-5 0l-5 3l-1 2l-3 1l-2 3l-1 -1l-5 2l-5 -2l-4 -4l-10 -2l-4 -2l-4 0l-4 -2l-3 -3l-1 1l-5 0l-2 2l-7 -1l-1 -2l-2 -1l0 -2l-1 0l-6 -7l-1 -3l-2 -1l-3 0l-3 2l-1 -1l-3 2l-6 0l-4 -3l-3 2l-3 0l-1 1l-23 1l-6 4l-9 0l0 1l-4 3l-2 0l-1 1l-7 0l-1 1l-2 -1l-4 0l-2 -2l-7 0l-3 2l-2 -1l-1 1l-7 2l-2 3l-2 0l-1 1l-1 -1l-1 1l-3 -2l0 -2l-3 -4l-3 4l-2 0l-1 1l-5 0l-2 2l-2 0l-4 2l-5 -2l-2 3l0 2l-3 3l-1 5l-2 2l-2 0l-4 2l-1 -1l-2 1l-4 -3l-2 3l-3 2l0 1l2 -1l3 2l2 3l3 2l2 0l1 1l0 3l-1 2l-3 3l-3 1l-1 2l-5 2l-1 -1l-6 1l-1 2l-2 0l-1 -1l-4 1l-4 -2l-7 -1l-3 -2l-1 -2l1 -1l-3 -4l0 -2l-1 -1l-5 -1l-3 -3l-8 -1l-4 -3l-4 -1l-1 -2l-2 -1l0 -4l-1 -1l1 -1l-1 -2l0 -6l-3 -3l-1 1l-2 0l-1 2l-6 1l-4 3l2 7l4 4l7 4l-1 1l2 5l-2 4l-6 5l-5 2l0 1l-7 6l-3 0l-1 -1l-5 1l-1 -1l-2 0l-6 4l-6 1l12 8l3 1l10 7l4 0l6 -7l3 -7l1 -6l5 -3l10 1l0 -2l-3 -2l-3 0l-1 -1l1 -2l3 0l4 2l4 5l2 -3l2 0l1 1l-3 3l4 0l9 11l1 -1l4 3l2 -2l3 0l0 -2l5 -4l2 2l3 -2l4 6l-1 4l1 1l2 0l2 -2l1 -3l3 -2l2 0l1 2l2 0l7 -5l3 0l1 -1l4 1l1 -2l-2 0l-2 -2l0 -2l3 -2l3 0l2 4l0 3l-1 1l1 3l-3 2l3 -2l2 0l1 1l-1 3l2 -1l5 1l1 -1l3 0l0 -2l-1 -1l1 -2l1 1l3 0l0 -2l-3 -2l0 -2l3 -3l0 -2l-4 -4l0 -3l-5 2l-1 -2l-2 0l-1 1l4 3l0 2l-1 1l-1 0l-3 -4l-2 0l-1 -2l4 -5l4 -2l4 0l5 4l2 0l0 -3l-4 -3l2 -5l2 1l2 3l4 -3l2 0l1 1l1 3l-2 2l-2 0l0 6l1 2l2 -1l1 1l4 0l1 1l-1 2l-3 0l0 1l1 -1l4 1l2 -2l0 -2l4 -3l3 0l-1 -4l2 -2l-1 -2l2 -1l2 2l0 6l3 -1l5 6l-1 3l2 1l0 2l-2 3l0 2l2 0l2 4l3 -2l2 0l5 -5l1 0l2 3l5 0l2 3l2 0l6 -3l1 -2l0 -5l4 -2l7 -8l-4 0l-2 -2l-1 -3l-1 0l-1 1l0 2l-2 2l0 3l-4 5l-2 0l-3 -6l-3 -3l0 -2l1 -1l3 4l2 0l1 -1l0 -3l4 -3l2 -3l-2 -4l0 -2l1 -1l1 2l2 0l3 -2l2 -3l2 0l1 -2l2 0l2 2l-3 2l0 2l-1 1l-2 0l-3 3l-2 0l0 2l9 1l0 -2l4 -3l-1 -1l1 -2l3 0l1 2l1 0l2 -3l2 2l1 -1l4 0l3 -6l2 0l1 1l-3 -4l0 -2l3 -2l0 -3l2 -2l2 0l3 3l0 2l-2 1l2 3l1 -1l-1 -1l1 -1l3 0l2 2l1 -2l-2 -2l2 -2l3 -1l1 1l-1 2l3 1l3 3l-3 4l0 2l1 1l-1 2l6 0l1 2l-2 3l4 0l4 3l-1 1l-7 -1l-1 2l-2 1l0 5l-2 1l0 2l2 -1l1 1l2 0l-1 -1l2 -2l4 0l1 -1l4 2l2 -1l0 -3l1 -2l2 -1l0 -2l-1 -1l1 -1l2 0l0 -2l-3 0l-1 1l-1 -2l2 -2l3 0l1 -3l3 -4l4 -1l1 1l-4 3l0 5l-1 1l1 2l-1 1l2 1l0 4l3 -1l2 2l-2 4l-1 -1l-6 1l0 2l1 1l2 0l1 -2l3 2l1 -1l0 -2l3 -2l2 2l2 0l1 1l0 2l7 5l1 -5l-2 -2l-4 2l-1 -2l-2 -1l1 -2l-1 -3l6 -5l3 2l0 4l1 1l7 0l5 3l7 0l3 -2l2 2l2 0l1 1l6 -6l4 -2l8 0l6 3l1 -1l8 0l6 4l5 5l1 5l1 1l10 1l2 -3l-1 -2l-1 0l-4 -4l2 -2l3 0l0 -1l2 -2l2 0l1 -3l2 -1l3 3l0 2l-3 4l1 1l5 0l2 1l1 2l2 1l0 2l-2 1l0 1l5 -4l2 0l3 2l0 -2l1 -1l1 2l1 0l1 -2l-2 -3l0 -2l1 -1l-2 -1l-1 3l-2 1l-2 -4l0 -3l1 -1l1 2l1 0l0 -4l7 -6l3 0l2 2l-1 5l-1 1l1 2l-2 2l-2 5l1 0l0 -2l2 -2l2 0l6 4l4 -2l4 0l7 -8l-1 -4l-3 0l-1 -1l2 -2l0 -2l1 -1l2 2l0 2l1 -1l2 2l5 0l-1 -2l0 -2l1 -1l-1 -2l6 -5l2 0l3 -3l2 2l2 0l2 -3l2 -10l12 -15zM753 753l1 -1l2 0l1 2l-1 1zM863 746l2 -2l2 0l1 1l0 2l-1 1l-2 0zM721 736l1 -1l2 0l1 2l-1 1l-2 0zM787 727l1 -1l2 0l1 1l-1 1l-2 0zM780 725l1 0l1 2l2 -1l3 2l0 2l-1 1l-2 0l-2 3l-4 -4l0 -3zM935 725l2 -1l1 2l-2 1zM1062 726l0 -2l2 -1l1 2l-2 2zM1060 721l1 -2l2 1l-2 2zM1014 720l2 -1l1 2l-1 1zM1083 715l2 2l-3 2l-1 -2zM1100 715l1 -1l3 0l5 4l-1 1l-3 0l-1 -1l-2 1l-2 -2zM829 715l3 0l3 2l0 -1l3 -2l4 0l4 5l-1 5l2 3l-2 2l2 0l1 1l0 2l-2 2l-5 0l-2 -3l-2 -1l0 -4l-1 0l-1 2l-2 0l-1 -2l4 -3l0 -2l-1 -1l-5 -1l-2 -2zM802 717l4 -3l2 2l-1 2l4 1l1 2l-1 1l-2 0l-3 -2l-2 0zM1085 716l0 -2l1 -1l2 2l-2 2zM969 712l1 1l0 2l-2 1l-1 -2zM881 700l1 1l0 4l-2 2l2 3l-1 1l-6 0l-3 3l-3 -2l1 -5l2 -2l2 0l3 -3l2 0l0 -1zM1137 695l1 1l-3 2l-1 -1zM1092 693l1 -1l2 1l1 -1l6 0l1 -1l3 6l0 4l-2 2l-7 -2l-1 -2l-3 -2zM423 667l4 1l0 -1zM405 662l0 2l-1 1l1 1l7 0l-3 -3l-1 1l-2 0zM523 659l-3 1l-1 -2l-1 0l-2 10l-1 1l-4 0l-3 -4l-1 0l0 1l2 1l-1 1l-5 1l0 2l-2 3l-3 2l1 2l-1 1l0 2l-6 5l-3 0l-2 2l-4 0l-1 1l-5 -1l5 3l2 0l4 2l9 -8l3 -1l1 -2l3 -2l1 -4l4 -4l9 -5l2 -2zM444 649l0 4l2 1zM449 643l-1 2l0 7l1 0l4 5l3 1l3 -2l3 -4l-2 -2l0 -2l-3 -3l0 2l3 4l0 2l-1 1l-2 0l-3 -2l-2 1l-3 -2zM455 638l-2 -1l-1 2l1 -1zM411 639l-2 0l-4 -4l-1 2l1 1l0 2l-3 2l0 2l-3 2l0 1l-4 4l-2 8l2 0l1 -1l9 0l-1 -2l-2 0l-1 -1l0 -3l2 -2l0 -2l1 -1l2 1l4 0l1 -1l-3 -2l1 -1l4 0l-2 -2zM480 636l2 1l6 0l2 1l1 2l4 2l8 0l1 -1l4 1l2 -1l3 4l5 3l3 4l-1 1l1 2l1 -1l3 0l2 3l4 0l-4 -3l-5 -7l-3 -2l-2 0l-4 -2l-4 -4l-6 -2l-5 -5l-3 0l-3 3l-4 2l-2 0l-1 -1zM471 629l3 6l-4 2l4 0l3 -4zM455 625l-1 2l2 3l5 4l0 -2l-2 -1l0 -2l-2 -3zM448 616l3 1l3 4l2 1l0 1l5 -1l1 -1l3 0l1 -1l-2 0l-1 -1l0 -2l-3 -2zM455 619l2 -1l2 3l-1 1l-2 -1zM412 615l-4 3l1 2l-1 1l1 1l0 2l-3 4l0 3l0 -2l4 -5l2 0l1 -1l0 -1l-2 -1l0 -4l2 -1zM439 606l0 6l2 4l0 -2l-2 -2l1 -1l0 -2l2 -2l-1 -1zM435 604l-1 0l-1 2l1 0zM429 601l-1 6l-4 2l-3 4l4 1l2 -1l0 -2l1 -1l3 -1l0 -2l-2 -1zM450 565l-2 1l-6 0l-3 2l-5 0l-1 -1l-5 0l-1 1l1 6l2 2l-1 2l0 4l1 0l5 5l1 2l-1 1l0 2l1 -1l3 3l0 6l-2 2l3 0l1 2l1 0l-2 -4l1 -2l-3 -6l1 -1l-1 -1l2 -4l-4 -6l1 -1l-1 -1l7 -6l1 1l2 -1l3 2l4 -6zM382 565l-2 2l0 2l1 1l-1 1l3 2l0 2l5 3l2 0l5 6l7 2l3 4l0 -3l-1 -1l-4 -1l-7 -6l-2 -5l-1 0l-5 -6l1 -1l-1 -1l0 -2l-1 1z"/>
<path fill="#FF9736" stroke="#FF9736" d="M1148 804l-1 1l2 1zM1156 802l0 2l-1 1l0 2l1 1l8 0l2 -1l-2 0l-1 1l-5 0l-2 -2zM1135 794l2 0zM811 785l-2 -1l-2 1l-1 2l2 1l2 -1zM1133 783l1 2l-2 2l1 1l2 0l1 -1l0 -2zM1142 780l-1 1l1 0zM790 777l-1 0l-1 4l1 0l0 -3zM736 765l-1 1l1 3l1 -1l0 -2zM943 755l0 3l1 0l1 -2zM939 754l0 1l2 0l0 -1zM864 746l1 1l2 0l0 -2l-2 0zM912 744l-2 1l0 2l2 0zM701 737l0 1l3 0l3 2l2 4l4 0l3 -3l-2 0l-2 3l-2 -3l-2 -1l0 -1l-4 -2zM722 736l0 1l2 0l0 -1zM1131 732l-4 0l0 2l1 1l-1 2l1 2l1 0zM788 727l2 0zM780 726l-1 1l0 3l3 3l2 -3l2 0l0 -2l-2 -1l-2 1l-1 -2zM936 725l0 1l1 0l0 -1zM1069 723l-1 0l-2 4l-2 0l-1 -1l1 -2l-1 0l0 2l1 1l-1 2l-5 2l4 3l2 3l-3 4l-10 -1l0 2l3 4l1 -1l6 -1l8 -3l7 0l1 -2l2 -1l0 -2l-1 0l-1 -2l-2 -1l-5 0l-2 -2l3 -4l0 -2zM1068 737l1 -1l3 0l1 2l-1 1l-3 0zM863 752l-2 -3l-5 0l-2 -3l-1 0l-5 5l-2 0l-3 2l-2 -4l-2 0l-1 -1l0 -2l2 -3l0 -2l-2 -1l1 -3l-4 -5l-2 1l-2 -1l0 -6l-1 -1l-1 0l1 2l-2 2l1 4l-1 1l-3 0l-3 2l0 2l-3 3l-2 -1l-2 0l-1 1l-1 -2l1 -1l3 0l0 -1l-4 0l-1 -1l-2 1l-2 -3l0 -6l4 -2l-1 -3l-2 0l-4 3l-1 -2l-3 -2l0 3l-1 1l4 3l0 3l-1 1l-2 0l-5 -4l-4 0l-4 2l-3 4l0 1l2 0l1 2l3 2l0 -2l-4 -3l2 -2l2 0l1 2l5 -2l1 1l0 3l4 4l0 2l-3 3l0 2l3 2l0 2l-1 1l-3 0l-1 -1l1 2l0 2l-1 1l-3 0l-1 1l-5 -1l-2 1l-1 -1l1 -3l-2 0l-2 -3l1 -2l-1 -6l-5 1l0 2l4 2l-2 3l-2 0l-1 -1l-5 1l-7 5l-2 0l-1 -2l-4 1l-1 -2l-2 0l1 0l2 3l-4 5l-2 0l-2 -2l1 -4l-2 -2l0 -2l-1 -1l-2 2l-3 -2l-4 3l0 2l-1 1l-3 0l-2 2l-4 -3l-1 1l4 8l1 0l1 -2l5 0l1 1l0 2l1 1l-1 5l3 2l0 2l1 -6l3 -3l-1 -3l-2 -1l-1 -3l3 -2l2 2l0 2l2 0l4 2l2 -1l3 2l2 -1l1 1l-1 1l1 1l1 0l3 -5l2 -1l1 2l-4 5l0 4l2 0l1 1l0 2l4 -3l0 -3l-3 -1l-1 -2l5 -3l0 -2l2 -2l2 0l1 -1l4 5l6 0l2 -2l6 1l2 3l2 0l1 1l1 4l2 0l1 1l-2 2l-5 -1l-2 2l1 1l0 2l-3 2l-2 3l1 1l2 0l1 -1l2 1l1 -1l0 -5l1 -1l1 0l1 2l2 0l1 -1l2 1l8 0l1 1l1 -1l-1 -4l-5 1l-1 2l-3 0l-1 -1l0 -2l3 -2l0 -1l-4 0l-1 -1l0 -2l1 -1l0 -5l-1 0l-1 -2l-3 -2l1 -2l6 0l0 -2l1 -1l5 3l1 -2l2 0l0 -2l2 -2l1 2l4 3l-2 3l0 2l1 0l2 -2l4 0l0 -3l3 -3l3 0l2 2l0 3l-3 5l-1 -1l-1 1l1 1l0 3l-2 5l-2 2l-3 -2l0 -1l2 -1l-1 0l-2 -3l-2 1l-1 -2l-2 -1l-5 0l1 4l3 2l0 2l2 2l2 -1l3 2l3 0l1 2l1 0l3 -2l-3 0l-1 -2l5 -4l4 -1l2 2l3 -2l0 -2l-1 -1l-1 1l-3 0l-1 -1l0 -5l1 -1l5 -1l3 3l0 2l3 0l2 -3l3 1zM800 766l0 -2l2 -1l1 2l-2 2zM761 761l1 -1l2 2l-2 1zM783 753l1 1l-3 2l-1 -1zM816 746l3 -2l3 0l1 1l0 2l-3 2l-2 0zM810 742l1 0l2 3l-1 2l-4 -3zM836 736l0 2l-2 3l-3 0l-1 -1l-2 1l-1 2l-2 -1l0 -2l1 -1l2 0l5 -5zM1061 720l0 1l1 -1zM1015 720l1 1l0 -1zM1084 717l-1 -1l-1 2zM1101 715l0 2l1 1l2 -1l1 1l3 0l-4 -3zM829 716l1 2l5 1l2 2l0 2l-4 3l0 1l2 0l0 -1l2 -1l1 1l0 4l1 0l2 3l5 0l1 -1l0 -2l-2 0l-1 -1l2 -3l-2 -2l1 -5l-3 -4l-4 0l-2 1l-1 2l-3 -2zM803 717l1 2l7 2l0 -1l-5 -2l1 -2l-1 -1zM1086 714l0 2l1 -1zM969 713l-1 2l1 0zM1089 721l-1 1l0 4l-1 1l-2 -1l1 5l1 0l2 -4l3 2l-1 1l0 2l2 3l-2 3l-1 0l-1 -2l0 3l1 0l3 4l3 2l-1 2l5 8l3 0l4 -2l1 1l2 -1l2 1l0 1l-3 2l-1 7l3 4l1 -1l2 0l1 1l-1 5l1 1l2 -1l1 1l0 2l3 0l1 -1l2 2l1 4l4 0l2 -1l-2 -4l2 -1l3 -4l5 -2l6 9l3 1l2 2l0 7l1 2l6 4l0 -1l-3 -1l-3 -4l0 -2l3 -3l-1 -1l0 -6l-3 0l-1 1l-2 -2l-2 0l-2 -5l0 -2l1 -1l1 2l2 1l-2 -3l0 -3l-1 -1l-4 0l-1 -1l4 -6l2 2l-1 1l4 3l3 0l-1 -3l-3 -2l1 -1l0 -2l-2 -4l-1 -6l-3 -2l1 -1l0 -4l-1 -2l-2 -1l0 -2l1 -1l0 -8l-1 -1l0 -3l-2 1l-1 4l3 -1l1 1l0 4l-2 3l-4 0l-1 -2l-2 -1l3 4l2 0l1 1l-1 1l0 2l-2 2l-3 1l0 1l-4 4l-3 -2l-2 0l-2 -2l1 -2l-2 -3l1 -1l0 -3l2 -3l-2 -1l0 -2l1 -1l2 1l3 -2l3 0l0 -2l-1 -1l0 -1l2 -1l-2 -2l2 -3l-1 -2l1 -1l2 0l1 -2l2 0l1 1l0 3l4 2l-2 -3l3 -2l1 -4l-1 1l-2 0l-2 -2l-3 3l-2 0l-5 4l1 2l-1 1l0 2l1 1l-1 2l-5 0l-2 -2l-1 1l-2 -4l0 2l-2 2l3 0l2 3l0 2l-8 9l-4 0l-4 2l-6 -4l-2 0l-1 1l0 2l-2 1l-1 -2l4 -6l-1 -2l1 -1l1 -5l-1 -1l-3 0l-4 4zM1121 766l1 -1l2 0l2 3l5 2l1 2l-1 1l-1 -1l-2 0l0 2l-2 1l-1 -2l-4 -3l1 -2zM1127 764l2 -1l1 2l-1 1zM1140 752l0 5l-4 3l-3 -1l-2 3l-3 -2l-3 4l-2 0l-3 -3l2 -2l1 0l1 2l0 -2l4 -4l3 0l2 -3l3 0l1 -1l2 0zM1141 752l0 -2l1 -1l3 2l-2 2zM1118 743l2 -1l1 2l-2 1zM1100 736l2 2l-4 5l-2 0l-1 -1l1 -2l2 -1zM1106 735l3 -2l2 3l2 -1l4 0l1 1l-1 1l0 2l-2 2l3 3l0 3l2 0l0 -2l1 -1l3 0l3 3l4 1l1 1l0 2l-3 3l-2 -2l-3 -1l-2 2l2 1l-1 2l-2 0l-1 -1l0 2l-3 2l-4 0l-1 -2l1 -1l2 0l2 -3l-2 0l-2 -4l-1 0l0 2l-1 1l-2 -2l1 -1l-2 -2l0 -2l-2 -1l1 -1l0 -2l-1 -1l1 -3zM881 701l-1 0l-1 2l-2 0l-3 3l-2 0l-1 1l-1 5l2 1l3 -3l6 0l-2 -3l2 -2zM861 728l0 2l3 3l2 5l2 0l3 -4l0 -3l4 -6l2 1l2 4l4 0l1 1l-8 9l-3 1l0 5l-1 2l5 -2l4 -3l4 0l1 -1l5 0l5 4l4 2l2 0l-2 -2l1 -1l0 -4l1 -1l2 1l0 -1l-3 -2l0 -2l-2 -2l0 -2l4 -3l2 1l2 3l1 -1l3 3l0 1l-2 1l2 0l3 3l1 -1l1 2l2 0l3 2l4 5l4 1l2 3l6 0l-2 -7l2 -2l0 -2l2 -3l-1 -5l2 -2l1 0l6 6l0 2l-2 2l-3 -2l-1 1l1 2l2 1l4 0l3 -2l1 1l0 2l1 0l3 -5l8 -8l1 0l1 1l1 6l-1 1l-2 0l-2 3l1 1l-1 2l-4 -1l0 3l-1 1l1 7l-1 1l0 2l3 -7l2 3l6 5l0 4l2 2l1 -1l3 0l-1 -4l2 -3l2 3l2 0l2 -2l-5 -5l-3 -1l-5 -6l-1 1l-2 -1l1 -1l0 -2l2 -1l2 -4l2 1l2 0l1 -1l-1 -2l-6 -4l0 -2l1 -1l2 0l6 -3l-1 -1l0 -4l-1 -1l-6 4l1 3l-2 3l-2 0l-3 -2l-1 1l0 2l-2 2l-3 -2l-1 2l-2 0l-2 -2l0 -2l1 -1l2 0l1 -1l3 0l1 1l0 -2l1 -1l-1 -1l-3 1l-1 -1l0 -4l-2 -1l1 -1l-1 -2l1 -1l0 -5l4 -3l-4 1l-3 6l-5 2l0 1l1 -1l3 0l1 1l0 2l-1 1l-2 0l1 1l0 2l-2 1l-1 5l-3 2l-4 -2l-1 1l-4 0l-1 1l1 1l-1 1l-2 0l-1 -1l-2 1l-1 -1l0 -2l2 -1l0 -5l2 -1l2 -3l7 1l-3 -2l-4 0l-1 -1l2 -4l-6 0l-1 -1l1 -2l-1 -1l0 -2l3 -4l-6 -4l1 -2l-4 2l2 2l-2 3l-2 -2l-3 0l1 1l-2 2l-1 -2l-2 -1l0 -1l2 -1l0 -2l-2 -2l-2 0l-1 1l0 3l-3 2l0 2l3 4l-1 1l-1 -1l-2 0l-1 4l-2 2l-4 0l-1 1l-2 -2l-2 3l-1 0l-1 -2l-3 0l1 2l-4 3l0 2l-1 1l-9 -1l-1 -1l0 -2l1 -1l2 0l3 -3l2 0l0 -2l3 -2l-1 -1l-2 0l-1 2l-2 0l0 1l-5 4l-2 0l-1 -2l0 2l2 4l-1 2l-5 4l0 3l-2 2l-2 0zM923 744l2 -1l1 2l-2 1zM930 742l0 -2l1 -1l2 0l2 2l-2 2l-2 0zM930 735l2 1l0 2l-1 1l-3 -2zM922 734l2 1l0 3l-1 1l-2 -3zM899 723l1 1l0 2l-3 2l-1 -1l1 -1l0 -2zM894 723l1 1l0 2l-1 1l-1 -1l0 -2zM925 722l2 -1l1 2l-2 1zM889 721l1 -1l2 0l1 2l-2 1zM921 720l1 -1l2 0l2 2l-1 1l-3 0zM903 724l2 -1l1 -4l1 -1l2 0l2 3l4 0l2 2l0 3l-3 3l-2 0l-8 -3zM918 715l2 -1l1 2l-1 1zM905 713l2 -1l2 2l0 2l-2 1zM912 709l1 -1l4 1l2 2l0 3l-1 1l-1 -2l-4 0l-1 -1zM921 707l1 -1l2 3l-1 1zM1136 696l-1 1l1 0l1 -1zM476 645l1 1l0 -1zM417 630l0 1l5 1l-3 -2zM456 619l0 1l2 1l0 -1zM402 652l0 3l2 0l2 2l-1 2l1 4l2 0l1 -1l4 4l2 0l4 2l3 0l1 -2l4 0l1 1l5 0l7 5l8 0l3 2l1 -1l3 0l5 3l2 4l7 0l3 2l4 5l3 0l1 1l7 -1l2 -2l3 0l4 -3l2 -4l-1 -2l3 -2l3 -6l5 -1l1 -1l2 2l4 0l1 -8l2 -3l1 0l1 2l6 -2l-1 -2l-3 0l-1 1l-2 -2l1 -2l-3 -4l-4 -2l-3 -4l-2 1l-2 -1l-2 0l-1 1l-8 0l-4 -2l-1 -2l-2 -1l-6 0l-4 -3l-2 0l-2 3l-4 0l-1 -1l-2 1l-3 -1l-1 1l-1 -2l-4 -4l-1 0l-4 -5l2 -3l0 -2l-1 0l-3 -4l-3 -1l-3 2l-2 0l-1 -2l-3 -2l0 -2l-1 -1l0 -6l1 -1l3 0l-1 0l-1 -2l-3 0l-1 -1l2 -2l0 -6l-2 -2l-6 8l0 6l2 1l0 2l-4 2l0 2l-3 2l-7 -2l-6 4l0 4l1 0l1 2l-2 2l-2 0l-5 9l4 4l2 0l1 1l0 3l2 2l-1 1l-4 0l3 2l-2 2l-4 0l-2 -1l0 2zM492 679l2 2l-1 2l-3 -2zM488 677l1 1l0 2l-2 3l-3 2l-1 -1l2 -3l-1 -3l1 -1zM462 667l2 0l1 1l0 2l-2 2l-3 -3zM506 665l2 -1l1 2l-2 1zM458 663l1 -1l2 3l-2 1l-1 -1zM444 648l3 6l-1 1l-3 -2l0 -4zM458 637l1 -1l3 4l6 4l4 -3l2 0l3 -4l2 0l2 2l5 1l2 3l-1 3l1 1l2 -1l3 0l1 1l2 -2l3 0l4 4l1 0l2 3l7 6l0 1l-1 1l-5 1l-4 4l-2 0l-1 -1l-1 -5l-5 4l0 2l1 1l-1 1l0 3l2 -5l2 0l1 1l0 4l-1 1l-2 0l-2 2l-2 -2l-3 0l-2 1l0 2l-7 5l-1 0l-1 -2l3 -6l-2 -3l-2 -1l-1 2l2 2l0 3l-1 1l-5 -1l0 2l-3 3l-3 0l-1 -2l4 -3l1 -5l-2 -2l-3 0l-1 -1l0 -1l3 -2l0 -2l-2 -3l1 -1l3 0l1 -2l-2 -3l-3 0l-4 -4l0 -2l-3 -3zM453 636l4 3l0 5l4 4l0 2l2 2l0 1l-7 6l-3 -1l-4 -4l0 -1l-2 -1l0 -7l1 -1l0 -3l3 -2zM432 632l1 -1l2 3l-2 1l-1 -1zM430 626l2 -1l2 2l0 2l-2 1zM443 626l4 -3l1 2l2 0l4 5l0 3l3 0l1 2l-1 1l-1 -1l-3 0l-3 3l-1 -2l-1 2l-3 0l-1 -1l1 -2l2 -1l-1 -2l-3 -2zM413 626l3 2l2 -1l2 -3l2 0l1 -2l3 2l3 -2l1 1l-2 3l1 2l-1 1l0 2l2 3l2 0l1 1l-1 1l0 2l4 4l2 0l2 2l0 1l-2 1l0 2l4 3l0 6l3 2l2 -1l2 0l1 1l0 3l-1 1l-2 0l3 2l-2 2l-3 -2l-2 0l-1 2l-3 2l-2 -2l0 -1l3 -2l0 -2l-1 -1l-6 1l-4 2l-7 0l-2 3l-4 0l-4 -3l-2 -4l-2 0l-1 -1l0 -4l-3 -3l4 -2l2 0l1 1l0 3l5 5l4 0l2 -1l0 -3l3 -2l2 0l0 -3l-3 -3l0 2l-3 2l-2 0l-1 -2l-2 -1l1 -2l-2 -2l0 -3l-1 -1l0 -2l1 -1l-1 0l-5 -6l0 -2zM432 614l1 1l0 4l-3 3l-3 -1l-1 -1l0 -2l4 -4zM435 603l1 2l-3 2l-1 -2z"/>
<path fill="#FFAA52" stroke="#FFAA52" d="M1168 812l0 2zM1167 810l-1 -2l-4 1l4 0zM1129 804l0 2l2 -1l0 -1zM1122 766l1 1l-1 3l2 1l2 3l1 0l0 -2l1 -1l2 0l1 1l0 -1l-5 -2l-2 -3zM762 761l0 1l1 0zM975 758l-1 2l1 3l3 -2l-1 0zM852 761l-2 -1l-2 3l-3 0l-1 -1l0 -2l-2 -2l-5 1l0 5l3 0l1 -1l2 2l0 2l-4 3l-2 -2l-2 0l-6 4l0 1l5 0l6 -3zM1100 756l6 9l2 5l2 -1l2 1l0 5l3 1l5 4l2 0l3 3l2 0l3 3l0 2l3 2l-2 5l-2 2l1 1l0 2l1 0l4 5l2 -2l5 0l2 -1l2 2l0 2l1 1l2 0l2 2l3 0l1 -1l3 2l0 -1l-2 0l-2 -2l1 -4l-1 1l-1 -1l-3 0l-8 -9l1 -1l2 0l1 -1l0 -2l2 -2l2 3l0 3l4 -1l-1 0l-4 -5l0 -7l-5 -3l-5 -8l-5 2l-1 2l-3 2l2 3l-1 2l-2 1l-4 0l-2 -3l0 -2l-1 -1l-1 1l-3 0l-1 -1l0 -2l-2 1l-2 -2l1 -5l-2 0l-1 1l-4 -5l1 -7l2 -1l1 -2l-2 1l-2 -1l-4 2zM1148 803l2 2l-1 2l-3 -2zM1134 794l1 -1l2 0l1 1l-1 1l-2 0zM1143 789l1 -1l2 2l-2 1zM1137 789l1 -1l2 0l1 2l-1 1l-2 0zM1133 782l4 3l0 2l-2 2l-2 0l-2 -2l2 -2l-1 -1zM1142 779l1 2l-2 1l-1 -1zM1136 775l1 2l-4 3l-1 -1l1 -2zM1142 750l0 2l1 0l1 -1zM834 753l-1 -1l-3 0l-2 2l0 3l-1 1l-4 0l-2 2l-2 -1l0 -2l2 -3l-2 -1l-2 -3l-1 1l0 2l-1 1l-2 0l-1 2l-4 -3l-1 0l0 2l-1 1l-6 0l0 1l5 4l0 5l-2 4l-2 0l-1 -1l0 -2l2 -3l-1 0l0 2l-1 1l-1 -2l-2 0l-2 -3l-3 0l-1 -1l-2 0l-2 2l-6 0l-4 -5l-1 1l-2 0l-1 1l0 2l-5 3l0 1l4 2l0 3l-4 4l-2 -1l0 -2l-2 0l-1 -1l0 -4l4 -6l-1 0l-2 4l-3 2l-2 -2l1 -1l-2 1l-3 -2l-2 1l-1 -1l-5 -1l-2 -4l-2 1l1 3l2 1l1 3l-3 3l-1 6l-1 1l-1 -1l0 -2l-3 -2l0 -2l1 -1l-1 -5l-5 0l-1 3l4 7l0 2l2 0l2 3l1 -1l2 0l1 -2l2 0l1 -2l4 0l3 -2l0 -2l-1 -1l3 -3l6 5l0 5l-2 1l0 1l6 0l1 -1l3 0l9 -12l4 0l1 2l2 1l4 0l2 2l0 3l-6 5l-2 0l-2 2l4 3l2 0l5 3l1 -1l4 1l2 -2l2 0l1 1l0 2l-3 2l0 3l2 2l4 0l1 1l-2 2l0 2l2 0l2 -5l-5 -1l-1 -2l2 -2l3 2l2 -1l1 2l3 -3l-2 -4l0 -2l1 -1l5 1l9 -5l0 -2l-3 0l-3 -2l-2 1l-3 -3l0 -2l-3 -2l-1 -4l1 -1l5 0l2 1l1 2l2 -1l1 2l3 2l-2 1l0 1l2 1l3 -6l0 -3l-1 -1l2 -2l1 1l2 -4zM810 783l2 3l-4 3l-2 -1l-1 -2l2 -2zM790 776l1 1l-1 1l0 3l-2 1l-1 -2l1 -1l0 -2zM817 775l0 2l-2 2l-1 -1l-8 0l-1 -1l-4 1l-1 -2l-1 0l0 5l-2 2l-2 -1l-1 1l-2 0l-2 -2l1 -2l4 -3l0 -2l-1 -1l3 -3l5 1l2 -2l4 0l1 2l-3 2l0 2l3 0l1 -2l2 0l1 -1l2 0zM736 764l2 2l0 2l-2 2l-2 -3zM810 759l2 2l-3 2l-1 -2zM814 756l2 -1l1 2l-2 1zM817 746l1 2l4 -1l0 -2zM1094 744l0 1l1 1l0 -1zM1144 741l-1 1l1 0zM1101 738l-1 -1l-4 5l2 0zM1069 737l0 1l3 0l0 -1zM835 736l-2 -1l-5 5l-2 0l0 2l4 -3l1 1l3 0zM1107 735l1 2l-1 2l1 4l-1 1l2 1l0 2l2 2l-1 1l1 1l0 -2l2 -1l2 2l0 2l2 0l1 1l-3 4l-2 0l0 1l4 0l2 -1l0 -2l1 -1l1 1l2 0l0 -1l-2 -1l3 -3l3 1l2 2l2 -2l0 -2l-4 -1l-3 -3l-3 0l-1 -2l-1 0l0 1l2 1l0 2l-1 1l-2 0l-1 -1l0 -3l-3 -3l2 -2l0 -2l1 -1l-4 0l-2 1l-2 -3zM1112 746l0 -2l1 -1l3 2l-2 2zM1108 740l1 -1l2 0l1 1l-1 1l-2 0zM940 732l-1 1l1 5l-2 3l0 2l-2 2l2 7l-1 1l-5 0l1 1l3 0l3 3l0 2l1 1l2 0l1 -1l-1 -1l0 -3l2 -1l4 3l1 -2l-1 -3l1 -1l4 3l0 2l-2 3l3 2l2 -2l0 -3l1 -1l0 -3l-1 -1l1 -7l1 -1l4 1l-1 -2l3 -4l2 0l-1 -6l-1 0l-7 7l-4 6l-2 -1l0 -2l-3 2l-4 0l-2 -1l-2 -3l2 -2l3 2l1 -1l0 -2l-5 -5zM938 754l1 -1l2 0l1 2l-1 1l-2 0zM943 747l2 -1l2 1l2 3l-1 1l-3 0l-2 -2zM938 746l2 -2l2 1l-1 2l-2 0zM1142 731l-1 1l0 2l1 0zM902 730l-2 2l0 2l2 2l0 2l2 1l1 2l-1 1l-2 -1l0 4l-1 1l2 3l2 1l1 -1l5 -1l-2 -1l0 -2l3 -2l1 1l0 2l0 -2l2 -4l-1 1l-3 -3l-2 0l-1 -1l2 -1l0 -1l-2 -2l-1 1l-2 -3zM899 724l-1 0l0 2l-1 1l2 -1zM894 724l0 2zM890 721l2 1l0 -1zM922 707l0 1l1 1l0 -1zM492 680l-1 1l2 1zM488 678l-3 0l1 3l-2 3l2 -1l2 -3zM464 668l-2 0l-1 1l2 2l1 -1zM459 663l0 2l1 0zM459 637l0 6l3 3l0 2l3 3l3 0l3 4l-2 3l-3 0l2 3l0 2l-2 1l-1 2l3 0l3 3l-1 5l-4 3l0 1l3 0l2 -2l0 -2l1 -1l5 1l0 -3l-2 -2l2 -3l1 0l4 5l-3 7l1 0l6 -4l0 -2l3 -2l3 0l2 2l2 -2l2 0l0 -4l-2 0l0 2l-2 3l-1 -1l0 -3l1 -1l-1 -1l0 -2l6 -5l1 1l1 5l2 0l6 -5l3 0l0 -1l-2 -1l-5 -5l0 -1l-6 -5l-3 0l-2 2l-1 -1l-5 1l-2 -2l1 -2l-1 -3l-3 0l-4 -3l-2 0l-3 4l-2 0l-4 3l-6 -4zM482 671l2 -1l1 2l-2 1zM504 656l1 -1l2 0l1 2l-1 1l-2 0zM472 654l2 -1l2 4l-1 1l-2 0l-1 -1zM474 651l1 -1l1 1l3 -1l1 1l0 3l-1 1l-1 -1l-3 0l-1 -1zM501 649l4 6l-2 1l-4 -3l-1 2l2 1l-1 1l-3 0l-2 4l-2 1l-2 -2l2 4l0 3l-3 3l-6 0l-2 -2l1 -5l-1 -1l-2 0l-1 -2l1 -1l2 0l1 -1l-1 -1l2 -2l1 1l2 0l0 -2l-2 -2l1 -3l1 -1l1 2l4 0l4 -2l2 0l2 2zM466 645l3 3l-1 2l-2 0l-2 -2zM475 645l2 -1l1 2l-1 1zM480 642l2 -1l3 3l-2 2l-3 -2zM431 626l1 3l1 0l0 -2zM444 626l0 4l3 2l3 5l3 -3l3 0l1 1l0 -1l-3 0l-1 -1l0 -3l-3 -4l-2 0l-1 -2zM410 629l0 2l3 4l3 2l-1 1l0 2l1 1l0 3l2 2l-1 2l1 0l1 2l2 0l2 -1l0 -2l1 -1l4 4l0 3l-5 2l0 3l-3 2l-4 0l-6 -6l0 -3l-2 0l-1 1l-2 0l3 3l0 4l2 0l3 5l3 2l4 0l2 -3l7 0l8 -3l2 0l2 2l0 2l-3 2l1 2l1 0l3 -4l2 0l3 2l1 -1l-3 -2l1 -1l2 0l0 -3l-4 1l-4 -3l0 -6l-4 -3l0 -2l2 -1l0 -1l-1 -1l-2 0l-5 -5l0 -2l3 -2l0 -1l-1 -1l0 2l-1 1l-2 0l-3 -4l0 -2l1 -1l-1 -2l2 -3l-2 2l-4 -2l-1 2l-2 0l0 1l-4 3l-3 -2zM414 662l2 -1l1 2l-2 1zM426 659l1 -1l1 1l2 0l1 2l-1 1l-1 -1l-2 0zM431 659l2 -2l2 2l-1 1l-2 0zM431 653l1 1l0 2l-1 1l-1 -1l0 -2zM430 645l5 1l1 1l0 2l3 2l1 2l0 4l-1 1l-3 -1l-5 -4l0 -2l-2 -3l0 -2zM419 640l2 -1l2 2l0 2l-2 1zM428 636l2 3l-2 1l-2 3l-1 -1l0 -2zM421 636l2 -1l2 2l-1 1l-2 0zM416 630l1 -1l2 0l4 3l-1 1l-2 0l-1 -1l-2 0zM432 615l-2 0l-3 3l0 2l3 1l2 -2z"/>
<path fill="#FFC070" stroke="#FFC070" d="M800 821l-1 1l0 2l1 1l2 0l-1 -1l0 -3zM797 812l0 2l-3 2l0 1l4 -3zM1164 810l2 2l0 3l2 4l2 1l0 3l0 -3l-1 -1l0 -3l-2 -2l0 -3l-1 -1zM1115 811l7 13l3 -1l1 -2l-1 -2l-2 -1l1 -4l-5 3l-1 -1l2 -2l0 -4zM802 810l0 2l3 0l-1 -2zM1159 810l2 -1l-2 0zM1120 807l0 1l1 0l0 -1zM777 807l1 5l-2 2l2 1l0 -1l2 -1l1 2l1 0l1 -1l-1 -2l3 -2l-3 -2l-1 1l-2 0l-1 -2zM791 799l-2 2l1 1l1 -1zM773 792l-1 1l0 4l2 3l0 2l1 1l2 0l1 -1l4 1l1 -2l-1 -2l-5 -2l-2 3l-2 -2l1 -1zM1148 789l-1 1l0 2l-2 2l-2 0l2 3l5 4l0 1l3 0l1 1l1 -1l-4 -2l0 -3l1 -1l2 0l0 -1l2 -1l-6 1l-1 -1zM1144 789l0 1l1 0zM1138 789l0 1l2 0l0 -1zM804 790l0 1l3 0l3 2l0 -3l-1 1l-4 -2zM814 787l1 0l0 -1l5 -4l-2 1l-5 -1zM1136 776l-1 0l-2 3l1 0zM1109 771l0 6l1 1l0 2l6 -1l3 3l0 3l-2 2l-1 -1l0 -2l-3 2l-1 -2l-2 -1l0 2l-4 7l1 1l6 -1l1 -2l3 -2l3 0l3 -2l4 0l1 2l-3 2l1 2l-2 2l0 2l2 0l2 2l-2 3l1 1l-1 6l8 -1l6 -3l1 1l3 0l1 1l0 2l2 1l-1 2l-2 -1l0 4l-4 4l-3 1l-1 -1l0 -2l-2 -2l-2 0l0 1l-2 1l1 2l7 2l3 -3l5 0l4 -3l-3 -3l1 -1l2 0l1 1l5 -1l-1 -1l-1 1l-3 0l-2 -2l-2 0l-2 -2l0 -2l-1 -1l-2 1l-5 0l-2 2l-3 -4l-3 -2l0 -2l-1 -1l2 -2l2 -5l-3 -2l0 -2l-2 -2l-2 0l-3 -3l-2 0l-5 -4l-3 -1l-1 -1l0 -5zM1128 806l0 -2l1 -1l2 0l1 1l-1 2l-2 1zM737 776l1 4l4 6l1 -5l5 -4l2 1l-2 3l1 1l2 0l5 -5l4 2l2 -1l2 2l-2 3l0 2l3 3l2 4l3 0l-2 -3l5 -4l-1 -8l3 -3l3 0l1 1l0 4l3 3l3 1l4 4l0 1l-3 2l-1 -1l-4 0l-1 5l0 -2l1 -1l4 1l2 -2l2 0l0 -1l3 -2l1 1l0 2l2 1l0 3l-2 2l1 3l4 -2l2 2l1 3l2 0l4 -3l-2 0l-1 -1l0 -2l2 -2l-4 0l-3 -3l0 -3l3 -2l0 -2l-2 0l-2 2l-2 -1l-2 0l-1 1l-5 -3l-2 0l-5 -4l3 -3l2 0l5 -4l0 -3l-1 -1l-4 0l-2 -1l-1 -2l-4 0l-6 9l-3 3l-3 0l-1 1l-6 0l-1 -1l0 -1l2 -1l0 -5l-5 -4l-2 2l1 1l0 2l-4 3l-4 0l-1 2l-2 0l-1 2l-2 0l-1 1l-2 -3zM811 761l-1 -1l-1 2zM815 756l0 1l1 0l0 -1zM934 755l0 1l4 4l1 0l-1 -1l0 -2l-2 -2zM949 752l1 2l-1 3l2 1l1 -4zM944 747l0 2l1 1l3 0l-1 -2zM941 745l-2 1l2 0zM1113 744l0 2l1 0l1 -1zM1109 740l2 0zM483 671l0 1l1 0l0 -1zM415 662l0 1l1 0l0 -1zM427 659l0 1l2 0l1 1l0 -1l-2 0zM433 658l-1 1l2 0zM479 651l-2 1l-2 -1l0 2l-2 1l0 3l2 0l-1 -2l1 -2l3 0l1 1zM479 661l2 0l2 2l0 2l-1 1l0 2l1 1l6 0l2 -2l0 -3l-2 -4l1 -1l2 2l2 -1l2 -4l3 0l-2 -1l2 -3l1 0l1 2l3 1l1 2l2 0l0 -1l-2 0l-4 -6l-2 1l-2 -2l-2 0l-4 2l-4 0l-1 -2l-1 3l2 2l0 2l2 4l-1 1l-2 0l-2 -2l-1 -3l-1 1l1 1l-2 2l-2 0zM466 646l-1 2l1 1l2 0zM430 646l0 2l2 3l-1 5l0 -2l2 -1l3 3l3 1l0 -4l-1 -2l-3 -2l0 -2zM481 642l0 2l2 1l1 -1zM420 640l1 3l1 0l0 -2zM428 637l-2 3l0 2l1 -2l2 -1zM422 636l0 1l2 0z"/>
<path fill="#FFD999" stroke="#FFD999" d="M1112 878l-4 1l2 2zM1108 875l-3 0l-2 2l1 1l2 0zM779 838l0 1l3 1l-1 -2zM1136 833l2 0l1 1l2 -1l4 0l0 -5l-5 0zM1165 812l0 3l1 1l0 8l3 5l1 -5l-1 -1l0 -3l-2 -1l-2 -4zM1161 810l2 0zM1153 797l-1 0l0 3l0 -2zM1108 794l4 6l2 10l6 -1l1 1l0 4l-2 2l5 -3l1 1l-1 4l2 1l2 4l1 -1l12 1l4 -3l1 1l4 -2l2 -4l0 -2l3 -2l-2 1l-5 -1l3 3l-5 4l-5 0l-1 -1l3 -3l0 -4l1 -1l2 1l0 -1l-2 -1l0 -2l-5 -1l-5 3l-8 1l-1 -1l0 -2l1 -1l0 -3l-1 -1l2 -3l-1 -1l-2 0l-1 -1l0 -2l2 -2l-1 -2l3 -2l0 -1l-4 0l-3 2l-3 0l-2 1l-2 3zM1129 816l2 -1l1 -2l2 0l3 3l0 2l2 -1l2 1l-4 3l-1 -1l-5 -1zM1137 809l1 -1l2 0l2 2l-1 1l-2 0zM1119 807l2 -1l1 2l-2 1zM1116 799l3 3l0 2l1 1l-2 2l-3 -2l0 -5zM1110 781l3 4l2 -2l2 1l0 2l1 -1l0 -3l-2 -2zM748 778l-4 3l-1 2l0 4l13 15l1 10l-1 -10l-2 -3l1 -1l-1 -7l2 -2l-1 -1l1 -1l5 0l1 1l2 0l-3 -3l0 -2l2 -3l-1 -1l-2 1l-4 -2l-5 5l-2 0l-2 -2l2 -2l0 -1zM775 775l-2 2l1 8l-5 4l2 3l-1 1l-3 0l1 1l0 2l3 3l-3 2l-1 2l0 4l-1 1l1 2l-1 1l0 2l1 1l0 8l1 2l6 3l2 -2l2 1l2 -3l2 0l1 -1l6 0l1 -1l4 1l1 1l1 5l8 10l0 3l3 4l2 -2l-1 -16l-1 -1l0 -4l-1 -1l0 -5l-1 -1l0 -2l-3 0l-1 -1l0 -2l1 -1l2 0l2 -8l-3 2l-2 0l-3 -5l-4 2l-2 -3l2 -3l0 -3l-2 -1l0 -2l-2 1l-1 2l-2 0l-2 2l-4 -1l0 2l-1 1l-1 -1l1 -5l1 -1l4 0l1 1l2 -1l0 -1l-3 -3l-3 -1l-4 -4l0 -4zM800 820l2 1l0 3l1 1l-1 1l-2 0l-2 -2l0 -2zM797 811l2 3l-4 4l-1 0l-1 -2l3 -2l0 -2zM777 806l1 0l1 2l2 0l1 -1l4 3l-3 2l1 2l-2 2l-1 0l-1 -2l-1 0l-1 2l-3 -2l2 -2l-1 -2l0 -3zM791 798l1 1l0 2l-2 2l-2 -2zM773 791l2 4l0 2l-1 1l1 1l0 -1l3 -2l6 4l-2 4l-2 -1l-5 1l-2 -2l0 -2l-2 -3l0 -4z"/>
<path fill="#99850A" stroke="#99850A" d="M1122 877l2 0zM1164 811l-3 0l-1 -1l-1 1l-3 0l-3 2l0 2l-3 5l-4 2l-1 -1l-4 3l-12 -1l-1 2l-4 3l5 10l2 8l2 2l5 2l2 2l0 3l3 -2l-1 -2l1 -1l2 1l0 2l4 0l2 2l-1 2l1 0l1 -2l5 1l2 -2l5 1l2 -2l1 -7l1 -1l1 -15l-4 -6l0 -8l-1 -1zM1145 845l3 -2l3 2l3 4l4 -1l1 2l-3 3l-2 0l-3 -5l-2 -1l-2 1zM1135 833l5 -6l5 0l1 1l0 5l-1 1l-4 0l-2 1zM1138 809l1 1l2 0l-1 -1zM1116 800l0 5l2 1l1 -1l-1 -1l0 -2zM1155 795l-2 3l0 2l1 1l3 0l0 -4l1 -1l-1 -1zM756 788l1 1l-2 2l0 4l1 1l0 2l-1 1l2 3l0 5l1 1l-1 7l2 3l0 2l3 5l0 2l2 4l2 2l11 5l4 -1l2 2l0 2l6 1l7 3l10 0l-3 -4l0 -3l-8 -10l-1 -5l-2 -1l-2 0l-1 1l-6 0l-1 1l-2 0l-2 3l-2 -1l-2 2l-1 -1l-2 0l-4 -3l-1 -2l0 -8l-1 -1l0 -2l1 -1l-1 -2l1 -1l0 -4l1 -2l3 -2l-3 -3l-1 -5l-2 -2l-2 0l-1 -1z"/>
<path fill="#BAAE05" stroke="#BAAE05" d="M1128 878l1 2l3 0l1 -1l-2 0l-2 -2zM1131 876l1 1l0 -1zM1144 874l-3 0l-2 2l-4 1l2 1l7 -3zM1138 872l-1 1l1 0zM1145 871l0 1l1 0zM1153 871l-2 -2l0 2l-3 2zM1141 855l1 8l2 3l2 -1l5 0l5 4l2 -1l-1 -2l1 -2l2 1l1 -1l1 1l1 -1l-2 0l-1 -1l0 -3l2 -2l1 1l-1 2l1 1l4 -3l-2 -4l-1 1l-5 -1l-2 2l-5 -1l0 1l-2 1l-1 -1l1 -2l-1 -1l-4 0l-1 -1l0 -2l-1 0l1 2zM1146 845l1 2l1 -1l3 1l3 5l2 0l2 -2l0 -1l-4 1l-1 -2l-5 -4z"/>
<path fill="#B870CB" stroke="#B870CB" d="M264 328l1 1l0 5l5 1l1 -2l-2 -1l-2 -3z"/>
<path fill="#87D5F0" stroke="#87D5F0" d="M314 609l1 5l3 2l1 -1l-1 -4l-1 1l-2 0l-1 -1zM295 553l0 4l-1 1l3 -1l2 2l0 1l-2 1l0 3l1 1l2 -1l2 -3l-3 -3l-1 -3l-1 1zM300 559l1 1l0 2l-1 1l-2 -2zM293 545l-2 2l2 0l1 1l0 -3zM254 495l-1 1l0 3l-4 4l4 -3l0 -4zM252 490l0 2l2 1zM250 481l2 3l1 0l-1 -1l0 -2zM248 478l1 1l1 0l-1 -1zM246 468l0 1l2 1l0 -1zM249 444l0 1l1 -1zM249 437l1 2l0 -2z"/>
<path fill="#4D4D4D" stroke="#4D4D4D" d="M484 657l2 3l2 0l-1 -3zM445 637l3 0l0 -2l-2 0zM385 559l1 7l1 1l-1 1l2 3l4 3l2 5l6 5l4 1l-2 -2l-2 0l-3 -2l-4 -9l-4 -3l0 -6l-2 -3l1 -1z"/>
<path fill="#FFFF00" stroke="#FFFF00" d="M1109 874l0 2l-2 1l-1 2l-2 0l2 2l3 0l-2 -2l4 -2zM1155 869l-4 -3l-5 0l-1 1l3 0l1 1l-1 1l-9 3l-1 2l-2 -1l-7 3l-3 0l-2 2l-3 0l-1 1l3 3l1 -1l6 0l-3 -2l2 -3l2 2l4 1l-1 -2l1 -1l4 -1l2 -2l6 1l0 -1l3 -2l0 -2l1 -1l3 3zM1130 876l2 -1l1 2l-1 1zM1144 871l1 -1l2 2l-2 1zM1158 865l1 2l2 -1l0 -1l-1 1zM1162 859l-1 1l0 3l3 0l-3 -2z"/>
<path fill="#CC98DB" stroke="#CC98DB" d="M1361 400l-1 1l-7 1l-5 6l-2 0l0 1l-5 4l2 0l4 3l0 2l1 1l-1 1l1 2l-1 2l2 5l3 0l7 3l1 -2l3 -2l-1 -1l0 -6l-4 -3l0 -2l3 -3l0 -2l-1 -1l4 -3l0 -4l-1 -2zM1361 411l-3 2l-3 4l-4 0l-1 -1l1 -2l-1 -1l2 -2l2 1l2 -2l4 0z"/>
<path fill="#DDD900" stroke="#DDD900" d="M1127 823l-3 1l-1 2l1 1l3 -2z"/>
</g>
<g class="b">
<path d="M268.2 236.2 L268.8 240.3 L274.1 241.5 L275.9 246.2 L273.5 250.3 L277.6 253.8 L278.2 259.1 L280.6 261.5 L277.6 265.0 L278.2 272.1 L277.6 279.1 L274.1 282.6 L269.4 285.0 L265.3 287.4 L261.2 283.8 L260.0 276.8 L262.9 271.5 L266.5 266.2 L267.1 262.1 L264.1 259.7 L260.0 257.4 L251.8 256.8 L243.5 256.2 L235.3 253.8 L227.1 251.5 L226.5 257.9 L229.4 263.8 L233.5 268.5 L235.9 275.6 L238.8 279.2 L238.8 283.8 L243.5 285.2 L247.1 288.5 L240.6 290.9 L243.0 293.9 L246.5 295.6 L241.8 297.9 L242.4 306.2 L243.0 317.0 L242.6 335.5 L240.5 351.3 L239.4 367.2 L238.4 371.1 L240.7 375.6 L238.4 379.3 L236.7 383.0 L234.0 386.3 L234.5 390.9 L231.7 394.0 L230.4 397.8 L231.6 401.6 L230.8 405.9 L233.1 409.4 L235.9 412.4 L235.9 416.3 L236.7 420.0 L237.7 426.6 L238.0 430.7 L239.6 434.5 L240.3 438.5 L238.8 450.4 L235.9 453.4 L235.3 457.6 L233.5 461.2 L235.9 465.1 L237.6 469.5 L240.9 472.8 L242.2 476.1 L243.1 479.6 L245.0 482.7 L246.2 486.0 L248.3 501.9 L250.5 504.8 L253.8 506.7 L256.8 508.9 L259.1 511.8 L260.9 515.1 L263.0 525.6 L266.9 526.6 L270.5 528.2 L273.5 530.9 L273.5 538.8 L275.7 546.8 L278.9 548.4 L281.6 550.8 L284.1 553.4 L286.2 562.6 L286.5 566.5 L289.7 569.0 L291.6 572.2 L292.5 575.8 L295.9 578.6 L296.9 582.8 L298.8 586.4 L301.8 588.9 L304.2 591.9 L307.3 594.3 L310.4 597.2 L312.5 600.9 L312.5 615.4 L316.3 619.4 L332.5 620.7 L336.8 622.4 L341.0 624.1 L344.4 626.4 L347.3 629.2 L357.8 631.3 L359.9 637.9 L366.3 638.7 L370.5 641.8 L374.3 642.8 L376.7 645.4 L378.9 648.4 L380.6 653.3 L383.1 657.7 L384.2 665.6 L386.9 670.1 L390.5 669.8 L394.1 669.1 L397.8 669.5 L401.5 670.3 L405.0 668.8 L408.7 669.3 L412.3 668.6 L415.9 668.1 L419.5 667.3 L423.1 667.0 L426.7 666.5 L430.3 666.0 L433.8 664.7 L437.5 665.1 L435.6 671.2 L514.4 701.8 L574.6 701.8 L574.6 689.9 L610.0 689.9 L613.2 691.2 L614.3 695.1 L617.0 698.1 L619.9 701.0 L624.1 702.2 L625.7 706.8 L629.6 708.4 L632.8 711.0 L637.1 712.3 L638.9 716.6 L642.3 719.0 L645.8 722.0 L646.5 726.5 L648.6 730.3 L650.0 734.2 L650.2 738.4 L650.0 742.7 L652.8 746.2 L654.5 750.5 L659.1 751.4 L663.7 753.2 L667.6 756.2 L671.6 757.8 L673.9 762.0 L678.1 763.3 L682.3 763.9 L684.0 759.6 L687.6 756.7 L690.5 752.8 L689.6 747.7 L691.8 743.5 L695.6 742.1 L699.2 740.1 L709.7 742.2 L718.1 743.0 L720.6 745.9 L723.7 748.3 L725.9 751.5 L728.7 754.1 L730.4 757.5 L733.1 760.4 L734.1 764.2 L735.5 767.8 L737.1 771.3 L738.1 775.1 L740.0 778.6 L741.3 782.3 L743.2 785.7 L745.4 788.8 L749.1 790.7 L750.6 794.4 L753.3 797.1 L756.0 799.8 L758.2 802.9 L759.2 814.8 L760.1 818.5 L762.1 821.7 L762.9 825.4 L765.1 828.6 L766.6 832.0 L769.5 834.5 L773.7 834.4 L776.4 837.3 L780.5 837.4 L783.4 839.9 L787.6 841.3 L791.9 842.4 L796.1 843.9 L807.7 843.9 L806.6 829.4 L806.2 825.8 L804.5 822.5 L803.8 818.9 L803.4 815.3 L803.6 811.6 L802.4 808.2 L804.0 803.9 L805.4 799.5 L806.6 795.0 L810.0 792.0 L811.6 787.5 L815.0 784.5 L819.3 782.8 L821.9 778.9 L825.6 776.5 L829.9 775.7 L833.5 773.5 L836.1 769.5 L840.3 768.6 L844.2 767.8 L845.3 763.4 L849.3 762.8 L851.9 760.3 L853.5 756.5 L857.2 755.4 L860.4 752.8 L863.5 750.1 L866.8 748.3 L870.7 748.4 L873.7 746.0 L877.2 744.8 L880.0 742.5 L890.1 741.0 L894.5 742.6 L898.2 745.5 L901.3 747.9 L905.2 748.5 L911.3 746.5 L912.3 741.5 L917.3 739.9 L922.4 742.5 L925.4 746.5 L930.5 748.5 L934.5 753.6 L938.5 758.6 L942.6 758.6 L945.6 754.6 L950.6 756.6 L954.7 759.6 L957.7 754.6 L958.7 749.5 L962.7 750.5 L965.8 755.6 L970.8 758.6 L970.8 763.7 L974.9 762.7 L979.4 758.6 L976.9 755.6 L970.8 752.6 L969.5 749.1 L966.8 746.5 L968.8 741.5 L971.6 739.1 L974.9 737.4 L975.9 732.4 L970.8 734.4 L967.8 733.4 L968.8 730.4 L970.8 727.3 L976.9 725.3 L984.9 724.3 L991.0 727.3 L997.1 727.3 L997.7 723.3 L999.8 719.5 L999.6 715.2 L999.9 719.4 L1000.3 723.6 L1002.6 727.3 L1005.6 728.8 L1007.0 725.3 L1010.2 723.3 L1014.2 721.3 L1021.3 720.3 L1025.9 720.1 L1029.3 723.3 L1037.4 722.3 L1041.1 725.3 L1045.5 727.3 L1049.0 729.8 L1051.5 733.4 L1053.5 736.8 L1052.4 741.1 L1054.6 744.5 L1061.6 742.5 L1065.2 742.3 L1068.6 741.3 L1071.7 739.4 L1076.3 739.6 L1080.7 737.1 L1084.7 734.3 L1089.3 736.3 L1093.2 739.6 L1094.8 743.4 L1096.8 747.0 L1099.5 750.1 L1102.0 753.0 L1101.9 757.2 L1104.8 759.9 L1107.0 763.6 L1109.1 767.4 L1111.1 771.3 L1112.1 784.5 L1111.1 788.6 L1109.0 792.4 L1111.6 796.4 L1114.2 800.3 L1115.3 808.2 L1117.6 811.5 L1119.0 815.2 L1120.6 818.8 L1124.8 824.1 L1127.8 826.7 L1127.9 830.7 L1129.0 835.5 L1131.1 839.9 L1133.2 846.5 L1136.8 849.9 L1141.6 850.5 L1142.6 854.1 L1145.2 857.3 L1145.8 861.1 L1145.8 865.0 L1154.3 865.0 L1160.6 863.7 L1161.6 861.0 L1163.9 857.4 L1163.5 852.8 L1165.9 849.2 L1168.0 834.6 L1168.4 821.4 L1166.9 818.1 L1164.2 815.0 L1165.9 810.9 L1163.0 806.9 L1164.0 801.8 L1161.6 797.7 L1161.0 793.7 L1158.5 790.0 L1158.9 785.8 L1157.6 782.0 L1157.4 777.9 L1154.7 774.7 L1153.7 770.6 L1153.2 766.3 L1150.1 763.3 L1148.0 758.0 L1146.6 754.4 L1146.0 750.5 L1144.8 746.7 L1143.4 743.1 L1141.6 739.6 L1139.5 727.7 L1138.5 717.9 L1138.9 713.5 L1140.8 709.5 L1141.6 705.2 L1142.0 700.7 L1143.4 696.3 L1144.8 692.0 L1146.0 688.5 L1149.6 686.7 L1151.1 683.3 L1155.3 678.8 L1158.1 674.9 L1160.6 670.9 L1164.6 669.4 L1166.8 665.2 L1171.1 664.3 L1175.0 662.6 L1178.6 660.6 L1181.7 657.7 L1184.1 653.6 L1186.9 649.8 L1189.4 647.1 L1191.7 644.3 L1192.2 640.5 L1195.7 637.6 L1199.6 635.2 L1212.2 635.2 L1213.7 630.6 L1215.4 626.0 L1217.3 622.4 L1220.8 620.5 L1223.8 618.1 L1227.4 617.3 L1231.0 617.1 L1234.5 616.4 L1238.1 616.0 L1241.7 615.4 L1243.4 612.3 L1245.2 609.3 L1247.0 606.2 L1246.0 606.0 L1248.5 603.0 L1251.0 600.0 L1244.0 598.0 L1248.0 596.1 L1252.0 594.0 L1249.2 591.8 L1247.0 589.0 L1256.0 590.0 L1259.0 585.0 L1255.6 583.6 L1253.0 581.0 L1257.0 577.0 L1259.3 581.5 L1263.8 584.0 L1262.7 580.5 L1260.8 577.2 L1260.4 573.4 L1259.0 570.0 L1256.0 563.9 L1253.9 554.7 L1247.0 553.4 L1247.0 549.4 L1247.0 537.5 L1247.0 528.3 L1243.6 526.7 L1241.0 523.8 L1236.5 524.0 L1234.3 520.4 L1231.3 517.2 L1227.0 516.4 L1229.4 512.3 L1230.4 507.7 L1231.6 503.2 L1232.3 506.8 L1232.8 510.5 L1234.6 513.9 L1234.3 517.7 L1237.2 519.8 L1240.1 521.7 L1243.9 522.2 L1246.6 524.6 L1244.9 517.7 L1242.8 512.4 L1243.8 500.6 L1242.8 493.9 L1244.9 492.6 L1247.7 490.4 L1250.4 487.9 L1252.2 484.7 L1253.3 488.7 L1251.1 492.6 L1249.1 496.6 L1247.0 504.5 L1249.1 517.7 L1252.1 519.8 L1253.7 523.3 L1256.5 525.6 L1259.6 528.3 L1257.6 532.9 L1255.4 537.5 L1253.3 549.4 L1256.1 545.9 L1260.9 543.9 L1261.7 538.8 L1265.5 536.3 L1264.8 531.5 L1267.2 528.2 L1269.3 524.8 L1272.2 521.4 L1272.7 516.9 L1273.3 513.8 L1272.3 505.0 L1270.8 501.8 L1267.6 499.7 L1265.9 496.6 L1264.4 492.0 L1262.8 487.3 L1262.8 482.6 L1263.8 486.0 L1267.4 487.9 L1270.5 490.2 L1272.3 493.9 L1273.6 497.8 L1275.8 501.1 L1278.1 497.8 L1281.6 495.7 L1283.7 492.3 L1287.0 490.0 L1289.9 486.2 L1292.3 482.1 L1294.4 472.8 L1295.4 460.9 L1290.2 459.6 L1294.8 454.9 L1296.5 450.4 L1300.7 449.6 L1302.8 446.4 L1307.8 445.0 L1312.3 442.4 L1318.6 439.8 L1335.5 438.5 L1340.5 438.0 L1348.5 436.9 L1350.2 430.6 L1354.4 434.0 L1356.5 433.2 L1360.6 430.8 L1363.9 427.4 L1366.0 432.7 L1369.4 430.3 L1373.4 429.8 L1380.8 428.7 L1380.8 422.6 L1375.5 418.2 L1378.1 421.7 L1379.7 425.8 L1369.2 425.8 L1366.0 421.3 L1363.2 418.0 L1361.5 414.0 L1358.7 410.8 L1361.3 408.0 L1364.8 406.0 L1367.1 402.8 L1364.8 399.9 L1362.4 397.0 L1364.6 391.7 L1366.6 388.8 L1368.1 385.7 L1370.2 382.6 L1370.7 378.4 L1374.5 376.4 L1379.0 374.4 L1383.9 373.8 L1388.0 373.0 L1390.7 369.2 L1395.9 370.7 L1398.7 367.2 L1401.3 363.5 L1404.3 360.0 L1405.0 355.3 L1405.0 359.3 L1417.6 357.9 L1421.3 354.9 L1426.1 355.3 L1430.3 354.0 L1433.5 351.8 L1437.7 351.4 L1440.2 347.9 L1443.4 345.8 L1440.6 343.1 L1438.0 340.3 L1435.6 337.3 L1433.5 333.4 L1433.5 324.9 L1430.8 322.1 L1428.4 319.1 L1426.5 315.7 L1426.1 286.1 L1422.1 284.7 L1418.8 282.4 L1416.6 278.7 L1413.4 280.5 L1410.1 282.1 L1405.9 280.9 L1402.9 283.2 L1401.8 279.7 L1399.7 276.6 L1395.9 275.8 L1393.6 278.6 L1392.4 282.1 L1391.9 286.0 L1387.4 287.5 L1386.5 291.2 L1384.7 294.3 L1381.7 296.6 L1380.9 300.4 L1378.7 303.3 L1377.8 307.6 L1374.5 310.4 L1372.0 313.5 L1373.2 317.7 L1371.3 321.0 L1369.5 325.0 L1366.1 327.5 L1362.9 330.2 L1361.8 334.2 L1350.2 334.2 L1348.1 340.5 L1279.6 340.8 L1275.7 340.7 L1272.9 343.1 L1269.4 344.0 L1266.9 346.9 L1263.8 348.7 L1260.4 351.7 L1257.5 355.3 L1254.4 357.2 L1251.3 359.1 L1249.2 362.3 L1245.9 364.0 L1249.1 369.8 L1249.1 379.1 L1242.8 381.2 L1238.8 384.1 L1234.3 386.2 L1219.6 386.5 L1215.6 387.1 L1212.2 383.8 L1208.4 383.3 L1204.4 384.5 L1200.6 383.8 L1196.7 384.6 L1193.1 386.4 L1189.0 386.7 L1189.8 391.7 L1192.2 396.2 L1189.5 398.6 L1188.6 402.5 L1184.2 403.3 L1182.7 406.8 L1178.6 407.1 L1177.5 411.6 L1174.1 412.9 L1170.8 415.2 L1166.9 416.0 L1162.7 416.6 L1159.6 419.4 L1156.0 421.3 L1152.2 422.6 L1149.2 424.8 L1145.7 425.9 L1143.0 428.4 L1139.1 428.9 L1136.7 432.0 L1133.2 433.2 L1129.0 434.2 L1124.8 434.5 L1120.6 435.4 L1116.3 435.8 L1112.1 434.5 L1107.7 433.7 L1104.6 430.0 L1100.0 429.6 L1096.3 427.1 L1099.4 425.0 L1100.7 421.6 L1102.7 418.7 L1104.8 411.5 L1109.0 408.1 L1113.1 407.0 L1116.3 404.2 L1118.0 393.6 L1116.8 389.9 L1117.6 385.9 L1113.7 382.8 L1114.4 378.7 L1114.1 374.9 L1113.2 371.1 L1109.7 368.2 L1105.8 365.9 L1102.6 367.6 L1099.9 370.2 L1096.4 371.2 L1093.4 373.3 L1090.1 374.8 L1086.9 376.4 L1089.1 373.5 L1091.0 370.3 L1092.0 366.6 L1093.2 363.0 L1096.3 360.6 L1098.9 356.6 L1099.5 348.7 L1097.3 344.2 L1096.8 339.2 L1094.2 336.0 L1091.0 333.3 L1089.0 329.7 L1085.6 327.8 L1081.4 327.7 L1078.2 325.4 L1074.8 323.6 L1069.4 320.2 L1067.4 323.6 L1065.5 327.0 L1064.7 331.0 L1056.3 332.8 L1054.0 336.0 L1053.7 339.8 L1052.2 343.3 L1051.0 346.8 L1052.1 335.5 L1047.3 336.4 L1045.2 341.0 L1041.5 343.4 L1037.3 348.7 L1036.9 352.7 L1035.9 356.7 L1033.0 360.2 L1034.2 364.6 L1033.1 368.5 L1035.2 387.5 L1035.4 391.7 L1036.2 395.8 L1038.4 399.4 L1036.7 409.4 L1032.2 412.1 L1032.1 417.4 L1030.5 420.8 L1027.7 423.5 L1025.3 426.3 L1021.5 426.4 L1018.6 428.9 L1015.2 430.0 L1010.6 427.7 L1008.5 423.2 L1009.5 418.7 L1005.9 415.3 L1006.5 410.9 L1004.7 407.1 L1004.7 404.2 L1002.6 392.3 L1002.4 388.3 L1004.4 384.9 L1005.5 381.3 L1005.5 377.4 L1006.8 373.8 L1007.8 364.5 L1008.1 360.8 L1009.7 357.4 L1011.0 354.0 L1011.6 350.1 L1014.6 347.4 L1015.7 343.8 L1018.4 341.0 L1018.3 336.7 L1021.5 334.2 L1019.2 336.8 L1016.1 338.6 L1013.8 341.3 L1009.6 341.8 L1009.6 347.1 L1005.0 347.2 L1003.5 350.8 L1000.5 352.7 L1002.8 349.1 L1004.7 345.4 L1007.0 341.9 L1008.9 338.1 L1011.0 334.6 L1014.6 332.0 L1015.4 327.5 L1017.1 323.7 L1020.5 321.0 L1032.1 319.6 L1036.1 317.7 L1040.4 316.6 L1044.7 315.7 L1070.0 317.8 L1073.4 316.3 L1077.1 316.1 L1080.5 314.9 L1086.9 315.2 L1085.6 310.9 L1081.8 308.4 L1080.1 304.4 L1077.4 301.2 L1074.0 299.8 L1071.9 296.1 L1067.8 295.9 L1064.7 294.0 L1063.7 301.2 L1060.3 298.0 L1056.1 298.8 L1052.3 297.9 L1048.2 298.4 L1044.3 297.8 L1040.5 296.7 L1036.4 298.9 L1032.0 300.3 L1027.9 302.5 L1013.1 300.6 L1010.5 296.5 L1008.9 291.9 L1004.5 291.7 L1000.9 288.1 L996.2 289.3 L998.6 286.2 L1000.6 283.0 L1001.1 279.0 L1002.6 275.5 L997.6 275.3 L994.8 279.3 L991.0 281.3 L988.8 284.3 L984.9 284.9 L981.4 286.1 L979.4 289.3 L975.6 290.4 L971.6 290.0 L968.0 291.7 L964.2 292.6 L960.4 293.8 L956.3 294.5 L953.1 296.9 L949.9 299.3 L947.0 297.1 L944.9 294.0 L941.6 292.2 L939.4 289.3 L935.1 291.9 L930.8 290.6 L927.6 294.7 L923.5 294.1 L919.9 296.5 L915.8 295.9 L914.1 294.6 L916.7 292.0 L920.2 290.6 L922.9 288.2 L924.8 284.7 L929.0 284.1 L930.9 280.8 L935.0 279.6 L938.6 277.7 L940.3 272.9 L944.3 271.6 L947.8 269.5 L951.9 269.8 L954.4 265.8 L958.7 266.6 L962.0 264.6 L965.1 262.3 L968.9 261.5 L965.1 261.5 L961.9 259.7 L958.3 258.9 L942.5 258.9 L928.8 259.7 L926.6 256.3 L922.8 255.5 L919.5 253.9 L916.2 252.3 L912.1 253.1 L909.3 250.5 L906.0 249.2 L903.2 246.7 L899.7 245.7 L896.2 245.2 L878.3 247.5 L875.1 245.7 L871.2 246.6 L868.3 243.9 L864.7 243.7 L861.4 242.5 L859.3 227.2 L849.8 225.1 L849.8 235.1Z"/>
<path d="M1294.8 457.0 L1300.7 457.0 L1312.3 455.7 L1316.6 456.5 L1319.0 451.1 L1323.6 453.1 L1327.0 451.2 L1330.3 449.2 L1334.2 448.7 L1337.3 446.5 L1340.5 444.6 L1331.3 442.4 L1327.5 443.9 L1324.9 446.9 L1314.4 447.7 L1301.8 449.8 L1297.6 451.7Z"/>
<path d="M240.9 307.2 L252.5 307.8 L258.8 310.4 L265.1 311.7 L267.2 317.8 L268.3 323.6 L273.4 323.6 L277.8 326.2 L282.2 325.1 L286.2 322.8 L300.9 324.9 L305.0 326.4 L308.5 324.4 L312.3 324.7 L315.7 322.3 L319.6 321.5 L323.4 320.3 L327.0 318.4 L330.8 317.3 L334.7 316.5 L347.3 314.4 L391.1 314.4"/>
<path d="M388.6 235.1 L388.6 303.3 L389.1 306.9 L391.1 309.9 L391.1 314.4"/>
<path d="M391.1 314.4 L394.1 318.3 L396.7 322.8 L398.9 327.6 L400.0 332.8 L398.6 336.8 L394.9 338.9 L392.6 342.1 L388.4 347.4 L388.2 351.9 L385.2 355.3 L389.4 360.6 L388.8 371.1 L388.8 420.0"/>
<path d="M409.4 235.1 L409.4 262.1 L411.4 265.2 L413.8 268.0 L414.4 271.9 L416.8 274.7 L419.1 278.1 L422.5 280.2 L426.5 281.8 L429.0 284.8 L431.6 287.9 L434.0 291.3 L437.0 294.3 L440.0 297.2 L445.3 297.2 L443.2 309.1 L442.1 324.9 L452.6 323.6 L454.6 326.6 L457.6 328.9 L459.2 332.1 L461.1 335.2 L463.2 338.1 L464.2 346.1 L468.4 348.1 L470.3 352.4 L473.7 355.3 L486.4 355.3 L490.2 355.4 L493.9 353.6 L497.8 354.4 L501.4 352.1 L505.3 352.7 L514.8 354.5"/>
<path d="M514.8 340.8 L514.8 446.4"/>
<path d="M236.7 420.0 L514.8 420.0"/>
<path d="M514.8 340.8 L662.3 340.8"/>
<path d="M662.3 235.1 L662.3 446.4"/>
<path d="M514.8 446.4 L704.4 446.4 L704.4 472.8"/>
<path d="M662.3 315.9 L820.1 315.9"/>
<path d="M806.0 235.1 L808.3 239.2 L808.9 243.7 L808.7 248.3 L807.7 261.5 L808.7 265.1 L810.7 268.2 L813.1 271.1 L814.0 274.7 L815.0 290.6 L816.0 294.6 L817.3 298.5 L818.9 302.3 L819.3 306.4 L820.1 315.9 L817.5 318.6 L815.4 321.5 L814.0 324.9 L817.3 327.0 L819.8 330.0 L822.4 332.8 L822.4 380.4 L821.8 384.0 L819.9 387.3 L819.3 390.9 L821.4 394.7 L820.8 399.0 L820.9 403.2 L822.4 407.1"/>
<path d="M662.3 393.6 L779.2 393.6 L782.3 396.3 L786.5 397.2 L789.8 399.7 L802.4 397.6 L806.0 400.9 L810.8 400.2 L813.0 403.8 L817.2 404.2 L822.4 407.1 L824.5 414.7 L825.6 418.1 L828.7 420.7 L827.4 425.1 L829.8 427.9 L831.3 432.3 L834.0 436.3 L834.0 441.1 L835.1 454.3 L837.2 458.3 L841.0 460.9 L842.2 465.3 L844.3 469.0 L846.4 472.8 L851.1 474.9 L855.1 478.1 L853.0 481.9 L851.9 486.0 L854.8 489.5 L857.7 493.1 L861.2 496.1 L861.0 565.3"/>
<path d="M704.4 472.8 L846.4 472.8"/>
<path d="M556.9 446.4 L556.9 701.8"/>
<path d="M451.8 420.0 L451.8 573.2 L449.5 577.1 L440.0 575.3 L436.8 576.3 L435.7 580.0 L435.7 583.6 L438.8 586.9 L436.6 590.7 L438.2 594.2 L440.3 597.6 L437.2 601.5 L439.4 604.9"/>
<path d="M451.8 552.0 L861.0 552.0"/>
<path d="M704.4 472.8 L704.4 552.0"/>
<path d="M684.4 552.0 L683.4 684.1 L608.1 684.1 L608.1 689.9"/>
<path d="M684.4 565.3 L747.6 565.3 L747.6 616.5 L751.9 618.8 L756.1 621.2 L764.5 622.0 L768.4 624.6 L772.7 626.0 L777.1 627.3 L787.7 627.8 L792.3 629.0 L796.1 631.8 L806.6 633.9 L810.8 637.9 L815.0 636.4 L819.3 635.2 L823.2 637.3 L827.4 638.2 L831.9 637.9 L835.1 635.9 L839.3 637.1 L842.4 634.7 L853.0 634.7 L856.8 636.4 L860.4 638.5 L863.9 640.8 L873.2 643.2 L873.2 684.1 L874.6 687.4 L877.2 689.9 L878.3 693.3 L878.6 697.9 L881.5 701.4 L883.5 705.2 L882.2 709.1 L882.3 713.2 L881.3 717.1 L880.4 721.1 L879.3 734.3 L877.2 744.8"/>
<path d="M863.9 640.8 L865.0 594.3 L864.5 590.7 L863.7 587.1 L863.8 583.4 L864.0 579.6 L862.5 576.1 L862.1 572.5 L862.9 568.7 L861.0 565.3"/>
<path d="M326.2 420.0 L326.2 499.2 L439.4 604.9 L440.6 610.2 L443.4 614.5 L445.3 619.4 L449.5 623.9 L446.3 627.6 L443.2 631.3 L441.5 641.8 L439.6 645.8 L437.9 649.8 L439.4 653.5 L441.7 656.9 L440.9 661.6 L437.5 665.1"/>
<path d="M822.4 380.4 L932.6 380.4"/>
<path d="M836.7 457.0 L921.9 457.0 L925.9 459.0 L928.4 462.8"/>
<path d="M915.8 295.9 L910.1 296.9 L909.9 311.7 L906.5 314.3 L905.0 318.2 L902.3 321.3 L900.4 324.9 L902.5 332.8 L900.4 347.4 L904.0 349.0 L907.8 350.2 L909.9 354.0 L914.0 356.8 L918.3 359.3 L920.6 361.9 L924.1 363.3 L925.9 366.5 L928.8 368.5 L930.5 372.3 L930.4 376.7 L932.6 380.4 L933.0 390.9 L935.1 400.2 L938.3 402.4 L941.5 404.5 L944.8 406.5 L948.3 408.5 L949.9 412.1 L951.3 415.8 L954.5 418.6 L955.2 422.6 L954.0 426.8 L952.0 430.6 L948.6 432.3 L946.5 436.1 L943.0 437.6 L938.7 438.1 L936.2 441.1 L935.1 453.0 L934.1 457.1 L931.4 460.1 L928.4 462.8 L926.7 472.8 L928.8 478.1 L931.9 480.6 L933.0 484.5 L937.5 486.1 L935.2 492.1 L939.4 493.9 L942.1 497.9 L944.6 501.9 L949.7 502.0 L954.1 504.5 L954.5 509.8 L954.5 513.7 L953.4 517.2 L950.9 520.4 L952.3 525.1 L957.7 525.2 L960.4 528.3 L961.8 531.6 L963.0 535.1 L964.4 538.4 L967.8 540.6 L968.9 544.1 L970.9 547.3 L974.0 549.6 L976.2 552.6 L975.2 562.6 L968.9 565.3 L967.0 569.5 L965.8 574.0 L964.6 578.5 L963.8 582.2 L961.6 585.4 L961.8 589.6 L959.5 592.8 L957.0 595.8 L956.2 599.6 L956.2 604.9 L952.0 610.2 L950.1 613.8 L948.3 617.5 L945.7 620.7 L943.4 623.8 L940.9 626.7 L939.3 630.1 L938.3 633.9 L937.1 637.9 L936.6 642.2 L934.8 646.0 L933.0 649.8 L934.1 657.7 L935.0 662.2 L935.8 666.9 L938.3 670.9 L937.3 678.8 L935.7 682.1 L934.7 685.6 L932.5 688.5 L929.0 690.7 L928.8 694.7 L926.9 698.4 L927.0 702.7 L925.7 706.6 L924.6 710.5 L964.0 710.5 L962.5 721.1 L965.3 724.3 L965.5 728.7 L967.8 732.2"/>
<path d="M964.6 578.5 L950.5 578.5 L952.6 574.2 L955.1 570.2 L955.2 565.3 L861.0 565.3"/>
<path d="M944.8 406.5 L1004.7 407.1"/>
<path d="M949.9 299.3 L953.3 300.8 L956.7 302.1 L959.9 304.2 L964.3 303.2 L967.0 306.3 L970.8 306.8 L973.8 309.2 L977.3 310.4 L981.3 309.3 L984.4 311.6 L987.7 313.3 L990.8 315.3 L994.7 314.7 L997.9 316.5 L999.9 319.7 L1001.4 323.1 L1003.6 326.2 L1003.6 330.2 L1006.3 334.1 L1008.9 338.1"/>
<path d="M976.2 552.6 L989.9 550.2 L992.3 547.6 L994.3 544.7 L996.6 541.9 L998.4 538.8 L999.4 530.9 L1003.9 528.3 L1008.9 527.0 L1012.4 528.4 L1016.3 528.7 L1019.4 530.9 L1023.0 530.4 L1026.5 529.2 L1030.0 528.3 L1033.5 525.4 L1036.3 521.7 L1039.7 520.4 L1043.3 519.5 L1046.8 518.5 L1049.7 516.0 L1049.3 511.3 L1052.9 509.2 L1055.2 506.4 L1058.6 504.3 L1062.0 502.3 L1064.5 499.1 L1067.5 496.6 L1074.2 496.6 L1078.8 499.4 L1080.5 504.5 L1083.8 506.6 L1088.0 506.4 L1091.1 509.0 L1094.7 508.0 L1098.4 507.3 L1102.2 507.3 L1105.8 506.4 L1108.7 509.0 L1111.7 511.5 L1114.2 514.5 L1118.0 511.4 L1122.7 509.8 L1122.7 500.6 L1128.1 500.1 L1132.2 496.6 L1134.3 491.8 L1139.5 488.7 L1142.6 486.8 L1145.7 484.9 L1148.8 483.2 L1151.1 480.2 L1150.5 476.2 L1151.3 472.6 L1154.8 469.7 L1154.6 465.7 L1156.0 462.3 L1158.1 455.9"/>
<path d="M999.4 530.9 L998.8 526.1 L1000.9 522.0 L1002.6 517.7 L1004.8 513.8 L1009.1 511.4 L1011.0 507.2 L1010.4 490.0 L1010.4 427.7"/>
<path d="M1067.5 496.6 L1067.9 427.9"/>
<path d="M1025.3 426.3 L1067.9 426.3 L1067.9 427.9 L1096.3 427.1"/>
<path d="M1158.1 420.0 L1158.1 480.2"/>
<path d="M1158.1 480.2 L1257.7 480.2"/>
<path d="M1114.2 514.5 L1114.2 523.0 L1116.7 526.3 L1117.5 530.6 L1120.6 533.6 L1124.7 534.5 L1127.5 537.8"/>
<path d="M1127.5 537.8 L1123.6 539.4 L1122.0 543.7 L1119.3 546.7 L1115.1 548.0 L1112.1 550.7 L1109.3 553.8 L1105.1 554.4 L1101.4 556.0 L1098.9 559.6 L1095.0 560.8 L1091.5 562.6"/>
<path d="M968.9 565.3 L999.4 565.3 L999.0 560.5 L1032.1 561.3 L1091.5 562.6 L1133.6 562.9 L1256.0 563.9"/>
<path d="M1133.6 562.9 L1131.7 566.0 L1130.1 569.3 L1128.4 572.5 L1126.9 575.8 L1122.9 578.0 L1118.7 578.9 L1114.2 578.5 L1109.9 579.3 L1108.2 584.4 L1103.7 585.1 L1100.0 588.0 L1095.4 588.6 L1091.1 589.8 L1087.2 591.1 L1084.7 594.3 L1082.8 598.1 L1079.5 601.0 L1078.0 605.1"/>
<path d="M952.0 604.9 L1103.5 604.9"/>
<path d="M996.2 604.9 L998.4 607.5 L990.6 686.7 L992.0 727.1"/>
<path d="M1051.0 604.9 L1059.9 661.1 L1062.2 664.5 L1061.6 668.7 L1064.3 672.0 L1063.7 676.2 L1062.6 697.3 L1063.7 710.5 L1064.9 714.6 L1066.6 718.4 L1122.7 721.9 L1125.8 727.1 L1126.9 717.1 L1138.5 717.9"/>
<path d="M1063.7 710.5 L1008.9 710.5 L1012.2 714.6 L1013.1 719.8 L1011.0 729.0"/>
<path d="M1151.1 683.3 L1148.2 680.8 L1144.8 678.8 L1143.0 675.5 L1143.1 671.5 L1143.0 667.6 L1141.2 664.3 L1138.5 661.3 L1137.4 657.7 L1135.0 654.4 L1132.9 651.0 L1131.0 647.3 L1127.9 644.5 L1125.2 642.1 L1122.3 639.8 L1120.1 636.8 L1118.2 633.6 L1115.3 631.3 L1112.0 627.8 L1110.6 623.2 L1107.9 619.4 L1104.3 617.9 L1101.7 614.9 L1098.4 612.8 L1100.4 608.5 L1103.5 604.9 L1107.6 604.5 L1111.2 602.9 L1114.8 601.2 L1118.5 599.6 L1146.9 600.9 L1146.9 603.5 L1149.4 602.2 L1151.6 605.7 L1152.6 609.6 L1176.0 610.2 L1178.8 612.7 L1181.6 615.4 L1183.5 618.8 L1185.6 622.2 L1188.1 625.0 L1191.1 627.5 L1194.5 629.5 L1196.5 632.9 L1199.6 635.2"/>
<path d="M873.2 657.7 L934.1 657.7"/>
<path d="M1127.5 537.8 L1130.1 540.4 L1133.7 541.1 L1138.2 540.1 L1139.5 545.3 L1143.1 546.0 L1147.2 545.1 L1150.9 543.1 L1155.1 542.5 L1158.1 538.5 L1162.7 538.8 L1163.6 534.1 L1166.7 530.5 L1169.0 526.4 L1171.6 524.0 L1172.4 520.2 L1175.8 518.4 L1177.4 515.2 L1179.6 512.4 L1185.9 512.4 L1189.2 508.7 L1192.8 505.3 L1194.5 502.2 L1195.8 498.9 L1197.9 496.1 L1199.6 493.0 L1201.0 489.8 L1203.8 487.3 L1208.1 489.4 L1210.9 493.3 L1214.7 495.8 L1217.1 490.8 L1219.9 493.3 L1221.7 496.6 L1224.9 499.0 L1228.9 500.2 L1231.6 503.2"/>
<path d="M1217.1 490.8 L1212.8 488.6 L1209.2 485.6 L1206.9 481.3 L1203.2 482.3 L1199.6 483.7 L1196.3 486.0 L1192.2 486.0 L1189.0 486.6 L1185.5 488.4 L1182.6 491.0 L1180.0 493.9 L1180.0 480.2"/>
<path d="M1265.5 478.1 L1260.7 477.3 L1257.7 480.2 L1259.6 513.8 L1273.3 513.8"/>
<path d="M1265.5 478.1 L1269.5 477.2 L1272.3 474.1 L1275.7 470.6 L1279.6 467.5 L1277.0 464.4 L1275.5 460.5 L1272.1 457.9 L1270.2 454.3 L1272.3 447.2 L1275.7 444.3 L1276.1 438.9 L1280.7 436.9 L1277.0 433.7 L1273.3 430.6 L1272.0 426.6 L1269.6 423.2 L1267.0 420.0 L1174.1 420.0 L1174.1 412.9"/>
<path d="M1280.7 436.9 L1283.9 439.0 L1287.4 440.8 L1291.8 440.8 L1294.5 444.0 L1297.6 446.4"/>
<path d="M1302.8 446.4 L1306.4 441.1 L1304.9 438.5 L1306.0 418.7 L1307.6 415.2 L1307.3 411.1 L1309.3 407.7 L1309.5 403.8 L1311.0 400.2 L1311.2 377.7 L1308.1 377.7 L1309.1 361.9 L1309.1 340.5"/>
<path d="M1279.6 340.8 L1348.1 340.5"/>
<path d="M1327.9 400.7 L1329.2 385.7 L1331.0 382.3 L1331.9 378.7 L1332.7 375.1 L1333.9 371.5 L1334.1 367.6 L1336.5 364.5 L1338.6 361.1 L1342.6 359.3 L1345.0 356.1 L1347.1 352.7 L1348.1 340.5"/>
<path d="M1311.0 400.2 L1352.3 401.5 L1356.5 398.3 L1362.4 397.0"/>
<path d="M1364.6 391.7 L1363.0 387.2 L1359.1 384.3 L1357.0 332.8"/>
<path d="M1306.0 418.7 L1341.8 419.5 L1350.6 419.5 L1350.6 422.6 L1351.7 425.8 L1354.4 428.5 L1356.1 433.2"/>
<path d="M1341.8 419.5 L1341.8 438.0"/>
<path d="M270.6 253.2 L272.9 260.3 L271.8 267.4 L269.4 274.4 L267.1 280.3"/>
<path d="M274.1 263.8 L275.3 272.1 L272.9 277.9"/>
<path d="M260.0 245.6 L263.5 242.6 L268.2 242.6 L270.0 246.8 L267.1 250.3 L262.4 249.7 L260.0 245.6"/>
<path d="M262.4 246.2 L267.1 246.8"/>
<path d="M966.8 732.4 L960.7 734.4 L954.7 735.4 L949.6 732.4 L950.6 728.3 L954.7 725.3 L959.7 728.3 L964.8 731.4 L966.8 732.4"/>
<path d="M962.7 734.4 L966.8 737.4 L969.8 735.4 L965.8 733.4"/>
<path d="M1233.3 523.3 L1236.0 526.3 L1240.0 526.7 L1243.9 529.4 L1246.7 533.3"/>
<path d="M1236.7 533.3 L1243.3 535.8 L1246.0 539.0 L1250.0 540.0"/>
<path d="M1230.0 546.7 L1238.3 546.7 L1246.7 548.3 L1250.0 550.8 L1253.3 553.3"/>
<path d="M1238.3 513.3 L1245.0 515.8 L1250.0 518.1 L1248.3 523.3"/>
<path d="M1251.7 518.3 L1254.9 520.1 L1256.7 523.3 L1260.0 526.7 L1257.3 529.9 L1255.0 533.3"/>
<path d="M1236.0 570.0 L1241.2 570.8 L1246.0 573.0 L1252.0 570.0"/>
<path d="M1232.0 590.0 L1242.0 592.0 L1244.8 589.7 L1248.0 588.0"/>
<path d="M1236.0 604.0 L1244.0 602.0"/>
<path d="M1228.0 612.0 L1238.0 610.0"/>
<path d="M855.0 752.0 L856.0 743.0 L860.0 741.0 L859.0 749.0"/>
<path d="M816.0 779.0 L818.1 775.0 L820.0 771.0 L826.0 769.0"/>
<path d="M801.0 797.0 L797.9 800.4 L794.0 803.0 L800.0 806.0 L798.2 809.2 L795.0 811.0"/>
<path d="M1243.8 509.8 L1243.7 513.7 L1245.7 516.9 L1247.0 520.4 L1245.9 530.9"/>
<path d="M1249.1 501.9 L1251.2 515.1 L1253.3 525.6"/>
<path d="M1245.9 538.8 L1248.2 541.9 L1251.2 544.1 L1249.1 552.0"/>
<path style="fill:#000" d="M1364.0 435.5 L1369.0 435.0 L1370.0 437.5 L1365.0 438.0Z"/>
<path style="fill:#000" d="M1375.5 436.5 L1380.0 436.0 L1381.0 439.0 L1376.0 439.5Z"/>
<path style="fill:#000" d="M273.0 521.0 L279.0 520.0 L283.0 524.0 L281.0 529.0 L284.3 531.2 L285.0 535.0 L284.0 540.0 L281.0 539.0 L278.0 533.0 L275.0 527.0Z"/>
<path style="fill:#000" d="M268.8 240.3 L274.1 241.5 L275.9 246.2 L273.5 250.3 L277.6 253.8 L278.2 259.1 L280.6 261.5 L277.6 265.0 L278.2 272.1 L277.6 279.1 L274.1 282.6 L269.4 285.0 L265.3 287.4 L261.2 283.8 L260.0 276.8 L262.9 271.5 L266.5 266.2 L267.1 262.1 L264.1 259.7 L266.5 253.2Z"/>
</g>
<path fill="#fff" d="M272.0 255.0 L273.8 260.3 L272.9 266.8 L271.1 272.6 L269.4 271.8 L271.5 265.0 L272.0 259.7Z"/>
<path fill="#fff" d="M266.8 275.0 L270.4 277.4 L269.4 281.2 L266.7 282.2 L265.1 279.1Z"/>
<path fill="#fff" d="M271.8 243.8 L273.9 244.4 L273.2 248.5 L271.5 247.9Z"/>
<text class="t" x="837" y="57.5">Silver Y moth: Avg date of 3rd gen. pupal development w/ climate</text>
<text class="t" x="837" y="97.2">stress exclusion 2025</text>
<text class="s" x="837" y="148.2">Maps and modeling 10/13/2025 by Oregon State University IPPC USPEST.ORG and</text>
<text class="s" x="837" y="181.5">USDA-APHIS-PPQ; climate data from OSU PRISM Climate Group</text>
<text class="lt" x="1487" y="337">Avg date of</text><text class="lt" x="1487" y="365">3rd gen. pupal</text><text class="lt" x="1487" y="393">development</text>
<rect x="1486.9" y="407.00" width="25.2" height="25.69" fill="#4D4D4D"/>
<text class="ll" x="1522.8" y="427.3" textLength="101.0" lengthAdjust="spacingAndGlyphs">excl.-sev.</text>
<rect x="1486.9" y="432.39" width="25.2" height="25.69" fill="#FFFF00"/>
<text class="ll" x="1522.8" y="452.7" textLength="80.1" lengthAdjust="spacingAndGlyphs">May-04</text>
<rect x="1486.9" y="457.78" width="25.2" height="25.69" fill="#DDD900"/>
<text class="ll" x="1522.8" y="478.1" textLength="80.1" lengthAdjust="spacingAndGlyphs">May-11</text>
<rect x="1486.9" y="483.17" width="25.2" height="25.69" fill="#BAAE05"/>
<text class="ll" x="1522.8" y="503.5" textLength="80.1" lengthAdjust="spacingAndGlyphs">May-18</text>
<rect x="1486.9" y="508.56" width="25.2" height="25.69" fill="#99850A"/>
<text class="ll" x="1522.8" y="528.9" textLength="80.1" lengthAdjust="spacingAndGlyphs">May-25</text>
<rect x="1486.9" y="533.95" width="25.2" height="25.69" fill="#FFD999"/>
<text class="ll" x="1522.8" y="554.2" textLength="69.5" lengthAdjust="spacingAndGlyphs">Jun-01</text>
<rect x="1486.9" y="559.34" width="25.2" height="25.69" fill="#FFC070"/>
<text class="ll" x="1522.8" y="579.6" textLength="69.5" lengthAdjust="spacingAndGlyphs">Jun-08</text>
<rect x="1486.9" y="584.73" width="25.2" height="25.69" fill="#FFAA52"/>
<text class="ll" x="1522.8" y="605.0" textLength="69.5" lengthAdjust="spacingAndGlyphs">Jun-15</text>
<rect x="1486.9" y="610.12" width="25.2" height="25.69" fill="#FF9736"/>
<text class="ll" x="1522.8" y="630.4" textLength="69.5" lengthAdjust="spacingAndGlyphs">Jun-22</text>
<rect x="1486.9" y="635.51" width="25.2" height="25.69" fill="#FF8419"/>
<text class="ll" x="1522.8" y="655.8" textLength="69.5" lengthAdjust="spacingAndGlyphs">Jun-29</text>
<rect x="1486.9" y="660.90" width="25.2" height="25.69" fill="#F5CCCC"/>
<text class="ll" x="1522.8" y="681.2" textLength="61.7" lengthAdjust="spacingAndGlyphs">Jul-06</text>
<rect x="1486.9" y="686.29" width="25.2" height="25.69" fill="#F59999"/>
<text class="ll" x="1522.8" y="706.6" textLength="61.7" lengthAdjust="spacingAndGlyphs">Jul-13</text>
<rect x="1486.9" y="711.68" width="25.2" height="25.69" fill="#F66666"/>
<text class="ll" x="1522.8" y="732.0" textLength="61.7" lengthAdjust="spacingAndGlyphs">Jul-20</text>
<rect x="1486.9" y="737.07" width="25.2" height="25.69" fill="#FA3535"/>
<text class="ll" x="1522.8" y="757.4" textLength="61.7" lengthAdjust="spacingAndGlyphs">Jul-27</text>
<rect x="1486.9" y="762.46" width="25.2" height="25.69" fill="#E8B9B0"/>
<text class="ll" x="1522.8" y="782.8" textLength="77.9" lengthAdjust="spacingAndGlyphs">Aug-03</text>
<rect x="1635.1" y="407.00" width="25.2" height="25.69" fill="#CC9488"/>
<text class="ll" x="1671.0" y="427.3" textLength="77.9" lengthAdjust="spacingAndGlyphs">Aug-10</text>
<rect x="1635.1" y="432.39" width="25.2" height="25.69" fill="#B46A5B"/>
<text class="ll" x="1671.0" y="452.7" textLength="77.9" lengthAdjust="spacingAndGlyphs">Aug-17</text>
<rect x="1635.1" y="457.78" width="25.2" height="25.69" fill="#9B4331"/>
<text class="ll" x="1671.0" y="478.1" textLength="77.9" lengthAdjust="spacingAndGlyphs">Aug-24</text>
<rect x="1635.1" y="483.17" width="25.2" height="25.69" fill="#86200E"/>
<text class="ll" x="1671.0" y="503.5" textLength="77.9" lengthAdjust="spacingAndGlyphs">Aug-31</text>
<rect x="1635.1" y="508.56" width="25.2" height="25.69" fill="#FFB3DD"/>
<text class="ll" x="1671.0" y="528.9" textLength="76.5" lengthAdjust="spacingAndGlyphs">Sep-07</text>
<rect x="1635.1" y="533.95" width="25.2" height="25.69" fill="#FF85E2"/>
<text class="ll" x="1671.0" y="554.2" textLength="76.5" lengthAdjust="spacingAndGlyphs">Sep-14</text>
<rect x="1635.1" y="559.34" width="25.2" height="25.69" fill="#FF59EC"/>
<text class="ll" x="1671.0" y="579.6" textLength="76.5" lengthAdjust="spacingAndGlyphs">Sep-21</text>
<rect x="1635.1" y="584.73" width="25.2" height="25.69" fill="#FF2CF5"/>
<text class="ll" x="1671.0" y="605.0" textLength="76.5" lengthAdjust="spacingAndGlyphs">Sep-28</text>
<rect x="1635.1" y="610.12" width="25.2" height="25.69" fill="#E1BEE7"/>
<text class="ll" x="1671.0" y="630.4" textLength="73.1" lengthAdjust="spacingAndGlyphs">Oct-05</text>
<rect x="1635.1" y="635.51" width="25.2" height="25.69" fill="#CC98DB"/>
<text class="ll" x="1671.0" y="655.8" textLength="73.1" lengthAdjust="spacingAndGlyphs">Oct-12</text>
<rect x="1635.1" y="660.90" width="25.2" height="25.69" fill="#B870CB"/>
<text class="ll" x="1671.0" y="681.2" textLength="73.1" lengthAdjust="spacingAndGlyphs">Oct-19</text>
<rect x="1635.1" y="686.29" width="25.2" height="25.69" fill="#A24ABE"/>
<text class="ll" x="1671.0" y="706.6" textLength="73.1" lengthAdjust="spacingAndGlyphs">Oct-26</text>
<rect x="1635.1" y="711.68" width="25.2" height="25.69" fill="#B3ECFF"/>
<text class="ll" x="1671.0" y="732.0" textLength="77.3" lengthAdjust="spacingAndGlyphs">Nov-02</text>
<rect x="1635.1" y="737.07" width="25.2" height="25.69" fill="#87D5F0"/>
<text class="ll" x="1671.0" y="757.4" textLength="77.3" lengthAdjust="spacingAndGlyphs">Nov-09</text>
<rect x="1635.1" y="762.46" width="25.2" height="25.69" fill="#57BDE6"/>
<text class="ll" x="1671.0" y="782.8" textLength="77.3" lengthAdjust="spacingAndGlyphs">Nov-16</text>
<rect x="1759.3" y="407.00" width="25.2" height="25.69" fill="#2CA6DD"/>
<text class="ll" x="1795.6" y="427.3" textLength="77.3" lengthAdjust="spacingAndGlyphs">Nov-23</text>
<rect x="1759.3" y="432.39" width="25.2" height="25.69" fill="#0091D4"/>
<text class="ll" x="1795.6" y="452.7" textLength="77.3" lengthAdjust="spacingAndGlyphs">Nov-30</text>
<rect x="1759.3" y="457.78" width="25.2" height="25.69" fill="#A3C6E8"/>
<text class="ll" x="1795.6" y="478.1" textLength="77.6" lengthAdjust="spacingAndGlyphs">Dec-07</text>
<rect x="1759.3" y="483.17" width="25.2" height="25.69" fill="#7A93EB"/>
<text class="ll" x="1795.6" y="503.5" textLength="77.6" lengthAdjust="spacingAndGlyphs">Dec-14</text>
<rect x="1759.3" y="508.56" width="25.2" height="25.69" fill="#5162F0"/>
<text class="ll" x="1795.6" y="528.9" textLength="77.6" lengthAdjust="spacingAndGlyphs">Dec-21</text>
<rect x="1759.3" y="533.95" width="25.2" height="25.69" fill="#2830F5"/>
<text class="ll" x="1795.6" y="554.2" textLength="77.6" lengthAdjust="spacingAndGlyphs">Dec-30</text>
</svg></body></html>
